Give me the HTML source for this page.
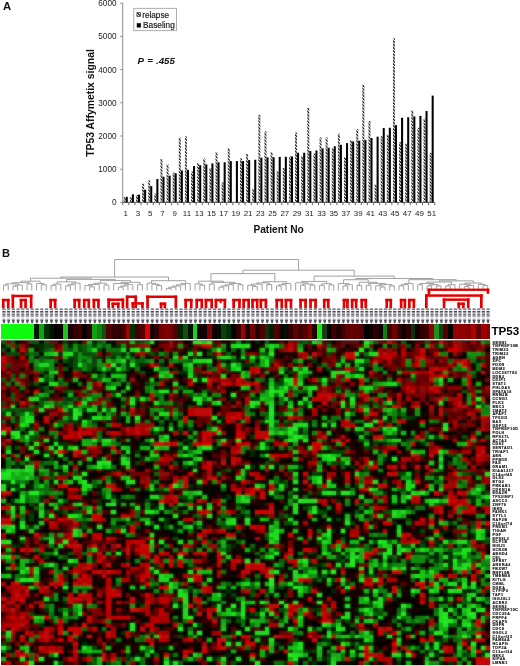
<!DOCTYPE html>
<html><head><meta charset="utf-8"><style>
html,body{margin:0;padding:0;background:#fff;}
body{width:520px;height:666px;overflow:hidden;}
svg{display:block;font-family:"Liberation Sans",sans-serif;}
svg text{filter:grayscale(1);}
</style></head><body>
<svg width="520" height="666" viewBox="0 0 520 666">
<rect width="520" height="666" fill="#fff"/>
<defs><pattern id="hat" patternUnits="userSpaceOnUse" width="2.3" height="2.3" patternTransform="rotate(-45)"><rect width="2.3" height="2.3" fill="#fff"/><rect width="1.25" height="2.3" fill="#111"/></pattern></defs><line x1="122.7" y1="3" x2="122.7" y2="202.4" stroke="#8a8a8a" stroke-width="1"/><line x1="122.7" y1="202.4" x2="434.7" y2="202.4" stroke="#555" stroke-width="1"/><line x1="120.2" y1="202.40" x2="122.7" y2="202.40" stroke="#8a8a8a" stroke-width="1"/><text x="116.5" y="205.30" font-size="8.2" text-anchor="end" fill="#222">0</text><line x1="120.2" y1="169.20" x2="122.7" y2="169.20" stroke="#8a8a8a" stroke-width="1"/><text x="116.5" y="172.10" font-size="8.2" text-anchor="end" fill="#222">1000</text><line x1="120.2" y1="136.00" x2="122.7" y2="136.00" stroke="#8a8a8a" stroke-width="1"/><text x="116.5" y="138.90" font-size="8.2" text-anchor="end" fill="#222">2000</text><line x1="120.2" y1="102.80" x2="122.7" y2="102.80" stroke="#8a8a8a" stroke-width="1"/><text x="116.5" y="105.70" font-size="8.2" text-anchor="end" fill="#222">3000</text><line x1="120.2" y1="69.60" x2="122.7" y2="69.60" stroke="#8a8a8a" stroke-width="1"/><text x="116.5" y="72.50" font-size="8.2" text-anchor="end" fill="#222">4000</text><line x1="120.2" y1="36.40" x2="122.7" y2="36.40" stroke="#8a8a8a" stroke-width="1"/><text x="116.5" y="39.30" font-size="8.2" text-anchor="end" fill="#222">5000</text><line x1="120.2" y1="3.20" x2="122.7" y2="3.20" stroke="#8a8a8a" stroke-width="1"/><text x="116.5" y="6.10" font-size="8.2" text-anchor="end" fill="#222">6000</text><line x1="122.70" y1="202.4" x2="122.70" y2="205.20000000000002" stroke="#666" stroke-width="1"/><line x1="128.82" y1="202.4" x2="128.82" y2="205.20000000000002" stroke="#666" stroke-width="1"/><line x1="134.94" y1="202.4" x2="134.94" y2="205.20000000000002" stroke="#666" stroke-width="1"/><line x1="141.05" y1="202.4" x2="141.05" y2="205.20000000000002" stroke="#666" stroke-width="1"/><line x1="147.17" y1="202.4" x2="147.17" y2="205.20000000000002" stroke="#666" stroke-width="1"/><line x1="153.29" y1="202.4" x2="153.29" y2="205.20000000000002" stroke="#666" stroke-width="1"/><line x1="159.41" y1="202.4" x2="159.41" y2="205.20000000000002" stroke="#666" stroke-width="1"/><line x1="165.53" y1="202.4" x2="165.53" y2="205.20000000000002" stroke="#666" stroke-width="1"/><line x1="171.64" y1="202.4" x2="171.64" y2="205.20000000000002" stroke="#666" stroke-width="1"/><line x1="177.76" y1="202.4" x2="177.76" y2="205.20000000000002" stroke="#666" stroke-width="1"/><line x1="183.88" y1="202.4" x2="183.88" y2="205.20000000000002" stroke="#666" stroke-width="1"/><line x1="190.00" y1="202.4" x2="190.00" y2="205.20000000000002" stroke="#666" stroke-width="1"/><line x1="196.12" y1="202.4" x2="196.12" y2="205.20000000000002" stroke="#666" stroke-width="1"/><line x1="202.23" y1="202.4" x2="202.23" y2="205.20000000000002" stroke="#666" stroke-width="1"/><line x1="208.35" y1="202.4" x2="208.35" y2="205.20000000000002" stroke="#666" stroke-width="1"/><line x1="214.47" y1="202.4" x2="214.47" y2="205.20000000000002" stroke="#666" stroke-width="1"/><line x1="220.59" y1="202.4" x2="220.59" y2="205.20000000000002" stroke="#666" stroke-width="1"/><line x1="226.71" y1="202.4" x2="226.71" y2="205.20000000000002" stroke="#666" stroke-width="1"/><line x1="232.82" y1="202.4" x2="232.82" y2="205.20000000000002" stroke="#666" stroke-width="1"/><line x1="238.94" y1="202.4" x2="238.94" y2="205.20000000000002" stroke="#666" stroke-width="1"/><line x1="245.06" y1="202.4" x2="245.06" y2="205.20000000000002" stroke="#666" stroke-width="1"/><line x1="251.18" y1="202.4" x2="251.18" y2="205.20000000000002" stroke="#666" stroke-width="1"/><line x1="257.30" y1="202.4" x2="257.30" y2="205.20000000000002" stroke="#666" stroke-width="1"/><line x1="263.41" y1="202.4" x2="263.41" y2="205.20000000000002" stroke="#666" stroke-width="1"/><line x1="269.53" y1="202.4" x2="269.53" y2="205.20000000000002" stroke="#666" stroke-width="1"/><line x1="275.65" y1="202.4" x2="275.65" y2="205.20000000000002" stroke="#666" stroke-width="1"/><line x1="281.77" y1="202.4" x2="281.77" y2="205.20000000000002" stroke="#666" stroke-width="1"/><line x1="287.89" y1="202.4" x2="287.89" y2="205.20000000000002" stroke="#666" stroke-width="1"/><line x1="294.00" y1="202.4" x2="294.00" y2="205.20000000000002" stroke="#666" stroke-width="1"/><line x1="300.12" y1="202.4" x2="300.12" y2="205.20000000000002" stroke="#666" stroke-width="1"/><line x1="306.24" y1="202.4" x2="306.24" y2="205.20000000000002" stroke="#666" stroke-width="1"/><line x1="312.36" y1="202.4" x2="312.36" y2="205.20000000000002" stroke="#666" stroke-width="1"/><line x1="318.48" y1="202.4" x2="318.48" y2="205.20000000000002" stroke="#666" stroke-width="1"/><line x1="324.59" y1="202.4" x2="324.59" y2="205.20000000000002" stroke="#666" stroke-width="1"/><line x1="330.71" y1="202.4" x2="330.71" y2="205.20000000000002" stroke="#666" stroke-width="1"/><line x1="336.83" y1="202.4" x2="336.83" y2="205.20000000000002" stroke="#666" stroke-width="1"/><line x1="342.95" y1="202.4" x2="342.95" y2="205.20000000000002" stroke="#666" stroke-width="1"/><line x1="349.07" y1="202.4" x2="349.07" y2="205.20000000000002" stroke="#666" stroke-width="1"/><line x1="355.18" y1="202.4" x2="355.18" y2="205.20000000000002" stroke="#666" stroke-width="1"/><line x1="361.30" y1="202.4" x2="361.30" y2="205.20000000000002" stroke="#666" stroke-width="1"/><line x1="367.42" y1="202.4" x2="367.42" y2="205.20000000000002" stroke="#666" stroke-width="1"/><line x1="373.54" y1="202.4" x2="373.54" y2="205.20000000000002" stroke="#666" stroke-width="1"/><line x1="379.66" y1="202.4" x2="379.66" y2="205.20000000000002" stroke="#666" stroke-width="1"/><line x1="385.77" y1="202.4" x2="385.77" y2="205.20000000000002" stroke="#666" stroke-width="1"/><line x1="391.89" y1="202.4" x2="391.89" y2="205.20000000000002" stroke="#666" stroke-width="1"/><line x1="398.01" y1="202.4" x2="398.01" y2="205.20000000000002" stroke="#666" stroke-width="1"/><line x1="404.13" y1="202.4" x2="404.13" y2="205.20000000000002" stroke="#666" stroke-width="1"/><line x1="410.25" y1="202.4" x2="410.25" y2="205.20000000000002" stroke="#666" stroke-width="1"/><line x1="416.36" y1="202.4" x2="416.36" y2="205.20000000000002" stroke="#666" stroke-width="1"/><line x1="422.48" y1="202.4" x2="422.48" y2="205.20000000000002" stroke="#666" stroke-width="1"/><line x1="428.60" y1="202.4" x2="428.60" y2="205.20000000000002" stroke="#666" stroke-width="1"/><line x1="434.72" y1="202.4" x2="434.72" y2="205.20000000000002" stroke="#666" stroke-width="1"/><rect x="123.75" y="196.97" width="2.0" height="5.43" fill="url(#hat)"/><rect x="125.75" y="196.81" width="2.05" height="5.59" fill="#000"/><text x="125.76" y="216.4" font-size="7.9" text-anchor="middle" fill="#222">1</text><rect x="129.87" y="197.30" width="2.0" height="5.10" fill="url(#hat)"/><rect x="131.87" y="194.37" width="2.05" height="8.03" fill="#000"/><rect x="135.99" y="195.03" width="2.0" height="7.37" fill="url(#hat)"/><rect x="137.99" y="194.64" width="2.05" height="7.76" fill="#000"/><text x="138.00" y="216.4" font-size="7.9" text-anchor="middle" fill="#222">3</text><rect x="142.10" y="183.68" width="2.0" height="18.72" fill="url(#hat)"/><rect x="144.10" y="189.70" width="2.05" height="12.70" fill="#000"/><rect x="148.22" y="180.36" width="2.0" height="22.04" fill="url(#hat)"/><rect x="150.22" y="186.08" width="2.05" height="16.32" fill="#000"/><text x="150.23" y="216.4" font-size="7.9" text-anchor="middle" fill="#222">5</text><rect x="154.34" y="193.71" width="2.0" height="8.69" fill="url(#hat)"/><rect x="156.34" y="179.01" width="2.05" height="23.39" fill="#000"/><rect x="160.46" y="158.94" width="2.0" height="43.46" fill="url(#hat)"/><rect x="162.46" y="176.74" width="2.05" height="25.66" fill="#000"/><text x="162.47" y="216.4" font-size="7.9" text-anchor="middle" fill="#222">7</text><rect x="166.58" y="164.30" width="2.0" height="38.10" fill="url(#hat)"/><rect x="168.58" y="175.65" width="2.05" height="26.75" fill="#000"/><rect x="172.69" y="172.72" width="2.0" height="29.68" fill="url(#hat)"/><rect x="174.69" y="173.25" width="2.05" height="29.15" fill="#000"/><text x="174.70" y="216.4" font-size="7.9" text-anchor="middle" fill="#222">9</text><rect x="178.81" y="137.49" width="2.0" height="64.91" fill="url(#hat)"/><rect x="180.81" y="170.42" width="2.05" height="31.98" fill="#000"/><rect x="184.93" y="136.44" width="2.0" height="65.96" fill="url(#hat)"/><rect x="186.93" y="169.83" width="2.05" height="32.57" fill="#000"/><text x="186.94" y="216.4" font-size="7.9" text-anchor="middle" fill="#222">11</text><rect x="191.05" y="171.64" width="2.0" height="30.76" fill="url(#hat)"/><rect x="193.05" y="166.05" width="2.05" height="36.35" fill="#000"/><rect x="197.17" y="163.05" width="2.0" height="39.35" fill="url(#hat)"/><rect x="199.17" y="165.22" width="2.05" height="37.18" fill="#000"/><text x="199.17" y="216.4" font-size="7.9" text-anchor="middle" fill="#222">13</text><rect x="203.28" y="158.41" width="2.0" height="43.99" fill="url(#hat)"/><rect x="205.28" y="164.37" width="2.05" height="38.03" fill="#000"/><rect x="209.40" y="168.02" width="2.0" height="34.38" fill="url(#hat)"/><rect x="211.40" y="163.38" width="2.05" height="39.02" fill="#000"/><text x="211.41" y="216.4" font-size="7.9" text-anchor="middle" fill="#222">15</text><rect x="215.52" y="152.29" width="2.0" height="50.11" fill="url(#hat)"/><rect x="217.52" y="162.23" width="2.05" height="40.17" fill="#000"/><rect x="221.64" y="182.40" width="2.0" height="20.00" fill="url(#hat)"/><rect x="223.64" y="162.23" width="2.05" height="40.17" fill="#000"/><text x="223.65" y="216.4" font-size="7.9" text-anchor="middle" fill="#222">17</text><rect x="227.76" y="148.18" width="2.0" height="54.22" fill="url(#hat)"/><rect x="229.76" y="161.08" width="2.05" height="41.32" fill="#000"/><rect x="235.87" y="161.08" width="2.05" height="41.32" fill="#000"/><text x="235.88" y="216.4" font-size="7.9" text-anchor="middle" fill="#222">19</text><rect x="239.99" y="158.41" width="2.0" height="43.99" fill="url(#hat)"/><rect x="241.99" y="161.08" width="2.05" height="41.32" fill="#000"/><rect x="246.11" y="153.97" width="2.0" height="48.43" fill="url(#hat)"/><rect x="248.11" y="160.09" width="2.05" height="42.31" fill="#000"/><text x="248.12" y="216.4" font-size="7.9" text-anchor="middle" fill="#222">21</text><rect x="252.23" y="189.17" width="2.0" height="13.23" fill="url(#hat)"/><rect x="254.23" y="159.76" width="2.05" height="42.64" fill="#000"/><rect x="258.35" y="114.79" width="2.0" height="87.61" fill="url(#hat)"/><rect x="260.35" y="157.75" width="2.05" height="44.65" fill="#000"/><text x="260.36" y="216.4" font-size="7.9" text-anchor="middle" fill="#222">23</text><rect x="264.46" y="131.34" width="2.0" height="71.06" fill="url(#hat)"/><rect x="266.46" y="157.26" width="2.05" height="45.14" fill="#000"/><rect x="270.58" y="152.29" width="2.0" height="50.11" fill="url(#hat)"/><rect x="272.58" y="157.26" width="2.05" height="45.14" fill="#000"/><text x="272.59" y="216.4" font-size="7.9" text-anchor="middle" fill="#222">25</text><rect x="276.70" y="171.31" width="2.0" height="31.09" fill="url(#hat)"/><rect x="278.70" y="156.93" width="2.05" height="45.47" fill="#000"/><rect x="282.82" y="168.02" width="2.0" height="34.38" fill="url(#hat)"/><rect x="284.82" y="156.77" width="2.05" height="45.63" fill="#000"/><text x="284.83" y="216.4" font-size="7.9" text-anchor="middle" fill="#222">27</text><rect x="288.94" y="156.44" width="2.0" height="45.96" fill="url(#hat)"/><rect x="290.94" y="156.44" width="2.05" height="45.96" fill="#000"/><rect x="295.05" y="132.45" width="2.0" height="69.95" fill="url(#hat)"/><rect x="297.05" y="152.79" width="2.05" height="49.61" fill="#000"/><text x="297.06" y="216.4" font-size="7.9" text-anchor="middle" fill="#222">29</text><rect x="301.17" y="156.01" width="2.0" height="46.39" fill="url(#hat)"/><rect x="303.17" y="152.72" width="2.05" height="49.68" fill="#000"/><rect x="307.29" y="107.98" width="2.0" height="94.42" fill="url(#hat)"/><rect x="309.29" y="151.08" width="2.05" height="51.32" fill="#000"/><text x="309.30" y="216.4" font-size="7.9" text-anchor="middle" fill="#222">31</text><rect x="313.41" y="153.64" width="2.0" height="48.76" fill="url(#hat)"/><rect x="315.41" y="150.48" width="2.05" height="51.92" fill="#000"/><rect x="319.53" y="137.46" width="2.0" height="64.94" fill="url(#hat)"/><rect x="321.53" y="148.38" width="2.05" height="54.02" fill="#000"/><text x="321.54" y="216.4" font-size="7.9" text-anchor="middle" fill="#222">33</text><rect x="325.64" y="137.46" width="2.0" height="64.94" fill="url(#hat)"/><rect x="327.64" y="147.75" width="2.05" height="54.65" fill="#000"/><rect x="331.76" y="148.38" width="2.0" height="54.02" fill="url(#hat)"/><rect x="333.76" y="146.27" width="2.05" height="56.13" fill="#000"/><text x="333.77" y="216.4" font-size="7.9" text-anchor="middle" fill="#222">35</text><rect x="337.88" y="133.67" width="2.0" height="68.73" fill="url(#hat)"/><rect x="339.88" y="144.79" width="2.05" height="57.61" fill="#000"/><rect x="344.00" y="157.43" width="2.0" height="44.97" fill="url(#hat)"/><rect x="346.00" y="143.11" width="2.05" height="59.29" fill="#000"/><text x="346.01" y="216.4" font-size="7.9" text-anchor="middle" fill="#222">37</text><rect x="350.12" y="139.96" width="2.0" height="62.44" fill="url(#hat)"/><rect x="352.12" y="141.44" width="2.05" height="60.96" fill="#000"/><rect x="356.23" y="129.03" width="2.0" height="73.37" fill="url(#hat)"/><rect x="358.23" y="140.68" width="2.05" height="61.72" fill="#000"/><text x="358.24" y="216.4" font-size="7.9" text-anchor="middle" fill="#222">39</text><rect x="362.35" y="84.95" width="2.0" height="117.45" fill="url(#hat)"/><rect x="364.35" y="140.05" width="2.05" height="62.35" fill="#000"/><rect x="368.47" y="121.04" width="2.0" height="81.36" fill="url(#hat)"/><rect x="370.47" y="138.05" width="2.05" height="64.35" fill="#000"/><text x="370.48" y="216.4" font-size="7.9" text-anchor="middle" fill="#222">41</text><rect x="374.59" y="184.57" width="2.0" height="17.83" fill="url(#hat)"/><rect x="376.59" y="136.70" width="2.05" height="65.70" fill="#000"/><rect x="380.71" y="136.17" width="2.0" height="66.23" fill="url(#hat)"/><rect x="382.71" y="128.05" width="2.05" height="74.35" fill="#000"/><text x="382.72" y="216.4" font-size="7.9" text-anchor="middle" fill="#222">43</text><rect x="386.82" y="134.82" width="2.0" height="67.58" fill="url(#hat)"/><rect x="388.82" y="127.78" width="2.05" height="74.62" fill="#000"/><rect x="392.94" y="38.39" width="2.0" height="164.01" fill="url(#hat)"/><rect x="394.94" y="125.09" width="2.05" height="77.31" fill="#000"/><text x="394.95" y="216.4" font-size="7.9" text-anchor="middle" fill="#222">45</text><rect x="399.06" y="142.13" width="2.0" height="60.27" fill="url(#hat)"/><rect x="401.06" y="117.78" width="2.05" height="84.62" fill="#000"/><rect x="405.18" y="143.48" width="2.0" height="58.92" fill="url(#hat)"/><rect x="407.18" y="117.25" width="2.05" height="85.15" fill="#000"/><text x="407.19" y="216.4" font-size="7.9" text-anchor="middle" fill="#222">47</text><rect x="411.30" y="110.48" width="2.0" height="91.92" fill="url(#hat)"/><rect x="413.30" y="116.43" width="2.05" height="85.97" fill="#000"/><rect x="417.41" y="127.78" width="2.0" height="74.62" fill="url(#hat)"/><rect x="419.41" y="115.91" width="2.05" height="86.49" fill="#000"/><text x="419.42" y="216.4" font-size="7.9" text-anchor="middle" fill="#222">49</text><rect x="423.53" y="118.60" width="2.0" height="83.80" fill="url(#hat)"/><rect x="425.53" y="111.04" width="2.05" height="91.36" fill="#000"/><rect x="429.65" y="152.92" width="2.0" height="49.48" fill="url(#hat)"/><rect x="431.65" y="95.61" width="2.05" height="106.79" fill="#000"/><text x="431.66" y="216.4" font-size="7.9" text-anchor="middle" fill="#222">51</text><rect x="133.8" y="8.3" width="42.6" height="22.4" fill="#fff" stroke="#999" stroke-width="0.8"/><rect x="136.9" y="12.7" width="3.7" height="3.7" fill="url(#hat)" stroke="#222" stroke-width="0.6"/><rect x="136.8" y="23.2" width="4.1" height="4.3" fill="#000"/><text x="142.2" y="17.8" font-size="8.2" fill="#111" stroke="#111" stroke-width="0.15">relapse</text><text x="143.0" y="28.4" font-size="8.3" fill="#111" stroke="#111" stroke-width="0.15">Baseling</text><text x="137.4" y="63.6" font-size="9.7" font-weight="bold" font-style="italic" fill="#111">P</text><text x="147.2" y="63.6" font-size="9.7" font-weight="bold" font-style="italic" fill="#111">=</text><text x="156.0" y="63.6" font-size="9.7" font-weight="bold" font-style="italic" fill="#111">.455</text><text x="278.6" y="232.6" font-size="10.2" font-weight="bold" text-anchor="middle" fill="#111">Patient No</text><text transform="translate(94.4,103) rotate(-90)" x="0" y="0" font-size="10.4" font-weight="bold" text-anchor="middle" fill="#111">TP53 Affymetix signal</text><text x="2.9" y="10.2" font-size="11.3" font-weight="bold" fill="#111">A</text><text x="2.0" y="256.6" font-size="11" font-weight="bold" fill="#111">B</text><line x1="3.55" y1="285.07" x2="8.25" y2="285.07" stroke="#8a8a8a" stroke-width="0.8"/><line x1="3.55" y1="285.07" x2="3.55" y2="290.50" stroke="#8a8a8a" stroke-width="0.8"/><line x1="8.25" y1="285.07" x2="8.25" y2="290.50" stroke="#8a8a8a" stroke-width="0.8"/><line x1="12.95" y1="286.27" x2="17.65" y2="286.27" stroke="#8a8a8a" stroke-width="0.8"/><line x1="12.95" y1="286.27" x2="12.95" y2="290.50" stroke="#8a8a8a" stroke-width="0.8"/><line x1="17.65" y1="286.27" x2="17.65" y2="290.50" stroke="#8a8a8a" stroke-width="0.8"/><line x1="15.30" y1="285.07" x2="22.35" y2="285.07" stroke="#8a8a8a" stroke-width="0.8"/><line x1="15.30" y1="285.07" x2="15.30" y2="286.27" stroke="#8a8a8a" stroke-width="0.8"/><line x1="22.35" y1="285.07" x2="22.35" y2="290.50" stroke="#8a8a8a" stroke-width="0.8"/><line x1="5.90" y1="283.87" x2="18.82" y2="283.87" stroke="#8a8a8a" stroke-width="0.8"/><line x1="5.90" y1="283.87" x2="5.90" y2="285.07" stroke="#8a8a8a" stroke-width="0.8"/><line x1="18.82" y1="283.87" x2="18.82" y2="285.07" stroke="#8a8a8a" stroke-width="0.8"/><line x1="27.05" y1="283.87" x2="31.75" y2="283.87" stroke="#8a8a8a" stroke-width="0.8"/><line x1="27.05" y1="283.87" x2="27.05" y2="290.50" stroke="#8a8a8a" stroke-width="0.8"/><line x1="31.75" y1="283.87" x2="31.75" y2="290.50" stroke="#8a8a8a" stroke-width="0.8"/><line x1="12.36" y1="282.67" x2="29.40" y2="282.67" stroke="#8a8a8a" stroke-width="0.8"/><line x1="12.36" y1="282.67" x2="12.36" y2="283.87" stroke="#8a8a8a" stroke-width="0.8"/><line x1="29.40" y1="282.67" x2="29.40" y2="283.87" stroke="#8a8a8a" stroke-width="0.8"/><line x1="41.39" y1="284.75" x2="46.24" y2="284.75" stroke="#8a8a8a" stroke-width="0.8"/><line x1="41.39" y1="284.75" x2="41.39" y2="290.50" stroke="#8a8a8a" stroke-width="0.8"/><line x1="46.24" y1="284.75" x2="46.24" y2="290.50" stroke="#8a8a8a" stroke-width="0.8"/><line x1="36.53" y1="283.55" x2="43.81" y2="283.55" stroke="#8a8a8a" stroke-width="0.8"/><line x1="36.53" y1="283.55" x2="36.53" y2="290.50" stroke="#8a8a8a" stroke-width="0.8"/><line x1="43.81" y1="283.55" x2="43.81" y2="284.75" stroke="#8a8a8a" stroke-width="0.8"/><line x1="20.88" y1="281.18" x2="40.17" y2="281.18" stroke="#8a8a8a" stroke-width="0.8"/><line x1="20.88" y1="281.18" x2="20.88" y2="282.67" stroke="#8a8a8a" stroke-width="0.8"/><line x1="40.17" y1="281.18" x2="40.17" y2="283.55" stroke="#8a8a8a" stroke-width="0.8"/><line x1="51.10" y1="285.33" x2="55.96" y2="285.33" stroke="#8a8a8a" stroke-width="0.8"/><line x1="51.10" y1="285.33" x2="51.10" y2="290.50" stroke="#8a8a8a" stroke-width="0.8"/><line x1="55.96" y1="285.33" x2="55.96" y2="290.50" stroke="#8a8a8a" stroke-width="0.8"/><line x1="53.53" y1="284.13" x2="60.81" y2="284.13" stroke="#8a8a8a" stroke-width="0.8"/><line x1="53.53" y1="284.13" x2="53.53" y2="285.33" stroke="#8a8a8a" stroke-width="0.8"/><line x1="60.81" y1="284.13" x2="60.81" y2="290.50" stroke="#8a8a8a" stroke-width="0.8"/><line x1="65.67" y1="285.85" x2="70.50" y2="285.85" stroke="#8a8a8a" stroke-width="0.8"/><line x1="65.67" y1="285.85" x2="65.67" y2="290.50" stroke="#8a8a8a" stroke-width="0.8"/><line x1="70.50" y1="285.85" x2="70.50" y2="290.50" stroke="#8a8a8a" stroke-width="0.8"/><line x1="68.08" y1="284.65" x2="75.29" y2="284.65" stroke="#8a8a8a" stroke-width="0.8"/><line x1="68.08" y1="284.65" x2="68.08" y2="285.85" stroke="#8a8a8a" stroke-width="0.8"/><line x1="75.29" y1="284.65" x2="75.29" y2="290.50" stroke="#8a8a8a" stroke-width="0.8"/><line x1="71.68" y1="283.16" x2="80.08" y2="283.16" stroke="#8a8a8a" stroke-width="0.8"/><line x1="71.68" y1="283.16" x2="71.68" y2="284.65" stroke="#8a8a8a" stroke-width="0.8"/><line x1="80.08" y1="283.16" x2="80.08" y2="290.50" stroke="#8a8a8a" stroke-width="0.8"/><line x1="57.17" y1="281.87" x2="75.88" y2="281.87" stroke="#8a8a8a" stroke-width="0.8"/><line x1="57.17" y1="281.87" x2="57.17" y2="284.13" stroke="#8a8a8a" stroke-width="0.8"/><line x1="75.88" y1="281.87" x2="75.88" y2="283.16" stroke="#8a8a8a" stroke-width="0.8"/><line x1="89.66" y1="286.82" x2="94.45" y2="286.82" stroke="#8a8a8a" stroke-width="0.8"/><line x1="89.66" y1="286.82" x2="89.66" y2="290.50" stroke="#8a8a8a" stroke-width="0.8"/><line x1="94.45" y1="286.82" x2="94.45" y2="290.50" stroke="#8a8a8a" stroke-width="0.8"/><line x1="84.87" y1="285.62" x2="92.05" y2="285.62" stroke="#8a8a8a" stroke-width="0.8"/><line x1="84.87" y1="285.62" x2="84.87" y2="290.50" stroke="#8a8a8a" stroke-width="0.8"/><line x1="92.05" y1="285.62" x2="92.05" y2="286.82" stroke="#8a8a8a" stroke-width="0.8"/><line x1="88.46" y1="284.42" x2="99.24" y2="284.42" stroke="#8a8a8a" stroke-width="0.8"/><line x1="88.46" y1="284.42" x2="88.46" y2="285.62" stroke="#8a8a8a" stroke-width="0.8"/><line x1="99.24" y1="284.42" x2="99.24" y2="290.50" stroke="#8a8a8a" stroke-width="0.8"/><line x1="104.03" y1="285.09" x2="108.82" y2="285.09" stroke="#8a8a8a" stroke-width="0.8"/><line x1="104.03" y1="285.09" x2="104.03" y2="290.50" stroke="#8a8a8a" stroke-width="0.8"/><line x1="108.82" y1="285.09" x2="108.82" y2="290.50" stroke="#8a8a8a" stroke-width="0.8"/><line x1="93.85" y1="283.22" x2="106.42" y2="283.22" stroke="#8a8a8a" stroke-width="0.8"/><line x1="93.85" y1="283.22" x2="93.85" y2="284.42" stroke="#8a8a8a" stroke-width="0.8"/><line x1="106.42" y1="283.22" x2="106.42" y2="285.09" stroke="#8a8a8a" stroke-width="0.8"/><line x1="118.40" y1="287.13" x2="123.19" y2="287.13" stroke="#8a8a8a" stroke-width="0.8"/><line x1="118.40" y1="287.13" x2="118.40" y2="290.50" stroke="#8a8a8a" stroke-width="0.8"/><line x1="123.19" y1="287.13" x2="123.19" y2="290.50" stroke="#8a8a8a" stroke-width="0.8"/><line x1="120.80" y1="285.93" x2="127.98" y2="285.93" stroke="#8a8a8a" stroke-width="0.8"/><line x1="120.80" y1="285.93" x2="120.80" y2="287.13" stroke="#8a8a8a" stroke-width="0.8"/><line x1="127.98" y1="285.93" x2="127.98" y2="290.50" stroke="#8a8a8a" stroke-width="0.8"/><line x1="124.39" y1="284.73" x2="132.77" y2="284.73" stroke="#8a8a8a" stroke-width="0.8"/><line x1="124.39" y1="284.73" x2="124.39" y2="285.93" stroke="#8a8a8a" stroke-width="0.8"/><line x1="132.77" y1="284.73" x2="132.77" y2="290.50" stroke="#8a8a8a" stroke-width="0.8"/><line x1="113.61" y1="283.53" x2="128.58" y2="283.53" stroke="#8a8a8a" stroke-width="0.8"/><line x1="113.61" y1="283.53" x2="113.61" y2="290.50" stroke="#8a8a8a" stroke-width="0.8"/><line x1="128.58" y1="283.53" x2="128.58" y2="284.73" stroke="#8a8a8a" stroke-width="0.8"/><line x1="137.56" y1="284.61" x2="142.35" y2="284.61" stroke="#8a8a8a" stroke-width="0.8"/><line x1="137.56" y1="284.61" x2="137.56" y2="290.50" stroke="#8a8a8a" stroke-width="0.8"/><line x1="142.35" y1="284.61" x2="142.35" y2="290.50" stroke="#8a8a8a" stroke-width="0.8"/><line x1="121.09" y1="282.33" x2="139.96" y2="282.33" stroke="#8a8a8a" stroke-width="0.8"/><line x1="121.09" y1="282.33" x2="121.09" y2="283.53" stroke="#8a8a8a" stroke-width="0.8"/><line x1="139.96" y1="282.33" x2="139.96" y2="284.61" stroke="#8a8a8a" stroke-width="0.8"/><line x1="100.14" y1="280.60" x2="130.53" y2="280.60" stroke="#8a8a8a" stroke-width="0.8"/><line x1="100.14" y1="280.60" x2="100.14" y2="283.22" stroke="#8a8a8a" stroke-width="0.8"/><line x1="130.53" y1="280.60" x2="130.53" y2="282.33" stroke="#8a8a8a" stroke-width="0.8"/><line x1="66.53" y1="279.40" x2="115.33" y2="279.40" stroke="#8a8a8a" stroke-width="0.8"/><line x1="66.53" y1="279.40" x2="66.53" y2="281.87" stroke="#8a8a8a" stroke-width="0.8"/><line x1="115.33" y1="279.40" x2="115.33" y2="280.60" stroke="#8a8a8a" stroke-width="0.8"/><line x1="30.53" y1="278.20" x2="90.93" y2="278.20" stroke="#8a8a8a" stroke-width="0.8"/><line x1="30.53" y1="278.20" x2="30.53" y2="281.18" stroke="#8a8a8a" stroke-width="0.8"/><line x1="90.93" y1="278.20" x2="90.93" y2="279.40" stroke="#8a8a8a" stroke-width="0.8"/><line x1="156.72" y1="285.54" x2="161.51" y2="285.54" stroke="#8a8a8a" stroke-width="0.8"/><line x1="156.72" y1="285.54" x2="156.72" y2="290.50" stroke="#8a8a8a" stroke-width="0.8"/><line x1="161.51" y1="285.54" x2="161.51" y2="290.50" stroke="#8a8a8a" stroke-width="0.8"/><line x1="151.93" y1="284.34" x2="159.12" y2="284.34" stroke="#8a8a8a" stroke-width="0.8"/><line x1="151.93" y1="284.34" x2="151.93" y2="290.50" stroke="#8a8a8a" stroke-width="0.8"/><line x1="159.12" y1="284.34" x2="159.12" y2="285.54" stroke="#8a8a8a" stroke-width="0.8"/><line x1="147.14" y1="283.14" x2="155.53" y2="283.14" stroke="#8a8a8a" stroke-width="0.8"/><line x1="147.14" y1="283.14" x2="147.14" y2="290.50" stroke="#8a8a8a" stroke-width="0.8"/><line x1="155.53" y1="283.14" x2="155.53" y2="284.34" stroke="#8a8a8a" stroke-width="0.8"/><line x1="166.30" y1="288.40" x2="171.10" y2="288.40" stroke="#8a8a8a" stroke-width="0.8"/><line x1="166.30" y1="288.40" x2="166.30" y2="290.50" stroke="#8a8a8a" stroke-width="0.8"/><line x1="171.10" y1="288.40" x2="171.10" y2="290.50" stroke="#8a8a8a" stroke-width="0.8"/><line x1="168.70" y1="287.20" x2="175.89" y2="287.20" stroke="#8a8a8a" stroke-width="0.8"/><line x1="168.70" y1="287.20" x2="168.70" y2="288.40" stroke="#8a8a8a" stroke-width="0.8"/><line x1="175.89" y1="287.20" x2="175.89" y2="290.50" stroke="#8a8a8a" stroke-width="0.8"/><line x1="172.29" y1="286.00" x2="180.68" y2="286.00" stroke="#8a8a8a" stroke-width="0.8"/><line x1="172.29" y1="286.00" x2="172.29" y2="287.20" stroke="#8a8a8a" stroke-width="0.8"/><line x1="180.68" y1="286.00" x2="180.68" y2="290.50" stroke="#8a8a8a" stroke-width="0.8"/><line x1="176.48" y1="284.80" x2="185.47" y2="284.80" stroke="#8a8a8a" stroke-width="0.8"/><line x1="176.48" y1="284.80" x2="176.48" y2="286.00" stroke="#8a8a8a" stroke-width="0.8"/><line x1="185.47" y1="284.80" x2="185.47" y2="290.50" stroke="#8a8a8a" stroke-width="0.8"/><line x1="180.98" y1="283.60" x2="190.26" y2="283.60" stroke="#8a8a8a" stroke-width="0.8"/><line x1="180.98" y1="283.60" x2="180.98" y2="284.80" stroke="#8a8a8a" stroke-width="0.8"/><line x1="190.26" y1="283.60" x2="190.26" y2="290.50" stroke="#8a8a8a" stroke-width="0.8"/><line x1="151.33" y1="280.70" x2="185.62" y2="280.70" stroke="#8a8a8a" stroke-width="0.8"/><line x1="151.33" y1="280.70" x2="151.33" y2="283.14" stroke="#8a8a8a" stroke-width="0.8"/><line x1="185.62" y1="280.70" x2="185.62" y2="283.60" stroke="#8a8a8a" stroke-width="0.8"/><line x1="60.73" y1="277.00" x2="168.48" y2="277.00" stroke="#8a8a8a" stroke-width="0.8"/><line x1="60.73" y1="277.00" x2="60.73" y2="278.20" stroke="#8a8a8a" stroke-width="0.8"/><line x1="168.48" y1="277.00" x2="168.48" y2="280.70" stroke="#8a8a8a" stroke-width="0.8"/><line x1="199.84" y1="285.14" x2="204.63" y2="285.14" stroke="#8a8a8a" stroke-width="0.8"/><line x1="199.84" y1="285.14" x2="199.84" y2="290.50" stroke="#8a8a8a" stroke-width="0.8"/><line x1="204.63" y1="285.14" x2="204.63" y2="290.50" stroke="#8a8a8a" stroke-width="0.8"/><line x1="195.05" y1="283.94" x2="202.23" y2="283.94" stroke="#8a8a8a" stroke-width="0.8"/><line x1="195.05" y1="283.94" x2="195.05" y2="290.50" stroke="#8a8a8a" stroke-width="0.8"/><line x1="202.23" y1="283.94" x2="202.23" y2="285.14" stroke="#8a8a8a" stroke-width="0.8"/><line x1="209.42" y1="284.09" x2="214.21" y2="284.09" stroke="#8a8a8a" stroke-width="0.8"/><line x1="209.42" y1="284.09" x2="209.42" y2="290.50" stroke="#8a8a8a" stroke-width="0.8"/><line x1="214.21" y1="284.09" x2="214.21" y2="290.50" stroke="#8a8a8a" stroke-width="0.8"/><line x1="219.00" y1="287.16" x2="223.79" y2="287.16" stroke="#8a8a8a" stroke-width="0.8"/><line x1="219.00" y1="287.16" x2="219.00" y2="290.50" stroke="#8a8a8a" stroke-width="0.8"/><line x1="223.79" y1="287.16" x2="223.79" y2="290.50" stroke="#8a8a8a" stroke-width="0.8"/><line x1="221.40" y1="285.96" x2="228.58" y2="285.96" stroke="#8a8a8a" stroke-width="0.8"/><line x1="221.40" y1="285.96" x2="221.40" y2="287.16" stroke="#8a8a8a" stroke-width="0.8"/><line x1="228.58" y1="285.96" x2="228.58" y2="290.50" stroke="#8a8a8a" stroke-width="0.8"/><line x1="224.99" y1="284.76" x2="233.37" y2="284.76" stroke="#8a8a8a" stroke-width="0.8"/><line x1="224.99" y1="284.76" x2="224.99" y2="285.96" stroke="#8a8a8a" stroke-width="0.8"/><line x1="233.37" y1="284.76" x2="233.37" y2="290.50" stroke="#8a8a8a" stroke-width="0.8"/><line x1="238.16" y1="284.76" x2="242.95" y2="284.76" stroke="#8a8a8a" stroke-width="0.8"/><line x1="238.16" y1="284.76" x2="238.16" y2="290.50" stroke="#8a8a8a" stroke-width="0.8"/><line x1="242.95" y1="284.76" x2="242.95" y2="290.50" stroke="#8a8a8a" stroke-width="0.8"/><line x1="229.18" y1="283.56" x2="240.56" y2="283.56" stroke="#8a8a8a" stroke-width="0.8"/><line x1="229.18" y1="283.56" x2="229.18" y2="284.76" stroke="#8a8a8a" stroke-width="0.8"/><line x1="240.56" y1="283.56" x2="240.56" y2="284.76" stroke="#8a8a8a" stroke-width="0.8"/><line x1="211.81" y1="282.36" x2="234.87" y2="282.36" stroke="#8a8a8a" stroke-width="0.8"/><line x1="211.81" y1="282.36" x2="211.81" y2="284.09" stroke="#8a8a8a" stroke-width="0.8"/><line x1="234.87" y1="282.36" x2="234.87" y2="283.56" stroke="#8a8a8a" stroke-width="0.8"/><line x1="198.64" y1="281.16" x2="223.34" y2="281.16" stroke="#8a8a8a" stroke-width="0.8"/><line x1="198.64" y1="281.16" x2="198.64" y2="283.94" stroke="#8a8a8a" stroke-width="0.8"/><line x1="223.34" y1="281.16" x2="223.34" y2="282.36" stroke="#8a8a8a" stroke-width="0.8"/><line x1="252.53" y1="286.53" x2="257.32" y2="286.53" stroke="#8a8a8a" stroke-width="0.8"/><line x1="252.53" y1="286.53" x2="252.53" y2="290.50" stroke="#8a8a8a" stroke-width="0.8"/><line x1="257.32" y1="286.53" x2="257.32" y2="290.50" stroke="#8a8a8a" stroke-width="0.8"/><line x1="247.74" y1="285.33" x2="254.93" y2="285.33" stroke="#8a8a8a" stroke-width="0.8"/><line x1="247.74" y1="285.33" x2="247.74" y2="290.50" stroke="#8a8a8a" stroke-width="0.8"/><line x1="254.93" y1="285.33" x2="254.93" y2="286.53" stroke="#8a8a8a" stroke-width="0.8"/><line x1="251.34" y1="284.13" x2="262.11" y2="284.13" stroke="#8a8a8a" stroke-width="0.8"/><line x1="251.34" y1="284.13" x2="251.34" y2="285.33" stroke="#8a8a8a" stroke-width="0.8"/><line x1="262.11" y1="284.13" x2="262.11" y2="290.50" stroke="#8a8a8a" stroke-width="0.8"/><line x1="266.90" y1="284.50" x2="271.70" y2="284.50" stroke="#8a8a8a" stroke-width="0.8"/><line x1="266.90" y1="284.50" x2="266.90" y2="290.50" stroke="#8a8a8a" stroke-width="0.8"/><line x1="271.70" y1="284.50" x2="271.70" y2="290.50" stroke="#8a8a8a" stroke-width="0.8"/><line x1="256.73" y1="282.93" x2="269.30" y2="282.93" stroke="#8a8a8a" stroke-width="0.8"/><line x1="256.73" y1="282.93" x2="256.73" y2="284.13" stroke="#8a8a8a" stroke-width="0.8"/><line x1="269.30" y1="282.93" x2="269.30" y2="284.50" stroke="#8a8a8a" stroke-width="0.8"/><line x1="276.49" y1="285.95" x2="281.28" y2="285.95" stroke="#8a8a8a" stroke-width="0.8"/><line x1="276.49" y1="285.95" x2="276.49" y2="290.50" stroke="#8a8a8a" stroke-width="0.8"/><line x1="281.28" y1="285.95" x2="281.28" y2="290.50" stroke="#8a8a8a" stroke-width="0.8"/><line x1="278.88" y1="284.75" x2="286.07" y2="284.75" stroke="#8a8a8a" stroke-width="0.8"/><line x1="278.88" y1="284.75" x2="278.88" y2="285.95" stroke="#8a8a8a" stroke-width="0.8"/><line x1="286.07" y1="284.75" x2="286.07" y2="290.50" stroke="#8a8a8a" stroke-width="0.8"/><line x1="282.48" y1="283.55" x2="290.86" y2="283.55" stroke="#8a8a8a" stroke-width="0.8"/><line x1="282.48" y1="283.55" x2="282.48" y2="284.75" stroke="#8a8a8a" stroke-width="0.8"/><line x1="290.86" y1="283.55" x2="290.86" y2="290.50" stroke="#8a8a8a" stroke-width="0.8"/><line x1="263.01" y1="281.73" x2="286.67" y2="281.73" stroke="#8a8a8a" stroke-width="0.8"/><line x1="263.01" y1="281.73" x2="263.01" y2="282.93" stroke="#8a8a8a" stroke-width="0.8"/><line x1="286.67" y1="281.73" x2="286.67" y2="283.55" stroke="#8a8a8a" stroke-width="0.8"/><line x1="210.99" y1="273.60" x2="274.84" y2="273.60" stroke="#8a8a8a" stroke-width="0.8"/><line x1="210.99" y1="273.60" x2="210.99" y2="281.16" stroke="#8a8a8a" stroke-width="0.8"/><line x1="274.84" y1="273.60" x2="274.84" y2="281.73" stroke="#8a8a8a" stroke-width="0.8"/><line x1="300.44" y1="285.16" x2="305.23" y2="285.16" stroke="#8a8a8a" stroke-width="0.8"/><line x1="300.44" y1="285.16" x2="300.44" y2="290.50" stroke="#8a8a8a" stroke-width="0.8"/><line x1="305.23" y1="285.16" x2="305.23" y2="290.50" stroke="#8a8a8a" stroke-width="0.8"/><line x1="310.02" y1="285.16" x2="314.81" y2="285.16" stroke="#8a8a8a" stroke-width="0.8"/><line x1="310.02" y1="285.16" x2="310.02" y2="290.50" stroke="#8a8a8a" stroke-width="0.8"/><line x1="314.81" y1="285.16" x2="314.81" y2="290.50" stroke="#8a8a8a" stroke-width="0.8"/><line x1="302.84" y1="283.96" x2="312.42" y2="283.96" stroke="#8a8a8a" stroke-width="0.8"/><line x1="302.84" y1="283.96" x2="302.84" y2="285.16" stroke="#8a8a8a" stroke-width="0.8"/><line x1="312.42" y1="283.96" x2="312.42" y2="285.16" stroke="#8a8a8a" stroke-width="0.8"/><line x1="295.65" y1="282.76" x2="307.63" y2="282.76" stroke="#8a8a8a" stroke-width="0.8"/><line x1="295.65" y1="282.76" x2="295.65" y2="290.50" stroke="#8a8a8a" stroke-width="0.8"/><line x1="307.63" y1="282.76" x2="307.63" y2="283.96" stroke="#8a8a8a" stroke-width="0.8"/><line x1="319.60" y1="285.36" x2="324.33" y2="285.36" stroke="#8a8a8a" stroke-width="0.8"/><line x1="319.60" y1="285.36" x2="319.60" y2="290.50" stroke="#8a8a8a" stroke-width="0.8"/><line x1="324.33" y1="285.36" x2="324.33" y2="290.50" stroke="#8a8a8a" stroke-width="0.8"/><line x1="329.00" y1="284.88" x2="333.67" y2="284.88" stroke="#8a8a8a" stroke-width="0.8"/><line x1="329.00" y1="284.88" x2="329.00" y2="290.50" stroke="#8a8a8a" stroke-width="0.8"/><line x1="333.67" y1="284.88" x2="333.67" y2="290.50" stroke="#8a8a8a" stroke-width="0.8"/><line x1="321.97" y1="283.68" x2="331.33" y2="283.68" stroke="#8a8a8a" stroke-width="0.8"/><line x1="321.97" y1="283.68" x2="321.97" y2="285.36" stroke="#8a8a8a" stroke-width="0.8"/><line x1="331.33" y1="283.68" x2="331.33" y2="284.88" stroke="#8a8a8a" stroke-width="0.8"/><line x1="301.64" y1="281.43" x2="326.65" y2="281.43" stroke="#8a8a8a" stroke-width="0.8"/><line x1="301.64" y1="281.43" x2="301.64" y2="282.76" stroke="#8a8a8a" stroke-width="0.8"/><line x1="326.65" y1="281.43" x2="326.65" y2="283.68" stroke="#8a8a8a" stroke-width="0.8"/><line x1="343.00" y1="285.96" x2="347.67" y2="285.96" stroke="#8a8a8a" stroke-width="0.8"/><line x1="343.00" y1="285.96" x2="343.00" y2="290.50" stroke="#8a8a8a" stroke-width="0.8"/><line x1="347.67" y1="285.96" x2="347.67" y2="290.50" stroke="#8a8a8a" stroke-width="0.8"/><line x1="345.33" y1="284.76" x2="352.33" y2="284.76" stroke="#8a8a8a" stroke-width="0.8"/><line x1="345.33" y1="284.76" x2="345.33" y2="285.96" stroke="#8a8a8a" stroke-width="0.8"/><line x1="352.33" y1="284.76" x2="352.33" y2="290.50" stroke="#8a8a8a" stroke-width="0.8"/><line x1="338.33" y1="283.56" x2="348.83" y2="283.56" stroke="#8a8a8a" stroke-width="0.8"/><line x1="338.33" y1="283.56" x2="338.33" y2="290.50" stroke="#8a8a8a" stroke-width="0.8"/><line x1="348.83" y1="283.56" x2="348.83" y2="284.76" stroke="#8a8a8a" stroke-width="0.8"/><line x1="357.00" y1="285.36" x2="361.67" y2="285.36" stroke="#8a8a8a" stroke-width="0.8"/><line x1="357.00" y1="285.36" x2="357.00" y2="290.50" stroke="#8a8a8a" stroke-width="0.8"/><line x1="361.67" y1="285.36" x2="361.67" y2="290.50" stroke="#8a8a8a" stroke-width="0.8"/><line x1="366.33" y1="285.19" x2="371.00" y2="285.19" stroke="#8a8a8a" stroke-width="0.8"/><line x1="366.33" y1="285.19" x2="366.33" y2="290.50" stroke="#8a8a8a" stroke-width="0.8"/><line x1="371.00" y1="285.19" x2="371.00" y2="290.50" stroke="#8a8a8a" stroke-width="0.8"/><line x1="380.33" y1="287.06" x2="385.00" y2="287.06" stroke="#8a8a8a" stroke-width="0.8"/><line x1="380.33" y1="287.06" x2="380.33" y2="290.50" stroke="#8a8a8a" stroke-width="0.8"/><line x1="385.00" y1="287.06" x2="385.00" y2="290.50" stroke="#8a8a8a" stroke-width="0.8"/><line x1="375.67" y1="285.86" x2="382.67" y2="285.86" stroke="#8a8a8a" stroke-width="0.8"/><line x1="375.67" y1="285.86" x2="375.67" y2="290.50" stroke="#8a8a8a" stroke-width="0.8"/><line x1="382.67" y1="285.86" x2="382.67" y2="287.06" stroke="#8a8a8a" stroke-width="0.8"/><line x1="389.67" y1="285.86" x2="394.33" y2="285.86" stroke="#8a8a8a" stroke-width="0.8"/><line x1="389.67" y1="285.86" x2="389.67" y2="290.50" stroke="#8a8a8a" stroke-width="0.8"/><line x1="394.33" y1="285.86" x2="394.33" y2="290.50" stroke="#8a8a8a" stroke-width="0.8"/><line x1="379.17" y1="284.66" x2="392.00" y2="284.66" stroke="#8a8a8a" stroke-width="0.8"/><line x1="379.17" y1="284.66" x2="379.17" y2="285.86" stroke="#8a8a8a" stroke-width="0.8"/><line x1="392.00" y1="284.66" x2="392.00" y2="285.86" stroke="#8a8a8a" stroke-width="0.8"/><line x1="368.67" y1="283.46" x2="385.58" y2="283.46" stroke="#8a8a8a" stroke-width="0.8"/><line x1="368.67" y1="283.46" x2="368.67" y2="285.19" stroke="#8a8a8a" stroke-width="0.8"/><line x1="385.58" y1="283.46" x2="385.58" y2="284.66" stroke="#8a8a8a" stroke-width="0.8"/><line x1="359.33" y1="282.26" x2="377.12" y2="282.26" stroke="#8a8a8a" stroke-width="0.8"/><line x1="359.33" y1="282.26" x2="359.33" y2="285.36" stroke="#8a8a8a" stroke-width="0.8"/><line x1="377.12" y1="282.26" x2="377.12" y2="283.46" stroke="#8a8a8a" stroke-width="0.8"/><line x1="343.58" y1="279.72" x2="368.23" y2="279.72" stroke="#8a8a8a" stroke-width="0.8"/><line x1="343.58" y1="279.72" x2="343.58" y2="283.56" stroke="#8a8a8a" stroke-width="0.8"/><line x1="368.23" y1="279.72" x2="368.23" y2="282.26" stroke="#8a8a8a" stroke-width="0.8"/><line x1="399.00" y1="285.83" x2="403.67" y2="285.83" stroke="#8a8a8a" stroke-width="0.8"/><line x1="399.00" y1="285.83" x2="399.00" y2="290.50" stroke="#8a8a8a" stroke-width="0.8"/><line x1="403.67" y1="285.83" x2="403.67" y2="290.50" stroke="#8a8a8a" stroke-width="0.8"/><line x1="401.33" y1="284.63" x2="408.33" y2="284.63" stroke="#8a8a8a" stroke-width="0.8"/><line x1="401.33" y1="284.63" x2="401.33" y2="285.83" stroke="#8a8a8a" stroke-width="0.8"/><line x1="408.33" y1="284.63" x2="408.33" y2="290.50" stroke="#8a8a8a" stroke-width="0.8"/><line x1="404.83" y1="283.43" x2="413.00" y2="283.43" stroke="#8a8a8a" stroke-width="0.8"/><line x1="404.83" y1="283.43" x2="404.83" y2="284.63" stroke="#8a8a8a" stroke-width="0.8"/><line x1="413.00" y1="283.43" x2="413.00" y2="290.50" stroke="#8a8a8a" stroke-width="0.8"/><line x1="417.67" y1="284.73" x2="422.33" y2="284.73" stroke="#8a8a8a" stroke-width="0.8"/><line x1="417.67" y1="284.73" x2="417.67" y2="290.50" stroke="#8a8a8a" stroke-width="0.8"/><line x1="422.33" y1="284.73" x2="422.33" y2="290.50" stroke="#8a8a8a" stroke-width="0.8"/><line x1="427.00" y1="285.93" x2="431.67" y2="285.93" stroke="#8a8a8a" stroke-width="0.8"/><line x1="427.00" y1="285.93" x2="427.00" y2="290.50" stroke="#8a8a8a" stroke-width="0.8"/><line x1="431.67" y1="285.93" x2="431.67" y2="290.50" stroke="#8a8a8a" stroke-width="0.8"/><line x1="436.33" y1="285.93" x2="441.00" y2="285.93" stroke="#8a8a8a" stroke-width="0.8"/><line x1="436.33" y1="285.93" x2="436.33" y2="290.50" stroke="#8a8a8a" stroke-width="0.8"/><line x1="441.00" y1="285.93" x2="441.00" y2="290.50" stroke="#8a8a8a" stroke-width="0.8"/><line x1="429.33" y1="284.73" x2="438.67" y2="284.73" stroke="#8a8a8a" stroke-width="0.8"/><line x1="429.33" y1="284.73" x2="429.33" y2="285.93" stroke="#8a8a8a" stroke-width="0.8"/><line x1="438.67" y1="284.73" x2="438.67" y2="285.93" stroke="#8a8a8a" stroke-width="0.8"/><line x1="420.00" y1="283.53" x2="434.00" y2="283.53" stroke="#8a8a8a" stroke-width="0.8"/><line x1="420.00" y1="283.53" x2="420.00" y2="284.73" stroke="#8a8a8a" stroke-width="0.8"/><line x1="434.00" y1="283.53" x2="434.00" y2="284.73" stroke="#8a8a8a" stroke-width="0.8"/><line x1="445.67" y1="285.90" x2="450.33" y2="285.90" stroke="#8a8a8a" stroke-width="0.8"/><line x1="445.67" y1="285.90" x2="445.67" y2="290.50" stroke="#8a8a8a" stroke-width="0.8"/><line x1="450.33" y1="285.90" x2="450.33" y2="290.50" stroke="#8a8a8a" stroke-width="0.8"/><line x1="448.00" y1="284.70" x2="455.00" y2="284.70" stroke="#8a8a8a" stroke-width="0.8"/><line x1="448.00" y1="284.70" x2="448.00" y2="285.90" stroke="#8a8a8a" stroke-width="0.8"/><line x1="455.00" y1="284.70" x2="455.00" y2="290.50" stroke="#8a8a8a" stroke-width="0.8"/><line x1="427.00" y1="282.06" x2="451.50" y2="282.06" stroke="#8a8a8a" stroke-width="0.8"/><line x1="427.00" y1="282.06" x2="427.00" y2="283.53" stroke="#8a8a8a" stroke-width="0.8"/><line x1="451.50" y1="282.06" x2="451.50" y2="284.70" stroke="#8a8a8a" stroke-width="0.8"/><line x1="464.33" y1="286.65" x2="469.00" y2="286.65" stroke="#8a8a8a" stroke-width="0.8"/><line x1="464.33" y1="286.65" x2="464.33" y2="290.50" stroke="#8a8a8a" stroke-width="0.8"/><line x1="469.00" y1="286.65" x2="469.00" y2="290.50" stroke="#8a8a8a" stroke-width="0.8"/><line x1="466.67" y1="285.45" x2="473.67" y2="285.45" stroke="#8a8a8a" stroke-width="0.8"/><line x1="466.67" y1="285.45" x2="466.67" y2="286.65" stroke="#8a8a8a" stroke-width="0.8"/><line x1="473.67" y1="285.45" x2="473.67" y2="290.50" stroke="#8a8a8a" stroke-width="0.8"/><line x1="459.67" y1="284.25" x2="470.17" y2="284.25" stroke="#8a8a8a" stroke-width="0.8"/><line x1="459.67" y1="284.25" x2="459.67" y2="290.50" stroke="#8a8a8a" stroke-width="0.8"/><line x1="470.17" y1="284.25" x2="470.17" y2="285.45" stroke="#8a8a8a" stroke-width="0.8"/><line x1="483.00" y1="285.61" x2="487.67" y2="285.61" stroke="#8a8a8a" stroke-width="0.8"/><line x1="483.00" y1="285.61" x2="483.00" y2="290.50" stroke="#8a8a8a" stroke-width="0.8"/><line x1="487.67" y1="285.61" x2="487.67" y2="290.50" stroke="#8a8a8a" stroke-width="0.8"/><line x1="478.33" y1="284.41" x2="485.33" y2="284.41" stroke="#8a8a8a" stroke-width="0.8"/><line x1="478.33" y1="284.41" x2="478.33" y2="290.50" stroke="#8a8a8a" stroke-width="0.8"/><line x1="485.33" y1="284.41" x2="485.33" y2="285.61" stroke="#8a8a8a" stroke-width="0.8"/><line x1="464.92" y1="283.05" x2="481.83" y2="283.05" stroke="#8a8a8a" stroke-width="0.8"/><line x1="464.92" y1="283.05" x2="464.92" y2="284.25" stroke="#8a8a8a" stroke-width="0.8"/><line x1="481.83" y1="283.05" x2="481.83" y2="284.41" stroke="#8a8a8a" stroke-width="0.8"/><line x1="439.25" y1="280.86" x2="473.38" y2="280.86" stroke="#8a8a8a" stroke-width="0.8"/><line x1="439.25" y1="280.86" x2="439.25" y2="282.06" stroke="#8a8a8a" stroke-width="0.8"/><line x1="473.38" y1="280.86" x2="473.38" y2="283.05" stroke="#8a8a8a" stroke-width="0.8"/><line x1="408.92" y1="279.66" x2="456.31" y2="279.66" stroke="#8a8a8a" stroke-width="0.8"/><line x1="408.92" y1="279.66" x2="408.92" y2="283.43" stroke="#8a8a8a" stroke-width="0.8"/><line x1="456.31" y1="279.66" x2="456.31" y2="280.86" stroke="#8a8a8a" stroke-width="0.8"/><line x1="355.91" y1="278.46" x2="432.61" y2="278.46" stroke="#8a8a8a" stroke-width="0.8"/><line x1="355.91" y1="278.46" x2="355.91" y2="279.72" stroke="#8a8a8a" stroke-width="0.8"/><line x1="432.61" y1="278.46" x2="432.61" y2="279.66" stroke="#8a8a8a" stroke-width="0.8"/><line x1="314.14" y1="276.10" x2="394.26" y2="276.10" stroke="#8a8a8a" stroke-width="0.8"/><line x1="314.14" y1="276.10" x2="314.14" y2="281.43" stroke="#8a8a8a" stroke-width="0.8"/><line x1="394.26" y1="276.10" x2="394.26" y2="278.46" stroke="#8a8a8a" stroke-width="0.8"/><line x1="242.92" y1="270.20" x2="354.20" y2="270.20" stroke="#8a8a8a" stroke-width="0.8"/><line x1="242.92" y1="270.20" x2="242.92" y2="273.60" stroke="#8a8a8a" stroke-width="0.8"/><line x1="354.20" y1="270.20" x2="354.20" y2="276.10" stroke="#8a8a8a" stroke-width="0.8"/><line x1="114.60" y1="259.50" x2="298.56" y2="259.50" stroke="#8a8a8a" stroke-width="0.8"/><line x1="114.60" y1="259.50" x2="114.60" y2="277.00" stroke="#8a8a8a" stroke-width="0.8"/><line x1="298.56" y1="259.50" x2="298.56" y2="270.20" stroke="#8a8a8a" stroke-width="0.8"/><rect x="1.90" y="298.80" width="7.70" height="2.5" fill="#e40000"/><rect x="1.90" y="298.80" width="2.7" height="9.50" fill="#e40000"/><rect x="6.90" y="298.80" width="2.7" height="9.50" fill="#e40000"/><rect x="11.50" y="294.70" width="21.00" height="2.5" fill="#e40000"/><rect x="11.50" y="294.70" width="2.7" height="13.60" fill="#e40000"/><rect x="29.80" y="294.70" width="2.7" height="13.60" fill="#e40000"/><rect x="19.70" y="298.80" width="7.20" height="2.5" fill="#e40000"/><rect x="19.70" y="298.80" width="2.7" height="9.50" fill="#e40000"/><rect x="24.20" y="298.80" width="2.7" height="9.50" fill="#e40000"/><rect x="49.30" y="298.80" width="7.20" height="2.5" fill="#e40000"/><rect x="49.30" y="298.80" width="2.7" height="9.50" fill="#e40000"/><rect x="53.80" y="298.80" width="2.7" height="9.50" fill="#e40000"/><rect x="73.30" y="298.80" width="7.20" height="2.5" fill="#e40000"/><rect x="73.30" y="298.80" width="2.7" height="9.50" fill="#e40000"/><rect x="77.80" y="298.80" width="2.7" height="9.50" fill="#e40000"/><rect x="82.90" y="298.80" width="7.20" height="2.5" fill="#e40000"/><rect x="82.90" y="298.80" width="2.7" height="9.50" fill="#e40000"/><rect x="87.40" y="298.80" width="2.7" height="9.50" fill="#e40000"/><rect x="92.50" y="298.80" width="7.30" height="2.5" fill="#e40000"/><rect x="92.50" y="298.80" width="2.7" height="9.50" fill="#e40000"/><rect x="97.10" y="298.80" width="2.7" height="9.50" fill="#e40000"/><rect x="107.30" y="298.50" width="16.90" height="2.5" fill="#e40000"/><rect x="107.30" y="298.50" width="2.7" height="9.80" fill="#e40000"/><rect x="121.50" y="298.50" width="2.7" height="9.80" fill="#e40000"/><rect x="111.50" y="302.50" width="8.10" height="2.5" fill="#e40000"/><rect x="111.50" y="302.50" width="2.7" height="5.80" fill="#e40000"/><rect x="116.90" y="302.50" width="2.7" height="5.80" fill="#e40000"/><rect x="125.80" y="295.50" width="11.20" height="2.5" fill="#e40000"/><rect x="125.80" y="295.50" width="2.7" height="12.80" fill="#e40000"/><rect x="134.30" y="295.50" width="2.7" height="12.80" fill="#e40000"/><rect x="131.50" y="302.20" width="12.30" height="2.5" fill="#e40000"/><rect x="131.50" y="302.20" width="2.7" height="6.10" fill="#e40000"/><rect x="141.10" y="302.20" width="2.7" height="6.10" fill="#e40000"/><rect x="146.20" y="295.50" width="31.00" height="2.5" fill="#e40000"/><rect x="146.20" y="295.50" width="2.7" height="12.80" fill="#e40000"/><rect x="174.50" y="295.50" width="2.7" height="12.80" fill="#e40000"/><rect x="159.70" y="302.50" width="6.50" height="2.5" fill="#e40000"/><rect x="159.70" y="302.50" width="2.7" height="5.80" fill="#e40000"/><rect x="163.50" y="302.50" width="2.7" height="5.80" fill="#e40000"/><rect x="184.30" y="298.80" width="8.30" height="2.5" fill="#e40000"/><rect x="184.30" y="298.80" width="2.7" height="9.50" fill="#e40000"/><rect x="189.90" y="298.80" width="2.7" height="9.50" fill="#e40000"/><rect x="195.40" y="298.80" width="7.70" height="2.5" fill="#e40000"/><rect x="195.40" y="298.80" width="2.7" height="9.50" fill="#e40000"/><rect x="200.40" y="298.80" width="2.7" height="9.50" fill="#e40000"/><rect x="204.60" y="298.80" width="8.40" height="2.5" fill="#e40000"/><rect x="204.60" y="298.80" width="2.7" height="9.50" fill="#e40000"/><rect x="210.30" y="298.80" width="2.7" height="9.50" fill="#e40000"/><rect x="214.60" y="298.80" width="11.60" height="2.5" fill="#e40000"/><rect x="214.60" y="298.80" width="2.7" height="9.50" fill="#e40000"/><rect x="223.50" y="298.80" width="2.7" height="9.50" fill="#e40000"/><rect x="232.30" y="298.80" width="8.50" height="2.5" fill="#e40000"/><rect x="232.30" y="298.80" width="2.7" height="9.50" fill="#e40000"/><rect x="238.10" y="298.80" width="2.7" height="9.50" fill="#e40000"/><rect x="242.30" y="298.80" width="7.70" height="2.5" fill="#e40000"/><rect x="242.30" y="298.80" width="2.7" height="9.50" fill="#e40000"/><rect x="247.30" y="298.80" width="2.7" height="9.50" fill="#e40000"/><rect x="251.20" y="298.80" width="7.30" height="2.5" fill="#e40000"/><rect x="251.20" y="298.80" width="2.7" height="9.50" fill="#e40000"/><rect x="255.80" y="298.80" width="2.7" height="9.50" fill="#e40000"/><rect x="259.50" y="298.80" width="7.70" height="2.5" fill="#e40000"/><rect x="259.50" y="298.80" width="2.7" height="9.50" fill="#e40000"/><rect x="264.50" y="298.80" width="2.7" height="9.50" fill="#e40000"/><rect x="275.40" y="298.80" width="7.70" height="2.5" fill="#e40000"/><rect x="275.40" y="298.80" width="2.7" height="9.50" fill="#e40000"/><rect x="280.40" y="298.80" width="2.7" height="9.50" fill="#e40000"/><rect x="284.60" y="298.80" width="7.70" height="2.5" fill="#e40000"/><rect x="284.60" y="298.80" width="2.7" height="9.50" fill="#e40000"/><rect x="289.60" y="298.80" width="2.7" height="9.50" fill="#e40000"/><rect x="299.20" y="298.80" width="7.70" height="2.5" fill="#e40000"/><rect x="299.20" y="298.80" width="2.7" height="9.50" fill="#e40000"/><rect x="304.20" y="298.80" width="2.7" height="9.50" fill="#e40000"/><rect x="309.20" y="298.80" width="7.70" height="2.5" fill="#e40000"/><rect x="309.20" y="298.80" width="2.7" height="9.50" fill="#e40000"/><rect x="314.20" y="298.80" width="2.7" height="9.50" fill="#e40000"/><rect x="322.90" y="298.80" width="6.70" height="2.5" fill="#e40000"/><rect x="322.90" y="298.80" width="2.7" height="9.50" fill="#e40000"/><rect x="326.90" y="298.80" width="2.7" height="9.50" fill="#e40000"/><rect x="342.70" y="298.80" width="6.10" height="2.5" fill="#e40000"/><rect x="342.70" y="298.80" width="2.7" height="9.50" fill="#e40000"/><rect x="346.10" y="298.80" width="2.7" height="9.50" fill="#e40000"/><rect x="350.80" y="298.80" width="6.70" height="2.5" fill="#e40000"/><rect x="350.80" y="298.80" width="2.7" height="9.50" fill="#e40000"/><rect x="354.80" y="298.80" width="2.7" height="9.50" fill="#e40000"/><rect x="360.40" y="298.80" width="6.70" height="2.5" fill="#e40000"/><rect x="360.40" y="298.80" width="2.7" height="9.50" fill="#e40000"/><rect x="364.40" y="298.80" width="2.7" height="9.50" fill="#e40000"/><rect x="385.40" y="298.80" width="6.70" height="2.5" fill="#e40000"/><rect x="385.40" y="298.80" width="2.7" height="9.50" fill="#e40000"/><rect x="389.40" y="298.80" width="2.7" height="9.50" fill="#e40000"/><rect x="399.80" y="298.80" width="6.40" height="2.5" fill="#e40000"/><rect x="399.80" y="298.80" width="2.7" height="9.50" fill="#e40000"/><rect x="403.50" y="298.80" width="2.7" height="9.50" fill="#e40000"/><rect x="408.00" y="298.80" width="7.20" height="2.5" fill="#e40000"/><rect x="408.00" y="298.80" width="2.7" height="9.50" fill="#e40000"/><rect x="412.50" y="298.80" width="2.7" height="9.50" fill="#e40000"/><rect x="425.00" y="294.30" width="57.70" height="2.5" fill="#e40000"/><rect x="425.00" y="294.30" width="2.7" height="14.00" fill="#e40000"/><rect x="480.00" y="294.30" width="2.7" height="14.00" fill="#e40000"/><rect x="442.70" y="298.40" width="26.90" height="2.5" fill="#e40000"/><rect x="442.70" y="298.40" width="2.7" height="9.90" fill="#e40000"/><rect x="466.90" y="298.40" width="2.7" height="9.90" fill="#e40000"/><rect x="457.40" y="302.50" width="7.30" height="2.5" fill="#e40000"/><rect x="457.40" y="302.50" width="2.7" height="5.80" fill="#e40000"/><rect x="462.00" y="302.50" width="2.7" height="5.80" fill="#e40000"/><rect x="219.6" y="298.8" width="2.0" height="4.5" fill="#e40000"/><rect x="427.6" y="288.6" width="61.6" height="2.3" fill="#e40000"/><rect x="427.6" y="288.6" width="2.6" height="6" fill="#e40000"/><rect x="486.6" y="288.6" width="2.6" height="5.2" fill="#e40000"/><rect x="2.35" y="308.4" width="3.2" height="1.5" fill="#6c7284"/><rect x="2.35" y="310.9" width="3.2" height="1.7" fill="#4a4a56"/><rect x="2.35" y="313.6" width="3.2" height="1.2" fill="#52525c"/><rect x="2.35" y="315.4" width="3.2" height="1.2" fill="#5c5c66"/><rect x="2.85" y="317.8" width="2.2" height="0.9" fill="#b0b0c0"/><path d="M2.25 319.6 L5.65 319.6 L4.65 323.2 L3.25 323.2Z" fill="#585864"/><rect x="7.05" y="308.4" width="3.2" height="1.5" fill="#6c7284"/><rect x="7.05" y="310.9" width="3.2" height="1.7" fill="#4a4a56"/><rect x="7.05" y="313.6" width="3.2" height="1.2" fill="#52525c"/><rect x="7.05" y="315.4" width="3.2" height="1.2" fill="#5c5c66"/><rect x="7.55" y="317.8" width="2.2" height="0.9" fill="#b0b0c0"/><path d="M6.95 319.6 L10.35 319.6 L9.35 323.2 L7.95 323.2Z" fill="#585864"/><rect x="11.75" y="308.4" width="3.2" height="1.5" fill="#6c7284"/><rect x="11.75" y="310.9" width="3.2" height="1.7" fill="#4a4a56"/><rect x="11.75" y="313.6" width="3.2" height="1.2" fill="#52525c"/><rect x="11.75" y="315.4" width="3.2" height="1.2" fill="#5c5c66"/><rect x="12.25" y="317.8" width="2.2" height="0.9" fill="#b0b0c0"/><path d="M11.65 319.6 L15.05 319.6 L14.05 323.2 L12.65 323.2Z" fill="#585864"/><rect x="16.45" y="308.4" width="3.2" height="1.5" fill="#6c7284"/><rect x="16.45" y="310.9" width="3.2" height="1.7" fill="#4a4a56"/><rect x="16.45" y="313.6" width="3.2" height="1.2" fill="#52525c"/><rect x="16.45" y="315.4" width="3.2" height="1.2" fill="#5c5c66"/><rect x="16.95" y="317.8" width="2.2" height="0.9" fill="#b0b0c0"/><path d="M16.35 319.6 L19.75 319.6 L18.75 323.2 L17.35 323.2Z" fill="#585864"/><rect x="21.15" y="308.4" width="3.2" height="1.5" fill="#6c7284"/><rect x="21.15" y="310.9" width="3.2" height="1.7" fill="#4a4a56"/><rect x="21.15" y="313.6" width="3.2" height="1.2" fill="#52525c"/><rect x="21.15" y="315.4" width="3.2" height="1.2" fill="#5c5c66"/><rect x="21.65" y="317.8" width="2.2" height="0.9" fill="#b0b0c0"/><path d="M21.05 319.6 L24.45 319.6 L23.45 323.2 L22.05 323.2Z" fill="#585864"/><rect x="25.85" y="308.4" width="3.2" height="1.5" fill="#6c7284"/><rect x="25.85" y="310.9" width="3.2" height="1.7" fill="#4a4a56"/><rect x="25.85" y="313.6" width="3.2" height="1.2" fill="#52525c"/><rect x="25.85" y="315.4" width="3.2" height="1.2" fill="#5c5c66"/><rect x="26.35" y="317.8" width="2.2" height="0.9" fill="#b0b0c0"/><path d="M25.75 319.6 L29.15 319.6 L28.15 323.2 L26.75 323.2Z" fill="#585864"/><rect x="30.55" y="308.4" width="3.2" height="1.5" fill="#6c7284"/><rect x="30.55" y="310.9" width="3.2" height="1.7" fill="#4a4a56"/><rect x="30.55" y="313.6" width="3.2" height="1.2" fill="#52525c"/><rect x="30.55" y="315.4" width="3.2" height="1.2" fill="#5c5c66"/><rect x="31.05" y="317.8" width="2.2" height="0.9" fill="#b0b0c0"/><path d="M30.45 319.6 L33.85 319.6 L32.85 323.2 L31.45 323.2Z" fill="#585864"/><rect x="35.33" y="308.4" width="3.2" height="1.5" fill="#6c7284"/><rect x="35.33" y="310.9" width="3.2" height="1.7" fill="#4a4a56"/><rect x="35.33" y="313.6" width="3.2" height="1.2" fill="#52525c"/><rect x="35.33" y="315.4" width="3.2" height="1.2" fill="#5c5c66"/><rect x="35.83" y="317.8" width="2.2" height="0.9" fill="#b0b0c0"/><path d="M35.23 319.6 L38.63 319.6 L37.63 323.2 L36.23 323.2Z" fill="#585864"/><rect x="40.19" y="308.4" width="3.2" height="1.5" fill="#6c7284"/><rect x="40.19" y="310.9" width="3.2" height="1.7" fill="#4a4a56"/><rect x="40.19" y="313.6" width="3.2" height="1.2" fill="#52525c"/><rect x="40.19" y="315.4" width="3.2" height="1.2" fill="#5c5c66"/><rect x="40.69" y="317.8" width="2.2" height="0.9" fill="#b0b0c0"/><path d="M40.09 319.6 L43.49 319.6 L42.49 323.2 L41.09 323.2Z" fill="#585864"/><rect x="45.04" y="308.4" width="3.2" height="1.5" fill="#6c7284"/><rect x="45.04" y="310.9" width="3.2" height="1.7" fill="#4a4a56"/><rect x="45.04" y="313.6" width="3.2" height="1.2" fill="#52525c"/><rect x="45.04" y="315.4" width="3.2" height="1.2" fill="#5c5c66"/><rect x="45.54" y="317.8" width="2.2" height="0.9" fill="#b0b0c0"/><path d="M44.94 319.6 L48.34 319.6 L47.34 323.2 L45.94 323.2Z" fill="#585864"/><rect x="49.90" y="308.4" width="3.2" height="1.5" fill="#6c7284"/><rect x="49.90" y="310.9" width="3.2" height="1.7" fill="#4a4a56"/><rect x="49.90" y="313.6" width="3.2" height="1.2" fill="#52525c"/><rect x="49.90" y="315.4" width="3.2" height="1.2" fill="#5c5c66"/><rect x="50.40" y="317.8" width="2.2" height="0.9" fill="#b0b0c0"/><path d="M49.80 319.6 L53.20 319.6 L52.20 323.2 L50.80 323.2Z" fill="#585864"/><rect x="54.76" y="308.4" width="3.2" height="1.5" fill="#6c7284"/><rect x="54.76" y="310.9" width="3.2" height="1.7" fill="#4a4a56"/><rect x="54.76" y="313.6" width="3.2" height="1.2" fill="#52525c"/><rect x="54.76" y="315.4" width="3.2" height="1.2" fill="#5c5c66"/><rect x="55.26" y="317.8" width="2.2" height="0.9" fill="#b0b0c0"/><path d="M54.66 319.6 L58.06 319.6 L57.06 323.2 L55.66 323.2Z" fill="#585864"/><rect x="59.61" y="308.4" width="3.2" height="1.5" fill="#6c7284"/><rect x="59.61" y="310.9" width="3.2" height="1.7" fill="#4a4a56"/><rect x="59.61" y="313.6" width="3.2" height="1.2" fill="#52525c"/><rect x="59.61" y="315.4" width="3.2" height="1.2" fill="#5c5c66"/><rect x="60.11" y="317.8" width="2.2" height="0.9" fill="#b0b0c0"/><path d="M59.51 319.6 L62.91 319.6 L61.91 323.2 L60.51 323.2Z" fill="#585864"/><rect x="64.47" y="308.4" width="3.2" height="1.5" fill="#6c7284"/><rect x="64.47" y="310.9" width="3.2" height="1.7" fill="#4a4a56"/><rect x="64.47" y="313.6" width="3.2" height="1.2" fill="#52525c"/><rect x="64.47" y="315.4" width="3.2" height="1.2" fill="#5c5c66"/><rect x="64.97" y="317.8" width="2.2" height="0.9" fill="#b0b0c0"/><path d="M64.37 319.6 L67.77 319.6 L66.77 323.2 L65.37 323.2Z" fill="#585864"/><rect x="69.30" y="308.4" width="3.2" height="1.5" fill="#6c7284"/><rect x="69.30" y="310.9" width="3.2" height="1.7" fill="#4a4a56"/><rect x="69.30" y="313.6" width="3.2" height="1.2" fill="#52525c"/><rect x="69.30" y="315.4" width="3.2" height="1.2" fill="#5c5c66"/><rect x="69.80" y="317.8" width="2.2" height="0.9" fill="#b0b0c0"/><path d="M69.20 319.6 L72.60 319.6 L71.60 323.2 L70.20 323.2Z" fill="#585864"/><rect x="74.09" y="308.4" width="3.2" height="1.5" fill="#6c7284"/><rect x="74.09" y="310.9" width="3.2" height="1.7" fill="#4a4a56"/><rect x="74.09" y="313.6" width="3.2" height="1.2" fill="#52525c"/><rect x="74.09" y="315.4" width="3.2" height="1.2" fill="#5c5c66"/><rect x="74.59" y="317.8" width="2.2" height="0.9" fill="#b0b0c0"/><path d="M73.99 319.6 L77.39 319.6 L76.39 323.2 L74.99 323.2Z" fill="#585864"/><rect x="78.88" y="308.4" width="3.2" height="1.5" fill="#6c7284"/><rect x="78.88" y="310.9" width="3.2" height="1.7" fill="#4a4a56"/><rect x="78.88" y="313.6" width="3.2" height="1.2" fill="#52525c"/><rect x="78.88" y="315.4" width="3.2" height="1.2" fill="#5c5c66"/><rect x="79.38" y="317.8" width="2.2" height="0.9" fill="#b0b0c0"/><path d="M78.78 319.6 L82.18 319.6 L81.18 323.2 L79.78 323.2Z" fill="#585864"/><rect x="83.67" y="308.4" width="3.2" height="1.5" fill="#6c7284"/><rect x="83.67" y="310.9" width="3.2" height="1.7" fill="#4a4a56"/><rect x="83.67" y="313.6" width="3.2" height="1.2" fill="#52525c"/><rect x="83.67" y="315.4" width="3.2" height="1.2" fill="#5c5c66"/><rect x="84.17" y="317.8" width="2.2" height="0.9" fill="#b0b0c0"/><path d="M83.57 319.6 L86.97 319.6 L85.97 323.2 L84.57 323.2Z" fill="#585864"/><rect x="88.46" y="308.4" width="3.2" height="1.5" fill="#6c7284"/><rect x="88.46" y="310.9" width="3.2" height="1.7" fill="#4a4a56"/><rect x="88.46" y="313.6" width="3.2" height="1.2" fill="#52525c"/><rect x="88.46" y="315.4" width="3.2" height="1.2" fill="#5c5c66"/><rect x="88.96" y="317.8" width="2.2" height="0.9" fill="#b0b0c0"/><path d="M88.36 319.6 L91.76 319.6 L90.76 323.2 L89.36 323.2Z" fill="#585864"/><rect x="93.25" y="308.4" width="3.2" height="1.5" fill="#6c7284"/><rect x="93.25" y="310.9" width="3.2" height="1.7" fill="#4a4a56"/><rect x="93.25" y="313.6" width="3.2" height="1.2" fill="#52525c"/><rect x="93.25" y="315.4" width="3.2" height="1.2" fill="#5c5c66"/><rect x="93.75" y="317.8" width="2.2" height="0.9" fill="#b0b0c0"/><path d="M93.15 319.6 L96.55 319.6 L95.55 323.2 L94.15 323.2Z" fill="#585864"/><rect x="98.04" y="308.4" width="3.2" height="1.5" fill="#6c7284"/><rect x="98.04" y="310.9" width="3.2" height="1.7" fill="#4a4a56"/><rect x="98.04" y="313.6" width="3.2" height="1.2" fill="#52525c"/><rect x="98.04" y="315.4" width="3.2" height="1.2" fill="#5c5c66"/><rect x="98.54" y="317.8" width="2.2" height="0.9" fill="#b0b0c0"/><path d="M97.94 319.6 L101.34 319.6 L100.34 323.2 L98.94 323.2Z" fill="#585864"/><rect x="102.83" y="308.4" width="3.2" height="1.5" fill="#6c7284"/><rect x="102.83" y="310.9" width="3.2" height="1.7" fill="#4a4a56"/><rect x="102.83" y="313.6" width="3.2" height="1.2" fill="#52525c"/><rect x="102.83" y="315.4" width="3.2" height="1.2" fill="#5c5c66"/><rect x="103.33" y="317.8" width="2.2" height="0.9" fill="#b0b0c0"/><path d="M102.73 319.6 L106.13 319.6 L105.13 323.2 L103.73 323.2Z" fill="#585864"/><rect x="107.62" y="308.4" width="3.2" height="1.5" fill="#6c7284"/><rect x="107.62" y="310.9" width="3.2" height="1.7" fill="#4a4a56"/><rect x="107.62" y="313.6" width="3.2" height="1.2" fill="#52525c"/><rect x="107.62" y="315.4" width="3.2" height="1.2" fill="#5c5c66"/><rect x="108.12" y="317.8" width="2.2" height="0.9" fill="#b0b0c0"/><path d="M107.52 319.6 L110.92 319.6 L109.92 323.2 L108.52 323.2Z" fill="#585864"/><rect x="112.41" y="308.4" width="3.2" height="1.5" fill="#6c7284"/><rect x="112.41" y="310.9" width="3.2" height="1.7" fill="#4a4a56"/><rect x="112.41" y="313.6" width="3.2" height="1.2" fill="#52525c"/><rect x="112.41" y="315.4" width="3.2" height="1.2" fill="#5c5c66"/><rect x="112.91" y="317.8" width="2.2" height="0.9" fill="#b0b0c0"/><path d="M112.31 319.6 L115.71 319.6 L114.71 323.2 L113.31 323.2Z" fill="#585864"/><rect x="117.20" y="308.4" width="3.2" height="1.5" fill="#6c7284"/><rect x="117.20" y="310.9" width="3.2" height="1.7" fill="#4a4a56"/><rect x="117.20" y="313.6" width="3.2" height="1.2" fill="#52525c"/><rect x="117.20" y="315.4" width="3.2" height="1.2" fill="#5c5c66"/><rect x="117.70" y="317.8" width="2.2" height="0.9" fill="#b0b0c0"/><path d="M117.10 319.6 L120.50 319.6 L119.50 323.2 L118.10 323.2Z" fill="#585864"/><rect x="121.99" y="308.4" width="3.2" height="1.5" fill="#6c7284"/><rect x="121.99" y="310.9" width="3.2" height="1.7" fill="#4a4a56"/><rect x="121.99" y="313.6" width="3.2" height="1.2" fill="#52525c"/><rect x="121.99" y="315.4" width="3.2" height="1.2" fill="#5c5c66"/><rect x="122.49" y="317.8" width="2.2" height="0.9" fill="#b0b0c0"/><path d="M121.89 319.6 L125.29 319.6 L124.29 323.2 L122.89 323.2Z" fill="#585864"/><rect x="126.78" y="308.4" width="3.2" height="1.5" fill="#6c7284"/><rect x="126.78" y="310.9" width="3.2" height="1.7" fill="#4a4a56"/><rect x="126.78" y="313.6" width="3.2" height="1.2" fill="#52525c"/><rect x="126.78" y="315.4" width="3.2" height="1.2" fill="#5c5c66"/><rect x="127.28" y="317.8" width="2.2" height="0.9" fill="#b0b0c0"/><path d="M126.68 319.6 L130.08 319.6 L129.08 323.2 L127.68 323.2Z" fill="#585864"/><rect x="131.57" y="308.4" width="3.2" height="1.5" fill="#6c7284"/><rect x="131.57" y="310.9" width="3.2" height="1.7" fill="#4a4a56"/><rect x="131.57" y="313.6" width="3.2" height="1.2" fill="#52525c"/><rect x="131.57" y="315.4" width="3.2" height="1.2" fill="#5c5c66"/><rect x="132.07" y="317.8" width="2.2" height="0.9" fill="#b0b0c0"/><path d="M131.47 319.6 L134.87 319.6 L133.87 323.2 L132.47 323.2Z" fill="#585864"/><rect x="136.36" y="308.4" width="3.2" height="1.5" fill="#6c7284"/><rect x="136.36" y="310.9" width="3.2" height="1.7" fill="#4a4a56"/><rect x="136.36" y="313.6" width="3.2" height="1.2" fill="#52525c"/><rect x="136.36" y="315.4" width="3.2" height="1.2" fill="#5c5c66"/><rect x="136.86" y="317.8" width="2.2" height="0.9" fill="#b0b0c0"/><path d="M136.26 319.6 L139.66 319.6 L138.66 323.2 L137.26 323.2Z" fill="#585864"/><rect x="141.15" y="308.4" width="3.2" height="1.5" fill="#6c7284"/><rect x="141.15" y="310.9" width="3.2" height="1.7" fill="#4a4a56"/><rect x="141.15" y="313.6" width="3.2" height="1.2" fill="#52525c"/><rect x="141.15" y="315.4" width="3.2" height="1.2" fill="#5c5c66"/><rect x="141.65" y="317.8" width="2.2" height="0.9" fill="#b0b0c0"/><path d="M141.05 319.6 L144.45 319.6 L143.45 323.2 L142.05 323.2Z" fill="#585864"/><rect x="145.94" y="308.4" width="3.2" height="1.5" fill="#6c7284"/><rect x="145.94" y="310.9" width="3.2" height="1.7" fill="#4a4a56"/><rect x="145.94" y="313.6" width="3.2" height="1.2" fill="#52525c"/><rect x="145.94" y="315.4" width="3.2" height="1.2" fill="#5c5c66"/><rect x="146.44" y="317.8" width="2.2" height="0.9" fill="#b0b0c0"/><path d="M145.84 319.6 L149.24 319.6 L148.24 323.2 L146.84 323.2Z" fill="#585864"/><rect x="150.73" y="308.4" width="3.2" height="1.5" fill="#6c7284"/><rect x="150.73" y="310.9" width="3.2" height="1.7" fill="#4a4a56"/><rect x="150.73" y="313.6" width="3.2" height="1.2" fill="#52525c"/><rect x="150.73" y="315.4" width="3.2" height="1.2" fill="#5c5c66"/><rect x="151.23" y="317.8" width="2.2" height="0.9" fill="#b0b0c0"/><path d="M150.63 319.6 L154.03 319.6 L153.03 323.2 L151.63 323.2Z" fill="#585864"/><rect x="155.52" y="308.4" width="3.2" height="1.5" fill="#6c7284"/><rect x="155.52" y="310.9" width="3.2" height="1.7" fill="#4a4a56"/><rect x="155.52" y="313.6" width="3.2" height="1.2" fill="#52525c"/><rect x="155.52" y="315.4" width="3.2" height="1.2" fill="#5c5c66"/><rect x="156.02" y="317.8" width="2.2" height="0.9" fill="#b0b0c0"/><path d="M155.42 319.6 L158.82 319.6 L157.82 323.2 L156.42 323.2Z" fill="#585864"/><rect x="160.31" y="308.4" width="3.2" height="1.5" fill="#6c7284"/><rect x="160.31" y="310.9" width="3.2" height="1.7" fill="#4a4a56"/><rect x="160.31" y="313.6" width="3.2" height="1.2" fill="#52525c"/><rect x="160.31" y="315.4" width="3.2" height="1.2" fill="#5c5c66"/><rect x="160.81" y="317.8" width="2.2" height="0.9" fill="#b0b0c0"/><path d="M160.21 319.6 L163.61 319.6 L162.61 323.2 L161.21 323.2Z" fill="#585864"/><rect x="165.10" y="308.4" width="3.2" height="1.5" fill="#6c7284"/><rect x="165.10" y="310.9" width="3.2" height="1.7" fill="#4a4a56"/><rect x="165.10" y="313.6" width="3.2" height="1.2" fill="#52525c"/><rect x="165.10" y="315.4" width="3.2" height="1.2" fill="#5c5c66"/><rect x="165.60" y="317.8" width="2.2" height="0.9" fill="#b0b0c0"/><path d="M165.00 319.6 L168.40 319.6 L167.40 323.2 L166.00 323.2Z" fill="#585864"/><rect x="169.90" y="308.4" width="3.2" height="1.5" fill="#6c7284"/><rect x="169.90" y="310.9" width="3.2" height="1.7" fill="#4a4a56"/><rect x="169.90" y="313.6" width="3.2" height="1.2" fill="#52525c"/><rect x="169.90" y="315.4" width="3.2" height="1.2" fill="#5c5c66"/><rect x="170.40" y="317.8" width="2.2" height="0.9" fill="#b0b0c0"/><path d="M169.80 319.6 L173.20 319.6 L172.20 323.2 L170.80 323.2Z" fill="#585864"/><rect x="174.69" y="308.4" width="3.2" height="1.5" fill="#6c7284"/><rect x="174.69" y="310.9" width="3.2" height="1.7" fill="#4a4a56"/><rect x="174.69" y="313.6" width="3.2" height="1.2" fill="#52525c"/><rect x="174.69" y="315.4" width="3.2" height="1.2" fill="#5c5c66"/><rect x="175.19" y="317.8" width="2.2" height="0.9" fill="#b0b0c0"/><path d="M174.59 319.6 L177.99 319.6 L176.99 323.2 L175.59 323.2Z" fill="#585864"/><rect x="179.48" y="308.4" width="3.2" height="1.5" fill="#6c7284"/><rect x="179.48" y="310.9" width="3.2" height="1.7" fill="#4a4a56"/><rect x="179.48" y="313.6" width="3.2" height="1.2" fill="#52525c"/><rect x="179.48" y="315.4" width="3.2" height="1.2" fill="#5c5c66"/><rect x="179.98" y="317.8" width="2.2" height="0.9" fill="#b0b0c0"/><path d="M179.38 319.6 L182.78 319.6 L181.78 323.2 L180.38 323.2Z" fill="#585864"/><rect x="184.27" y="308.4" width="3.2" height="1.5" fill="#6c7284"/><rect x="184.27" y="310.9" width="3.2" height="1.7" fill="#4a4a56"/><rect x="184.27" y="313.6" width="3.2" height="1.2" fill="#52525c"/><rect x="184.27" y="315.4" width="3.2" height="1.2" fill="#5c5c66"/><rect x="184.77" y="317.8" width="2.2" height="0.9" fill="#b0b0c0"/><path d="M184.17 319.6 L187.57 319.6 L186.57 323.2 L185.17 323.2Z" fill="#585864"/><rect x="189.06" y="308.4" width="3.2" height="1.5" fill="#6c7284"/><rect x="189.06" y="310.9" width="3.2" height="1.7" fill="#4a4a56"/><rect x="189.06" y="313.6" width="3.2" height="1.2" fill="#52525c"/><rect x="189.06" y="315.4" width="3.2" height="1.2" fill="#5c5c66"/><rect x="189.56" y="317.8" width="2.2" height="0.9" fill="#b0b0c0"/><path d="M188.96 319.6 L192.36 319.6 L191.36 323.2 L189.96 323.2Z" fill="#585864"/><rect x="193.85" y="308.4" width="3.2" height="1.5" fill="#6c7284"/><rect x="193.85" y="310.9" width="3.2" height="1.7" fill="#4a4a56"/><rect x="193.85" y="313.6" width="3.2" height="1.2" fill="#52525c"/><rect x="193.85" y="315.4" width="3.2" height="1.2" fill="#5c5c66"/><rect x="194.35" y="317.8" width="2.2" height="0.9" fill="#b0b0c0"/><path d="M193.75 319.6 L197.15 319.6 L196.15 323.2 L194.75 323.2Z" fill="#585864"/><rect x="198.64" y="308.4" width="3.2" height="1.5" fill="#6c7284"/><rect x="198.64" y="310.9" width="3.2" height="1.7" fill="#4a4a56"/><rect x="198.64" y="313.6" width="3.2" height="1.2" fill="#52525c"/><rect x="198.64" y="315.4" width="3.2" height="1.2" fill="#5c5c66"/><rect x="199.14" y="317.8" width="2.2" height="0.9" fill="#b0b0c0"/><path d="M198.54 319.6 L201.94 319.6 L200.94 323.2 L199.54 323.2Z" fill="#585864"/><rect x="203.43" y="308.4" width="3.2" height="1.5" fill="#6c7284"/><rect x="203.43" y="310.9" width="3.2" height="1.7" fill="#4a4a56"/><rect x="203.43" y="313.6" width="3.2" height="1.2" fill="#52525c"/><rect x="203.43" y="315.4" width="3.2" height="1.2" fill="#5c5c66"/><rect x="203.93" y="317.8" width="2.2" height="0.9" fill="#b0b0c0"/><path d="M203.33 319.6 L206.73 319.6 L205.73 323.2 L204.33 323.2Z" fill="#585864"/><rect x="208.22" y="308.4" width="3.2" height="1.5" fill="#6c7284"/><rect x="208.22" y="310.9" width="3.2" height="1.7" fill="#4a4a56"/><rect x="208.22" y="313.6" width="3.2" height="1.2" fill="#52525c"/><rect x="208.22" y="315.4" width="3.2" height="1.2" fill="#5c5c66"/><rect x="208.72" y="317.8" width="2.2" height="0.9" fill="#b0b0c0"/><path d="M208.12 319.6 L211.52 319.6 L210.52 323.2 L209.12 323.2Z" fill="#585864"/><rect x="213.01" y="308.4" width="3.2" height="1.5" fill="#6c7284"/><rect x="213.01" y="310.9" width="3.2" height="1.7" fill="#4a4a56"/><rect x="213.01" y="313.6" width="3.2" height="1.2" fill="#52525c"/><rect x="213.01" y="315.4" width="3.2" height="1.2" fill="#5c5c66"/><rect x="213.51" y="317.8" width="2.2" height="0.9" fill="#b0b0c0"/><path d="M212.91 319.6 L216.31 319.6 L215.31 323.2 L213.91 323.2Z" fill="#585864"/><rect x="217.80" y="308.4" width="3.2" height="1.5" fill="#6c7284"/><rect x="217.80" y="310.9" width="3.2" height="1.7" fill="#4a4a56"/><rect x="217.80" y="313.6" width="3.2" height="1.2" fill="#52525c"/><rect x="217.80" y="315.4" width="3.2" height="1.2" fill="#5c5c66"/><rect x="218.30" y="317.8" width="2.2" height="0.9" fill="#b0b0c0"/><path d="M217.70 319.6 L221.10 319.6 L220.10 323.2 L218.70 323.2Z" fill="#585864"/><rect x="222.59" y="308.4" width="3.2" height="1.5" fill="#6c7284"/><rect x="222.59" y="310.9" width="3.2" height="1.7" fill="#4a4a56"/><rect x="222.59" y="313.6" width="3.2" height="1.2" fill="#52525c"/><rect x="222.59" y="315.4" width="3.2" height="1.2" fill="#5c5c66"/><rect x="223.09" y="317.8" width="2.2" height="0.9" fill="#b0b0c0"/><path d="M222.49 319.6 L225.89 319.6 L224.89 323.2 L223.49 323.2Z" fill="#585864"/><rect x="227.38" y="308.4" width="3.2" height="1.5" fill="#6c7284"/><rect x="227.38" y="310.9" width="3.2" height="1.7" fill="#4a4a56"/><rect x="227.38" y="313.6" width="3.2" height="1.2" fill="#52525c"/><rect x="227.38" y="315.4" width="3.2" height="1.2" fill="#5c5c66"/><rect x="227.88" y="317.8" width="2.2" height="0.9" fill="#b0b0c0"/><path d="M227.28 319.6 L230.68 319.6 L229.68 323.2 L228.28 323.2Z" fill="#585864"/><rect x="232.17" y="308.4" width="3.2" height="1.5" fill="#6c7284"/><rect x="232.17" y="310.9" width="3.2" height="1.7" fill="#4a4a56"/><rect x="232.17" y="313.6" width="3.2" height="1.2" fill="#52525c"/><rect x="232.17" y="315.4" width="3.2" height="1.2" fill="#5c5c66"/><rect x="232.67" y="317.8" width="2.2" height="0.9" fill="#b0b0c0"/><path d="M232.07 319.6 L235.47 319.6 L234.47 323.2 L233.07 323.2Z" fill="#585864"/><rect x="236.96" y="308.4" width="3.2" height="1.5" fill="#6c7284"/><rect x="236.96" y="310.9" width="3.2" height="1.7" fill="#4a4a56"/><rect x="236.96" y="313.6" width="3.2" height="1.2" fill="#52525c"/><rect x="236.96" y="315.4" width="3.2" height="1.2" fill="#5c5c66"/><rect x="237.46" y="317.8" width="2.2" height="0.9" fill="#b0b0c0"/><path d="M236.86 319.6 L240.26 319.6 L239.26 323.2 L237.86 323.2Z" fill="#585864"/><rect x="241.75" y="308.4" width="3.2" height="1.5" fill="#6c7284"/><rect x="241.75" y="310.9" width="3.2" height="1.7" fill="#4a4a56"/><rect x="241.75" y="313.6" width="3.2" height="1.2" fill="#52525c"/><rect x="241.75" y="315.4" width="3.2" height="1.2" fill="#5c5c66"/><rect x="242.25" y="317.8" width="2.2" height="0.9" fill="#b0b0c0"/><path d="M241.65 319.6 L245.05 319.6 L244.05 323.2 L242.65 323.2Z" fill="#585864"/><rect x="246.54" y="308.4" width="3.2" height="1.5" fill="#6c7284"/><rect x="246.54" y="310.9" width="3.2" height="1.7" fill="#4a4a56"/><rect x="246.54" y="313.6" width="3.2" height="1.2" fill="#52525c"/><rect x="246.54" y="315.4" width="3.2" height="1.2" fill="#5c5c66"/><rect x="247.04" y="317.8" width="2.2" height="0.9" fill="#b0b0c0"/><path d="M246.44 319.6 L249.84 319.6 L248.84 323.2 L247.44 323.2Z" fill="#585864"/><rect x="251.33" y="308.4" width="3.2" height="1.5" fill="#6c7284"/><rect x="251.33" y="310.9" width="3.2" height="1.7" fill="#4a4a56"/><rect x="251.33" y="313.6" width="3.2" height="1.2" fill="#52525c"/><rect x="251.33" y="315.4" width="3.2" height="1.2" fill="#5c5c66"/><rect x="251.83" y="317.8" width="2.2" height="0.9" fill="#b0b0c0"/><path d="M251.23 319.6 L254.63 319.6 L253.63 323.2 L252.23 323.2Z" fill="#585864"/><rect x="256.12" y="308.4" width="3.2" height="1.5" fill="#6c7284"/><rect x="256.12" y="310.9" width="3.2" height="1.7" fill="#4a4a56"/><rect x="256.12" y="313.6" width="3.2" height="1.2" fill="#52525c"/><rect x="256.12" y="315.4" width="3.2" height="1.2" fill="#5c5c66"/><rect x="256.62" y="317.8" width="2.2" height="0.9" fill="#b0b0c0"/><path d="M256.02 319.6 L259.42 319.6 L258.42 323.2 L257.02 323.2Z" fill="#585864"/><rect x="260.91" y="308.4" width="3.2" height="1.5" fill="#6c7284"/><rect x="260.91" y="310.9" width="3.2" height="1.7" fill="#4a4a56"/><rect x="260.91" y="313.6" width="3.2" height="1.2" fill="#52525c"/><rect x="260.91" y="315.4" width="3.2" height="1.2" fill="#5c5c66"/><rect x="261.41" y="317.8" width="2.2" height="0.9" fill="#b0b0c0"/><path d="M260.81 319.6 L264.21 319.6 L263.21 323.2 L261.81 323.2Z" fill="#585864"/><rect x="265.70" y="308.4" width="3.2" height="1.5" fill="#6c7284"/><rect x="265.70" y="310.9" width="3.2" height="1.7" fill="#4a4a56"/><rect x="265.70" y="313.6" width="3.2" height="1.2" fill="#52525c"/><rect x="265.70" y="315.4" width="3.2" height="1.2" fill="#5c5c66"/><rect x="266.20" y="317.8" width="2.2" height="0.9" fill="#b0b0c0"/><path d="M265.60 319.6 L269.00 319.6 L268.00 323.2 L266.60 323.2Z" fill="#585864"/><rect x="270.50" y="308.4" width="3.2" height="1.5" fill="#6c7284"/><rect x="270.50" y="310.9" width="3.2" height="1.7" fill="#4a4a56"/><rect x="270.50" y="313.6" width="3.2" height="1.2" fill="#52525c"/><rect x="270.50" y="315.4" width="3.2" height="1.2" fill="#5c5c66"/><rect x="271.00" y="317.8" width="2.2" height="0.9" fill="#b0b0c0"/><path d="M270.40 319.6 L273.80 319.6 L272.80 323.2 L271.40 323.2Z" fill="#585864"/><rect x="275.29" y="308.4" width="3.2" height="1.5" fill="#6c7284"/><rect x="275.29" y="310.9" width="3.2" height="1.7" fill="#4a4a56"/><rect x="275.29" y="313.6" width="3.2" height="1.2" fill="#52525c"/><rect x="275.29" y="315.4" width="3.2" height="1.2" fill="#5c5c66"/><rect x="275.79" y="317.8" width="2.2" height="0.9" fill="#b0b0c0"/><path d="M275.19 319.6 L278.59 319.6 L277.59 323.2 L276.19 323.2Z" fill="#585864"/><rect x="280.08" y="308.4" width="3.2" height="1.5" fill="#6c7284"/><rect x="280.08" y="310.9" width="3.2" height="1.7" fill="#4a4a56"/><rect x="280.08" y="313.6" width="3.2" height="1.2" fill="#52525c"/><rect x="280.08" y="315.4" width="3.2" height="1.2" fill="#5c5c66"/><rect x="280.58" y="317.8" width="2.2" height="0.9" fill="#b0b0c0"/><path d="M279.98 319.6 L283.38 319.6 L282.38 323.2 L280.98 323.2Z" fill="#585864"/><rect x="284.87" y="308.4" width="3.2" height="1.5" fill="#6c7284"/><rect x="284.87" y="310.9" width="3.2" height="1.7" fill="#4a4a56"/><rect x="284.87" y="313.6" width="3.2" height="1.2" fill="#52525c"/><rect x="284.87" y="315.4" width="3.2" height="1.2" fill="#5c5c66"/><rect x="285.37" y="317.8" width="2.2" height="0.9" fill="#b0b0c0"/><path d="M284.77 319.6 L288.17 319.6 L287.17 323.2 L285.77 323.2Z" fill="#585864"/><rect x="289.66" y="308.4" width="3.2" height="1.5" fill="#6c7284"/><rect x="289.66" y="310.9" width="3.2" height="1.7" fill="#4a4a56"/><rect x="289.66" y="313.6" width="3.2" height="1.2" fill="#52525c"/><rect x="289.66" y="315.4" width="3.2" height="1.2" fill="#5c5c66"/><rect x="290.16" y="317.8" width="2.2" height="0.9" fill="#b0b0c0"/><path d="M289.56 319.6 L292.96 319.6 L291.96 323.2 L290.56 323.2Z" fill="#585864"/><rect x="294.45" y="308.4" width="3.2" height="1.5" fill="#6c7284"/><rect x="294.45" y="310.9" width="3.2" height="1.7" fill="#4a4a56"/><rect x="294.45" y="313.6" width="3.2" height="1.2" fill="#52525c"/><rect x="294.45" y="315.4" width="3.2" height="1.2" fill="#5c5c66"/><rect x="294.95" y="317.8" width="2.2" height="0.9" fill="#b0b0c0"/><path d="M294.35 319.6 L297.75 319.6 L296.75 323.2 L295.35 323.2Z" fill="#585864"/><rect x="299.24" y="308.4" width="3.2" height="1.5" fill="#6c7284"/><rect x="299.24" y="310.9" width="3.2" height="1.7" fill="#4a4a56"/><rect x="299.24" y="313.6" width="3.2" height="1.2" fill="#52525c"/><rect x="299.24" y="315.4" width="3.2" height="1.2" fill="#5c5c66"/><rect x="299.74" y="317.8" width="2.2" height="0.9" fill="#b0b0c0"/><path d="M299.14 319.6 L302.54 319.6 L301.54 323.2 L300.14 323.2Z" fill="#585864"/><rect x="304.03" y="308.4" width="3.2" height="1.5" fill="#6c7284"/><rect x="304.03" y="310.9" width="3.2" height="1.7" fill="#4a4a56"/><rect x="304.03" y="313.6" width="3.2" height="1.2" fill="#52525c"/><rect x="304.03" y="315.4" width="3.2" height="1.2" fill="#5c5c66"/><rect x="304.53" y="317.8" width="2.2" height="0.9" fill="#b0b0c0"/><path d="M303.93 319.6 L307.33 319.6 L306.33 323.2 L304.93 323.2Z" fill="#585864"/><rect x="308.82" y="308.4" width="3.2" height="1.5" fill="#6c7284"/><rect x="308.82" y="310.9" width="3.2" height="1.7" fill="#4a4a56"/><rect x="308.82" y="313.6" width="3.2" height="1.2" fill="#52525c"/><rect x="308.82" y="315.4" width="3.2" height="1.2" fill="#5c5c66"/><rect x="309.32" y="317.8" width="2.2" height="0.9" fill="#b0b0c0"/><path d="M308.72 319.6 L312.12 319.6 L311.12 323.2 L309.72 323.2Z" fill="#585864"/><rect x="313.61" y="308.4" width="3.2" height="1.5" fill="#6c7284"/><rect x="313.61" y="310.9" width="3.2" height="1.7" fill="#4a4a56"/><rect x="313.61" y="313.6" width="3.2" height="1.2" fill="#52525c"/><rect x="313.61" y="315.4" width="3.2" height="1.2" fill="#5c5c66"/><rect x="314.11" y="317.8" width="2.2" height="0.9" fill="#b0b0c0"/><path d="M313.51 319.6 L316.91 319.6 L315.91 323.2 L314.51 323.2Z" fill="#585864"/><rect x="318.40" y="308.4" width="3.2" height="1.5" fill="#6c7284"/><rect x="318.40" y="310.9" width="3.2" height="1.7" fill="#4a4a56"/><rect x="318.40" y="313.6" width="3.2" height="1.2" fill="#52525c"/><rect x="318.40" y="315.4" width="3.2" height="1.2" fill="#5c5c66"/><rect x="318.90" y="317.8" width="2.2" height="0.9" fill="#b0b0c0"/><path d="M318.30 319.6 L321.70 319.6 L320.70 323.2 L319.30 323.2Z" fill="#585864"/><rect x="323.13" y="308.4" width="3.2" height="1.5" fill="#6c7284"/><rect x="323.13" y="310.9" width="3.2" height="1.7" fill="#4a4a56"/><rect x="323.13" y="313.6" width="3.2" height="1.2" fill="#52525c"/><rect x="323.13" y="315.4" width="3.2" height="1.2" fill="#5c5c66"/><rect x="323.63" y="317.8" width="2.2" height="0.9" fill="#b0b0c0"/><path d="M323.03 319.6 L326.43 319.6 L325.43 323.2 L324.03 323.2Z" fill="#585864"/><rect x="327.80" y="308.4" width="3.2" height="1.5" fill="#6c7284"/><rect x="327.80" y="310.9" width="3.2" height="1.7" fill="#4a4a56"/><rect x="327.80" y="313.6" width="3.2" height="1.2" fill="#52525c"/><rect x="327.80" y="315.4" width="3.2" height="1.2" fill="#5c5c66"/><rect x="328.30" y="317.8" width="2.2" height="0.9" fill="#b0b0c0"/><path d="M327.70 319.6 L331.10 319.6 L330.10 323.2 L328.70 323.2Z" fill="#585864"/><rect x="332.47" y="308.4" width="3.2" height="1.5" fill="#6c7284"/><rect x="332.47" y="310.9" width="3.2" height="1.7" fill="#4a4a56"/><rect x="332.47" y="313.6" width="3.2" height="1.2" fill="#52525c"/><rect x="332.47" y="315.4" width="3.2" height="1.2" fill="#5c5c66"/><rect x="332.97" y="317.8" width="2.2" height="0.9" fill="#b0b0c0"/><path d="M332.37 319.6 L335.77 319.6 L334.77 323.2 L333.37 323.2Z" fill="#585864"/><rect x="337.13" y="308.4" width="3.2" height="1.5" fill="#6c7284"/><rect x="337.13" y="310.9" width="3.2" height="1.7" fill="#4a4a56"/><rect x="337.13" y="313.6" width="3.2" height="1.2" fill="#52525c"/><rect x="337.13" y="315.4" width="3.2" height="1.2" fill="#5c5c66"/><rect x="337.63" y="317.8" width="2.2" height="0.9" fill="#b0b0c0"/><path d="M337.03 319.6 L340.43 319.6 L339.43 323.2 L338.03 323.2Z" fill="#585864"/><rect x="341.80" y="308.4" width="3.2" height="1.5" fill="#6c7284"/><rect x="341.80" y="310.9" width="3.2" height="1.7" fill="#4a4a56"/><rect x="341.80" y="313.6" width="3.2" height="1.2" fill="#52525c"/><rect x="341.80" y="315.4" width="3.2" height="1.2" fill="#5c5c66"/><rect x="342.30" y="317.8" width="2.2" height="0.9" fill="#b0b0c0"/><path d="M341.70 319.6 L345.10 319.6 L344.10 323.2 L342.70 323.2Z" fill="#585864"/><rect x="346.47" y="308.4" width="3.2" height="1.5" fill="#6c7284"/><rect x="346.47" y="310.9" width="3.2" height="1.7" fill="#4a4a56"/><rect x="346.47" y="313.6" width="3.2" height="1.2" fill="#52525c"/><rect x="346.47" y="315.4" width="3.2" height="1.2" fill="#5c5c66"/><rect x="346.97" y="317.8" width="2.2" height="0.9" fill="#b0b0c0"/><path d="M346.37 319.6 L349.77 319.6 L348.77 323.2 L347.37 323.2Z" fill="#585864"/><rect x="351.13" y="308.4" width="3.2" height="1.5" fill="#6c7284"/><rect x="351.13" y="310.9" width="3.2" height="1.7" fill="#4a4a56"/><rect x="351.13" y="313.6" width="3.2" height="1.2" fill="#52525c"/><rect x="351.13" y="315.4" width="3.2" height="1.2" fill="#5c5c66"/><rect x="351.63" y="317.8" width="2.2" height="0.9" fill="#b0b0c0"/><path d="M351.03 319.6 L354.43 319.6 L353.43 323.2 L352.03 323.2Z" fill="#585864"/><rect x="355.80" y="308.4" width="3.2" height="1.5" fill="#6c7284"/><rect x="355.80" y="310.9" width="3.2" height="1.7" fill="#4a4a56"/><rect x="355.80" y="313.6" width="3.2" height="1.2" fill="#52525c"/><rect x="355.80" y="315.4" width="3.2" height="1.2" fill="#5c5c66"/><rect x="356.30" y="317.8" width="2.2" height="0.9" fill="#b0b0c0"/><path d="M355.70 319.6 L359.10 319.6 L358.10 323.2 L356.70 323.2Z" fill="#585864"/><rect x="360.47" y="308.4" width="3.2" height="1.5" fill="#6c7284"/><rect x="360.47" y="310.9" width="3.2" height="1.7" fill="#4a4a56"/><rect x="360.47" y="313.6" width="3.2" height="1.2" fill="#52525c"/><rect x="360.47" y="315.4" width="3.2" height="1.2" fill="#5c5c66"/><rect x="360.97" y="317.8" width="2.2" height="0.9" fill="#b0b0c0"/><path d="M360.37 319.6 L363.77 319.6 L362.77 323.2 L361.37 323.2Z" fill="#585864"/><rect x="365.13" y="308.4" width="3.2" height="1.5" fill="#6c7284"/><rect x="365.13" y="310.9" width="3.2" height="1.7" fill="#4a4a56"/><rect x="365.13" y="313.6" width="3.2" height="1.2" fill="#52525c"/><rect x="365.13" y="315.4" width="3.2" height="1.2" fill="#5c5c66"/><rect x="365.63" y="317.8" width="2.2" height="0.9" fill="#b0b0c0"/><path d="M365.03 319.6 L368.43 319.6 L367.43 323.2 L366.03 323.2Z" fill="#585864"/><rect x="369.80" y="308.4" width="3.2" height="1.5" fill="#6c7284"/><rect x="369.80" y="310.9" width="3.2" height="1.7" fill="#4a4a56"/><rect x="369.80" y="313.6" width="3.2" height="1.2" fill="#52525c"/><rect x="369.80" y="315.4" width="3.2" height="1.2" fill="#5c5c66"/><rect x="370.30" y="317.8" width="2.2" height="0.9" fill="#b0b0c0"/><path d="M369.70 319.6 L373.10 319.6 L372.10 323.2 L370.70 323.2Z" fill="#585864"/><rect x="374.47" y="308.4" width="3.2" height="1.5" fill="#6c7284"/><rect x="374.47" y="310.9" width="3.2" height="1.7" fill="#4a4a56"/><rect x="374.47" y="313.6" width="3.2" height="1.2" fill="#52525c"/><rect x="374.47" y="315.4" width="3.2" height="1.2" fill="#5c5c66"/><rect x="374.97" y="317.8" width="2.2" height="0.9" fill="#b0b0c0"/><path d="M374.37 319.6 L377.77 319.6 L376.77 323.2 L375.37 323.2Z" fill="#585864"/><rect x="379.13" y="308.4" width="3.2" height="1.5" fill="#6c7284"/><rect x="379.13" y="310.9" width="3.2" height="1.7" fill="#4a4a56"/><rect x="379.13" y="313.6" width="3.2" height="1.2" fill="#52525c"/><rect x="379.13" y="315.4" width="3.2" height="1.2" fill="#5c5c66"/><rect x="379.63" y="317.8" width="2.2" height="0.9" fill="#b0b0c0"/><path d="M379.03 319.6 L382.43 319.6 L381.43 323.2 L380.03 323.2Z" fill="#585864"/><rect x="383.80" y="308.4" width="3.2" height="1.5" fill="#6c7284"/><rect x="383.80" y="310.9" width="3.2" height="1.7" fill="#4a4a56"/><rect x="383.80" y="313.6" width="3.2" height="1.2" fill="#52525c"/><rect x="383.80" y="315.4" width="3.2" height="1.2" fill="#5c5c66"/><rect x="384.30" y="317.8" width="2.2" height="0.9" fill="#b0b0c0"/><path d="M383.70 319.6 L387.10 319.6 L386.10 323.2 L384.70 323.2Z" fill="#585864"/><rect x="388.47" y="308.4" width="3.2" height="1.5" fill="#6c7284"/><rect x="388.47" y="310.9" width="3.2" height="1.7" fill="#4a4a56"/><rect x="388.47" y="313.6" width="3.2" height="1.2" fill="#52525c"/><rect x="388.47" y="315.4" width="3.2" height="1.2" fill="#5c5c66"/><rect x="388.97" y="317.8" width="2.2" height="0.9" fill="#b0b0c0"/><path d="M388.37 319.6 L391.77 319.6 L390.77 323.2 L389.37 323.2Z" fill="#585864"/><rect x="393.13" y="308.4" width="3.2" height="1.5" fill="#6c7284"/><rect x="393.13" y="310.9" width="3.2" height="1.7" fill="#4a4a56"/><rect x="393.13" y="313.6" width="3.2" height="1.2" fill="#52525c"/><rect x="393.13" y="315.4" width="3.2" height="1.2" fill="#5c5c66"/><rect x="393.63" y="317.8" width="2.2" height="0.9" fill="#b0b0c0"/><path d="M393.03 319.6 L396.43 319.6 L395.43 323.2 L394.03 323.2Z" fill="#585864"/><rect x="397.80" y="308.4" width="3.2" height="1.5" fill="#6c7284"/><rect x="397.80" y="310.9" width="3.2" height="1.7" fill="#4a4a56"/><rect x="397.80" y="313.6" width="3.2" height="1.2" fill="#52525c"/><rect x="397.80" y="315.4" width="3.2" height="1.2" fill="#5c5c66"/><rect x="398.30" y="317.8" width="2.2" height="0.9" fill="#b0b0c0"/><path d="M397.70 319.6 L401.10 319.6 L400.10 323.2 L398.70 323.2Z" fill="#585864"/><rect x="402.47" y="308.4" width="3.2" height="1.5" fill="#6c7284"/><rect x="402.47" y="310.9" width="3.2" height="1.7" fill="#4a4a56"/><rect x="402.47" y="313.6" width="3.2" height="1.2" fill="#52525c"/><rect x="402.47" y="315.4" width="3.2" height="1.2" fill="#5c5c66"/><rect x="402.97" y="317.8" width="2.2" height="0.9" fill="#b0b0c0"/><path d="M402.37 319.6 L405.77 319.6 L404.77 323.2 L403.37 323.2Z" fill="#585864"/><rect x="407.13" y="308.4" width="3.2" height="1.5" fill="#6c7284"/><rect x="407.13" y="310.9" width="3.2" height="1.7" fill="#4a4a56"/><rect x="407.13" y="313.6" width="3.2" height="1.2" fill="#52525c"/><rect x="407.13" y="315.4" width="3.2" height="1.2" fill="#5c5c66"/><rect x="407.63" y="317.8" width="2.2" height="0.9" fill="#b0b0c0"/><path d="M407.03 319.6 L410.43 319.6 L409.43 323.2 L408.03 323.2Z" fill="#585864"/><rect x="411.80" y="308.4" width="3.2" height="1.5" fill="#6c7284"/><rect x="411.80" y="310.9" width="3.2" height="1.7" fill="#4a4a56"/><rect x="411.80" y="313.6" width="3.2" height="1.2" fill="#52525c"/><rect x="411.80" y="315.4" width="3.2" height="1.2" fill="#5c5c66"/><rect x="412.30" y="317.8" width="2.2" height="0.9" fill="#b0b0c0"/><path d="M411.70 319.6 L415.10 319.6 L414.10 323.2 L412.70 323.2Z" fill="#585864"/><rect x="416.47" y="308.4" width="3.2" height="1.5" fill="#6c7284"/><rect x="416.47" y="310.9" width="3.2" height="1.7" fill="#4a4a56"/><rect x="416.47" y="313.6" width="3.2" height="1.2" fill="#52525c"/><rect x="416.47" y="315.4" width="3.2" height="1.2" fill="#5c5c66"/><rect x="416.97" y="317.8" width="2.2" height="0.9" fill="#b0b0c0"/><path d="M416.37 319.6 L419.77 319.6 L418.77 323.2 L417.37 323.2Z" fill="#585864"/><rect x="421.13" y="308.4" width="3.2" height="1.5" fill="#6c7284"/><rect x="421.13" y="310.9" width="3.2" height="1.7" fill="#4a4a56"/><rect x="421.13" y="313.6" width="3.2" height="1.2" fill="#52525c"/><rect x="421.13" y="315.4" width="3.2" height="1.2" fill="#5c5c66"/><rect x="421.63" y="317.8" width="2.2" height="0.9" fill="#b0b0c0"/><path d="M421.03 319.6 L424.43 319.6 L423.43 323.2 L422.03 323.2Z" fill="#585864"/><rect x="425.80" y="308.4" width="3.2" height="1.5" fill="#6c7284"/><rect x="425.80" y="310.9" width="3.2" height="1.7" fill="#4a4a56"/><rect x="425.80" y="313.6" width="3.2" height="1.2" fill="#52525c"/><rect x="425.80" y="315.4" width="3.2" height="1.2" fill="#5c5c66"/><rect x="426.30" y="317.8" width="2.2" height="0.9" fill="#b0b0c0"/><path d="M425.70 319.6 L429.10 319.6 L428.10 323.2 L426.70 323.2Z" fill="#585864"/><rect x="430.47" y="308.4" width="3.2" height="1.5" fill="#6c7284"/><rect x="430.47" y="310.9" width="3.2" height="1.7" fill="#4a4a56"/><rect x="430.47" y="313.6" width="3.2" height="1.2" fill="#52525c"/><rect x="430.47" y="315.4" width="3.2" height="1.2" fill="#5c5c66"/><rect x="430.97" y="317.8" width="2.2" height="0.9" fill="#b0b0c0"/><path d="M430.37 319.6 L433.77 319.6 L432.77 323.2 L431.37 323.2Z" fill="#585864"/><rect x="435.13" y="308.4" width="3.2" height="1.5" fill="#6c7284"/><rect x="435.13" y="310.9" width="3.2" height="1.7" fill="#4a4a56"/><rect x="435.13" y="313.6" width="3.2" height="1.2" fill="#52525c"/><rect x="435.13" y="315.4" width="3.2" height="1.2" fill="#5c5c66"/><rect x="435.63" y="317.8" width="2.2" height="0.9" fill="#b0b0c0"/><path d="M435.03 319.6 L438.43 319.6 L437.43 323.2 L436.03 323.2Z" fill="#585864"/><rect x="439.80" y="308.4" width="3.2" height="1.5" fill="#6c7284"/><rect x="439.80" y="310.9" width="3.2" height="1.7" fill="#4a4a56"/><rect x="439.80" y="313.6" width="3.2" height="1.2" fill="#52525c"/><rect x="439.80" y="315.4" width="3.2" height="1.2" fill="#5c5c66"/><rect x="440.30" y="317.8" width="2.2" height="0.9" fill="#b0b0c0"/><path d="M439.70 319.6 L443.10 319.6 L442.10 323.2 L440.70 323.2Z" fill="#585864"/><rect x="444.47" y="308.4" width="3.2" height="1.5" fill="#6c7284"/><rect x="444.47" y="310.9" width="3.2" height="1.7" fill="#4a4a56"/><rect x="444.47" y="313.6" width="3.2" height="1.2" fill="#52525c"/><rect x="444.47" y="315.4" width="3.2" height="1.2" fill="#5c5c66"/><rect x="444.97" y="317.8" width="2.2" height="0.9" fill="#b0b0c0"/><path d="M444.37 319.6 L447.77 319.6 L446.77 323.2 L445.37 323.2Z" fill="#585864"/><rect x="449.13" y="308.4" width="3.2" height="1.5" fill="#6c7284"/><rect x="449.13" y="310.9" width="3.2" height="1.7" fill="#4a4a56"/><rect x="449.13" y="313.6" width="3.2" height="1.2" fill="#52525c"/><rect x="449.13" y="315.4" width="3.2" height="1.2" fill="#5c5c66"/><rect x="449.63" y="317.8" width="2.2" height="0.9" fill="#b0b0c0"/><path d="M449.03 319.6 L452.43 319.6 L451.43 323.2 L450.03 323.2Z" fill="#585864"/><rect x="453.80" y="308.4" width="3.2" height="1.5" fill="#6c7284"/><rect x="453.80" y="310.9" width="3.2" height="1.7" fill="#4a4a56"/><rect x="453.80" y="313.6" width="3.2" height="1.2" fill="#52525c"/><rect x="453.80" y="315.4" width="3.2" height="1.2" fill="#5c5c66"/><rect x="454.30" y="317.8" width="2.2" height="0.9" fill="#b0b0c0"/><path d="M453.70 319.6 L457.10 319.6 L456.10 323.2 L454.70 323.2Z" fill="#585864"/><rect x="458.47" y="308.4" width="3.2" height="1.5" fill="#6c7284"/><rect x="458.47" y="310.9" width="3.2" height="1.7" fill="#4a4a56"/><rect x="458.47" y="313.6" width="3.2" height="1.2" fill="#52525c"/><rect x="458.47" y="315.4" width="3.2" height="1.2" fill="#5c5c66"/><rect x="458.97" y="317.8" width="2.2" height="0.9" fill="#b0b0c0"/><path d="M458.37 319.6 L461.77 319.6 L460.77 323.2 L459.37 323.2Z" fill="#585864"/><rect x="463.13" y="308.4" width="3.2" height="1.5" fill="#6c7284"/><rect x="463.13" y="310.9" width="3.2" height="1.7" fill="#4a4a56"/><rect x="463.13" y="313.6" width="3.2" height="1.2" fill="#52525c"/><rect x="463.13" y="315.4" width="3.2" height="1.2" fill="#5c5c66"/><rect x="463.63" y="317.8" width="2.2" height="0.9" fill="#b0b0c0"/><path d="M463.03 319.6 L466.43 319.6 L465.43 323.2 L464.03 323.2Z" fill="#585864"/><rect x="467.80" y="308.4" width="3.2" height="1.5" fill="#6c7284"/><rect x="467.80" y="310.9" width="3.2" height="1.7" fill="#4a4a56"/><rect x="467.80" y="313.6" width="3.2" height="1.2" fill="#52525c"/><rect x="467.80" y="315.4" width="3.2" height="1.2" fill="#5c5c66"/><rect x="468.30" y="317.8" width="2.2" height="0.9" fill="#b0b0c0"/><path d="M467.70 319.6 L471.10 319.6 L470.10 323.2 L468.70 323.2Z" fill="#585864"/><rect x="472.47" y="308.4" width="3.2" height="1.5" fill="#6c7284"/><rect x="472.47" y="310.9" width="3.2" height="1.7" fill="#4a4a56"/><rect x="472.47" y="313.6" width="3.2" height="1.2" fill="#52525c"/><rect x="472.47" y="315.4" width="3.2" height="1.2" fill="#5c5c66"/><rect x="472.97" y="317.8" width="2.2" height="0.9" fill="#b0b0c0"/><path d="M472.37 319.6 L475.77 319.6 L474.77 323.2 L473.37 323.2Z" fill="#585864"/><rect x="477.13" y="308.4" width="3.2" height="1.5" fill="#6c7284"/><rect x="477.13" y="310.9" width="3.2" height="1.7" fill="#4a4a56"/><rect x="477.13" y="313.6" width="3.2" height="1.2" fill="#52525c"/><rect x="477.13" y="315.4" width="3.2" height="1.2" fill="#5c5c66"/><rect x="477.63" y="317.8" width="2.2" height="0.9" fill="#b0b0c0"/><path d="M477.03 319.6 L480.43 319.6 L479.43 323.2 L478.03 323.2Z" fill="#585864"/><rect x="481.80" y="308.4" width="3.2" height="1.5" fill="#6c7284"/><rect x="481.80" y="310.9" width="3.2" height="1.7" fill="#4a4a56"/><rect x="481.80" y="313.6" width="3.2" height="1.2" fill="#52525c"/><rect x="481.80" y="315.4" width="3.2" height="1.2" fill="#5c5c66"/><rect x="482.30" y="317.8" width="2.2" height="0.9" fill="#b0b0c0"/><path d="M481.70 319.6 L485.10 319.6 L484.10 323.2 L482.70 323.2Z" fill="#585864"/><rect x="486.47" y="308.4" width="3.2" height="1.5" fill="#6c7284"/><rect x="486.47" y="310.9" width="3.2" height="1.7" fill="#4a4a56"/><rect x="486.47" y="313.6" width="3.2" height="1.2" fill="#52525c"/><rect x="486.47" y="315.4" width="3.2" height="1.2" fill="#5c5c66"/><rect x="486.97" y="317.8" width="2.2" height="0.9" fill="#b0b0c0"/><path d="M486.37 319.6 L489.77 319.6 L488.77 323.2 L487.37 323.2Z" fill="#585864"/><rect x="1.20" y="324.3" width="4.750" height="15.1" fill="#10fa10" shape-rendering="crispEdges"/><rect x="5.90" y="324.3" width="4.750" height="15.1" fill="#10fa10" shape-rendering="crispEdges"/><rect x="10.60" y="324.3" width="4.750" height="15.1" fill="#10fa10" shape-rendering="crispEdges"/><rect x="15.30" y="324.3" width="4.750" height="15.1" fill="#10fa10" shape-rendering="crispEdges"/><rect x="20.00" y="324.3" width="4.750" height="15.1" fill="#10fa10" shape-rendering="crispEdges"/><rect x="24.70" y="324.3" width="4.750" height="15.1" fill="#10fa10" shape-rendering="crispEdges"/><rect x="29.40" y="324.3" width="4.750" height="15.1" fill="#10fa10" shape-rendering="crispEdges"/><rect x="34.10" y="324.3" width="4.907" height="15.1" fill="#001a00" shape-rendering="crispEdges"/><rect x="38.96" y="324.3" width="4.907" height="15.1" fill="#10a010" shape-rendering="crispEdges"/><rect x="43.81" y="324.3" width="4.907" height="15.1" fill="#003200" shape-rendering="crispEdges"/><rect x="48.67" y="324.3" width="4.907" height="15.1" fill="#001200" shape-rendering="crispEdges"/><rect x="53.53" y="324.3" width="4.907" height="15.1" fill="#000000" shape-rendering="crispEdges"/><rect x="58.39" y="324.3" width="4.907" height="15.1" fill="#0a0000" shape-rendering="crispEdges"/><rect x="63.24" y="324.3" width="4.907" height="15.1" fill="#20c020" shape-rendering="crispEdges"/><rect x="68.10" y="324.3" width="4.840" height="15.1" fill="#1a0000" shape-rendering="crispEdges"/><rect x="72.89" y="324.3" width="4.840" height="15.1" fill="#300000" shape-rendering="crispEdges"/><rect x="77.68" y="324.3" width="4.840" height="15.1" fill="#400000" shape-rendering="crispEdges"/><rect x="82.47" y="324.3" width="4.840" height="15.1" fill="#0a0000" shape-rendering="crispEdges"/><rect x="87.26" y="324.3" width="4.840" height="15.1" fill="#300000" shape-rendering="crispEdges"/><rect x="92.05" y="324.3" width="4.840" height="15.1" fill="#10a010" shape-rendering="crispEdges"/><rect x="96.84" y="324.3" width="4.840" height="15.1" fill="#108010" shape-rendering="crispEdges"/><rect x="101.63" y="324.3" width="4.840" height="15.1" fill="#105010" shape-rendering="crispEdges"/><rect x="106.42" y="324.3" width="4.840" height="15.1" fill="#500000" shape-rendering="crispEdges"/><rect x="111.21" y="324.3" width="4.840" height="15.1" fill="#300000" shape-rendering="crispEdges"/><rect x="116.00" y="324.3" width="4.840" height="15.1" fill="#300000" shape-rendering="crispEdges"/><rect x="120.80" y="324.3" width="4.840" height="15.1" fill="#400000" shape-rendering="crispEdges"/><rect x="125.59" y="324.3" width="4.840" height="15.1" fill="#a00000" shape-rendering="crispEdges"/><rect x="130.38" y="324.3" width="4.840" height="15.1" fill="#003000" shape-rendering="crispEdges"/><rect x="135.17" y="324.3" width="4.840" height="15.1" fill="#400000" shape-rendering="crispEdges"/><rect x="139.96" y="324.3" width="4.840" height="15.1" fill="#500000" shape-rendering="crispEdges"/><rect x="144.75" y="324.3" width="4.840" height="15.1" fill="#e00000" shape-rendering="crispEdges"/><rect x="149.54" y="324.3" width="4.840" height="15.1" fill="#100000" shape-rendering="crispEdges"/><rect x="154.33" y="324.3" width="4.840" height="15.1" fill="#300000" shape-rendering="crispEdges"/><rect x="159.12" y="324.3" width="4.840" height="15.1" fill="#700000" shape-rendering="crispEdges"/><rect x="163.91" y="324.3" width="4.840" height="15.1" fill="#800000" shape-rendering="crispEdges"/><rect x="168.70" y="324.3" width="4.840" height="15.1" fill="#700000" shape-rendering="crispEdges"/><rect x="173.49" y="324.3" width="4.840" height="15.1" fill="#500000" shape-rendering="crispEdges"/><rect x="178.28" y="324.3" width="4.840" height="15.1" fill="#002000" shape-rendering="crispEdges"/><rect x="183.07" y="324.3" width="4.840" height="15.1" fill="#105010" shape-rendering="crispEdges"/><rect x="187.86" y="324.3" width="4.840" height="15.1" fill="#001000" shape-rendering="crispEdges"/><rect x="192.65" y="324.3" width="4.840" height="15.1" fill="#20d020" shape-rendering="crispEdges"/><rect x="197.44" y="324.3" width="4.840" height="15.1" fill="#100000" shape-rendering="crispEdges"/><rect x="202.23" y="324.3" width="4.840" height="15.1" fill="#100000" shape-rendering="crispEdges"/><rect x="207.02" y="324.3" width="4.840" height="15.1" fill="#800000" shape-rendering="crispEdges"/><rect x="211.81" y="324.3" width="4.840" height="15.1" fill="#100000" shape-rendering="crispEdges"/><rect x="216.60" y="324.3" width="4.840" height="15.1" fill="#001000" shape-rendering="crispEdges"/><rect x="221.40" y="324.3" width="4.840" height="15.1" fill="#104010" shape-rendering="crispEdges"/><rect x="226.19" y="324.3" width="4.840" height="15.1" fill="#003000" shape-rendering="crispEdges"/><rect x="230.98" y="324.3" width="4.840" height="15.1" fill="#000000" shape-rendering="crispEdges"/><rect x="235.77" y="324.3" width="4.840" height="15.1" fill="#300000" shape-rendering="crispEdges"/><rect x="240.56" y="324.3" width="4.840" height="15.1" fill="#a00000" shape-rendering="crispEdges"/><rect x="245.35" y="324.3" width="4.840" height="15.1" fill="#100000" shape-rendering="crispEdges"/><rect x="250.14" y="324.3" width="4.840" height="15.1" fill="#700000" shape-rendering="crispEdges"/><rect x="254.93" y="324.3" width="4.840" height="15.1" fill="#200000" shape-rendering="crispEdges"/><rect x="259.72" y="324.3" width="4.840" height="15.1" fill="#500000" shape-rendering="crispEdges"/><rect x="264.51" y="324.3" width="4.840" height="15.1" fill="#103010" shape-rendering="crispEdges"/><rect x="269.30" y="324.3" width="4.841" height="15.1" fill="#002000" shape-rendering="crispEdges"/><rect x="274.09" y="324.3" width="4.841" height="15.1" fill="#500000" shape-rendering="crispEdges"/><rect x="278.88" y="324.3" width="4.841" height="15.1" fill="#100000" shape-rendering="crispEdges"/><rect x="283.67" y="324.3" width="4.841" height="15.1" fill="#001000" shape-rendering="crispEdges"/><rect x="288.46" y="324.3" width="4.841" height="15.1" fill="#300000" shape-rendering="crispEdges"/><rect x="293.25" y="324.3" width="4.841" height="15.1" fill="#600000" shape-rendering="crispEdges"/><rect x="298.05" y="324.3" width="4.841" height="15.1" fill="#400000" shape-rendering="crispEdges"/><rect x="302.84" y="324.3" width="4.841" height="15.1" fill="#500000" shape-rendering="crispEdges"/><rect x="307.63" y="324.3" width="4.841" height="15.1" fill="#800000" shape-rendering="crispEdges"/><rect x="312.42" y="324.3" width="4.841" height="15.1" fill="#200000" shape-rendering="crispEdges"/><rect x="317.21" y="324.3" width="4.841" height="15.1" fill="#10f010" shape-rendering="crispEdges"/><rect x="322.00" y="324.3" width="4.717" height="15.1" fill="#104010" shape-rendering="crispEdges"/><rect x="326.67" y="324.3" width="4.717" height="15.1" fill="#000000" shape-rendering="crispEdges"/><rect x="331.33" y="324.3" width="4.717" height="15.1" fill="#400000" shape-rendering="crispEdges"/><rect x="336.00" y="324.3" width="4.717" height="15.1" fill="#200000" shape-rendering="crispEdges"/><rect x="340.67" y="324.3" width="4.717" height="15.1" fill="#400000" shape-rendering="crispEdges"/><rect x="345.33" y="324.3" width="4.717" height="15.1" fill="#600000" shape-rendering="crispEdges"/><rect x="350.00" y="324.3" width="4.717" height="15.1" fill="#600000" shape-rendering="crispEdges"/><rect x="354.67" y="324.3" width="4.717" height="15.1" fill="#600000" shape-rendering="crispEdges"/><rect x="359.33" y="324.3" width="4.717" height="15.1" fill="#500000" shape-rendering="crispEdges"/><rect x="364.00" y="324.3" width="4.717" height="15.1" fill="#000000" shape-rendering="crispEdges"/><rect x="368.67" y="324.3" width="4.717" height="15.1" fill="#100000" shape-rendering="crispEdges"/><rect x="373.33" y="324.3" width="4.717" height="15.1" fill="#300000" shape-rendering="crispEdges"/><rect x="378.00" y="324.3" width="4.717" height="15.1" fill="#100000" shape-rendering="crispEdges"/><rect x="382.67" y="324.3" width="4.717" height="15.1" fill="#108010" shape-rendering="crispEdges"/><rect x="387.33" y="324.3" width="4.717" height="15.1" fill="#400000" shape-rendering="crispEdges"/><rect x="392.00" y="324.3" width="4.717" height="15.1" fill="#700000" shape-rendering="crispEdges"/><rect x="396.67" y="324.3" width="4.717" height="15.1" fill="#300000" shape-rendering="crispEdges"/><rect x="401.33" y="324.3" width="4.717" height="15.1" fill="#100000" shape-rendering="crispEdges"/><rect x="406.00" y="324.3" width="4.717" height="15.1" fill="#300000" shape-rendering="crispEdges"/><rect x="410.67" y="324.3" width="4.717" height="15.1" fill="#103010" shape-rendering="crispEdges"/><rect x="415.33" y="324.3" width="4.717" height="15.1" fill="#100000" shape-rendering="crispEdges"/><rect x="420.00" y="324.3" width="4.717" height="15.1" fill="#300000" shape-rendering="crispEdges"/><rect x="424.67" y="324.3" width="4.717" height="15.1" fill="#400000" shape-rendering="crispEdges"/><rect x="429.33" y="324.3" width="4.717" height="15.1" fill="#900000" shape-rendering="crispEdges"/><rect x="434.00" y="324.3" width="4.717" height="15.1" fill="#209020" shape-rendering="crispEdges"/><rect x="438.67" y="324.3" width="4.717" height="15.1" fill="#104010" shape-rendering="crispEdges"/><rect x="443.33" y="324.3" width="4.717" height="15.1" fill="#500000" shape-rendering="crispEdges"/><rect x="448.00" y="324.3" width="4.717" height="15.1" fill="#000000" shape-rendering="crispEdges"/><rect x="452.67" y="324.3" width="4.717" height="15.1" fill="#900000" shape-rendering="crispEdges"/><rect x="457.33" y="324.3" width="4.717" height="15.1" fill="#900000" shape-rendering="crispEdges"/><rect x="462.00" y="324.3" width="4.717" height="15.1" fill="#900000" shape-rendering="crispEdges"/><rect x="466.67" y="324.3" width="4.717" height="15.1" fill="#800000" shape-rendering="crispEdges"/><rect x="471.33" y="324.3" width="4.717" height="15.1" fill="#b00000" shape-rendering="crispEdges"/><rect x="476.00" y="324.3" width="4.717" height="15.1" fill="#600000" shape-rendering="crispEdges"/><rect x="480.67" y="324.3" width="4.717" height="15.1" fill="#a00000" shape-rendering="crispEdges"/><rect x="485.33" y="324.3" width="4.717" height="15.1" fill="#900000" shape-rendering="crispEdges"/><text x="491.4" y="335.2" font-size="11.6" font-weight="bold" fill="#000">TP53</text><filter id="bl" filterUnits="userSpaceOnUse" x="1" y="340" width="489.5" height="326"><feGaussianBlur stdDeviation="0.8"/></filter><g id="hmg"><rect x="1.2" y="340.5" width="488.8" height="324.22" fill="#100404"/><g transform="translate(1.200,340.5) scale(4.70000,3.77)" shape-rendering="crispEdges"><path fill="#086008" d="M0 0h1v1h-1zM1 1h1v1h-1zM0 18h1v1h-1zM6 32h1v1h-1zM5 37h1v1h-1zM5 42h1v1h-1zM1 45h1v1h-1zM4 46h1v1h-1zM2 58h1v1h-1zM6 58h1v1h-1zM4 62h1v1h-1zM6 84h1v1h-1z"/><path fill="#780000" d="M1 0h1v1h-1zM2 6h1v1h-1zM6 8h1v1h-1zM3 13h1v1h-1zM5 13h1v1h-1zM4 17h1v1h-1zM6 30h1v1h-1zM0 56h1v1h-1zM5 56h1v1h-1zM1 68h1v1h-1zM3 71h1v1h-1zM3 72h1v1h-1zM5 73h1v1h-1zM0 74h1v1h-1z"/><path fill="#085808" d="M2 0h1v1h-1zM3 18h1v1h-1zM0 21h1v1h-1z"/><path fill="#000a00" d="M3 0h1v1h-1zM1 2h1v1h-1zM3 4h1v1h-1zM4 13h1v1h-1zM1 14h1v1h-1zM6 22h1v1h-1zM4 24h1v1h-1zM5 29h1v1h-1zM6 29h1v1h-1zM1 30h1v1h-1zM2 31h1v1h-1zM2 33h1v1h-1zM4 39h1v1h-1zM3 40h1v1h-1zM1 41h1v1h-1zM2 41h1v1h-1zM4 43h1v1h-1zM5 44h1v1h-1zM6 48h1v1h-1zM3 49h1v1h-1zM3 51h1v1h-1zM4 54h1v1h-1zM2 56h1v1h-1zM3 56h1v1h-1zM6 57h1v1h-1zM0 59h1v1h-1zM0 61h1v1h-1zM2 62h1v1h-1zM5 79h1v1h-1zM1 82h1v1h-1zM2 82h1v1h-1zM1 84h1v1h-1zM5 84h1v1h-1z"/><path fill="#300000" d="M4 0h1v1h-1zM3 2h1v1h-1zM6 7h1v1h-1zM3 12h1v1h-1zM5 32h1v1h-1zM6 68h1v1h-1zM6 69h1v1h-1zM1 76h1v1h-1zM6 82h1v1h-1zM2 84h1v1h-1z"/><path fill="#5a0000" d="M5 0h1v1h-1zM3 5h1v1h-1zM1 7h1v1h-1zM0 13h1v1h-1zM2 13h1v1h-1zM4 14h1v1h-1zM1 16h1v1h-1zM1 27h1v1h-1zM5 52h1v1h-1zM0 58h1v1h-1zM6 80h1v1h-1zM3 85h1v1h-1z"/><path fill="#105010" d="M6 0h1v1h-1zM2 9h1v1h-1zM0 10h1v1h-1zM2 14h1v1h-1zM2 15h1v1h-1zM3 19h1v1h-1z"/><path fill="#002800" d="M0 1h1v1h-1zM6 11h1v1h-1zM3 16h1v1h-1zM6 38h1v1h-1zM6 39h1v1h-1zM6 45h1v1h-1zM3 54h1v1h-1zM3 59h1v1h-1zM4 64h1v1h-1zM0 77h1v1h-1z"/><path fill="#900808" d="M2 1h1v1h-1zM4 1h1v1h-1zM5 6h1v1h-1zM1 8h1v1h-1zM3 10h1v1h-1zM4 11h1v1h-1zM0 12h1v1h-1zM0 27h1v1h-1zM0 54h1v1h-1zM0 71h1v1h-1zM5 72h1v1h-1zM0 78h1v1h-1z"/><path fill="#004000" d="M3 1h1v1h-1zM5 3h1v1h-1zM3 23h1v1h-1zM6 23h1v1h-1zM5 24h1v1h-1zM2 42h1v1h-1zM6 46h1v1h-1zM6 47h1v1h-1zM4 53h1v1h-1zM1 56h1v1h-1zM6 72h1v1h-1zM0 80h1v1h-1z"/><path fill="#500000" d="M5 1h1v1h-1zM4 3h1v1h-1zM2 4h1v1h-1zM0 8h1v1h-1zM2 8h1v1h-1zM5 8h1v1h-1zM3 9h1v1h-1zM5 10h1v1h-1zM5 11h1v1h-1zM1 12h1v1h-1zM5 17h1v1h-1z"/><path fill="#140000" d="M6 1h1v1h-1zM4 7h1v1h-1zM6 13h1v1h-1zM6 14h1v1h-1zM4 15h1v1h-1zM2 19h1v1h-1zM1 21h1v1h-1zM2 27h1v1h-1zM3 27h1v1h-1zM6 27h1v1h-1zM4 31h1v1h-1zM6 31h1v1h-1zM5 38h1v1h-1zM1 39h1v1h-1zM1 42h1v1h-1zM6 44h1v1h-1zM0 45h1v1h-1zM3 45h1v1h-1zM3 48h1v1h-1zM6 51h1v1h-1zM3 53h1v1h-1zM0 55h1v1h-1zM3 55h1v1h-1zM5 57h1v1h-1zM1 61h1v1h-1zM6 64h1v1h-1zM1 67h1v1h-1zM6 67h1v1h-1zM4 71h1v1h-1zM3 77h1v1h-1zM3 78h1v1h-1zM3 79h1v1h-1zM6 81h1v1h-1z"/><path fill="#0a4a0a" d="M0 2h1v1h-1zM2 3h1v1h-1zM1 18h1v1h-1zM2 18h1v1h-1zM5 18h1v1h-1z"/><path fill="#0c8c0c" d="M2 2h1v1h-1zM6 4h1v1h-1zM4 26h1v1h-1zM1 28h1v1h-1zM6 41h1v1h-1z"/><path fill="#c00808" d="M4 2h1v1h-1zM0 4h1v1h-1zM4 16h1v1h-1zM1 23h1v1h-1zM1 26h1v1h-1zM1 40h1v1h-1zM0 47h1v1h-1zM4 55h1v1h-1zM6 55h1v1h-1zM2 57h1v1h-1zM5 66h1v1h-1zM3 67h1v1h-1zM0 68h1v1h-1zM2 71h1v1h-1zM4 73h1v1h-1zM4 75h1v1h-1zM4 78h1v1h-1zM3 82h1v1h-1z"/><path fill="#600808" d="M5 2h1v1h-1zM3 6h1v1h-1zM2 7h1v1h-1zM5 9h1v1h-1zM6 16h1v1h-1zM0 20h1v1h-1zM0 26h1v1h-1zM4 29h1v1h-1z"/><path fill="#12a812" d="M6 2h1v1h-1zM4 20h1v1h-1zM4 21h1v1h-1zM0 34h1v1h-1zM2 35h1v1h-1zM4 35h1v1h-1zM5 35h1v1h-1zM3 36h1v1h-1zM6 36h1v1h-1zM4 40h1v1h-1zM1 55h1v1h-1zM1 60h1v1h-1zM4 60h1v1h-1zM5 61h1v1h-1zM0 84h1v1h-1z"/><path fill="#480000" d="M0 3h1v1h-1zM1 10h1v1h-1zM5 12h1v1h-1zM0 28h1v1h-1zM0 46h1v1h-1zM5 50h1v1h-1zM4 57h1v1h-1zM0 69h1v1h-1zM6 71h1v1h-1z"/><path fill="#0c400c" d="M1 3h1v1h-1zM3 3h1v1h-1zM1 6h1v1h-1zM0 16h1v1h-1zM4 18h1v1h-1zM0 19h1v1h-1z"/><path fill="#0a700a" d="M6 3h1v1h-1zM6 5h1v1h-1zM2 10h1v1h-1zM1 11h1v1h-1zM4 12h1v1h-1zM6 17h1v1h-1zM4 19h1v1h-1zM2 20h1v1h-1zM2 21h1v1h-1zM4 23h1v1h-1zM4 25h1v1h-1zM5 27h1v1h-1zM1 32h1v1h-1zM4 32h1v1h-1zM1 33h1v1h-1zM3 37h1v1h-1zM5 41h1v1h-1zM2 47h1v1h-1zM4 47h1v1h-1zM5 49h1v1h-1zM3 57h1v1h-1zM3 62h1v1h-1zM1 79h1v1h-1zM1 81h1v1h-1zM0 82h1v1h-1zM6 83h1v1h-1z"/><path fill="#800000" d="M1 4h1v1h-1zM5 5h1v1h-1zM4 6h1v1h-1zM2 12h1v1h-1zM0 14h1v1h-1zM1 15h1v1h-1zM5 16h1v1h-1zM1 20h1v1h-1zM3 31h1v1h-1zM5 53h1v1h-1zM4 66h1v1h-1zM1 72h1v1h-1zM1 74h1v1h-1zM5 75h1v1h-1zM5 76h1v1h-1zM2 78h1v1h-1zM3 80h1v1h-1zM0 85h1v1h-1zM4 85h1v1h-1z"/><path fill="#c00000" d="M4 4h1v1h-1zM0 48h1v1h-1zM2 59h1v1h-1zM2 64h1v1h-1zM4 65h1v1h-1zM3 66h1v1h-1zM5 67h1v1h-1zM3 68h1v1h-1zM1 69h1v1h-1zM2 69h1v1h-1zM0 70h1v1h-1zM6 70h1v1h-1zM1 75h1v1h-1zM3 75h1v1h-1zM4 79h1v1h-1zM1 85h1v1h-1z"/><path fill="#000000" d="M5 4h1v1h-1zM5 14h1v1h-1zM2 23h1v1h-1zM1 25h1v1h-1zM2 28h1v1h-1zM2 29h1v1h-1zM3 29h1v1h-1zM4 30h1v1h-1zM0 32h1v1h-1zM4 33h1v1h-1zM6 37h1v1h-1zM2 43h1v1h-1zM5 43h1v1h-1zM3 47h1v1h-1zM5 51h1v1h-1zM6 56h1v1h-1zM3 58h1v1h-1zM3 61h1v1h-1zM2 63h1v1h-1zM1 64h1v1h-1zM0 65h1v1h-1zM0 66h1v1h-1zM5 68h1v1h-1zM3 69h1v1h-1zM5 69h1v1h-1zM6 74h1v1h-1zM4 77h1v1h-1zM5 78h1v1h-1zM2 80h1v1h-1z"/><path fill="#cc0000" d="M0 5h1v1h-1zM0 40h1v1h-1zM0 44h1v1h-1zM1 47h1v1h-1zM3 64h1v1h-1zM4 68h1v1h-1zM2 73h1v1h-1zM2 76h1v1h-1zM5 77h1v1h-1zM4 83h1v1h-1zM5 85h1v1h-1z"/><path fill="#880000" d="M1 5h1v1h-1zM5 7h1v1h-1zM3 15h1v1h-1zM0 17h1v1h-1zM0 22h1v1h-1zM2 30h1v1h-1zM5 30h1v1h-1zM5 45h1v1h-1zM3 46h1v1h-1zM5 54h1v1h-1zM2 79h1v1h-1z"/><path fill="#680000" d="M2 5h1v1h-1zM4 5h1v1h-1zM0 9h1v1h-1zM4 10h1v1h-1zM0 11h1v1h-1zM3 14h1v1h-1zM0 15h1v1h-1zM5 15h1v1h-1zM2 16h1v1h-1zM1 17h1v1h-1zM4 28h1v1h-1zM0 41h1v1h-1z"/><path fill="#a80000" d="M0 6h1v1h-1zM0 30h1v1h-1zM1 48h1v1h-1zM0 51h1v1h-1zM6 60h1v1h-1zM6 61h1v1h-1zM1 65h1v1h-1zM3 65h1v1h-1zM2 67h1v1h-1zM4 67h1v1h-1zM4 69h1v1h-1zM1 71h1v1h-1zM2 72h1v1h-1zM3 73h1v1h-1zM3 74h1v1h-1zM4 74h1v1h-1zM5 74h1v1h-1zM0 75h1v1h-1zM2 75h1v1h-1zM0 76h1v1h-1zM6 78h1v1h-1zM5 80h1v1h-1zM1 83h1v1h-1zM3 83h1v1h-1zM5 83h1v1h-1z"/><path fill="#1c0000" d="M6 6h1v1h-1zM6 10h1v1h-1zM1 13h1v1h-1zM3 17h1v1h-1zM2 22h1v1h-1zM0 31h1v1h-1zM5 39h1v1h-1zM2 40h1v1h-1zM5 46h1v1h-1zM5 48h1v1h-1zM4 51h1v1h-1zM3 52h1v1h-1zM6 53h1v1h-1zM6 54h1v1h-1zM1 59h1v1h-1zM6 59h1v1h-1zM1 63h1v1h-1zM6 66h1v1h-1zM6 76h1v1h-1zM2 81h1v1h-1zM3 81h1v1h-1zM3 84h1v1h-1z"/><path fill="#b00000" d="M0 7h1v1h-1zM0 23h1v1h-1zM1 44h1v1h-1zM2 55h1v1h-1zM5 55h1v1h-1zM2 60h1v1h-1zM0 64h1v1h-1zM2 65h1v1h-1zM5 65h1v1h-1zM2 66h1v1h-1zM2 68h1v1h-1zM3 70h1v1h-1zM4 72h1v1h-1zM1 73h1v1h-1zM6 73h1v1h-1zM2 74h1v1h-1zM3 76h1v1h-1zM2 77h1v1h-1zM6 77h1v1h-1z"/><path fill="#680404" d="M3 7h1v1h-1zM4 8h1v1h-1zM1 9h1v1h-1zM3 22h1v1h-1zM1 24h1v1h-1zM3 26h1v1h-1zM0 52h1v1h-1zM1 54h1v1h-1zM6 62h1v1h-1zM1 66h1v1h-1zM1 70h1v1h-1zM5 71h1v1h-1zM4 76h1v1h-1z"/><path fill="#520000" d="M3 8h1v1h-1zM0 25h1v1h-1zM1 46h1v1h-1zM0 67h1v1h-1zM5 70h1v1h-1zM0 73h1v1h-1zM6 75h1v1h-1zM4 82h1v1h-1z"/><path fill="#108010" d="M4 9h1v1h-1zM3 11h1v1h-1zM6 19h1v1h-1zM3 30h1v1h-1zM1 31h1v1h-1zM2 32h1v1h-1zM4 37h1v1h-1zM5 40h1v1h-1zM6 42h1v1h-1zM3 60h1v1h-1zM6 79h1v1h-1z"/><path fill="#0a0400" d="M6 9h1v1h-1zM2 11h1v1h-1zM6 12h1v1h-1zM5 23h1v1h-1zM2 26h1v1h-1zM4 27h1v1h-1zM0 29h1v1h-1zM0 33h1v1h-1zM3 41h1v1h-1zM0 43h1v1h-1zM3 43h1v1h-1zM5 47h1v1h-1zM0 50h1v1h-1zM3 50h1v1h-1zM4 50h1v1h-1zM1 51h1v1h-1zM1 52h1v1h-1zM2 52h1v1h-1zM2 53h1v1h-1zM4 56h1v1h-1zM5 59h1v1h-1zM0 60h1v1h-1zM2 61h1v1h-1zM0 63h1v1h-1zM5 64h1v1h-1zM4 70h1v1h-1zM4 80h1v1h-1zM0 83h1v1h-1zM2 85h1v1h-1z"/><path fill="#20d820" d="M6 15h1v1h-1zM1 29h1v1h-1zM5 33h1v1h-1zM6 33h1v1h-1zM2 34h1v1h-1zM3 34h1v1h-1zM6 34h1v1h-1zM1 36h1v1h-1zM5 36h1v1h-1zM4 38h1v1h-1zM0 39h1v1h-1zM2 45h1v1h-1zM4 48h1v1h-1zM1 50h1v1h-1zM0 53h1v1h-1zM1 57h1v1h-1zM1 77h1v1h-1zM4 84h1v1h-1z"/><path fill="#1ee01e" d="M2 17h1v1h-1zM1 19h1v1h-1zM5 20h1v1h-1zM6 20h1v1h-1zM6 21h1v1h-1zM4 22h1v1h-1zM0 24h1v1h-1zM1 34h1v1h-1zM0 35h1v1h-1zM0 36h1v1h-1zM0 38h1v1h-1zM4 41h1v1h-1zM4 42h1v1h-1zM4 52h1v1h-1zM5 60h1v1h-1zM4 61h1v1h-1zM5 63h1v1h-1zM6 85h1v1h-1z"/><path fill="#065006" d="M6 18h1v1h-1zM6 25h1v1h-1zM6 26h1v1h-1zM3 28h1v1h-1zM1 37h1v1h-1zM3 39h1v1h-1zM1 43h1v1h-1zM6 43h1v1h-1zM2 83h1v1h-1z"/><path fill="#22e822" d="M5 19h1v1h-1zM5 21h1v1h-1zM2 24h1v1h-1zM3 24h1v1h-1zM6 24h1v1h-1zM3 25h1v1h-1zM5 25h1v1h-1zM6 28h1v1h-1zM5 31h1v1h-1zM5 34h1v1h-1zM1 35h1v1h-1zM2 37h1v1h-1zM2 39h1v1h-1zM6 40h1v1h-1zM2 44h1v1h-1zM2 49h1v1h-1zM4 49h1v1h-1zM1 53h1v1h-1zM4 63h1v1h-1zM6 63h1v1h-1zM0 81h1v1h-1z"/><path fill="#3c0000" d="M3 20h1v1h-1zM1 22h1v1h-1zM5 28h1v1h-1zM3 44h1v1h-1zM2 48h1v1h-1zM2 51h1v1h-1zM6 52h1v1h-1zM2 70h1v1h-1zM0 72h1v1h-1zM0 79h1v1h-1zM1 80h1v1h-1z"/><path fill="#003000" d="M3 21h1v1h-1zM3 32h1v1h-1zM3 33h1v1h-1zM0 37h1v1h-1zM1 38h1v1h-1zM2 38h1v1h-1zM3 38h1v1h-1zM6 49h1v1h-1zM2 54h1v1h-1zM5 62h1v1h-1z"/><path fill="#18c818" d="M5 22h1v1h-1zM4 34h1v1h-1zM3 35h1v1h-1zM6 35h1v1h-1zM4 44h1v1h-1zM2 46h1v1h-1zM1 49h1v1h-1zM6 50h1v1h-1zM0 57h1v1h-1zM1 62h1v1h-1zM6 65h1v1h-1zM1 78h1v1h-1zM5 81h1v1h-1zM5 82h1v1h-1z"/><path fill="#14b414" d="M2 25h1v1h-1zM5 26h1v1h-1zM2 36h1v1h-1zM4 36h1v1h-1zM0 42h1v1h-1zM3 42h1v1h-1zM4 45h1v1h-1zM0 49h1v1h-1zM2 50h1v1h-1zM4 58h1v1h-1zM5 58h1v1h-1zM4 59h1v1h-1zM0 62h1v1h-1zM4 81h1v1h-1z"/><path fill="#149014" d="M1 58h1v1h-1zM3 63h1v1h-1z"/></g><g transform="translate(0.100,340.5) scale(4.85714,3.77)" shape-rendering="crispEdges"><path fill="#085808" d="M7 0h1v1h-1zM11 5h1v1h-1zM9 12h1v1h-1zM8 16h1v1h-1zM13 21h1v1h-1z"/><path fill="#0a0400" d="M8 0h1v1h-1zM12 0h1v1h-1zM7 4h1v1h-1zM13 8h1v1h-1zM8 11h1v1h-1zM10 12h1v1h-1zM10 14h1v1h-1zM12 14h1v1h-1zM7 20h1v1h-1zM11 20h1v1h-1zM8 24h1v1h-1zM12 25h1v1h-1zM9 27h1v1h-1zM10 27h1v1h-1zM11 28h1v1h-1zM7 30h1v1h-1zM8 31h1v1h-1zM9 31h1v1h-1zM13 32h1v1h-1zM10 33h1v1h-1zM13 43h1v1h-1zM7 47h1v1h-1zM9 53h1v1h-1zM7 56h1v1h-1zM12 58h1v1h-1zM12 59h1v1h-1zM8 62h1v1h-1zM12 67h1v1h-1zM13 67h1v1h-1zM10 69h1v1h-1zM12 69h1v1h-1zM7 70h1v1h-1zM13 70h1v1h-1zM7 72h1v1h-1zM8 83h1v1h-1z"/><path fill="#105010" d="M9 0h1v1h-1zM9 2h1v1h-1zM8 4h1v1h-1zM13 7h1v1h-1zM8 8h1v1h-1zM9 13h1v1h-1zM11 16h1v1h-1z"/><path fill="#600808" d="M10 0h1v1h-1zM11 0h1v1h-1zM7 18h1v1h-1zM10 20h1v1h-1zM9 54h1v1h-1z"/><path fill="#0c400c" d="M13 0h1v1h-1zM9 1h1v1h-1zM9 4h1v1h-1zM8 15h1v1h-1zM13 15h1v1h-1z"/><path fill="#002800" d="M7 1h1v1h-1zM12 3h1v1h-1zM10 4h1v1h-1zM8 26h1v1h-1zM12 27h1v1h-1zM13 28h1v1h-1zM12 35h1v1h-1zM8 41h1v1h-1zM12 45h1v1h-1zM9 51h1v1h-1zM11 52h1v1h-1z"/><path fill="#003000" d="M8 1h1v1h-1zM8 2h1v1h-1zM8 12h1v1h-1zM9 15h1v1h-1zM11 26h1v1h-1zM13 27h1v1h-1zM9 29h1v1h-1zM7 34h1v1h-1zM10 35h1v1h-1zM8 42h1v1h-1zM9 46h1v1h-1zM13 59h1v1h-1zM8 60h1v1h-1zM13 62h1v1h-1zM13 66h1v1h-1zM13 69h1v1h-1zM9 71h1v1h-1zM12 73h1v1h-1zM8 75h1v1h-1z"/><path fill="#004000" d="M10 1h1v1h-1zM13 13h1v1h-1zM7 17h1v1h-1zM10 31h1v1h-1zM13 35h1v1h-1zM12 43h1v1h-1zM8 56h1v1h-1zM9 57h1v1h-1zM10 68h1v1h-1zM12 85h1v1h-1z"/><path fill="#500000" d="M11 1h1v1h-1zM12 6h1v1h-1zM12 8h1v1h-1zM12 13h1v1h-1zM11 14h1v1h-1zM10 18h1v1h-1zM11 18h1v1h-1zM12 20h1v1h-1zM7 21h1v1h-1zM11 23h1v1h-1zM8 36h1v1h-1zM11 36h1v1h-1z"/><path fill="#780000" d="M12 1h1v1h-1zM12 9h1v1h-1zM11 12h1v1h-1zM11 17h1v1h-1zM10 45h1v1h-1zM8 51h1v1h-1zM12 52h1v1h-1z"/><path fill="#0a700a" d="M13 1h1v1h-1zM10 2h1v1h-1zM13 2h1v1h-1zM8 5h1v1h-1zM7 7h1v1h-1zM9 7h1v1h-1zM10 10h1v1h-1zM12 10h1v1h-1zM13 11h1v1h-1zM10 13h1v1h-1zM7 14h1v1h-1zM12 16h1v1h-1zM12 22h1v1h-1zM7 24h1v1h-1zM13 31h1v1h-1zM9 32h1v1h-1zM10 32h1v1h-1zM8 33h1v1h-1zM8 35h1v1h-1zM7 36h1v1h-1zM9 38h1v1h-1zM7 39h1v1h-1zM8 39h1v1h-1zM9 39h1v1h-1zM9 40h1v1h-1zM10 54h1v1h-1zM9 56h1v1h-1zM10 56h1v1h-1zM12 57h1v1h-1zM11 63h1v1h-1zM7 65h1v1h-1zM10 72h1v1h-1zM13 74h1v1h-1zM7 78h1v1h-1zM10 83h1v1h-1z"/><path fill="#1c0000" d="M7 2h1v1h-1zM7 16h1v1h-1zM12 26h1v1h-1zM13 26h1v1h-1zM7 35h1v1h-1zM12 37h1v1h-1zM12 39h1v1h-1zM13 40h1v1h-1zM11 42h1v1h-1zM7 43h1v1h-1zM10 44h1v1h-1zM7 45h1v1h-1zM10 47h1v1h-1zM9 48h1v1h-1zM10 50h1v1h-1zM12 50h1v1h-1zM13 56h1v1h-1zM8 57h1v1h-1zM9 58h1v1h-1zM13 58h1v1h-1zM9 60h1v1h-1zM8 61h1v1h-1zM9 61h1v1h-1zM13 61h1v1h-1zM9 62h1v1h-1zM8 63h1v1h-1zM12 65h1v1h-1zM12 66h1v1h-1zM8 68h1v1h-1zM11 70h1v1h-1zM8 72h1v1h-1zM9 72h1v1h-1zM13 79h1v1h-1zM8 80h1v1h-1zM12 83h1v1h-1zM7 85h1v1h-1zM8 85h1v1h-1zM9 85h1v1h-1z"/><path fill="#800000" d="M11 2h1v1h-1zM12 12h1v1h-1zM13 23h1v1h-1zM12 24h1v1h-1zM8 27h1v1h-1zM13 29h1v1h-1zM7 33h1v1h-1zM9 36h1v1h-1zM13 48h1v1h-1zM7 52h1v1h-1zM13 52h1v1h-1zM12 53h1v1h-1z"/><path fill="#900808" d="M12 2h1v1h-1zM7 8h1v1h-1zM10 19h1v1h-1zM9 28h1v1h-1zM10 41h1v1h-1zM9 42h1v1h-1zM13 51h1v1h-1zM11 65h1v1h-1zM7 69h1v1h-1zM12 81h1v1h-1zM7 83h1v1h-1z"/><path fill="#086008" d="M7 3h1v1h-1zM9 9h1v1h-1zM12 11h1v1h-1zM12 33h1v1h-1zM11 41h1v1h-1zM7 44h1v1h-1zM8 52h1v1h-1zM7 55h1v1h-1zM12 61h1v1h-1zM13 64h1v1h-1zM13 68h1v1h-1zM9 70h1v1h-1zM10 73h1v1h-1z"/><path fill="#000000" d="M8 3h1v1h-1zM11 6h1v1h-1zM13 6h1v1h-1zM11 10h1v1h-1zM10 21h1v1h-1zM9 23h1v1h-1zM12 23h1v1h-1zM8 28h1v1h-1zM11 30h1v1h-1zM12 32h1v1h-1zM12 34h1v1h-1zM7 46h1v1h-1zM8 47h1v1h-1zM9 49h1v1h-1zM8 50h1v1h-1zM9 50h1v1h-1zM12 56h1v1h-1zM10 57h1v1h-1zM11 58h1v1h-1zM10 65h1v1h-1zM7 66h1v1h-1zM8 67h1v1h-1zM11 69h1v1h-1zM7 71h1v1h-1zM11 71h1v1h-1zM11 72h1v1h-1zM9 74h1v1h-1zM9 75h1v1h-1zM12 80h1v1h-1zM13 83h1v1h-1zM11 84h1v1h-1zM12 84h1v1h-1z"/><path fill="#14b414" d="M9 3h1v1h-1zM8 14h1v1h-1zM13 18h1v1h-1zM11 32h1v1h-1zM8 34h1v1h-1zM13 34h1v1h-1zM9 59h1v1h-1zM7 62h1v1h-1zM7 63h1v1h-1z"/><path fill="#18c818" d="M10 3h1v1h-1zM10 8h1v1h-1zM10 17h1v1h-1zM11 22h1v1h-1zM11 29h1v1h-1zM8 38h1v1h-1zM12 42h1v1h-1zM10 43h1v1h-1zM11 44h1v1h-1zM8 48h1v1h-1zM10 52h1v1h-1zM12 54h1v1h-1zM7 60h1v1h-1zM13 72h1v1h-1zM8 73h1v1h-1z"/><path fill="#1ee01e" d="M11 3h1v1h-1zM13 3h1v1h-1zM10 11h1v1h-1zM11 11h1v1h-1zM9 26h1v1h-1zM7 27h1v1h-1zM11 27h1v1h-1zM7 29h1v1h-1zM13 33h1v1h-1zM11 37h1v1h-1zM13 60h1v1h-1zM9 68h1v1h-1zM11 83h1v1h-1zM11 85h1v1h-1z"/><path fill="#680000" d="M11 4h1v1h-1zM12 4h1v1h-1zM12 7h1v1h-1zM7 9h1v1h-1zM12 15h1v1h-1zM13 22h1v1h-1zM7 23h1v1h-1zM10 23h1v1h-1z"/><path fill="#12a812" d="M13 4h1v1h-1zM10 16h1v1h-1zM13 20h1v1h-1zM11 33h1v1h-1zM9 34h1v1h-1zM11 35h1v1h-1zM11 43h1v1h-1zM8 44h1v1h-1zM7 49h1v1h-1zM7 74h1v1h-1z"/><path fill="#149014" d="M7 5h1v1h-1zM10 5h1v1h-1zM7 6h1v1h-1zM10 6h1v1h-1zM10 7h1v1h-1zM10 9h1v1h-1zM9 14h1v1h-1zM9 16h1v1h-1zM9 35h1v1h-1zM9 37h1v1h-1zM7 38h1v1h-1zM8 40h1v1h-1zM11 40h1v1h-1zM7 42h1v1h-1zM10 51h1v1h-1zM12 51h1v1h-1zM9 52h1v1h-1zM11 55h1v1h-1zM11 62h1v1h-1zM8 74h1v1h-1zM13 77h1v1h-1z"/><path fill="#0c8c0c" d="M9 5h1v1h-1zM8 7h1v1h-1zM13 37h1v1h-1zM10 40h1v1h-1zM7 41h1v1h-1zM11 60h1v1h-1zM11 61h1v1h-1zM11 67h1v1h-1zM11 68h1v1h-1zM10 70h1v1h-1zM10 71h1v1h-1zM13 71h1v1h-1zM11 73h1v1h-1zM13 73h1v1h-1zM11 74h1v1h-1z"/><path fill="#000a00" d="M12 5h1v1h-1zM9 8h1v1h-1zM8 9h1v1h-1zM9 11h1v1h-1zM8 13h1v1h-1zM13 14h1v1h-1zM8 19h1v1h-1zM9 19h1v1h-1zM8 20h1v1h-1zM8 21h1v1h-1zM8 22h1v1h-1zM9 24h1v1h-1zM8 30h1v1h-1zM13 30h1v1h-1zM11 31h1v1h-1zM9 33h1v1h-1zM8 37h1v1h-1zM10 37h1v1h-1zM11 38h1v1h-1zM13 39h1v1h-1zM9 41h1v1h-1zM12 41h1v1h-1zM13 41h1v1h-1zM9 44h1v1h-1zM11 45h1v1h-1zM12 46h1v1h-1zM7 48h1v1h-1zM11 57h1v1h-1zM12 60h1v1h-1zM10 62h1v1h-1zM9 64h1v1h-1zM12 68h1v1h-1zM12 72h1v1h-1zM11 77h1v1h-1zM13 78h1v1h-1zM13 81h1v1h-1zM7 82h1v1h-1zM13 82h1v1h-1z"/><path fill="#065006" d="M13 5h1v1h-1zM11 7h1v1h-1zM9 10h1v1h-1zM12 17h1v1h-1zM12 21h1v1h-1zM7 25h1v1h-1zM8 32h1v1h-1zM10 36h1v1h-1zM10 39h1v1h-1zM13 42h1v1h-1zM9 45h1v1h-1zM13 45h1v1h-1zM13 57h1v1h-1zM8 59h1v1h-1zM12 71h1v1h-1z"/><path fill="#20d820" d="M8 6h1v1h-1zM9 6h1v1h-1zM11 8h1v1h-1zM7 15h1v1h-1zM8 18h1v1h-1zM10 28h1v1h-1zM8 43h1v1h-1zM8 45h1v1h-1zM8 46h1v1h-1zM10 53h1v1h-1zM11 56h1v1h-1zM7 61h1v1h-1zM7 73h1v1h-1z"/><path fill="#140000" d="M11 9h1v1h-1zM13 9h1v1h-1zM7 12h1v1h-1zM11 13h1v1h-1zM9 22h1v1h-1zM10 26h1v1h-1zM8 29h1v1h-1zM7 31h1v1h-1zM12 31h1v1h-1zM11 34h1v1h-1zM10 42h1v1h-1zM9 43h1v1h-1zM7 50h1v1h-1zM11 50h1v1h-1zM11 54h1v1h-1zM9 55h1v1h-1zM10 55h1v1h-1zM12 55h1v1h-1zM13 55h1v1h-1zM10 58h1v1h-1zM7 59h1v1h-1zM10 60h1v1h-1zM11 66h1v1h-1zM7 68h1v1h-1zM9 69h1v1h-1zM12 70h1v1h-1zM10 75h1v1h-1zM13 75h1v1h-1zM8 76h1v1h-1zM13 76h1v1h-1zM11 78h1v1h-1zM12 78h1v1h-1zM7 80h1v1h-1zM11 80h1v1h-1zM9 84h1v1h-1zM10 84h1v1h-1zM10 85h1v1h-1z"/><path fill="#a80000" d="M7 10h1v1h-1zM11 19h1v1h-1zM7 22h1v1h-1zM11 48h1v1h-1zM10 49h1v1h-1zM11 49h1v1h-1zM9 66h1v1h-1zM8 69h1v1h-1zM12 75h1v1h-1zM10 76h1v1h-1zM8 77h1v1h-1zM8 79h1v1h-1zM9 81h1v1h-1zM11 81h1v1h-1zM8 82h1v1h-1z"/><path fill="#22e822" d="M8 10h1v1h-1zM9 17h1v1h-1zM12 28h1v1h-1zM9 30h1v1h-1zM12 30h1v1h-1zM7 40h1v1h-1zM10 46h1v1h-1zM13 53h1v1h-1zM10 59h1v1h-1zM13 65h1v1h-1zM8 84h1v1h-1z"/><path fill="#300000" d="M13 10h1v1h-1zM8 49h1v1h-1zM12 49h1v1h-1zM8 53h1v1h-1zM7 54h1v1h-1zM9 63h1v1h-1zM8 71h1v1h-1zM9 80h1v1h-1zM10 80h1v1h-1zM13 80h1v1h-1zM9 83h1v1h-1zM13 85h1v1h-1z"/><path fill="#0a4a0a" d="M7 11h1v1h-1zM13 16h1v1h-1zM8 17h1v1h-1z"/><path fill="#5a0000" d="M13 12h1v1h-1zM10 15h1v1h-1zM11 15h1v1h-1zM9 18h1v1h-1zM12 19h1v1h-1zM13 19h1v1h-1zM10 22h1v1h-1zM9 25h1v1h-1zM7 26h1v1h-1zM11 39h1v1h-1zM13 46h1v1h-1zM10 63h1v1h-1zM13 63h1v1h-1zM8 64h1v1h-1zM9 67h1v1h-1zM7 75h1v1h-1zM11 75h1v1h-1zM7 79h1v1h-1zM10 79h1v1h-1z"/><path fill="#cc0000" d="M7 13h1v1h-1zM9 21h1v1h-1zM13 25h1v1h-1zM12 29h1v1h-1zM13 38h1v1h-1zM12 47h1v1h-1zM10 48h1v1h-1zM7 57h1v1h-1zM12 63h1v1h-1zM10 64h1v1h-1zM12 64h1v1h-1zM9 73h1v1h-1zM12 76h1v1h-1zM8 78h1v1h-1zM9 79h1v1h-1zM12 79h1v1h-1zM12 82h1v1h-1z"/><path fill="#108010" d="M13 17h1v1h-1zM8 23h1v1h-1zM10 24h1v1h-1zM11 24h1v1h-1zM11 25h1v1h-1zM7 37h1v1h-1zM12 40h1v1h-1zM11 59h1v1h-1z"/><path fill="#c00000" d="M12 18h1v1h-1zM12 38h1v1h-1zM8 55h1v1h-1zM12 62h1v1h-1zM8 66h1v1h-1zM12 74h1v1h-1zM9 76h1v1h-1zM10 78h1v1h-1zM10 81h1v1h-1zM9 82h1v1h-1z"/><path fill="#3c0000" d="M7 19h1v1h-1zM10 25h1v1h-1zM10 30h1v1h-1zM13 49h1v1h-1zM7 58h1v1h-1z"/><path fill="#c00808" d="M9 20h1v1h-1zM7 51h1v1h-1zM7 64h1v1h-1zM9 65h1v1h-1zM8 70h1v1h-1zM9 77h1v1h-1zM12 77h1v1h-1zM9 78h1v1h-1zM8 81h1v1h-1zM10 82h1v1h-1z"/><path fill="#680404" d="M11 21h1v1h-1zM8 25h1v1h-1zM10 29h1v1h-1zM11 46h1v1h-1zM11 47h1v1h-1zM11 51h1v1h-1zM11 53h1v1h-1zM13 54h1v1h-1zM7 67h1v1h-1zM10 67h1v1h-1zM10 77h1v1h-1zM11 79h1v1h-1zM13 84h1v1h-1z"/><path fill="#520000" d="M13 24h1v1h-1zM12 44h1v1h-1zM12 48h1v1h-1zM7 77h1v1h-1zM7 81h1v1h-1z"/><path fill="#480000" d="M7 28h1v1h-1zM10 34h1v1h-1zM10 38h1v1h-1zM13 50h1v1h-1zM10 66h1v1h-1zM10 74h1v1h-1zM7 76h1v1h-1zM11 76h1v1h-1z"/><path fill="#b00000" d="M7 32h1v1h-1zM12 36h1v1h-1zM9 47h1v1h-1zM13 47h1v1h-1zM8 58h1v1h-1zM10 61h1v1h-1zM11 64h1v1h-1zM8 65h1v1h-1zM11 82h1v1h-1z"/><path fill="#880000" d="M13 36h1v1h-1zM13 44h1v1h-1zM7 53h1v1h-1zM8 54h1v1h-1zM7 84h1v1h-1z"/></g><g transform="translate(1.033,340.5) scale(4.79048,3.77)" shape-rendering="crispEdges"><path fill="#1c0000" d="M14 0h1v1h-1zM39 0h1v1h-1zM47 0h1v1h-1zM54 1h1v1h-1zM26 2h1v1h-1zM38 2h1v1h-1zM53 2h1v1h-1zM48 3h1v1h-1zM21 5h1v1h-1zM40 6h1v1h-1zM27 7h1v1h-1zM14 8h1v1h-1zM19 8h1v1h-1zM48 8h1v1h-1zM26 9h1v1h-1zM31 9h1v1h-1zM29 11h1v1h-1zM40 11h1v1h-1zM54 11h1v1h-1zM29 12h1v1h-1zM35 12h1v1h-1zM42 12h1v1h-1zM24 13h1v1h-1zM26 13h1v1h-1zM35 13h1v1h-1zM48 13h1v1h-1zM51 13h1v1h-1zM25 14h1v1h-1zM49 14h1v1h-1zM39 15h1v1h-1zM44 15h1v1h-1zM23 16h1v1h-1zM45 17h1v1h-1zM55 17h1v1h-1zM30 18h1v1h-1zM38 18h1v1h-1zM45 18h1v1h-1zM53 18h1v1h-1zM30 19h1v1h-1zM32 19h1v1h-1zM29 20h1v1h-1zM30 20h1v1h-1zM20 21h1v1h-1zM31 21h1v1h-1zM27 22h1v1h-1zM42 22h1v1h-1zM48 22h1v1h-1zM33 24h1v1h-1zM32 25h1v1h-1zM48 25h1v1h-1zM16 26h1v1h-1zM27 26h1v1h-1zM35 26h1v1h-1zM27 27h1v1h-1zM33 29h1v1h-1zM44 29h1v1h-1zM45 29h1v1h-1zM29 30h1v1h-1zM15 31h1v1h-1zM16 31h1v1h-1zM24 31h1v1h-1zM27 31h1v1h-1zM44 31h1v1h-1zM15 32h1v1h-1zM53 32h1v1h-1zM34 33h1v1h-1zM44 33h1v1h-1zM19 34h1v1h-1zM21 34h1v1h-1zM25 34h1v1h-1zM42 34h1v1h-1zM44 34h1v1h-1zM36 35h1v1h-1zM41 35h1v1h-1zM17 36h1v1h-1zM35 36h1v1h-1zM18 37h1v1h-1zM21 37h1v1h-1zM34 37h1v1h-1zM40 37h1v1h-1zM43 37h1v1h-1zM53 37h1v1h-1zM14 38h1v1h-1zM24 38h1v1h-1zM25 38h1v1h-1zM40 38h1v1h-1zM52 38h1v1h-1zM25 39h1v1h-1zM29 39h1v1h-1zM41 39h1v1h-1zM28 40h1v1h-1zM20 41h1v1h-1zM28 41h1v1h-1zM15 42h1v1h-1zM18 42h1v1h-1zM28 42h1v1h-1zM37 42h1v1h-1zM53 42h1v1h-1zM18 43h1v1h-1zM19 43h1v1h-1zM29 43h1v1h-1zM42 43h1v1h-1zM44 43h1v1h-1zM46 43h1v1h-1zM47 43h1v1h-1zM48 43h1v1h-1zM53 43h1v1h-1zM25 44h1v1h-1zM26 44h1v1h-1zM40 44h1v1h-1zM48 44h1v1h-1zM54 44h1v1h-1zM55 44h1v1h-1zM26 45h1v1h-1zM33 45h1v1h-1zM39 45h1v1h-1zM49 45h1v1h-1zM23 46h1v1h-1zM24 46h1v1h-1zM29 46h1v1h-1zM30 46h1v1h-1zM37 46h1v1h-1zM38 46h1v1h-1zM39 46h1v1h-1zM54 46h1v1h-1zM31 47h1v1h-1zM35 47h1v1h-1zM46 47h1v1h-1zM50 47h1v1h-1zM29 48h1v1h-1zM42 48h1v1h-1zM44 48h1v1h-1zM22 49h1v1h-1zM26 49h1v1h-1zM21 50h1v1h-1zM29 50h1v1h-1zM50 50h1v1h-1zM55 50h1v1h-1zM25 51h1v1h-1zM29 51h1v1h-1zM32 51h1v1h-1zM34 51h1v1h-1zM54 51h1v1h-1zM25 52h1v1h-1zM26 52h1v1h-1zM35 52h1v1h-1zM45 52h1v1h-1zM35 53h1v1h-1zM36 53h1v1h-1zM17 54h1v1h-1zM22 54h1v1h-1zM54 54h1v1h-1zM32 55h1v1h-1zM35 55h1v1h-1zM40 55h1v1h-1zM48 55h1v1h-1zM53 55h1v1h-1zM47 56h1v1h-1zM52 56h1v1h-1zM15 57h1v1h-1zM39 57h1v1h-1zM53 57h1v1h-1zM29 58h1v1h-1zM43 58h1v1h-1zM52 58h1v1h-1zM24 59h1v1h-1zM28 59h1v1h-1zM42 59h1v1h-1zM49 59h1v1h-1zM23 60h1v1h-1zM39 60h1v1h-1zM42 60h1v1h-1zM44 60h1v1h-1zM46 60h1v1h-1zM49 60h1v1h-1zM40 61h1v1h-1zM47 61h1v1h-1zM24 62h1v1h-1zM27 62h1v1h-1zM37 62h1v1h-1zM46 62h1v1h-1zM47 62h1v1h-1zM51 62h1v1h-1zM52 62h1v1h-1zM20 63h1v1h-1zM38 63h1v1h-1zM25 64h1v1h-1zM33 64h1v1h-1zM48 64h1v1h-1zM54 64h1v1h-1zM20 65h1v1h-1zM44 65h1v1h-1zM18 66h1v1h-1zM33 66h1v1h-1zM45 66h1v1h-1zM53 66h1v1h-1zM50 67h1v1h-1zM23 68h1v1h-1zM28 68h1v1h-1zM29 68h1v1h-1zM39 68h1v1h-1zM51 68h1v1h-1zM53 68h1v1h-1zM29 69h1v1h-1zM39 69h1v1h-1zM44 69h1v1h-1zM23 70h1v1h-1zM32 70h1v1h-1zM40 70h1v1h-1zM47 70h1v1h-1zM53 70h1v1h-1zM54 70h1v1h-1zM31 71h1v1h-1zM34 71h1v1h-1zM46 71h1v1h-1zM29 72h1v1h-1zM21 73h1v1h-1zM42 73h1v1h-1zM52 73h1v1h-1zM17 74h1v1h-1zM26 74h1v1h-1zM37 74h1v1h-1zM41 74h1v1h-1zM43 75h1v1h-1zM45 75h1v1h-1zM38 76h1v1h-1zM40 76h1v1h-1zM41 76h1v1h-1zM42 76h1v1h-1zM45 76h1v1h-1zM14 77h1v1h-1zM19 77h1v1h-1zM40 77h1v1h-1zM21 78h1v1h-1zM31 78h1v1h-1zM38 78h1v1h-1zM45 78h1v1h-1zM32 79h1v1h-1zM42 79h1v1h-1zM19 80h1v1h-1zM26 80h1v1h-1zM27 80h1v1h-1zM28 80h1v1h-1zM29 80h1v1h-1zM33 80h1v1h-1zM34 80h1v1h-1zM40 80h1v1h-1zM53 80h1v1h-1zM55 80h1v1h-1zM27 81h1v1h-1zM28 81h1v1h-1zM24 82h1v1h-1zM27 82h1v1h-1zM33 82h1v1h-1zM45 82h1v1h-1zM50 82h1v1h-1zM14 83h1v1h-1zM20 83h1v1h-1zM24 83h1v1h-1zM45 83h1v1h-1zM51 83h1v1h-1zM30 84h1v1h-1zM37 84h1v1h-1zM16 85h1v1h-1zM41 85h1v1h-1zM50 85h1v1h-1zM54 85h1v1h-1z"/><path fill="#003000" d="M15 0h1v1h-1zM19 0h1v1h-1zM48 0h1v1h-1zM51 0h1v1h-1zM24 1h1v1h-1zM44 1h1v1h-1zM43 2h1v1h-1zM25 3h1v1h-1zM20 4h1v1h-1zM23 4h1v1h-1zM51 4h1v1h-1zM49 5h1v1h-1zM14 6h1v1h-1zM50 6h1v1h-1zM51 6h1v1h-1zM23 8h1v1h-1zM37 8h1v1h-1zM38 8h1v1h-1zM41 8h1v1h-1zM51 10h1v1h-1zM14 15h1v1h-1zM25 16h1v1h-1zM37 17h1v1h-1zM14 21h1v1h-1zM40 25h1v1h-1zM52 25h1v1h-1zM38 26h1v1h-1zM55 27h1v1h-1zM37 28h1v1h-1zM44 28h1v1h-1zM28 29h1v1h-1zM29 31h1v1h-1zM52 33h1v1h-1zM24 34h1v1h-1zM46 34h1v1h-1zM39 38h1v1h-1zM41 38h1v1h-1zM38 39h1v1h-1zM40 41h1v1h-1zM47 41h1v1h-1zM20 42h1v1h-1zM20 43h1v1h-1zM31 43h1v1h-1zM51 43h1v1h-1zM37 45h1v1h-1zM17 46h1v1h-1zM31 46h1v1h-1zM45 46h1v1h-1zM49 46h1v1h-1zM34 47h1v1h-1zM34 48h1v1h-1zM48 49h1v1h-1zM36 50h1v1h-1zM45 54h1v1h-1zM52 55h1v1h-1zM14 59h1v1h-1zM32 59h1v1h-1zM36 59h1v1h-1zM33 60h1v1h-1zM23 65h1v1h-1zM47 66h1v1h-1zM55 66h1v1h-1zM37 70h1v1h-1zM44 70h1v1h-1zM49 71h1v1h-1zM40 72h1v1h-1zM52 72h1v1h-1zM44 73h1v1h-1zM49 73h1v1h-1zM25 77h1v1h-1zM26 84h1v1h-1zM44 84h1v1h-1z"/><path fill="#000000" d="M16 0h1v1h-1zM38 0h1v1h-1zM54 0h1v1h-1zM31 1h1v1h-1zM33 2h1v1h-1zM42 2h1v1h-1zM47 2h1v1h-1zM51 2h1v1h-1zM52 2h1v1h-1zM30 4h1v1h-1zM42 4h1v1h-1zM32 5h1v1h-1zM47 5h1v1h-1zM29 7h1v1h-1zM30 7h1v1h-1zM35 7h1v1h-1zM17 8h1v1h-1zM20 8h1v1h-1zM31 8h1v1h-1zM22 9h1v1h-1zM37 9h1v1h-1zM47 9h1v1h-1zM32 10h1v1h-1zM15 11h1v1h-1zM25 11h1v1h-1zM35 11h1v1h-1zM24 12h1v1h-1zM49 12h1v1h-1zM29 13h1v1h-1zM53 14h1v1h-1zM24 17h1v1h-1zM44 18h1v1h-1zM19 19h1v1h-1zM38 19h1v1h-1zM25 20h1v1h-1zM33 20h1v1h-1zM39 20h1v1h-1zM40 20h1v1h-1zM45 20h1v1h-1zM32 22h1v1h-1zM51 22h1v1h-1zM52 22h1v1h-1zM23 23h1v1h-1zM24 23h1v1h-1zM38 23h1v1h-1zM40 23h1v1h-1zM41 23h1v1h-1zM47 24h1v1h-1zM17 25h1v1h-1zM21 25h1v1h-1zM29 25h1v1h-1zM35 25h1v1h-1zM16 27h1v1h-1zM26 27h1v1h-1zM30 27h1v1h-1zM48 27h1v1h-1zM29 29h1v1h-1zM53 29h1v1h-1zM55 29h1v1h-1zM24 30h1v1h-1zM28 31h1v1h-1zM43 31h1v1h-1zM52 31h1v1h-1zM53 31h1v1h-1zM54 31h1v1h-1zM55 31h1v1h-1zM17 32h1v1h-1zM19 32h1v1h-1zM23 32h1v1h-1zM37 32h1v1h-1zM47 32h1v1h-1zM14 33h1v1h-1zM29 33h1v1h-1zM46 33h1v1h-1zM29 34h1v1h-1zM38 34h1v1h-1zM54 34h1v1h-1zM19 35h1v1h-1zM20 35h1v1h-1zM37 35h1v1h-1zM52 36h1v1h-1zM33 37h1v1h-1zM35 37h1v1h-1zM54 37h1v1h-1zM32 38h1v1h-1zM51 38h1v1h-1zM19 39h1v1h-1zM40 39h1v1h-1zM47 39h1v1h-1zM24 40h1v1h-1zM25 40h1v1h-1zM27 40h1v1h-1zM29 40h1v1h-1zM30 40h1v1h-1zM42 40h1v1h-1zM50 40h1v1h-1zM29 41h1v1h-1zM22 42h1v1h-1zM43 42h1v1h-1zM47 42h1v1h-1zM21 43h1v1h-1zM21 44h1v1h-1zM22 44h1v1h-1zM23 44h1v1h-1zM29 44h1v1h-1zM38 44h1v1h-1zM51 44h1v1h-1zM52 44h1v1h-1zM53 44h1v1h-1zM14 45h1v1h-1zM25 45h1v1h-1zM44 45h1v1h-1zM52 45h1v1h-1zM21 46h1v1h-1zM33 46h1v1h-1zM34 46h1v1h-1zM35 46h1v1h-1zM22 47h1v1h-1zM32 47h1v1h-1zM36 47h1v1h-1zM37 47h1v1h-1zM40 47h1v1h-1zM53 47h1v1h-1zM25 48h1v1h-1zM33 48h1v1h-1zM35 48h1v1h-1zM43 48h1v1h-1zM31 49h1v1h-1zM37 49h1v1h-1zM40 49h1v1h-1zM55 49h1v1h-1zM38 50h1v1h-1zM41 50h1v1h-1zM48 50h1v1h-1zM51 50h1v1h-1zM35 51h1v1h-1zM37 51h1v1h-1zM43 51h1v1h-1zM46 51h1v1h-1zM49 51h1v1h-1zM53 51h1v1h-1zM32 52h1v1h-1zM52 52h1v1h-1zM16 53h1v1h-1zM44 53h1v1h-1zM51 53h1v1h-1zM52 53h1v1h-1zM25 54h1v1h-1zM36 54h1v1h-1zM41 54h1v1h-1zM51 54h1v1h-1zM14 57h1v1h-1zM31 57h1v1h-1zM52 57h1v1h-1zM16 58h1v1h-1zM25 58h1v1h-1zM20 59h1v1h-1zM27 59h1v1h-1zM22 60h1v1h-1zM24 60h1v1h-1zM45 60h1v1h-1zM25 61h1v1h-1zM35 61h1v1h-1zM36 61h1v1h-1zM48 61h1v1h-1zM53 61h1v1h-1zM14 62h1v1h-1zM19 62h1v1h-1zM32 62h1v1h-1zM14 63h1v1h-1zM21 63h1v1h-1zM45 63h1v1h-1zM47 63h1v1h-1zM48 63h1v1h-1zM49 63h1v1h-1zM54 63h1v1h-1zM40 64h1v1h-1zM26 65h1v1h-1zM28 65h1v1h-1zM38 65h1v1h-1zM49 65h1v1h-1zM54 65h1v1h-1zM26 66h1v1h-1zM29 66h1v1h-1zM30 66h1v1h-1zM46 66h1v1h-1zM48 66h1v1h-1zM15 67h1v1h-1zM41 67h1v1h-1zM24 68h1v1h-1zM42 68h1v1h-1zM54 68h1v1h-1zM23 69h1v1h-1zM35 69h1v1h-1zM26 71h1v1h-1zM53 71h1v1h-1zM55 72h1v1h-1zM16 73h1v1h-1zM48 73h1v1h-1zM16 74h1v1h-1zM40 74h1v1h-1zM16 75h1v1h-1zM20 75h1v1h-1zM21 75h1v1h-1zM39 75h1v1h-1zM49 75h1v1h-1zM24 76h1v1h-1zM25 76h1v1h-1zM26 76h1v1h-1zM47 76h1v1h-1zM50 76h1v1h-1zM24 77h1v1h-1zM38 77h1v1h-1zM42 77h1v1h-1zM51 77h1v1h-1zM49 78h1v1h-1zM21 79h1v1h-1zM35 79h1v1h-1zM44 79h1v1h-1zM16 80h1v1h-1zM30 80h1v1h-1zM41 80h1v1h-1zM16 81h1v1h-1zM20 81h1v1h-1zM38 81h1v1h-1zM23 82h1v1h-1zM35 82h1v1h-1zM47 82h1v1h-1zM16 83h1v1h-1zM25 83h1v1h-1zM31 83h1v1h-1zM39 83h1v1h-1zM44 83h1v1h-1zM33 84h1v1h-1zM36 84h1v1h-1zM50 84h1v1h-1zM55 84h1v1h-1zM17 85h1v1h-1zM31 85h1v1h-1zM39 85h1v1h-1zM40 85h1v1h-1z"/><path fill="#680000" d="M17 0h1v1h-1zM26 0h1v1h-1zM37 0h1v1h-1zM35 2h1v1h-1zM51 5h1v1h-1zM18 10h1v1h-1zM34 10h1v1h-1zM20 12h1v1h-1zM17 14h1v1h-1zM29 19h1v1h-1zM41 20h1v1h-1zM42 20h1v1h-1zM42 36h1v1h-1zM50 39h1v1h-1zM19 42h1v1h-1z"/><path fill="#12a812" d="M18 0h1v1h-1zM55 4h1v1h-1zM54 5h1v1h-1zM46 6h1v1h-1zM49 6h1v1h-1zM54 6h1v1h-1zM34 9h1v1h-1zM51 9h1v1h-1zM38 13h1v1h-1zM39 13h1v1h-1zM55 13h1v1h-1zM54 14h1v1h-1zM55 14h1v1h-1zM25 19h1v1h-1zM36 19h1v1h-1zM21 20h1v1h-1zM32 20h1v1h-1zM28 21h1v1h-1zM45 21h1v1h-1zM40 24h1v1h-1zM33 25h1v1h-1zM17 26h1v1h-1zM18 26h1v1h-1zM34 26h1v1h-1zM18 27h1v1h-1zM29 28h1v1h-1zM33 28h1v1h-1zM26 31h1v1h-1zM16 32h1v1h-1zM38 32h1v1h-1zM21 33h1v1h-1zM46 38h1v1h-1zM54 38h1v1h-1zM22 40h1v1h-1zM39 40h1v1h-1zM39 41h1v1h-1zM49 41h1v1h-1zM51 41h1v1h-1zM23 42h1v1h-1zM25 43h1v1h-1zM27 43h1v1h-1zM29 47h1v1h-1zM55 47h1v1h-1zM37 48h1v1h-1zM35 49h1v1h-1zM18 50h1v1h-1zM22 50h1v1h-1zM39 53h1v1h-1zM46 54h1v1h-1zM31 55h1v1h-1zM51 55h1v1h-1zM36 64h1v1h-1zM45 65h1v1h-1zM38 66h1v1h-1zM45 68h1v1h-1zM50 68h1v1h-1zM51 69h1v1h-1zM55 69h1v1h-1zM15 70h1v1h-1zM54 73h1v1h-1zM46 74h1v1h-1zM53 74h1v1h-1zM54 74h1v1h-1zM53 75h1v1h-1zM40 78h1v1h-1zM43 79h1v1h-1zM18 81h1v1h-1zM22 81h1v1h-1zM26 81h1v1h-1zM19 82h1v1h-1zM20 82h1v1h-1zM48 82h1v1h-1zM54 82h1v1h-1zM41 83h1v1h-1zM54 83h1v1h-1zM52 84h1v1h-1zM46 85h1v1h-1z"/><path fill="#085808" d="M20 0h1v1h-1zM17 1h1v1h-1zM21 1h1v1h-1zM17 2h1v1h-1zM19 3h1v1h-1zM47 3h1v1h-1zM28 5h1v1h-1zM29 5h1v1h-1zM18 7h1v1h-1zM14 13h1v1h-1zM18 14h1v1h-1zM15 15h1v1h-1zM14 20h1v1h-1z"/><path fill="#0a700a" d="M21 0h1v1h-1zM30 0h1v1h-1zM22 2h1v1h-1zM23 2h1v1h-1zM24 2h1v1h-1zM46 2h1v1h-1zM18 4h1v1h-1zM33 5h1v1h-1zM35 5h1v1h-1zM37 5h1v1h-1zM38 5h1v1h-1zM43 6h1v1h-1zM20 7h1v1h-1zM28 7h1v1h-1zM33 7h1v1h-1zM34 7h1v1h-1zM38 7h1v1h-1zM44 7h1v1h-1zM21 9h1v1h-1zM53 10h1v1h-1zM16 11h1v1h-1zM26 11h1v1h-1zM31 11h1v1h-1zM17 13h1v1h-1zM30 13h1v1h-1zM42 13h1v1h-1zM32 14h1v1h-1zM33 14h1v1h-1zM41 14h1v1h-1zM19 15h1v1h-1zM14 16h1v1h-1zM21 17h1v1h-1zM25 17h1v1h-1zM27 17h1v1h-1zM53 17h1v1h-1zM36 18h1v1h-1zM51 18h1v1h-1zM31 19h1v1h-1zM52 19h1v1h-1zM34 20h1v1h-1zM36 20h1v1h-1zM55 20h1v1h-1zM30 21h1v1h-1zM33 21h1v1h-1zM22 22h1v1h-1zM35 22h1v1h-1zM43 23h1v1h-1zM20 25h1v1h-1zM20 26h1v1h-1zM45 26h1v1h-1zM37 27h1v1h-1zM51 28h1v1h-1zM53 28h1v1h-1zM37 29h1v1h-1zM25 30h1v1h-1zM31 31h1v1h-1zM14 32h1v1h-1zM40 32h1v1h-1zM23 33h1v1h-1zM45 35h1v1h-1zM22 36h1v1h-1zM37 37h1v1h-1zM28 39h1v1h-1zM21 40h1v1h-1zM25 41h1v1h-1zM27 41h1v1h-1zM33 41h1v1h-1zM17 44h1v1h-1zM49 44h1v1h-1zM20 45h1v1h-1zM35 45h1v1h-1zM38 45h1v1h-1zM46 45h1v1h-1zM17 47h1v1h-1zM24 47h1v1h-1zM40 48h1v1h-1zM45 48h1v1h-1zM41 49h1v1h-1zM39 50h1v1h-1zM27 51h1v1h-1zM41 52h1v1h-1zM45 53h1v1h-1zM34 54h1v1h-1zM42 54h1v1h-1zM18 55h1v1h-1zM36 55h1v1h-1zM45 55h1v1h-1zM46 55h1v1h-1zM31 58h1v1h-1zM39 58h1v1h-1zM46 58h1v1h-1zM39 59h1v1h-1zM46 61h1v1h-1zM53 62h1v1h-1zM51 63h1v1h-1zM24 64h1v1h-1zM32 64h1v1h-1zM52 64h1v1h-1zM17 66h1v1h-1zM34 66h1v1h-1zM41 66h1v1h-1zM40 67h1v1h-1zM19 70h1v1h-1zM40 71h1v1h-1zM15 72h1v1h-1zM14 73h1v1h-1zM22 74h1v1h-1zM38 74h1v1h-1zM50 74h1v1h-1zM55 74h1v1h-1zM50 75h1v1h-1zM52 75h1v1h-1zM21 76h1v1h-1zM39 76h1v1h-1zM15 78h1v1h-1zM29 78h1v1h-1zM46 78h1v1h-1zM47 78h1v1h-1zM24 79h1v1h-1zM28 79h1v1h-1zM30 81h1v1h-1zM31 81h1v1h-1zM16 82h1v1h-1zM36 83h1v1h-1zM29 84h1v1h-1zM23 85h1v1h-1zM29 85h1v1h-1z"/><path fill="#000a00" d="M22 0h1v1h-1zM23 0h1v1h-1zM50 0h1v1h-1zM23 1h1v1h-1zM27 3h1v1h-1zM39 4h1v1h-1zM41 4h1v1h-1zM43 4h1v1h-1zM49 4h1v1h-1zM34 5h1v1h-1zM37 6h1v1h-1zM14 7h1v1h-1zM31 7h1v1h-1zM51 7h1v1h-1zM22 8h1v1h-1zM26 8h1v1h-1zM27 8h1v1h-1zM30 8h1v1h-1zM49 8h1v1h-1zM14 9h1v1h-1zM36 9h1v1h-1zM38 9h1v1h-1zM23 10h1v1h-1zM26 10h1v1h-1zM29 10h1v1h-1zM55 10h1v1h-1zM14 11h1v1h-1zM38 11h1v1h-1zM27 12h1v1h-1zM47 12h1v1h-1zM52 12h1v1h-1zM37 13h1v1h-1zM21 14h1v1h-1zM26 14h1v1h-1zM29 14h1v1h-1zM30 14h1v1h-1zM37 14h1v1h-1zM46 14h1v1h-1zM34 15h1v1h-1zM47 15h1v1h-1zM24 16h1v1h-1zM28 16h1v1h-1zM38 16h1v1h-1zM39 16h1v1h-1zM28 17h1v1h-1zM26 18h1v1h-1zM48 18h1v1h-1zM55 18h1v1h-1zM17 19h1v1h-1zM21 19h1v1h-1zM52 20h1v1h-1zM53 20h1v1h-1zM16 21h1v1h-1zM24 21h1v1h-1zM32 21h1v1h-1zM46 21h1v1h-1zM49 21h1v1h-1zM20 22h1v1h-1zM21 22h1v1h-1zM26 22h1v1h-1zM34 22h1v1h-1zM36 23h1v1h-1zM42 23h1v1h-1zM21 24h1v1h-1zM52 24h1v1h-1zM27 25h1v1h-1zM36 25h1v1h-1zM37 25h1v1h-1zM44 25h1v1h-1zM46 25h1v1h-1zM47 25h1v1h-1zM24 26h1v1h-1zM28 26h1v1h-1zM32 26h1v1h-1zM39 26h1v1h-1zM25 27h1v1h-1zM44 27h1v1h-1zM21 28h1v1h-1zM31 28h1v1h-1zM36 28h1v1h-1zM14 29h1v1h-1zM21 29h1v1h-1zM22 29h1v1h-1zM35 29h1v1h-1zM43 29h1v1h-1zM47 29h1v1h-1zM14 30h1v1h-1zM42 30h1v1h-1zM53 30h1v1h-1zM37 31h1v1h-1zM39 31h1v1h-1zM47 31h1v1h-1zM24 32h1v1h-1zM35 32h1v1h-1zM41 32h1v1h-1zM16 33h1v1h-1zM31 33h1v1h-1zM39 33h1v1h-1zM53 33h1v1h-1zM22 34h1v1h-1zM34 34h1v1h-1zM36 34h1v1h-1zM48 34h1v1h-1zM21 35h1v1h-1zM14 36h1v1h-1zM23 36h1v1h-1zM28 36h1v1h-1zM32 36h1v1h-1zM45 36h1v1h-1zM55 36h1v1h-1zM15 38h1v1h-1zM27 38h1v1h-1zM47 38h1v1h-1zM43 39h1v1h-1zM55 39h1v1h-1zM23 40h1v1h-1zM26 40h1v1h-1zM34 40h1v1h-1zM36 40h1v1h-1zM43 40h1v1h-1zM46 40h1v1h-1zM48 40h1v1h-1zM53 40h1v1h-1zM18 41h1v1h-1zM24 41h1v1h-1zM30 41h1v1h-1zM46 41h1v1h-1zM55 41h1v1h-1zM26 42h1v1h-1zM27 42h1v1h-1zM29 42h1v1h-1zM40 42h1v1h-1zM54 42h1v1h-1zM32 43h1v1h-1zM54 43h1v1h-1zM34 44h1v1h-1zM18 46h1v1h-1zM22 46h1v1h-1zM32 46h1v1h-1zM50 46h1v1h-1zM27 47h1v1h-1zM19 48h1v1h-1zM22 48h1v1h-1zM24 48h1v1h-1zM36 48h1v1h-1zM49 48h1v1h-1zM19 49h1v1h-1zM29 49h1v1h-1zM33 49h1v1h-1zM36 49h1v1h-1zM42 49h1v1h-1zM51 49h1v1h-1zM17 50h1v1h-1zM19 50h1v1h-1zM26 50h1v1h-1zM28 50h1v1h-1zM32 50h1v1h-1zM35 50h1v1h-1zM47 50h1v1h-1zM18 51h1v1h-1zM21 51h1v1h-1zM22 51h1v1h-1zM33 51h1v1h-1zM36 51h1v1h-1zM38 51h1v1h-1zM16 52h1v1h-1zM18 52h1v1h-1zM30 53h1v1h-1zM54 53h1v1h-1zM33 54h1v1h-1zM37 54h1v1h-1zM53 54h1v1h-1zM24 55h1v1h-1zM49 55h1v1h-1zM55 55h1v1h-1zM32 56h1v1h-1zM50 56h1v1h-1zM51 56h1v1h-1zM17 57h1v1h-1zM41 57h1v1h-1zM43 57h1v1h-1zM44 57h1v1h-1zM50 57h1v1h-1zM51 57h1v1h-1zM17 58h1v1h-1zM27 58h1v1h-1zM23 59h1v1h-1zM35 60h1v1h-1zM36 60h1v1h-1zM37 60h1v1h-1zM37 61h1v1h-1zM38 61h1v1h-1zM25 62h1v1h-1zM48 62h1v1h-1zM54 62h1v1h-1zM23 63h1v1h-1zM27 63h1v1h-1zM35 63h1v1h-1zM14 65h1v1h-1zM32 65h1v1h-1zM40 65h1v1h-1zM55 65h1v1h-1zM16 66h1v1h-1zM49 66h1v1h-1zM21 67h1v1h-1zM46 68h1v1h-1zM48 68h1v1h-1zM52 68h1v1h-1zM19 69h1v1h-1zM43 69h1v1h-1zM20 70h1v1h-1zM25 70h1v1h-1zM31 70h1v1h-1zM36 71h1v1h-1zM18 72h1v1h-1zM23 72h1v1h-1zM27 72h1v1h-1zM36 72h1v1h-1zM44 72h1v1h-1zM51 72h1v1h-1zM30 73h1v1h-1zM37 73h1v1h-1zM47 73h1v1h-1zM15 74h1v1h-1zM30 74h1v1h-1zM19 75h1v1h-1zM26 75h1v1h-1zM34 75h1v1h-1zM38 75h1v1h-1zM33 76h1v1h-1zM36 76h1v1h-1zM17 77h1v1h-1zM21 77h1v1h-1zM29 77h1v1h-1zM37 77h1v1h-1zM43 77h1v1h-1zM52 77h1v1h-1zM25 78h1v1h-1zM43 78h1v1h-1zM16 79h1v1h-1zM17 79h1v1h-1zM27 79h1v1h-1zM14 80h1v1h-1zM22 80h1v1h-1zM24 80h1v1h-1zM43 80h1v1h-1zM41 81h1v1h-1zM32 82h1v1h-1zM34 82h1v1h-1zM51 82h1v1h-1zM52 82h1v1h-1zM17 83h1v1h-1zM27 83h1v1h-1zM29 83h1v1h-1zM33 83h1v1h-1zM35 84h1v1h-1zM42 84h1v1h-1zM28 85h1v1h-1zM30 85h1v1h-1zM49 85h1v1h-1zM51 85h1v1h-1zM55 85h1v1h-1z"/><path fill="#600808" d="M24 0h1v1h-1zM25 0h1v1h-1zM40 1h1v1h-1zM34 4h1v1h-1zM40 7h1v1h-1zM16 8h1v1h-1zM17 9h1v1h-1zM44 9h1v1h-1zM15 13h1v1h-1zM44 13h1v1h-1zM38 14h1v1h-1zM37 16h1v1h-1zM25 18h1v1h-1zM29 18h1v1h-1zM25 35h1v1h-1zM27 35h1v1h-1z"/><path fill="#14b414" d="M27 0h1v1h-1zM55 1h1v1h-1zM26 4h1v1h-1zM45 4h1v1h-1zM22 5h1v1h-1zM24 5h1v1h-1zM38 6h1v1h-1zM33 8h1v1h-1zM25 9h1v1h-1zM15 10h1v1h-1zM22 10h1v1h-1zM18 12h1v1h-1zM51 12h1v1h-1zM36 13h1v1h-1zM14 14h1v1h-1zM42 14h1v1h-1zM55 15h1v1h-1zM55 16h1v1h-1zM19 17h1v1h-1zM16 18h1v1h-1zM26 20h1v1h-1zM26 21h1v1h-1zM17 27h1v1h-1zM22 27h1v1h-1zM26 28h1v1h-1zM30 28h1v1h-1zM34 28h1v1h-1zM41 28h1v1h-1zM17 29h1v1h-1zM31 29h1v1h-1zM40 29h1v1h-1zM37 30h1v1h-1zM39 30h1v1h-1zM21 31h1v1h-1zM30 31h1v1h-1zM40 31h1v1h-1zM19 33h1v1h-1zM32 33h1v1h-1zM54 33h1v1h-1zM25 36h1v1h-1zM42 41h1v1h-1zM49 42h1v1h-1zM33 43h1v1h-1zM37 43h1v1h-1zM43 43h1v1h-1zM18 44h1v1h-1zM39 44h1v1h-1zM32 45h1v1h-1zM16 46h1v1h-1zM30 47h1v1h-1zM38 49h1v1h-1zM16 50h1v1h-1zM16 51h1v1h-1zM46 53h1v1h-1zM31 54h1v1h-1zM41 61h1v1h-1zM42 61h1v1h-1zM43 61h1v1h-1zM55 64h1v1h-1zM29 65h1v1h-1zM36 65h1v1h-1zM46 65h1v1h-1zM48 65h1v1h-1zM35 66h1v1h-1zM44 67h1v1h-1zM44 68h1v1h-1zM55 71h1v1h-1zM46 72h1v1h-1zM52 74h1v1h-1zM46 75h1v1h-1zM39 77h1v1h-1zM53 79h1v1h-1zM17 82h1v1h-1zM30 83h1v1h-1zM20 84h1v1h-1zM34 84h1v1h-1zM39 84h1v1h-1zM20 85h1v1h-1z"/><path fill="#004000" d="M28 0h1v1h-1zM19 1h1v1h-1zM16 2h1v1h-1zM20 2h1v1h-1zM40 4h1v1h-1zM47 6h1v1h-1zM26 7h1v1h-1zM47 7h1v1h-1zM24 8h1v1h-1zM40 9h1v1h-1zM33 10h1v1h-1zM30 11h1v1h-1zM38 12h1v1h-1zM54 13h1v1h-1zM22 15h1v1h-1zM28 15h1v1h-1zM53 15h1v1h-1zM39 17h1v1h-1zM14 18h1v1h-1zM17 18h1v1h-1zM34 18h1v1h-1zM14 19h1v1h-1zM16 20h1v1h-1zM15 21h1v1h-1zM33 22h1v1h-1zM43 22h1v1h-1zM37 23h1v1h-1zM39 23h1v1h-1zM39 27h1v1h-1zM39 28h1v1h-1zM28 32h1v1h-1zM38 33h1v1h-1zM40 33h1v1h-1zM31 37h1v1h-1zM30 39h1v1h-1zM23 41h1v1h-1zM37 41h1v1h-1zM49 43h1v1h-1zM50 44h1v1h-1zM15 45h1v1h-1zM17 48h1v1h-1zM24 49h1v1h-1zM28 49h1v1h-1zM49 50h1v1h-1zM46 52h1v1h-1zM39 55h1v1h-1zM47 55h1v1h-1zM15 59h1v1h-1zM31 61h1v1h-1zM53 63h1v1h-1zM34 64h1v1h-1zM31 65h1v1h-1zM51 65h1v1h-1zM52 66h1v1h-1zM46 67h1v1h-1zM48 67h1v1h-1zM29 70h1v1h-1zM14 71h1v1h-1zM46 73h1v1h-1zM41 75h1v1h-1zM37 78h1v1h-1zM52 78h1v1h-1zM53 78h1v1h-1zM47 79h1v1h-1zM19 81h1v1h-1zM29 82h1v1h-1zM18 83h1v1h-1zM26 83h1v1h-1zM18 85h1v1h-1zM22 85h1v1h-1zM35 85h1v1h-1z"/><path fill="#105010" d="M29 0h1v1h-1zM14 2h1v1h-1zM24 3h1v1h-1zM34 3h1v1h-1zM43 7h1v1h-1zM24 10h1v1h-1z"/><path fill="#20d820" d="M31 0h1v1h-1zM50 1h1v1h-1zM19 2h1v1h-1zM27 2h1v1h-1zM39 3h1v1h-1zM36 4h1v1h-1zM47 4h1v1h-1zM50 4h1v1h-1zM54 4h1v1h-1zM25 5h1v1h-1zM41 5h1v1h-1zM42 5h1v1h-1zM39 6h1v1h-1zM32 7h1v1h-1zM33 9h1v1h-1zM39 9h1v1h-1zM46 9h1v1h-1zM36 11h1v1h-1zM24 14h1v1h-1zM27 15h1v1h-1zM17 16h1v1h-1zM18 18h1v1h-1zM23 18h1v1h-1zM16 19h1v1h-1zM34 19h1v1h-1zM55 21h1v1h-1zM35 23h1v1h-1zM44 23h1v1h-1zM46 26h1v1h-1zM43 28h1v1h-1zM26 29h1v1h-1zM31 30h1v1h-1zM21 32h1v1h-1zM16 36h1v1h-1zM17 38h1v1h-1zM18 38h1v1h-1zM53 38h1v1h-1zM31 39h1v1h-1zM31 41h1v1h-1zM32 41h1v1h-1zM50 42h1v1h-1zM51 42h1v1h-1zM22 43h1v1h-1zM33 44h1v1h-1zM43 44h1v1h-1zM43 46h1v1h-1zM48 47h1v1h-1zM47 48h1v1h-1zM51 48h1v1h-1zM20 49h1v1h-1zM39 49h1v1h-1zM15 50h1v1h-1zM15 51h1v1h-1zM31 51h1v1h-1zM37 53h1v1h-1zM39 61h1v1h-1zM33 63h1v1h-1zM34 63h1v1h-1zM43 63h1v1h-1zM51 64h1v1h-1zM35 65h1v1h-1zM37 66h1v1h-1zM38 67h1v1h-1zM45 67h1v1h-1zM16 70h1v1h-1zM50 70h1v1h-1zM38 71h1v1h-1zM45 71h1v1h-1zM38 72h1v1h-1zM54 72h1v1h-1zM53 77h1v1h-1zM54 77h1v1h-1zM55 77h1v1h-1zM47 80h1v1h-1zM49 80h1v1h-1zM17 81h1v1h-1zM29 81h1v1h-1zM40 83h1v1h-1zM46 84h1v1h-1zM49 84h1v1h-1zM36 85h1v1h-1z"/><path fill="#140000" d="M32 0h1v1h-1zM32 1h1v1h-1zM39 1h1v1h-1zM52 1h1v1h-1zM21 2h1v1h-1zM41 2h1v1h-1zM21 3h1v1h-1zM35 3h1v1h-1zM37 3h1v1h-1zM38 3h1v1h-1zM42 3h1v1h-1zM31 4h1v1h-1zM44 5h1v1h-1zM34 6h1v1h-1zM36 6h1v1h-1zM44 6h1v1h-1zM53 9h1v1h-1zM16 10h1v1h-1zM28 10h1v1h-1zM35 10h1v1h-1zM37 10h1v1h-1zM17 11h1v1h-1zM34 11h1v1h-1zM37 11h1v1h-1zM41 11h1v1h-1zM42 11h1v1h-1zM14 12h1v1h-1zM16 12h1v1h-1zM25 12h1v1h-1zM28 12h1v1h-1zM32 12h1v1h-1zM39 12h1v1h-1zM41 13h1v1h-1zM15 14h1v1h-1zM34 14h1v1h-1zM43 14h1v1h-1zM23 15h1v1h-1zM32 15h1v1h-1zM30 16h1v1h-1zM31 16h1v1h-1zM46 16h1v1h-1zM48 16h1v1h-1zM50 16h1v1h-1zM31 17h1v1h-1zM38 17h1v1h-1zM44 17h1v1h-1zM24 18h1v1h-1zM17 20h1v1h-1zM35 20h1v1h-1zM54 20h1v1h-1zM44 21h1v1h-1zM36 22h1v1h-1zM22 23h1v1h-1zM34 23h1v1h-1zM48 23h1v1h-1zM34 24h1v1h-1zM39 24h1v1h-1zM25 25h1v1h-1zM26 25h1v1h-1zM45 25h1v1h-1zM14 26h1v1h-1zM50 26h1v1h-1zM52 26h1v1h-1zM53 26h1v1h-1zM38 27h1v1h-1zM16 28h1v1h-1zM27 28h1v1h-1zM28 28h1v1h-1zM45 28h1v1h-1zM47 28h1v1h-1zM30 29h1v1h-1zM21 30h1v1h-1zM23 30h1v1h-1zM30 30h1v1h-1zM33 30h1v1h-1zM49 30h1v1h-1zM50 30h1v1h-1zM51 30h1v1h-1zM14 31h1v1h-1zM19 31h1v1h-1zM50 31h1v1h-1zM51 31h1v1h-1zM30 32h1v1h-1zM45 32h1v1h-1zM52 32h1v1h-1zM54 32h1v1h-1zM30 33h1v1h-1zM37 33h1v1h-1zM50 33h1v1h-1zM17 34h1v1h-1zM28 34h1v1h-1zM52 34h1v1h-1zM53 34h1v1h-1zM26 35h1v1h-1zM31 35h1v1h-1zM38 35h1v1h-1zM44 35h1v1h-1zM47 35h1v1h-1zM54 35h1v1h-1zM18 36h1v1h-1zM19 36h1v1h-1zM39 36h1v1h-1zM48 36h1v1h-1zM51 36h1v1h-1zM24 37h1v1h-1zM25 37h1v1h-1zM46 37h1v1h-1zM47 37h1v1h-1zM55 37h1v1h-1zM16 38h1v1h-1zM28 38h1v1h-1zM42 38h1v1h-1zM43 38h1v1h-1zM55 38h1v1h-1zM20 39h1v1h-1zM39 39h1v1h-1zM16 40h1v1h-1zM18 40h1v1h-1zM31 40h1v1h-1zM45 40h1v1h-1zM55 40h1v1h-1zM17 41h1v1h-1zM19 41h1v1h-1zM44 41h1v1h-1zM14 42h1v1h-1zM31 42h1v1h-1zM26 43h1v1h-1zM52 43h1v1h-1zM24 44h1v1h-1zM42 44h1v1h-1zM47 44h1v1h-1zM40 45h1v1h-1zM52 46h1v1h-1zM43 47h1v1h-1zM44 47h1v1h-1zM49 47h1v1h-1zM18 48h1v1h-1zM21 48h1v1h-1zM39 48h1v1h-1zM50 48h1v1h-1zM54 48h1v1h-1zM55 48h1v1h-1zM30 49h1v1h-1zM20 50h1v1h-1zM31 50h1v1h-1zM33 50h1v1h-1zM52 50h1v1h-1zM23 51h1v1h-1zM30 51h1v1h-1zM40 51h1v1h-1zM44 51h1v1h-1zM45 51h1v1h-1zM38 52h1v1h-1zM40 52h1v1h-1zM43 52h1v1h-1zM51 52h1v1h-1zM24 53h1v1h-1zM32 53h1v1h-1zM34 53h1v1h-1zM48 53h1v1h-1zM53 53h1v1h-1zM55 53h1v1h-1zM49 54h1v1h-1zM17 55h1v1h-1zM34 55h1v1h-1zM42 55h1v1h-1zM50 55h1v1h-1zM21 56h1v1h-1zM23 56h1v1h-1zM27 56h1v1h-1zM39 56h1v1h-1zM43 56h1v1h-1zM49 56h1v1h-1zM54 56h1v1h-1zM25 57h1v1h-1zM28 57h1v1h-1zM34 57h1v1h-1zM36 57h1v1h-1zM38 57h1v1h-1zM48 57h1v1h-1zM24 58h1v1h-1zM47 58h1v1h-1zM54 58h1v1h-1zM55 58h1v1h-1zM31 59h1v1h-1zM34 59h1v1h-1zM38 59h1v1h-1zM41 59h1v1h-1zM43 59h1v1h-1zM25 60h1v1h-1zM38 60h1v1h-1zM47 60h1v1h-1zM49 61h1v1h-1zM44 62h1v1h-1zM19 63h1v1h-1zM37 63h1v1h-1zM42 63h1v1h-1zM46 63h1v1h-1zM14 64h1v1h-1zM21 64h1v1h-1zM28 64h1v1h-1zM39 64h1v1h-1zM44 64h1v1h-1zM25 65h1v1h-1zM37 65h1v1h-1zM41 65h1v1h-1zM14 66h1v1h-1zM25 66h1v1h-1zM27 66h1v1h-1zM31 66h1v1h-1zM36 66h1v1h-1zM47 67h1v1h-1zM49 67h1v1h-1zM51 67h1v1h-1zM20 68h1v1h-1zM47 68h1v1h-1zM47 69h1v1h-1zM48 69h1v1h-1zM49 69h1v1h-1zM21 70h1v1h-1zM33 70h1v1h-1zM35 70h1v1h-1zM49 70h1v1h-1zM17 71h1v1h-1zM21 71h1v1h-1zM37 71h1v1h-1zM25 72h1v1h-1zM28 72h1v1h-1zM39 72h1v1h-1zM42 72h1v1h-1zM17 73h1v1h-1zM29 73h1v1h-1zM53 73h1v1h-1zM14 74h1v1h-1zM45 74h1v1h-1zM48 74h1v1h-1zM14 75h1v1h-1zM18 75h1v1h-1zM48 75h1v1h-1zM54 75h1v1h-1zM30 76h1v1h-1zM54 76h1v1h-1zM18 77h1v1h-1zM36 77h1v1h-1zM24 78h1v1h-1zM41 78h1v1h-1zM42 78h1v1h-1zM54 78h1v1h-1zM55 78h1v1h-1zM26 79h1v1h-1zM37 79h1v1h-1zM40 79h1v1h-1zM48 79h1v1h-1zM52 79h1v1h-1zM25 80h1v1h-1zM32 80h1v1h-1zM35 80h1v1h-1zM38 80h1v1h-1zM46 80h1v1h-1zM23 81h1v1h-1zM24 81h1v1h-1zM25 81h1v1h-1zM32 81h1v1h-1zM36 81h1v1h-1zM37 81h1v1h-1zM22 82h1v1h-1zM28 82h1v1h-1zM37 82h1v1h-1zM44 82h1v1h-1zM46 82h1v1h-1zM49 82h1v1h-1zM55 82h1v1h-1zM19 83h1v1h-1zM42 83h1v1h-1zM46 83h1v1h-1zM50 83h1v1h-1zM47 84h1v1h-1zM51 84h1v1h-1zM25 85h1v1h-1z"/><path fill="#3c0000" d="M33 0h1v1h-1zM36 2h1v1h-1zM30 6h1v1h-1zM42 6h1v1h-1zM27 9h1v1h-1zM41 9h1v1h-1zM14 10h1v1h-1zM28 11h1v1h-1zM36 15h1v1h-1zM37 15h1v1h-1zM38 15h1v1h-1zM29 21h1v1h-1zM50 23h1v1h-1zM14 27h1v1h-1zM53 27h1v1h-1zM25 33h1v1h-1zM20 36h1v1h-1zM49 38h1v1h-1zM17 42h1v1h-1zM36 43h1v1h-1zM22 45h1v1h-1zM50 51h1v1h-1zM17 53h1v1h-1zM41 53h1v1h-1zM20 54h1v1h-1zM40 54h1v1h-1zM22 55h1v1h-1zM37 55h1v1h-1zM19 57h1v1h-1zM22 57h1v1h-1zM30 58h1v1h-1zM19 60h1v1h-1zM32 60h1v1h-1zM52 61h1v1h-1zM49 62h1v1h-1zM32 63h1v1h-1zM45 64h1v1h-1zM21 65h1v1h-1zM28 66h1v1h-1zM25 71h1v1h-1zM24 72h1v1h-1zM35 74h1v1h-1zM42 74h1v1h-1zM24 75h1v1h-1zM20 77h1v1h-1zM36 80h1v1h-1zM43 81h1v1h-1zM21 82h1v1h-1zM43 82h1v1h-1zM14 85h1v1h-1z"/><path fill="#500000" d="M34 0h1v1h-1zM44 0h1v1h-1zM27 1h1v1h-1zM38 1h1v1h-1zM30 3h1v1h-1zM28 8h1v1h-1zM29 9h1v1h-1zM20 13h1v1h-1zM43 17h1v1h-1zM47 17h1v1h-1zM28 18h1v1h-1zM47 18h1v1h-1zM28 19h1v1h-1zM23 21h1v1h-1zM52 23h1v1h-1zM55 23h1v1h-1zM45 30h1v1h-1zM29 32h1v1h-1zM18 34h1v1h-1zM35 35h1v1h-1z"/><path fill="#b00000" d="M35 0h1v1h-1zM15 8h1v1h-1zM42 8h1v1h-1zM46 10h1v1h-1zM52 11h1v1h-1zM39 18h1v1h-1zM48 19h1v1h-1zM38 21h1v1h-1zM24 22h1v1h-1zM49 22h1v1h-1zM14 23h1v1h-1zM18 23h1v1h-1zM29 23h1v1h-1zM53 23h1v1h-1zM15 24h1v1h-1zM24 24h1v1h-1zM26 24h1v1h-1zM50 24h1v1h-1zM43 26h1v1h-1zM41 27h1v1h-1zM18 28h1v1h-1zM19 28h1v1h-1zM35 31h1v1h-1zM36 36h1v1h-1zM42 37h1v1h-1zM51 40h1v1h-1zM16 41h1v1h-1zM34 42h1v1h-1zM38 47h1v1h-1zM53 49h1v1h-1zM24 50h1v1h-1zM45 50h1v1h-1zM19 51h1v1h-1zM48 51h1v1h-1zM23 52h1v1h-1zM31 52h1v1h-1zM53 52h1v1h-1zM26 53h1v1h-1zM15 55h1v1h-1zM18 56h1v1h-1zM38 56h1v1h-1zM40 56h1v1h-1zM37 58h1v1h-1zM40 58h1v1h-1zM16 59h1v1h-1zM29 59h1v1h-1zM33 59h1v1h-1zM48 59h1v1h-1zM27 60h1v1h-1zM28 60h1v1h-1zM48 60h1v1h-1zM16 61h1v1h-1zM38 62h1v1h-1zM50 62h1v1h-1zM17 63h1v1h-1zM25 63h1v1h-1zM22 64h1v1h-1zM43 65h1v1h-1zM43 66h1v1h-1zM18 67h1v1h-1zM20 67h1v1h-1zM24 69h1v1h-1zM30 70h1v1h-1zM29 71h1v1h-1zM30 71h1v1h-1zM44 71h1v1h-1zM22 72h1v1h-1zM22 73h1v1h-1zM31 73h1v1h-1zM32 73h1v1h-1zM21 74h1v1h-1zM31 74h1v1h-1zM16 77h1v1h-1zM33 77h1v1h-1zM45 77h1v1h-1zM23 78h1v1h-1zM34 79h1v1h-1zM51 79h1v1h-1zM39 82h1v1h-1z"/><path fill="#520000" d="M36 0h1v1h-1zM31 2h1v1h-1zM32 9h1v1h-1zM43 9h1v1h-1zM45 9h1v1h-1zM54 12h1v1h-1zM50 14h1v1h-1zM54 16h1v1h-1zM23 17h1v1h-1zM46 19h1v1h-1zM31 20h1v1h-1zM21 21h1v1h-1zM50 22h1v1h-1zM41 25h1v1h-1zM41 26h1v1h-1zM52 28h1v1h-1zM17 30h1v1h-1zM35 30h1v1h-1zM44 30h1v1h-1zM47 33h1v1h-1zM35 34h1v1h-1zM40 36h1v1h-1zM37 39h1v1h-1zM15 40h1v1h-1zM53 41h1v1h-1zM14 43h1v1h-1zM40 43h1v1h-1zM44 44h1v1h-1zM29 45h1v1h-1zM20 53h1v1h-1zM21 53h1v1h-1zM27 54h1v1h-1zM32 54h1v1h-1zM44 55h1v1h-1zM31 56h1v1h-1zM46 57h1v1h-1zM42 58h1v1h-1zM50 58h1v1h-1zM22 62h1v1h-1zM28 63h1v1h-1zM30 63h1v1h-1zM30 65h1v1h-1zM17 70h1v1h-1zM35 71h1v1h-1zM28 74h1v1h-1zM35 76h1v1h-1zM48 76h1v1h-1zM30 77h1v1h-1zM50 79h1v1h-1zM20 80h1v1h-1zM44 80h1v1h-1zM47 81h1v1h-1zM49 81h1v1h-1zM14 82h1v1h-1zM54 84h1v1h-1zM32 85h1v1h-1z"/><path fill="#22e822" d="M40 0h1v1h-1zM41 0h1v1h-1zM43 0h1v1h-1zM49 1h1v1h-1zM51 1h1v1h-1zM28 2h1v1h-1zM30 2h1v1h-1zM45 2h1v1h-1zM14 3h1v1h-1zM41 3h1v1h-1zM52 4h1v1h-1zM43 5h1v1h-1zM16 6h1v1h-1zM23 6h1v1h-1zM27 6h1v1h-1zM48 6h1v1h-1zM40 10h1v1h-1zM42 10h1v1h-1zM23 12h1v1h-1zM33 13h1v1h-1zM34 13h1v1h-1zM48 14h1v1h-1zM40 15h1v1h-1zM41 15h1v1h-1zM27 16h1v1h-1zM45 16h1v1h-1zM52 16h1v1h-1zM15 18h1v1h-1zM21 18h1v1h-1zM15 19h1v1h-1zM15 20h1v1h-1zM28 20h1v1h-1zM32 23h1v1h-1zM22 26h1v1h-1zM31 26h1v1h-1zM38 28h1v1h-1zM54 28h1v1h-1zM20 32h1v1h-1zM22 32h1v1h-1zM26 32h1v1h-1zM51 33h1v1h-1zM17 35h1v1h-1zM17 37h1v1h-1zM16 43h1v1h-1zM23 43h1v1h-1zM51 47h1v1h-1zM33 53h1v1h-1zM24 56h1v1h-1zM14 58h1v1h-1zM51 58h1v1h-1zM32 61h1v1h-1zM39 63h1v1h-1zM54 69h1v1h-1zM36 70h1v1h-1zM48 70h1v1h-1zM16 72h1v1h-1zM50 72h1v1h-1zM39 73h1v1h-1zM27 75h1v1h-1zM37 76h1v1h-1zM41 77h1v1h-1zM49 77h1v1h-1zM31 82h1v1h-1zM28 84h1v1h-1zM34 85h1v1h-1zM53 85h1v1h-1z"/><path fill="#18c818" d="M42 0h1v1h-1zM54 2h1v1h-1zM39 7h1v1h-1zM48 7h1v1h-1zM34 8h1v1h-1zM39 8h1v1h-1zM50 8h1v1h-1zM19 9h1v1h-1zM23 9h1v1h-1zM24 9h1v1h-1zM35 9h1v1h-1zM50 9h1v1h-1zM21 10h1v1h-1zM31 10h1v1h-1zM22 12h1v1h-1zM50 12h1v1h-1zM18 15h1v1h-1zM43 15h1v1h-1zM54 15h1v1h-1zM44 16h1v1h-1zM19 18h1v1h-1zM22 20h1v1h-1zM17 22h1v1h-1zM45 24h1v1h-1zM33 26h1v1h-1zM21 27h1v1h-1zM14 28h1v1h-1zM25 28h1v1h-1zM32 28h1v1h-1zM41 29h1v1h-1zM32 30h1v1h-1zM18 31h1v1h-1zM22 33h1v1h-1zM26 33h1v1h-1zM50 34h1v1h-1zM50 35h1v1h-1zM26 36h1v1h-1zM14 37h1v1h-1zM16 37h1v1h-1zM31 38h1v1h-1zM38 40h1v1h-1zM40 40h1v1h-1zM22 41h1v1h-1zM15 43h1v1h-1zM26 47h1v1h-1zM33 47h1v1h-1zM47 47h1v1h-1zM54 47h1v1h-1zM41 48h1v1h-1zM19 55h1v1h-1zM47 57h1v1h-1zM55 57h1v1h-1zM15 58h1v1h-1zM31 60h1v1h-1zM34 62h1v1h-1zM35 62h1v1h-1zM50 64h1v1h-1zM53 64h1v1h-1zM27 65h1v1h-1zM52 69h1v1h-1zM38 70h1v1h-1zM16 71h1v1h-1zM47 71h1v1h-1zM47 72h1v1h-1zM50 73h1v1h-1zM46 76h1v1h-1zM32 78h1v1h-1zM35 81h1v1h-1zM18 82h1v1h-1zM26 82h1v1h-1z"/><path fill="#5a0000" d="M45 0h1v1h-1zM36 1h1v1h-1zM32 2h1v1h-1zM37 2h1v1h-1zM22 3h1v1h-1zM44 3h1v1h-1zM53 3h1v1h-1zM45 5h1v1h-1zM40 8h1v1h-1zM52 9h1v1h-1zM17 12h1v1h-1zM19 12h1v1h-1zM44 12h1v1h-1zM46 12h1v1h-1zM18 13h1v1h-1zM28 13h1v1h-1zM26 15h1v1h-1zM15 16h1v1h-1zM18 16h1v1h-1zM47 16h1v1h-1zM22 17h1v1h-1zM32 17h1v1h-1zM40 17h1v1h-1zM46 18h1v1h-1zM50 18h1v1h-1zM23 20h1v1h-1zM40 21h1v1h-1zM41 21h1v1h-1zM42 21h1v1h-1zM16 22h1v1h-1zM25 24h1v1h-1zM41 24h1v1h-1zM25 26h1v1h-1zM47 26h1v1h-1zM50 32h1v1h-1zM45 33h1v1h-1zM49 34h1v1h-1zM30 35h1v1h-1zM42 35h1v1h-1zM27 36h1v1h-1zM52 37h1v1h-1zM19 40h1v1h-1zM55 43h1v1h-1zM15 44h1v1h-1zM21 45h1v1h-1zM42 46h1v1h-1zM16 48h1v1h-1zM20 48h1v1h-1zM43 49h1v1h-1zM50 49h1v1h-1zM39 51h1v1h-1zM33 52h1v1h-1zM23 53h1v1h-1zM40 53h1v1h-1zM27 55h1v1h-1zM19 56h1v1h-1zM22 58h1v1h-1zM21 60h1v1h-1zM16 62h1v1h-1zM41 64h1v1h-1zM19 68h1v1h-1zM16 69h1v1h-1zM21 69h1v1h-1zM51 71h1v1h-1zM21 72h1v1h-1zM31 72h1v1h-1zM32 72h1v1h-1zM15 75h1v1h-1zM29 75h1v1h-1zM27 77h1v1h-1zM15 79h1v1h-1z"/><path fill="#0a0400" d="M46 0h1v1h-1zM52 0h1v1h-1zM47 1h1v1h-1zM53 1h1v1h-1zM49 2h1v1h-1zM55 2h1v1h-1zM49 3h1v1h-1zM28 4h1v1h-1zM33 4h1v1h-1zM35 4h1v1h-1zM50 5h1v1h-1zM53 5h1v1h-1zM37 7h1v1h-1zM42 7h1v1h-1zM50 7h1v1h-1zM32 8h1v1h-1zM46 8h1v1h-1zM28 9h1v1h-1zM30 9h1v1h-1zM42 9h1v1h-1zM55 9h1v1h-1zM17 10h1v1h-1zM52 10h1v1h-1zM21 11h1v1h-1zM44 11h1v1h-1zM15 12h1v1h-1zM40 12h1v1h-1zM48 12h1v1h-1zM21 13h1v1h-1zM27 13h1v1h-1zM40 13h1v1h-1zM47 13h1v1h-1zM50 13h1v1h-1zM27 14h1v1h-1zM47 14h1v1h-1zM24 15h1v1h-1zM50 15h1v1h-1zM40 16h1v1h-1zM26 17h1v1h-1zM42 17h1v1h-1zM49 18h1v1h-1zM52 18h1v1h-1zM44 19h1v1h-1zM53 19h1v1h-1zM27 20h1v1h-1zM22 21h1v1h-1zM25 21h1v1h-1zM27 21h1v1h-1zM34 21h1v1h-1zM36 21h1v1h-1zM52 21h1v1h-1zM40 22h1v1h-1zM47 22h1v1h-1zM54 22h1v1h-1zM15 23h1v1h-1zM46 23h1v1h-1zM47 23h1v1h-1zM54 23h1v1h-1zM35 24h1v1h-1zM48 24h1v1h-1zM18 25h1v1h-1zM22 25h1v1h-1zM30 25h1v1h-1zM38 25h1v1h-1zM51 25h1v1h-1zM29 26h1v1h-1zM37 26h1v1h-1zM54 26h1v1h-1zM15 27h1v1h-1zM28 27h1v1h-1zM24 28h1v1h-1zM35 28h1v1h-1zM40 28h1v1h-1zM46 28h1v1h-1zM25 29h1v1h-1zM27 29h1v1h-1zM42 29h1v1h-1zM51 29h1v1h-1zM54 29h1v1h-1zM20 30h1v1h-1zM27 30h1v1h-1zM41 30h1v1h-1zM43 30h1v1h-1zM36 31h1v1h-1zM38 31h1v1h-1zM27 32h1v1h-1zM31 32h1v1h-1zM17 33h1v1h-1zM24 33h1v1h-1zM28 33h1v1h-1zM49 33h1v1h-1zM14 34h1v1h-1zM16 34h1v1h-1zM39 34h1v1h-1zM41 34h1v1h-1zM45 34h1v1h-1zM18 35h1v1h-1zM48 35h1v1h-1zM15 37h1v1h-1zM28 37h1v1h-1zM39 37h1v1h-1zM49 37h1v1h-1zM21 38h1v1h-1zM44 38h1v1h-1zM45 38h1v1h-1zM26 39h1v1h-1zM42 39h1v1h-1zM44 39h1v1h-1zM45 39h1v1h-1zM32 40h1v1h-1zM44 40h1v1h-1zM47 40h1v1h-1zM41 41h1v1h-1zM43 41h1v1h-1zM48 41h1v1h-1zM21 42h1v1h-1zM25 42h1v1h-1zM32 42h1v1h-1zM48 42h1v1h-1zM55 42h1v1h-1zM24 43h1v1h-1zM34 43h1v1h-1zM41 43h1v1h-1zM50 43h1v1h-1zM16 44h1v1h-1zM31 44h1v1h-1zM37 44h1v1h-1zM45 44h1v1h-1zM24 45h1v1h-1zM44 46h1v1h-1zM48 46h1v1h-1zM42 47h1v1h-1zM32 48h1v1h-1zM52 48h1v1h-1zM53 48h1v1h-1zM21 49h1v1h-1zM44 49h1v1h-1zM34 50h1v1h-1zM24 51h1v1h-1zM51 51h1v1h-1zM52 51h1v1h-1zM15 52h1v1h-1zM17 52h1v1h-1zM21 52h1v1h-1zM27 52h1v1h-1zM37 52h1v1h-1zM39 52h1v1h-1zM49 52h1v1h-1zM50 52h1v1h-1zM54 52h1v1h-1zM25 53h1v1h-1zM38 53h1v1h-1zM47 53h1v1h-1zM14 55h1v1h-1zM25 56h1v1h-1zM35 56h1v1h-1zM44 56h1v1h-1zM48 56h1v1h-1zM27 57h1v1h-1zM40 57h1v1h-1zM44 58h1v1h-1zM46 59h1v1h-1zM50 59h1v1h-1zM55 59h1v1h-1zM14 60h1v1h-1zM20 60h1v1h-1zM26 60h1v1h-1zM34 60h1v1h-1zM50 60h1v1h-1zM18 61h1v1h-1zM44 61h1v1h-1zM23 62h1v1h-1zM36 62h1v1h-1zM42 62h1v1h-1zM44 63h1v1h-1zM52 63h1v1h-1zM55 63h1v1h-1zM19 64h1v1h-1zM20 64h1v1h-1zM23 64h1v1h-1zM26 64h1v1h-1zM43 64h1v1h-1zM19 66h1v1h-1zM44 66h1v1h-1zM19 67h1v1h-1zM25 67h1v1h-1zM27 67h1v1h-1zM28 67h1v1h-1zM32 67h1v1h-1zM39 67h1v1h-1zM43 67h1v1h-1zM54 67h1v1h-1zM25 68h1v1h-1zM26 68h1v1h-1zM37 69h1v1h-1zM24 70h1v1h-1zM26 70h1v1h-1zM28 70h1v1h-1zM42 70h1v1h-1zM43 70h1v1h-1zM46 70h1v1h-1zM52 70h1v1h-1zM23 71h1v1h-1zM39 71h1v1h-1zM35 72h1v1h-1zM37 72h1v1h-1zM20 73h1v1h-1zM28 73h1v1h-1zM35 73h1v1h-1zM40 73h1v1h-1zM41 73h1v1h-1zM23 74h1v1h-1zM24 74h1v1h-1zM25 74h1v1h-1zM27 74h1v1h-1zM29 74h1v1h-1zM51 74h1v1h-1zM28 75h1v1h-1zM32 75h1v1h-1zM33 75h1v1h-1zM35 75h1v1h-1zM42 75h1v1h-1zM47 75h1v1h-1zM51 75h1v1h-1zM55 75h1v1h-1zM20 76h1v1h-1zM22 76h1v1h-1zM28 76h1v1h-1zM43 76h1v1h-1zM44 76h1v1h-1zM49 76h1v1h-1zM35 77h1v1h-1zM46 77h1v1h-1zM47 77h1v1h-1zM50 77h1v1h-1zM17 78h1v1h-1zM19 78h1v1h-1zM35 78h1v1h-1zM44 78h1v1h-1zM18 79h1v1h-1zM19 79h1v1h-1zM23 79h1v1h-1zM25 79h1v1h-1zM36 79h1v1h-1zM49 79h1v1h-1zM55 79h1v1h-1zM18 80h1v1h-1zM37 80h1v1h-1zM39 80h1v1h-1zM50 80h1v1h-1zM14 81h1v1h-1zM40 81h1v1h-1zM53 81h1v1h-1zM36 82h1v1h-1zM40 82h1v1h-1zM41 82h1v1h-1zM53 82h1v1h-1zM37 83h1v1h-1zM43 83h1v1h-1zM48 83h1v1h-1zM49 83h1v1h-1zM31 84h1v1h-1zM48 84h1v1h-1zM53 84h1v1h-1zM21 85h1v1h-1zM33 85h1v1h-1zM38 85h1v1h-1zM43 85h1v1h-1zM44 85h1v1h-1z"/><path fill="#0c8c0c" d="M49 0h1v1h-1zM15 1h1v1h-1zM20 1h1v1h-1zM25 1h1v1h-1zM18 2h1v1h-1zM50 2h1v1h-1zM16 3h1v1h-1zM33 3h1v1h-1zM36 3h1v1h-1zM17 4h1v1h-1zM36 5h1v1h-1zM52 5h1v1h-1zM21 6h1v1h-1zM17 7h1v1h-1zM55 8h1v1h-1zM23 11h1v1h-1zM32 13h1v1h-1zM19 14h1v1h-1zM40 14h1v1h-1zM52 14h1v1h-1zM21 16h1v1h-1zM35 16h1v1h-1zM17 17h1v1h-1zM31 18h1v1h-1zM33 18h1v1h-1zM20 19h1v1h-1zM18 21h1v1h-1zM37 21h1v1h-1zM39 22h1v1h-1zM39 25h1v1h-1zM30 26h1v1h-1zM55 26h1v1h-1zM55 28h1v1h-1zM23 29h1v1h-1zM18 33h1v1h-1zM20 37h1v1h-1zM21 39h1v1h-1zM26 41h1v1h-1zM46 42h1v1h-1zM30 43h1v1h-1zM30 44h1v1h-1zM16 47h1v1h-1zM23 47h1v1h-1zM47 52h1v1h-1zM41 55h1v1h-1zM54 55h1v1h-1zM34 58h1v1h-1zM38 58h1v1h-1zM24 63h1v1h-1zM15 65h1v1h-1zM32 66h1v1h-1zM18 70h1v1h-1zM15 73h1v1h-1zM24 85h1v1h-1z"/><path fill="#002800" d="M53 0h1v1h-1zM14 1h1v1h-1zM39 2h1v1h-1zM32 3h1v1h-1zM44 4h1v1h-1zM14 5h1v1h-1zM26 5h1v1h-1zM46 5h1v1h-1zM24 6h1v1h-1zM26 6h1v1h-1zM29 6h1v1h-1zM33 6h1v1h-1zM52 6h1v1h-1zM19 7h1v1h-1zM23 7h1v1h-1zM36 7h1v1h-1zM18 8h1v1h-1zM25 8h1v1h-1zM19 10h1v1h-1zM41 10h1v1h-1zM55 11h1v1h-1zM34 12h1v1h-1zM55 12h1v1h-1zM23 13h1v1h-1zM43 13h1v1h-1zM16 15h1v1h-1zM48 15h1v1h-1zM52 15h1v1h-1zM36 16h1v1h-1zM42 16h1v1h-1zM20 17h1v1h-1zM29 17h1v1h-1zM41 17h1v1h-1zM50 17h1v1h-1zM18 19h1v1h-1zM18 20h1v1h-1zM24 20h1v1h-1zM37 20h1v1h-1zM46 20h1v1h-1zM19 21h1v1h-1zM35 21h1v1h-1zM15 22h1v1h-1zM38 22h1v1h-1zM31 24h1v1h-1zM37 24h1v1h-1zM24 25h1v1h-1zM29 27h1v1h-1zM38 29h1v1h-1zM52 29h1v1h-1zM26 30h1v1h-1zM52 30h1v1h-1zM20 31h1v1h-1zM18 32h1v1h-1zM23 34h1v1h-1zM51 35h1v1h-1zM23 37h1v1h-1zM20 38h1v1h-1zM20 40h1v1h-1zM16 42h1v1h-1zM24 42h1v1h-1zM38 42h1v1h-1zM27 44h1v1h-1zM32 44h1v1h-1zM35 44h1v1h-1zM19 45h1v1h-1zM53 46h1v1h-1zM55 46h1v1h-1zM28 47h1v1h-1zM52 47h1v1h-1zM38 48h1v1h-1zM16 49h1v1h-1zM48 54h1v1h-1zM19 58h1v1h-1zM26 58h1v1h-1zM40 59h1v1h-1zM43 62h1v1h-1zM50 63h1v1h-1zM47 65h1v1h-1zM39 66h1v1h-1zM42 67h1v1h-1zM28 69h1v1h-1zM45 69h1v1h-1zM51 70h1v1h-1zM51 73h1v1h-1zM36 74h1v1h-1zM48 77h1v1h-1zM27 78h1v1h-1zM17 80h1v1h-1zM54 80h1v1h-1zM33 81h1v1h-1zM34 81h1v1h-1zM48 81h1v1h-1zM28 83h1v1h-1zM35 83h1v1h-1zM47 83h1v1h-1zM55 83h1v1h-1z"/><path fill="#086008" d="M55 0h1v1h-1zM48 2h1v1h-1zM54 3h1v1h-1zM22 4h1v1h-1zM29 4h1v1h-1zM17 5h1v1h-1zM39 5h1v1h-1zM18 6h1v1h-1zM20 10h1v1h-1zM54 10h1v1h-1zM22 11h1v1h-1zM32 11h1v1h-1zM37 12h1v1h-1zM23 14h1v1h-1zM51 17h1v1h-1zM22 18h1v1h-1zM23 19h1v1h-1zM26 19h1v1h-1zM37 19h1v1h-1zM54 19h1v1h-1zM55 19h1v1h-1zM19 22h1v1h-1zM31 23h1v1h-1zM20 24h1v1h-1zM24 27h1v1h-1zM31 27h1v1h-1zM40 30h1v1h-1zM32 31h1v1h-1zM15 34h1v1h-1zM32 35h1v1h-1zM19 37h1v1h-1zM19 38h1v1h-1zM46 39h1v1h-1zM36 44h1v1h-1zM28 45h1v1h-1zM50 45h1v1h-1zM28 46h1v1h-1zM41 46h1v1h-1zM46 46h1v1h-1zM15 47h1v1h-1zM26 48h1v1h-1zM31 48h1v1h-1zM46 48h1v1h-1zM25 49h1v1h-1zM55 51h1v1h-1zM52 54h1v1h-1zM33 55h1v1h-1zM17 56h1v1h-1zM53 56h1v1h-1zM55 56h1v1h-1zM29 57h1v1h-1zM54 57h1v1h-1zM37 64h1v1h-1zM47 64h1v1h-1zM52 65h1v1h-1zM55 67h1v1h-1zM43 68h1v1h-1zM36 69h1v1h-1zM54 71h1v1h-1zM47 74h1v1h-1zM17 76h1v1h-1zM29 79h1v1h-1zM51 81h1v1h-1zM27 84h1v1h-1zM38 84h1v1h-1zM19 85h1v1h-1zM26 85h1v1h-1zM37 85h1v1h-1z"/><path fill="#065006" d="M16 1h1v1h-1zM17 3h1v1h-1zM23 3h1v1h-1zM31 3h1v1h-1zM43 3h1v1h-1zM55 3h1v1h-1zM25 4h1v1h-1zM27 4h1v1h-1zM53 4h1v1h-1zM48 5h1v1h-1zM28 6h1v1h-1zM41 6h1v1h-1zM53 6h1v1h-1zM15 7h1v1h-1zM29 8h1v1h-1zM20 9h1v1h-1zM39 14h1v1h-1zM18 17h1v1h-1zM54 21h1v1h-1zM32 24h1v1h-1zM36 32h1v1h-1zM55 32h1v1h-1zM47 34h1v1h-1zM15 35h1v1h-1zM26 38h1v1h-1zM32 39h1v1h-1zM33 39h1v1h-1zM21 41h1v1h-1zM38 41h1v1h-1zM52 41h1v1h-1zM30 42h1v1h-1zM39 42h1v1h-1zM16 45h1v1h-1zM40 46h1v1h-1zM47 46h1v1h-1zM51 46h1v1h-1zM27 48h1v1h-1zM17 49h1v1h-1zM23 49h1v1h-1zM34 49h1v1h-1zM46 49h1v1h-1zM47 49h1v1h-1zM23 50h1v1h-1zM36 52h1v1h-1zM55 52h1v1h-1zM43 53h1v1h-1zM49 53h1v1h-1zM47 54h1v1h-1zM14 56h1v1h-1zM36 58h1v1h-1zM31 63h1v1h-1zM39 65h1v1h-1zM52 67h1v1h-1zM36 68h1v1h-1zM40 69h1v1h-1zM48 71h1v1h-1zM53 72h1v1h-1zM49 74h1v1h-1zM31 77h1v1h-1zM39 78h1v1h-1zM32 83h1v1h-1zM19 84h1v1h-1zM24 84h1v1h-1zM40 84h1v1h-1zM45 84h1v1h-1zM48 85h1v1h-1z"/><path fill="#108010" d="M18 1h1v1h-1zM22 1h1v1h-1zM26 3h1v1h-1zM50 3h1v1h-1zM23 5h1v1h-1zM30 5h1v1h-1zM17 6h1v1h-1zM22 7h1v1h-1zM30 12h1v1h-1zM20 14h1v1h-1zM44 14h1v1h-1zM45 14h1v1h-1zM17 15h1v1h-1zM25 15h1v1h-1zM30 15h1v1h-1zM33 15h1v1h-1zM42 15h1v1h-1zM33 16h1v1h-1zM34 16h1v1h-1zM51 19h1v1h-1zM39 21h1v1h-1zM18 22h1v1h-1zM19 27h1v1h-1zM23 27h1v1h-1zM45 27h1v1h-1zM50 28h1v1h-1zM39 29h1v1h-1zM50 29h1v1h-1zM28 30h1v1h-1zM54 30h1v1h-1zM32 37h1v1h-1zM44 37h1v1h-1zM18 39h1v1h-1zM38 43h1v1h-1zM51 45h1v1h-1zM25 47h1v1h-1zM45 47h1v1h-1zM48 52h1v1h-1zM50 53h1v1h-1zM43 55h1v1h-1zM18 57h1v1h-1zM18 58h1v1h-1zM28 58h1v1h-1zM15 62h1v1h-1zM31 64h1v1h-1zM46 64h1v1h-1zM49 64h1v1h-1zM17 65h1v1h-1zM50 65h1v1h-1zM53 65h1v1h-1zM49 68h1v1h-1zM42 69h1v1h-1zM46 69h1v1h-1zM45 72h1v1h-1zM36 73h1v1h-1zM37 75h1v1h-1zM30 82h1v1h-1z"/><path fill="#480000" d="M26 1h1v1h-1zM55 7h1v1h-1zM54 8h1v1h-1zM18 9h1v1h-1zM38 10h1v1h-1zM21 12h1v1h-1zM45 13h1v1h-1zM49 13h1v1h-1zM51 14h1v1h-1zM45 15h1v1h-1zM49 15h1v1h-1zM43 16h1v1h-1zM30 17h1v1h-1zM36 17h1v1h-1zM37 18h1v1h-1zM46 22h1v1h-1zM36 26h1v1h-1zM48 26h1v1h-1zM47 30h1v1h-1zM48 33h1v1h-1zM31 34h1v1h-1zM37 34h1v1h-1zM51 34h1v1h-1zM16 35h1v1h-1zM22 35h1v1h-1zM46 35h1v1h-1zM47 36h1v1h-1zM29 38h1v1h-1zM34 38h1v1h-1zM36 39h1v1h-1zM37 40h1v1h-1zM28 43h1v1h-1zM36 45h1v1h-1zM41 47h1v1h-1zM18 49h1v1h-1zM28 51h1v1h-1zM24 52h1v1h-1zM42 52h1v1h-1zM18 53h1v1h-1zM28 61h1v1h-1zM33 61h1v1h-1zM29 64h1v1h-1zM19 65h1v1h-1zM24 65h1v1h-1zM55 68h1v1h-1zM17 69h1v1h-1zM32 69h1v1h-1zM14 70h1v1h-1zM45 73h1v1h-1zM23 75h1v1h-1zM34 76h1v1h-1zM53 76h1v1h-1zM20 78h1v1h-1zM36 78h1v1h-1zM22 79h1v1h-1zM23 80h1v1h-1zM48 80h1v1h-1zM39 81h1v1h-1zM22 83h1v1h-1z"/><path fill="#780000" d="M28 1h1v1h-1zM33 1h1v1h-1zM40 2h1v1h-1zM32 4h1v1h-1zM16 9h1v1h-1zM39 10h1v1h-1zM48 10h1v1h-1zM16 14h1v1h-1zM22 16h1v1h-1zM35 17h1v1h-1zM46 17h1v1h-1zM35 18h1v1h-1zM54 18h1v1h-1zM20 23h1v1h-1zM19 25h1v1h-1zM20 28h1v1h-1zM32 29h1v1h-1zM46 30h1v1h-1zM33 32h1v1h-1zM36 33h1v1h-1zM20 34h1v1h-1zM28 35h1v1h-1zM29 35h1v1h-1zM16 39h1v1h-1zM35 42h1v1h-1zM17 45h1v1h-1zM14 48h1v1h-1zM30 50h1v1h-1zM44 50h1v1h-1zM19 53h1v1h-1zM22 53h1v1h-1zM55 54h1v1h-1zM20 55h1v1h-1zM21 55h1v1h-1zM15 56h1v1h-1zM16 56h1v1h-1zM26 57h1v1h-1zM33 58h1v1h-1zM21 59h1v1h-1zM14 61h1v1h-1zM17 61h1v1h-1zM27 61h1v1h-1zM29 61h1v1h-1zM28 62h1v1h-1zM15 63h1v1h-1zM36 63h1v1h-1zM21 66h1v1h-1zM26 67h1v1h-1zM31 67h1v1h-1zM35 67h1v1h-1zM32 68h1v1h-1zM34 70h1v1h-1zM20 71h1v1h-1zM17 72h1v1h-1zM19 72h1v1h-1zM20 72h1v1h-1zM25 75h1v1h-1zM25 84h1v1h-1zM15 85h1v1h-1zM42 85h1v1h-1z"/><path fill="#900808" d="M29 1h1v1h-1zM30 1h1v1h-1zM35 1h1v1h-1zM37 4h1v1h-1zM46 7h1v1h-1zM36 8h1v1h-1zM45 8h1v1h-1zM27 10h1v1h-1zM47 10h1v1h-1zM45 12h1v1h-1zM53 12h1v1h-1zM19 13h1v1h-1zM53 13h1v1h-1zM22 14h1v1h-1zM35 14h1v1h-1zM20 16h1v1h-1zM49 16h1v1h-1zM51 16h1v1h-1zM48 17h1v1h-1zM27 19h1v1h-1zM35 19h1v1h-1zM45 19h1v1h-1zM48 21h1v1h-1zM14 22h1v1h-1zM28 22h1v1h-1zM29 22h1v1h-1zM30 22h1v1h-1zM22 24h1v1h-1zM46 24h1v1h-1zM24 29h1v1h-1zM46 31h1v1h-1zM27 34h1v1h-1zM55 34h1v1h-1zM33 35h1v1h-1zM34 35h1v1h-1zM43 35h1v1h-1zM30 36h1v1h-1zM46 36h1v1h-1zM29 37h1v1h-1zM51 37h1v1h-1zM33 38h1v1h-1zM19 44h1v1h-1zM43 45h1v1h-1zM27 46h1v1h-1zM15 49h1v1h-1zM42 51h1v1h-1zM23 54h1v1h-1zM39 54h1v1h-1zM44 54h1v1h-1zM16 55h1v1h-1zM45 62h1v1h-1zM50 66h1v1h-1zM17 68h1v1h-1zM37 68h1v1h-1zM20 69h1v1h-1zM34 72h1v1h-1zM21 80h1v1h-1zM42 80h1v1h-1zM15 81h1v1h-1z"/><path fill="#800000" d="M34 1h1v1h-1zM41 1h1v1h-1zM45 1h1v1h-1zM34 2h1v1h-1zM20 3h1v1h-1zM28 3h1v1h-1zM52 3h1v1h-1zM41 7h1v1h-1zM48 9h1v1h-1zM54 9h1v1h-1zM19 11h1v1h-1zM48 11h1v1h-1zM16 13h1v1h-1zM28 14h1v1h-1zM20 15h1v1h-1zM46 15h1v1h-1zM19 16h1v1h-1zM26 16h1v1h-1zM43 20h1v1h-1zM53 22h1v1h-1zM19 24h1v1h-1zM16 30h1v1h-1zM22 30h1v1h-1zM44 32h1v1h-1zM26 34h1v1h-1zM33 36h1v1h-1zM35 40h1v1h-1zM44 42h1v1h-1zM14 44h1v1h-1zM14 50h1v1h-1zM53 50h1v1h-1zM14 53h1v1h-1zM18 54h1v1h-1zM35 54h1v1h-1zM50 54h1v1h-1zM25 55h1v1h-1zM26 62h1v1h-1zM20 66h1v1h-1zM34 67h1v1h-1zM53 67h1v1h-1zM15 69h1v1h-1zM18 76h1v1h-1zM44 81h1v1h-1zM17 84h1v1h-1z"/><path fill="#149014" d="M37 1h1v1h-1zM46 1h1v1h-1zM15 2h1v1h-1zM44 2h1v1h-1zM16 4h1v1h-1zM24 4h1v1h-1zM48 4h1v1h-1zM16 5h1v1h-1zM18 5h1v1h-1zM20 5h1v1h-1zM27 5h1v1h-1zM31 5h1v1h-1zM20 6h1v1h-1zM25 6h1v1h-1zM25 7h1v1h-1zM51 8h1v1h-1zM25 10h1v1h-1zM18 11h1v1h-1zM24 11h1v1h-1zM31 12h1v1h-1zM25 13h1v1h-1zM31 13h1v1h-1zM16 17h1v1h-1zM32 18h1v1h-1zM22 19h1v1h-1zM50 21h1v1h-1zM37 22h1v1h-1zM33 23h1v1h-1zM23 26h1v1h-1zM26 26h1v1h-1zM40 26h1v1h-1zM50 36h1v1h-1zM22 37h1v1h-1zM37 38h1v1h-1zM22 39h1v1h-1zM34 39h1v1h-1zM17 40h1v1h-1zM20 44h1v1h-1zM46 44h1v1h-1zM34 45h1v1h-1zM18 47h1v1h-1zM23 48h1v1h-1zM37 50h1v1h-1zM26 51h1v1h-1zM38 55h1v1h-1zM22 56h1v1h-1zM53 58h1v1h-1zM42 64h1v1h-1zM16 65h1v1h-1zM18 65h1v1h-1zM15 66h1v1h-1zM40 66h1v1h-1zM27 70h1v1h-1zM15 71h1v1h-1zM49 72h1v1h-1zM30 78h1v1h-1z"/><path fill="#c00000" d="M42 1h1v1h-1zM52 7h1v1h-1zM33 11h1v1h-1zM53 11h1v1h-1zM31 14h1v1h-1zM51 15h1v1h-1zM16 16h1v1h-1zM39 19h1v1h-1zM47 20h1v1h-1zM23 22h1v1h-1zM16 23h1v1h-1zM45 23h1v1h-1zM14 24h1v1h-1zM36 24h1v1h-1zM55 24h1v1h-1zM14 25h1v1h-1zM49 25h1v1h-1zM53 25h1v1h-1zM46 27h1v1h-1zM23 28h1v1h-1zM48 29h1v1h-1zM49 31h1v1h-1zM42 33h1v1h-1zM43 34h1v1h-1zM39 35h1v1h-1zM52 35h1v1h-1zM44 36h1v1h-1zM53 36h1v1h-1zM22 38h1v1h-1zM23 38h1v1h-1zM15 39h1v1h-1zM35 39h1v1h-1zM48 39h1v1h-1zM49 39h1v1h-1zM15 41h1v1h-1zM35 41h1v1h-1zM47 45h1v1h-1zM25 46h1v1h-1zM49 49h1v1h-1zM54 49h1v1h-1zM27 50h1v1h-1zM43 50h1v1h-1zM46 50h1v1h-1zM20 51h1v1h-1zM47 51h1v1h-1zM27 53h1v1h-1zM29 53h1v1h-1zM42 53h1v1h-1zM28 55h1v1h-1zM30 55h1v1h-1zM29 56h1v1h-1zM30 56h1v1h-1zM34 56h1v1h-1zM45 56h1v1h-1zM35 58h1v1h-1zM45 58h1v1h-1zM30 59h1v1h-1zM37 59h1v1h-1zM45 59h1v1h-1zM52 59h1v1h-1zM30 60h1v1h-1zM41 60h1v1h-1zM52 60h1v1h-1zM53 60h1v1h-1zM19 61h1v1h-1zM23 61h1v1h-1zM55 61h1v1h-1zM29 62h1v1h-1zM41 62h1v1h-1zM18 63h1v1h-1zM22 63h1v1h-1zM18 64h1v1h-1zM22 65h1v1h-1zM33 65h1v1h-1zM42 65h1v1h-1zM22 66h1v1h-1zM54 66h1v1h-1zM14 67h1v1h-1zM22 67h1v1h-1zM22 68h1v1h-1zM33 68h1v1h-1zM34 68h1v1h-1zM40 68h1v1h-1zM22 69h1v1h-1zM33 69h1v1h-1zM34 69h1v1h-1zM22 70h1v1h-1zM22 71h1v1h-1zM33 71h1v1h-1zM43 71h1v1h-1zM23 73h1v1h-1zM18 74h1v1h-1zM32 74h1v1h-1zM30 75h1v1h-1zM31 75h1v1h-1zM36 75h1v1h-1zM16 76h1v1h-1zM19 76h1v1h-1zM31 76h1v1h-1zM26 77h1v1h-1zM14 78h1v1h-1zM26 78h1v1h-1zM48 78h1v1h-1zM51 78h1v1h-1zM30 79h1v1h-1zM33 79h1v1h-1zM39 79h1v1h-1zM34 83h1v1h-1z"/><path fill="#cc0000" d="M43 1h1v1h-1zM45 3h1v1h-1zM31 6h1v1h-1zM35 6h1v1h-1zM53 7h1v1h-1zM39 11h1v1h-1zM43 11h1v1h-1zM47 11h1v1h-1zM49 11h1v1h-1zM40 18h1v1h-1zM49 19h1v1h-1zM49 20h1v1h-1zM47 21h1v1h-1zM28 23h1v1h-1zM17 24h1v1h-1zM18 24h1v1h-1zM23 24h1v1h-1zM42 24h1v1h-1zM43 24h1v1h-1zM49 24h1v1h-1zM53 24h1v1h-1zM50 25h1v1h-1zM55 25h1v1h-1zM35 27h1v1h-1zM40 27h1v1h-1zM42 27h1v1h-1zM43 27h1v1h-1zM49 27h1v1h-1zM51 27h1v1h-1zM33 31h1v1h-1zM48 31h1v1h-1zM43 33h1v1h-1zM24 35h1v1h-1zM38 36h1v1h-1zM36 37h1v1h-1zM50 37h1v1h-1zM35 38h1v1h-1zM38 38h1v1h-1zM14 39h1v1h-1zM52 39h1v1h-1zM53 39h1v1h-1zM52 40h1v1h-1zM54 40h1v1h-1zM36 42h1v1h-1zM42 45h1v1h-1zM54 45h1v1h-1zM55 45h1v1h-1zM19 46h1v1h-1zM20 46h1v1h-1zM20 47h1v1h-1zM39 47h1v1h-1zM15 48h1v1h-1zM27 49h1v1h-1zM52 49h1v1h-1zM41 51h1v1h-1zM14 52h1v1h-1zM20 52h1v1h-1zM22 52h1v1h-1zM28 53h1v1h-1zM14 54h1v1h-1zM26 54h1v1h-1zM30 54h1v1h-1zM29 55h1v1h-1zM33 56h1v1h-1zM21 57h1v1h-1zM32 57h1v1h-1zM45 57h1v1h-1zM20 58h1v1h-1zM48 58h1v1h-1zM35 59h1v1h-1zM53 59h1v1h-1zM15 61h1v1h-1zM30 61h1v1h-1zM50 61h1v1h-1zM17 62h1v1h-1zM30 62h1v1h-1zM40 62h1v1h-1zM16 63h1v1h-1zM40 63h1v1h-1zM30 64h1v1h-1zM34 65h1v1h-1zM23 66h1v1h-1zM16 67h1v1h-1zM23 67h1v1h-1zM30 67h1v1h-1zM16 68h1v1h-1zM18 68h1v1h-1zM18 69h1v1h-1zM52 71h1v1h-1zM33 72h1v1h-1zM18 73h1v1h-1zM24 73h1v1h-1zM25 73h1v1h-1zM26 73h1v1h-1zM43 73h1v1h-1zM14 76h1v1h-1zM15 76h1v1h-1zM15 77h1v1h-1zM22 78h1v1h-1zM33 78h1v1h-1zM50 78h1v1h-1zM14 79h1v1h-1zM15 80h1v1h-1zM31 80h1v1h-1zM45 80h1v1h-1zM51 80h1v1h-1zM52 80h1v1h-1zM45 81h1v1h-1zM55 81h1v1h-1zM15 82h1v1h-1zM38 82h1v1h-1zM42 82h1v1h-1zM38 83h1v1h-1zM52 83h1v1h-1zM14 84h1v1h-1zM18 84h1v1h-1zM21 84h1v1h-1zM23 84h1v1h-1z"/><path fill="#1ee01e" d="M48 1h1v1h-1zM25 2h1v1h-1zM38 4h1v1h-1zM46 4h1v1h-1zM40 5h1v1h-1zM55 5h1v1h-1zM55 6h1v1h-1zM21 7h1v1h-1zM24 7h1v1h-1zM49 7h1v1h-1zM26 12h1v1h-1zM29 15h1v1h-1zM32 16h1v1h-1zM41 16h1v1h-1zM53 16h1v1h-1zM14 17h1v1h-1zM52 17h1v1h-1zM33 19h1v1h-1zM19 20h1v1h-1zM20 20h1v1h-1zM44 20h1v1h-1zM17 21h1v1h-1zM34 25h1v1h-1zM19 26h1v1h-1zM21 26h1v1h-1zM49 26h1v1h-1zM54 27h1v1h-1zM15 28h1v1h-1zM42 28h1v1h-1zM38 30h1v1h-1zM55 30h1v1h-1zM25 31h1v1h-1zM41 31h1v1h-1zM25 32h1v1h-1zM39 32h1v1h-1zM20 33h1v1h-1zM40 34h1v1h-1zM15 36h1v1h-1zM49 36h1v1h-1zM26 37h1v1h-1zM27 37h1v1h-1zM41 37h1v1h-1zM36 38h1v1h-1zM17 39h1v1h-1zM41 40h1v1h-1zM50 41h1v1h-1zM28 44h1v1h-1zM41 44h1v1h-1zM18 45h1v1h-1zM23 45h1v1h-1zM30 45h1v1h-1zM31 45h1v1h-1zM14 46h1v1h-1zM15 46h1v1h-1zM36 46h1v1h-1zM30 48h1v1h-1zM48 48h1v1h-1zM32 49h1v1h-1zM25 50h1v1h-1zM31 53h1v1h-1zM46 56h1v1h-1zM37 57h1v1h-1zM33 62h1v1h-1zM35 64h1v1h-1zM37 67h1v1h-1zM38 68h1v1h-1zM38 69h1v1h-1zM50 69h1v1h-1zM45 70h1v1h-1zM50 71h1v1h-1zM48 72h1v1h-1zM38 73h1v1h-1zM40 75h1v1h-1zM27 76h1v1h-1zM51 76h1v1h-1zM55 76h1v1h-1zM43 84h1v1h-1z"/><path fill="#0a4a0a" d="M29 2h1v1h-1zM15 3h1v1h-1zM18 3h1v1h-1zM15 4h1v1h-1zM15 5h1v1h-1zM15 6h1v1h-1zM19 6h1v1h-1z"/><path fill="#a80000" d="M29 3h1v1h-1zM22 6h1v1h-1zM45 6h1v1h-1zM45 7h1v1h-1zM52 8h1v1h-1zM44 10h1v1h-1zM50 10h1v1h-1zM50 11h1v1h-1zM46 13h1v1h-1zM31 15h1v1h-1zM47 19h1v1h-1zM51 21h1v1h-1zM31 22h1v1h-1zM19 23h1v1h-1zM27 23h1v1h-1zM49 23h1v1h-1zM27 24h1v1h-1zM29 24h1v1h-1zM30 24h1v1h-1zM44 24h1v1h-1zM15 25h1v1h-1zM43 25h1v1h-1zM34 27h1v1h-1zM50 27h1v1h-1zM48 28h1v1h-1zM49 28h1v1h-1zM34 30h1v1h-1zM36 30h1v1h-1zM34 31h1v1h-1zM15 33h1v1h-1zM30 34h1v1h-1zM53 35h1v1h-1zM21 36h1v1h-1zM54 36h1v1h-1zM30 37h1v1h-1zM45 37h1v1h-1zM30 38h1v1h-1zM48 38h1v1h-1zM24 39h1v1h-1zM51 39h1v1h-1zM14 41h1v1h-1zM34 41h1v1h-1zM45 42h1v1h-1zM41 45h1v1h-1zM45 45h1v1h-1zM26 46h1v1h-1zM14 47h1v1h-1zM21 47h1v1h-1zM54 50h1v1h-1zM14 51h1v1h-1zM19 52h1v1h-1zM30 52h1v1h-1zM15 53h1v1h-1zM38 54h1v1h-1zM41 56h1v1h-1zM20 57h1v1h-1zM35 57h1v1h-1zM41 58h1v1h-1zM17 59h1v1h-1zM25 59h1v1h-1zM15 60h1v1h-1zM16 60h1v1h-1zM40 60h1v1h-1zM43 60h1v1h-1zM55 60h1v1h-1zM21 61h1v1h-1zM24 61h1v1h-1zM26 61h1v1h-1zM45 61h1v1h-1zM54 61h1v1h-1zM26 63h1v1h-1zM41 63h1v1h-1zM16 64h1v1h-1zM38 64h1v1h-1zM24 66h1v1h-1zM30 68h1v1h-1zM31 68h1v1h-1zM41 68h1v1h-1zM27 69h1v1h-1zM31 69h1v1h-1zM30 72h1v1h-1zM33 73h1v1h-1zM34 73h1v1h-1zM33 74h1v1h-1zM34 74h1v1h-1zM22 75h1v1h-1zM23 76h1v1h-1zM23 77h1v1h-1zM34 77h1v1h-1zM44 77h1v1h-1zM31 79h1v1h-1zM38 79h1v1h-1zM50 81h1v1h-1zM54 81h1v1h-1zM15 83h1v1h-1zM23 83h1v1h-1zM15 84h1v1h-1zM32 84h1v1h-1zM41 84h1v1h-1zM45 85h1v1h-1z"/><path fill="#680404" d="M40 3h1v1h-1zM51 3h1v1h-1zM44 8h1v1h-1zM47 8h1v1h-1zM49 9h1v1h-1zM36 10h1v1h-1zM45 11h1v1h-1zM36 12h1v1h-1zM36 14h1v1h-1zM21 15h1v1h-1zM29 16h1v1h-1zM34 17h1v1h-1zM49 17h1v1h-1zM50 20h1v1h-1zM43 21h1v1h-1zM53 21h1v1h-1zM41 22h1v1h-1zM21 23h1v1h-1zM51 24h1v1h-1zM23 25h1v1h-1zM28 25h1v1h-1zM15 26h1v1h-1zM44 26h1v1h-1zM47 27h1v1h-1zM18 29h1v1h-1zM46 29h1v1h-1zM48 30h1v1h-1zM17 31h1v1h-1zM22 31h1v1h-1zM32 32h1v1h-1zM51 32h1v1h-1zM55 33h1v1h-1zM34 36h1v1h-1zM37 36h1v1h-1zM50 38h1v1h-1zM54 39h1v1h-1zM29 52h1v1h-1zM34 52h1v1h-1zM44 52h1v1h-1zM42 57h1v1h-1zM29 60h1v1h-1zM34 61h1v1h-1zM31 62h1v1h-1zM39 62h1v1h-1zM29 67h1v1h-1zM33 67h1v1h-1zM25 69h1v1h-1zM55 70h1v1h-1zM18 71h1v1h-1zM32 71h1v1h-1zM41 71h1v1h-1zM42 71h1v1h-1zM19 73h1v1h-1zM27 73h1v1h-1zM19 74h1v1h-1zM20 74h1v1h-1zM44 75h1v1h-1zM32 77h1v1h-1zM28 78h1v1h-1zM41 79h1v1h-1zM52 81h1v1h-1zM22 84h1v1h-1z"/><path fill="#300000" d="M46 3h1v1h-1zM21 4h1v1h-1zM54 7h1v1h-1zM30 10h1v1h-1zM27 11h1v1h-1zM33 12h1v1h-1zM41 12h1v1h-1zM22 13h1v1h-1zM33 17h1v1h-1zM54 17h1v1h-1zM20 18h1v1h-1zM24 19h1v1h-1zM25 22h1v1h-1zM44 22h1v1h-1zM45 22h1v1h-1zM55 22h1v1h-1zM31 25h1v1h-1zM51 26h1v1h-1zM20 27h1v1h-1zM52 27h1v1h-1zM17 28h1v1h-1zM22 28h1v1h-1zM34 29h1v1h-1zM36 29h1v1h-1zM18 30h1v1h-1zM23 31h1v1h-1zM42 31h1v1h-1zM45 31h1v1h-1zM27 33h1v1h-1zM33 33h1v1h-1zM41 33h1v1h-1zM32 34h1v1h-1zM40 35h1v1h-1zM55 35h1v1h-1zM24 36h1v1h-1zM31 36h1v1h-1zM41 36h1v1h-1zM48 37h1v1h-1zM33 40h1v1h-1zM45 41h1v1h-1zM52 42h1v1h-1zM45 49h1v1h-1zM40 50h1v1h-1zM28 52h1v1h-1zM36 56h1v1h-1zM24 57h1v1h-1zM33 57h1v1h-1zM23 58h1v1h-1zM44 59h1v1h-1zM47 59h1v1h-1zM20 62h1v1h-1zM27 64h1v1h-1zM36 67h1v1h-1zM21 68h1v1h-1zM53 69h1v1h-1zM14 72h1v1h-1zM26 72h1v1h-1zM55 73h1v1h-1zM43 74h1v1h-1zM52 76h1v1h-1zM28 77h1v1h-1zM16 78h1v1h-1zM54 79h1v1h-1zM53 83h1v1h-1zM16 84h1v1h-1zM47 85h1v1h-1zM52 85h1v1h-1z"/><path fill="#0c400c" d="M14 4h1v1h-1zM19 4h1v1h-1zM19 5h1v1h-1zM16 7h1v1h-1zM21 8h1v1h-1zM15 17h1v1h-1z"/><path fill="#880000" d="M32 6h1v1h-1zM35 8h1v1h-1zM15 9h1v1h-1zM45 10h1v1h-1zM43 12h1v1h-1zM52 13h1v1h-1zM35 15h1v1h-1zM50 19h1v1h-1zM17 23h1v1h-1zM25 23h1v1h-1zM51 23h1v1h-1zM19 29h1v1h-1zM20 29h1v1h-1zM19 30h1v1h-1zM34 32h1v1h-1zM42 32h1v1h-1zM49 32h1v1h-1zM33 34h1v1h-1zM14 35h1v1h-1zM23 35h1v1h-1zM49 35h1v1h-1zM29 36h1v1h-1zM27 39h1v1h-1zM14 40h1v1h-1zM42 42h1v1h-1zM17 43h1v1h-1zM27 45h1v1h-1zM48 45h1v1h-1zM28 48h1v1h-1zM14 49h1v1h-1zM21 54h1v1h-1zM28 54h1v1h-1zM43 54h1v1h-1zM23 55h1v1h-1zM28 56h1v1h-1zM16 57h1v1h-1zM23 57h1v1h-1zM49 57h1v1h-1zM21 58h1v1h-1zM19 59h1v1h-1zM18 62h1v1h-1zM35 68h1v1h-1zM26 69h1v1h-1zM41 70h1v1h-1zM19 71h1v1h-1zM24 71h1v1h-1zM32 76h1v1h-1zM20 79h1v1h-1zM21 81h1v1h-1zM25 82h1v1h-1zM27 85h1v1h-1z"/><path fill="#c00808" d="M43 8h1v1h-1zM53 8h1v1h-1zM43 10h1v1h-1zM49 10h1v1h-1zM20 11h1v1h-1zM46 11h1v1h-1zM51 11h1v1h-1zM27 18h1v1h-1zM41 18h1v1h-1zM42 18h1v1h-1zM43 18h1v1h-1zM40 19h1v1h-1zM41 19h1v1h-1zM42 19h1v1h-1zM43 19h1v1h-1zM38 20h1v1h-1zM48 20h1v1h-1zM51 20h1v1h-1zM26 23h1v1h-1zM30 23h1v1h-1zM16 24h1v1h-1zM28 24h1v1h-1zM38 24h1v1h-1zM54 24h1v1h-1zM16 25h1v1h-1zM42 25h1v1h-1zM54 25h1v1h-1zM42 26h1v1h-1zM32 27h1v1h-1zM33 27h1v1h-1zM36 27h1v1h-1zM15 29h1v1h-1zM16 29h1v1h-1zM49 29h1v1h-1zM15 30h1v1h-1zM43 32h1v1h-1zM46 32h1v1h-1zM48 32h1v1h-1zM35 33h1v1h-1zM43 36h1v1h-1zM38 37h1v1h-1zM23 39h1v1h-1zM49 40h1v1h-1zM36 41h1v1h-1zM54 41h1v1h-1zM33 42h1v1h-1zM41 42h1v1h-1zM35 43h1v1h-1zM39 43h1v1h-1zM45 43h1v1h-1zM53 45h1v1h-1zM19 47h1v1h-1zM42 50h1v1h-1zM17 51h1v1h-1zM15 54h1v1h-1zM16 54h1v1h-1zM19 54h1v1h-1zM24 54h1v1h-1zM29 54h1v1h-1zM26 55h1v1h-1zM20 56h1v1h-1zM26 56h1v1h-1zM37 56h1v1h-1zM42 56h1v1h-1zM30 57h1v1h-1zM32 58h1v1h-1zM49 58h1v1h-1zM18 59h1v1h-1zM22 59h1v1h-1zM26 59h1v1h-1zM51 59h1v1h-1zM54 59h1v1h-1zM17 60h1v1h-1zM18 60h1v1h-1zM51 60h1v1h-1zM54 60h1v1h-1zM20 61h1v1h-1zM22 61h1v1h-1zM51 61h1v1h-1zM21 62h1v1h-1zM55 62h1v1h-1zM29 63h1v1h-1zM15 64h1v1h-1zM17 64h1v1h-1zM42 66h1v1h-1zM51 66h1v1h-1zM17 67h1v1h-1zM24 67h1v1h-1zM14 68h1v1h-1zM15 68h1v1h-1zM27 68h1v1h-1zM14 69h1v1h-1zM30 69h1v1h-1zM41 69h1v1h-1zM39 70h1v1h-1zM27 71h1v1h-1zM28 71h1v1h-1zM41 72h1v1h-1zM43 72h1v1h-1zM39 74h1v1h-1zM44 74h1v1h-1zM17 75h1v1h-1zM29 76h1v1h-1zM22 77h1v1h-1zM18 78h1v1h-1zM34 78h1v1h-1zM45 79h1v1h-1zM46 79h1v1h-1zM42 81h1v1h-1zM46 81h1v1h-1zM21 83h1v1h-1z"/></g><g transform="translate(1.009,340.5) scale(4.79091,3.77)" shape-rendering="crispEdges"><path fill="#000a00" d="M56 0h1v1h-1zM57 2h1v1h-1zM65 2h1v1h-1zM59 3h1v1h-1zM64 3h1v1h-1zM63 5h1v1h-1zM63 6h1v1h-1zM57 8h1v1h-1zM59 8h1v1h-1zM56 9h1v1h-1zM65 9h1v1h-1zM63 10h1v1h-1zM64 11h1v1h-1zM65 16h1v1h-1zM57 18h1v1h-1zM66 19h1v1h-1zM64 26h1v1h-1zM59 29h1v1h-1zM64 31h1v1h-1zM61 32h1v1h-1zM57 33h1v1h-1zM63 33h1v1h-1zM57 34h1v1h-1zM59 34h1v1h-1zM64 34h1v1h-1zM64 35h1v1h-1zM62 37h1v1h-1zM64 37h1v1h-1zM62 39h1v1h-1zM62 40h1v1h-1zM56 41h1v1h-1zM59 41h1v1h-1zM64 41h1v1h-1zM66 41h1v1h-1zM64 43h1v1h-1zM66 44h1v1h-1zM57 45h1v1h-1zM62 46h1v1h-1zM56 47h1v1h-1zM66 47h1v1h-1zM58 49h1v1h-1zM66 49h1v1h-1zM62 50h1v1h-1zM58 51h1v1h-1zM62 51h1v1h-1zM59 52h1v1h-1zM64 53h1v1h-1zM61 54h1v1h-1zM65 54h1v1h-1zM62 55h1v1h-1zM58 56h1v1h-1zM62 57h1v1h-1zM66 58h1v1h-1zM56 59h1v1h-1zM57 60h1v1h-1zM59 60h1v1h-1zM60 61h1v1h-1zM62 61h1v1h-1zM59 63h1v1h-1zM65 64h1v1h-1zM59 66h1v1h-1zM58 67h1v1h-1zM66 68h1v1h-1zM57 69h1v1h-1zM63 70h1v1h-1zM65 70h1v1h-1zM63 73h1v1h-1zM60 75h1v1h-1zM63 77h1v1h-1zM56 78h1v1h-1zM58 79h1v1h-1zM57 83h1v1h-1zM59 84h1v1h-1zM62 84h1v1h-1z"/><path fill="#140000" d="M57 0h1v1h-1zM58 3h1v1h-1zM61 6h1v1h-1zM65 6h1v1h-1zM66 8h1v1h-1zM64 9h1v1h-1zM66 9h1v1h-1zM57 15h1v1h-1zM61 15h1v1h-1zM64 15h1v1h-1zM57 17h1v1h-1zM63 18h1v1h-1zM66 18h1v1h-1zM61 21h1v1h-1zM66 21h1v1h-1zM66 22h1v1h-1zM57 25h1v1h-1zM56 27h1v1h-1zM60 27h1v1h-1zM62 27h1v1h-1zM57 28h1v1h-1zM58 29h1v1h-1zM58 31h1v1h-1zM59 31h1v1h-1zM63 31h1v1h-1zM58 32h1v1h-1zM59 32h1v1h-1zM60 32h1v1h-1zM63 32h1v1h-1zM61 34h1v1h-1zM60 38h1v1h-1zM63 38h1v1h-1zM58 40h1v1h-1zM61 40h1v1h-1zM63 40h1v1h-1zM62 41h1v1h-1zM63 43h1v1h-1zM65 43h1v1h-1zM57 44h1v1h-1zM60 45h1v1h-1zM66 46h1v1h-1zM64 47h1v1h-1zM62 48h1v1h-1zM65 48h1v1h-1zM63 49h1v1h-1zM60 50h1v1h-1zM65 50h1v1h-1zM61 51h1v1h-1zM63 52h1v1h-1zM65 52h1v1h-1zM65 53h1v1h-1zM62 54h1v1h-1zM61 56h1v1h-1zM64 57h1v1h-1zM60 59h1v1h-1zM60 62h1v1h-1zM59 65h1v1h-1zM63 67h1v1h-1zM64 67h1v1h-1zM63 68h1v1h-1zM59 69h1v1h-1zM64 69h1v1h-1zM64 70h1v1h-1zM66 70h1v1h-1zM65 72h1v1h-1zM58 73h1v1h-1zM59 75h1v1h-1zM66 77h1v1h-1zM61 78h1v1h-1zM62 78h1v1h-1zM57 79h1v1h-1zM59 79h1v1h-1zM64 81h1v1h-1zM58 84h1v1h-1zM63 84h1v1h-1zM56 85h1v1h-1z"/><path fill="#5a0000" d="M58 0h1v1h-1zM59 4h1v1h-1zM58 6h1v1h-1zM59 17h1v1h-1zM62 17h1v1h-1zM64 20h1v1h-1zM60 22h1v1h-1zM57 26h1v1h-1zM65 30h1v1h-1zM65 34h1v1h-1zM63 36h1v1h-1zM58 45h1v1h-1zM66 51h1v1h-1zM61 52h1v1h-1z"/><path fill="#300000" d="M59 0h1v1h-1zM63 1h1v1h-1zM64 5h1v1h-1zM65 11h1v1h-1zM62 26h1v1h-1zM59 28h1v1h-1zM61 28h1v1h-1zM63 28h1v1h-1zM66 29h1v1h-1zM64 30h1v1h-1zM57 35h1v1h-1zM58 47h1v1h-1zM66 54h1v1h-1zM56 58h1v1h-1zM63 78h1v1h-1zM59 80h1v1h-1z"/><path fill="#900808" d="M60 0h1v1h-1zM59 2h1v1h-1zM60 14h1v1h-1zM62 29h1v1h-1zM58 34h1v1h-1zM62 70h1v1h-1zM57 75h1v1h-1z"/><path fill="#880000" d="M61 0h1v1h-1zM61 1h1v1h-1zM66 3h1v1h-1zM60 6h1v1h-1zM56 7h1v1h-1zM62 20h1v1h-1zM66 25h1v1h-1zM63 29h1v1h-1zM57 31h1v1h-1zM57 54h1v1h-1zM57 72h1v1h-1zM64 72h1v1h-1zM65 77h1v1h-1z"/><path fill="#0a4a0a" d="M62 0h1v1h-1z"/><path fill="#086008" d="M63 0h1v1h-1zM66 10h1v1h-1zM60 12h1v1h-1zM61 13h1v1h-1zM57 14h1v1h-1zM59 21h1v1h-1zM62 21h1v1h-1zM63 24h1v1h-1zM60 40h1v1h-1zM63 41h1v1h-1zM64 44h1v1h-1zM59 46h1v1h-1zM57 47h1v1h-1zM66 50h1v1h-1zM64 52h1v1h-1zM57 55h1v1h-1zM66 57h1v1h-1zM58 58h1v1h-1zM65 60h1v1h-1zM59 62h1v1h-1zM66 63h1v1h-1zM62 64h1v1h-1zM59 71h1v1h-1zM58 74h1v1h-1zM61 85h1v1h-1z"/><path fill="#004000" d="M64 0h1v1h-1zM60 8h1v1h-1zM58 10h1v1h-1zM58 11h1v1h-1zM57 19h1v1h-1zM58 19h1v1h-1zM60 21h1v1h-1zM57 22h1v1h-1zM58 25h1v1h-1zM56 28h1v1h-1zM62 33h1v1h-1zM65 35h1v1h-1zM63 44h1v1h-1zM58 46h1v1h-1zM64 58h1v1h-1zM61 64h1v1h-1zM66 71h1v1h-1zM61 73h1v1h-1zM65 76h1v1h-1zM61 79h1v1h-1zM63 82h1v1h-1zM65 82h1v1h-1z"/><path fill="#20d820" d="M65 0h1v1h-1zM62 8h1v1h-1zM60 11h1v1h-1zM62 11h1v1h-1zM56 12h1v1h-1zM64 12h1v1h-1zM58 14h1v1h-1zM59 15h1v1h-1zM56 16h1v1h-1zM60 17h1v1h-1zM56 20h1v1h-1zM56 22h1v1h-1zM61 22h1v1h-1zM56 24h1v1h-1zM58 24h1v1h-1zM61 26h1v1h-1zM61 35h1v1h-1zM58 38h1v1h-1zM61 39h1v1h-1zM61 41h1v1h-1zM64 42h1v1h-1zM65 42h1v1h-1zM61 43h1v1h-1zM61 44h1v1h-1zM65 44h1v1h-1zM61 45h1v1h-1zM60 47h1v1h-1zM57 51h1v1h-1zM56 53h1v1h-1zM61 61h1v1h-1zM61 62h1v1h-1zM62 65h1v1h-1zM62 66h1v1h-1zM66 67h1v1h-1zM61 69h1v1h-1zM56 72h1v1h-1zM64 76h1v1h-1zM62 83h1v1h-1z"/><path fill="#14b414" d="M66 0h1v1h-1zM62 2h1v1h-1zM58 7h1v1h-1zM62 10h1v1h-1zM58 12h1v1h-1zM61 12h1v1h-1zM59 13h1v1h-1zM64 14h1v1h-1zM60 16h1v1h-1zM56 23h1v1h-1zM60 25h1v1h-1zM66 30h1v1h-1zM61 31h1v1h-1zM60 33h1v1h-1zM61 33h1v1h-1zM66 33h1v1h-1zM66 34h1v1h-1zM56 37h1v1h-1zM65 37h1v1h-1zM65 47h1v1h-1zM57 48h1v1h-1zM58 50h1v1h-1zM61 50h1v1h-1zM56 52h1v1h-1zM62 52h1v1h-1zM56 55h1v1h-1zM56 61h1v1h-1zM56 66h1v1h-1zM59 73h1v1h-1zM59 74h1v1h-1zM62 74h1v1h-1zM58 75h1v1h-1zM62 75h1v1h-1zM60 81h1v1h-1zM61 82h1v1h-1zM66 82h1v1h-1zM66 83h1v1h-1z"/><path fill="#1ee01e" d="M56 1h1v1h-1zM61 7h1v1h-1zM63 7h1v1h-1zM58 8h1v1h-1zM60 10h1v1h-1zM65 12h1v1h-1zM57 13h1v1h-1zM58 13h1v1h-1zM56 14h1v1h-1zM63 15h1v1h-1zM62 16h1v1h-1zM56 17h1v1h-1zM64 17h1v1h-1zM56 21h1v1h-1zM62 22h1v1h-1zM63 22h1v1h-1zM60 23h1v1h-1zM62 25h1v1h-1zM66 36h1v1h-1zM61 37h1v1h-1zM63 42h1v1h-1zM57 50h1v1h-1zM56 51h1v1h-1zM56 57h1v1h-1zM57 61h1v1h-1zM60 64h1v1h-1zM62 73h1v1h-1zM60 76h1v1h-1zM56 79h1v1h-1zM62 80h1v1h-1zM62 81h1v1h-1zM61 83h1v1h-1z"/><path fill="#18c818" d="M57 1h1v1h-1zM56 2h1v1h-1zM63 8h1v1h-1zM56 11h1v1h-1zM64 13h1v1h-1zM60 19h1v1h-1zM64 28h1v1h-1zM61 29h1v1h-1zM65 36h1v1h-1zM58 39h1v1h-1zM61 48h1v1h-1zM56 49h1v1h-1zM62 58h1v1h-1zM63 59h1v1h-1zM64 61h1v1h-1zM65 61h1v1h-1zM62 62h1v1h-1zM61 63h1v1h-1zM56 65h1v1h-1zM63 71h1v1h-1zM56 80h1v1h-1zM61 81h1v1h-1zM66 81h1v1h-1z"/><path fill="#0a700a" d="M58 1h1v1h-1zM56 4h1v1h-1zM61 5h1v1h-1zM59 9h1v1h-1zM63 9h1v1h-1zM57 12h1v1h-1zM62 13h1v1h-1zM61 14h1v1h-1zM58 15h1v1h-1zM58 16h1v1h-1zM60 18h1v1h-1zM62 18h1v1h-1zM65 21h1v1h-1zM58 23h1v1h-1zM58 28h1v1h-1zM60 28h1v1h-1zM56 31h1v1h-1zM66 32h1v1h-1zM58 33h1v1h-1zM57 36h1v1h-1zM64 36h1v1h-1zM57 37h1v1h-1zM66 38h1v1h-1zM57 39h1v1h-1zM58 41h1v1h-1zM62 56h1v1h-1zM60 57h1v1h-1zM58 59h1v1h-1zM60 60h1v1h-1zM63 60h1v1h-1zM63 61h1v1h-1zM62 71h1v1h-1zM66 72h1v1h-1zM57 73h1v1h-1zM61 77h1v1h-1zM66 80h1v1h-1zM58 81h1v1h-1zM64 84h1v1h-1zM57 85h1v1h-1zM58 85h1v1h-1zM63 85h1v1h-1z"/><path fill="#780000" d="M59 1h1v1h-1zM62 4h1v1h-1zM57 5h1v1h-1zM62 6h1v1h-1zM57 7h1v1h-1zM66 17h1v1h-1zM59 18h1v1h-1zM63 30h1v1h-1zM65 31h1v1h-1zM59 35h1v1h-1zM59 56h1v1h-1zM64 73h1v1h-1zM65 78h1v1h-1z"/><path fill="#cc0000" d="M60 1h1v1h-1zM66 14h1v1h-1zM65 27h1v1h-1zM66 27h1v1h-1zM66 28h1v1h-1zM59 30h1v1h-1zM63 35h1v1h-1zM56 39h1v1h-1zM64 46h1v1h-1zM64 50h1v1h-1zM60 51h1v1h-1zM64 51h1v1h-1zM63 55h1v1h-1zM59 57h1v1h-1zM62 63h1v1h-1zM64 68h1v1h-1zM60 70h1v1h-1zM61 74h1v1h-1z"/><path fill="#0c8c0c" d="M62 1h1v1h-1zM57 21h1v1h-1zM59 44h1v1h-1zM56 56h1v1h-1zM64 62h1v1h-1zM58 64h1v1h-1zM59 72h1v1h-1zM62 72h1v1h-1zM61 76h1v1h-1z"/><path fill="#680000" d="M64 1h1v1h-1zM66 2h1v1h-1zM64 10h1v1h-1zM60 29h1v1h-1z"/><path fill="#0a0400" d="M65 1h1v1h-1zM60 3h1v1h-1zM57 4h1v1h-1zM58 4h1v1h-1zM61 4h1v1h-1zM64 7h1v1h-1zM65 7h1v1h-1zM60 9h1v1h-1zM62 14h1v1h-1zM63 14h1v1h-1zM65 14h1v1h-1zM65 17h1v1h-1zM65 20h1v1h-1zM66 20h1v1h-1zM58 21h1v1h-1zM64 21h1v1h-1zM65 23h1v1h-1zM64 25h1v1h-1zM58 26h1v1h-1zM60 31h1v1h-1zM66 31h1v1h-1zM62 32h1v1h-1zM56 34h1v1h-1zM63 34h1v1h-1zM58 35h1v1h-1zM62 35h1v1h-1zM56 36h1v1h-1zM60 39h1v1h-1zM65 39h1v1h-1zM56 42h1v1h-1zM59 42h1v1h-1zM60 44h1v1h-1zM62 44h1v1h-1zM63 45h1v1h-1zM61 46h1v1h-1zM63 46h1v1h-1zM65 46h1v1h-1zM61 47h1v1h-1zM62 47h1v1h-1zM65 49h1v1h-1zM59 50h1v1h-1zM59 51h1v1h-1zM58 53h1v1h-1zM61 53h1v1h-1zM62 53h1v1h-1zM59 54h1v1h-1zM63 54h1v1h-1zM64 54h1v1h-1zM66 56h1v1h-1zM58 57h1v1h-1zM57 58h1v1h-1zM66 60h1v1h-1zM57 63h1v1h-1zM66 64h1v1h-1zM57 66h1v1h-1zM58 66h1v1h-1zM61 66h1v1h-1zM56 67h1v1h-1zM61 67h1v1h-1zM61 68h1v1h-1zM60 69h1v1h-1zM63 69h1v1h-1zM58 72h1v1h-1zM66 73h1v1h-1zM63 74h1v1h-1zM64 74h1v1h-1zM63 75h1v1h-1zM56 76h1v1h-1zM57 76h1v1h-1zM58 76h1v1h-1zM59 76h1v1h-1zM63 76h1v1h-1zM63 80h1v1h-1zM65 80h1v1h-1zM58 82h1v1h-1zM59 83h1v1h-1zM65 83h1v1h-1zM56 84h1v1h-1zM57 84h1v1h-1z"/><path fill="#c00000" d="M66 1h1v1h-1zM63 4h1v1h-1zM57 6h1v1h-1zM66 7h1v1h-1zM61 10h1v1h-1zM65 10h1v1h-1zM65 15h1v1h-1zM66 15h1v1h-1zM59 27h1v1h-1zM65 29h1v1h-1zM56 30h1v1h-1zM57 30h1v1h-1zM56 38h1v1h-1zM64 55h1v1h-1zM60 56h1v1h-1zM60 58h1v1h-1zM61 58h1v1h-1zM65 58h1v1h-1zM65 66h1v1h-1zM56 71h1v1h-1zM63 72h1v1h-1zM58 78h1v1h-1zM60 85h1v1h-1z"/><path fill="#800000" d="M58 2h1v1h-1zM61 2h1v1h-1zM64 6h1v1h-1zM66 13h1v1h-1zM58 22h1v1h-1zM62 28h1v1h-1zM60 30h1v1h-1zM62 31h1v1h-1zM60 54h1v1h-1zM65 55h1v1h-1zM58 62h1v1h-1zM60 66h1v1h-1zM60 67h1v1h-1zM60 73h1v1h-1z"/><path fill="#c00808" d="M60 2h1v1h-1zM65 3h1v1h-1zM61 11h1v1h-1zM60 20h1v1h-1zM65 28h1v1h-1zM63 37h1v1h-1zM56 44h1v1h-1zM56 45h1v1h-1zM60 55h1v1h-1zM56 62h1v1h-1zM56 70h1v1h-1zM57 70h1v1h-1zM61 71h1v1h-1zM60 72h1v1h-1zM57 78h1v1h-1zM64 78h1v1h-1zM65 79h1v1h-1zM59 82h1v1h-1z"/><path fill="#000000" d="M63 2h1v1h-1zM61 3h1v1h-1zM66 4h1v1h-1zM66 5h1v1h-1zM59 14h1v1h-1zM62 15h1v1h-1zM59 16h1v1h-1zM61 16h1v1h-1zM66 16h1v1h-1zM61 17h1v1h-1zM63 19h1v1h-1zM64 19h1v1h-1zM57 20h1v1h-1zM64 22h1v1h-1zM64 23h1v1h-1zM64 24h1v1h-1zM56 29h1v1h-1zM61 30h1v1h-1zM62 30h1v1h-1zM62 34h1v1h-1zM56 35h1v1h-1zM62 36h1v1h-1zM60 37h1v1h-1zM61 38h1v1h-1zM59 40h1v1h-1zM57 42h1v1h-1zM57 43h1v1h-1zM58 43h1v1h-1zM62 43h1v1h-1zM66 43h1v1h-1zM58 44h1v1h-1zM63 47h1v1h-1zM64 48h1v1h-1zM66 48h1v1h-1zM60 49h1v1h-1zM63 50h1v1h-1zM63 51h1v1h-1zM59 55h1v1h-1zM61 55h1v1h-1zM66 55h1v1h-1zM57 57h1v1h-1zM61 57h1v1h-1zM59 59h1v1h-1zM57 62h1v1h-1zM56 68h1v1h-1zM58 68h1v1h-1zM60 68h1v1h-1zM62 68h1v1h-1zM65 68h1v1h-1zM58 70h1v1h-1zM56 73h1v1h-1zM60 74h1v1h-1zM65 74h1v1h-1zM65 75h1v1h-1zM66 75h1v1h-1zM62 76h1v1h-1zM57 77h1v1h-1zM66 79h1v1h-1zM64 80h1v1h-1zM57 81h1v1h-1zM59 81h1v1h-1zM56 83h1v1h-1zM58 83h1v1h-1zM64 83h1v1h-1zM62 85h1v1h-1zM66 85h1v1h-1z"/><path fill="#480000" d="M64 2h1v1h-1zM56 6h1v1h-1zM61 8h1v1h-1zM63 20h1v1h-1zM58 42h1v1h-1zM58 55h1v1h-1zM65 69h1v1h-1zM61 75h1v1h-1z"/><path fill="#22e822" d="M56 3h1v1h-1zM59 10h1v1h-1zM59 12h1v1h-1zM56 13h1v1h-1zM56 18h1v1h-1zM56 19h1v1h-1zM61 23h1v1h-1zM60 24h1v1h-1zM61 25h1v1h-1zM60 26h1v1h-1zM63 26h1v1h-1zM56 33h1v1h-1zM66 37h1v1h-1zM56 40h1v1h-1zM62 42h1v1h-1zM65 45h1v1h-1zM57 52h1v1h-1zM66 52h1v1h-1zM57 56h1v1h-1zM63 58h1v1h-1zM63 62h1v1h-1zM56 63h1v1h-1zM56 64h1v1h-1zM61 65h1v1h-1zM58 69h1v1h-1zM66 69h1v1h-1zM59 70h1v1h-1zM60 83h1v1h-1zM61 84h1v1h-1z"/><path fill="#1c0000" d="M57 3h1v1h-1zM59 5h1v1h-1zM60 5h1v1h-1zM59 6h1v1h-1zM60 7h1v1h-1zM56 8h1v1h-1zM65 8h1v1h-1zM58 9h1v1h-1zM57 10h1v1h-1zM63 11h1v1h-1zM65 13h1v1h-1zM64 18h1v1h-1zM59 20h1v1h-1zM66 23h1v1h-1zM65 26h1v1h-1zM63 27h1v1h-1zM64 27h1v1h-1zM57 29h1v1h-1zM65 33h1v1h-1zM58 36h1v1h-1zM59 36h1v1h-1zM62 38h1v1h-1zM65 38h1v1h-1zM59 39h1v1h-1zM65 41h1v1h-1zM59 45h1v1h-1zM62 45h1v1h-1zM57 46h1v1h-1zM59 47h1v1h-1zM58 48h1v1h-1zM59 49h1v1h-1zM61 49h1v1h-1zM62 49h1v1h-1zM64 49h1v1h-1zM65 51h1v1h-1zM58 52h1v1h-1zM60 52h1v1h-1zM59 53h1v1h-1zM56 54h1v1h-1zM63 56h1v1h-1zM65 57h1v1h-1zM64 59h1v1h-1zM61 60h1v1h-1zM58 61h1v1h-1zM59 61h1v1h-1zM66 61h1v1h-1zM60 63h1v1h-1zM63 64h1v1h-1zM66 65h1v1h-1zM66 66h1v1h-1zM65 67h1v1h-1zM56 69h1v1h-1zM57 71h1v1h-1zM57 74h1v1h-1zM64 75h1v1h-1zM56 77h1v1h-1zM62 79h1v1h-1zM63 79h1v1h-1zM64 79h1v1h-1zM58 80h1v1h-1zM63 81h1v1h-1zM65 81h1v1h-1zM65 84h1v1h-1zM64 85h1v1h-1z"/><path fill="#a80000" d="M62 3h1v1h-1zM65 18h1v1h-1zM65 19h1v1h-1zM61 20h1v1h-1zM57 27h1v1h-1zM58 27h1v1h-1zM64 32h1v1h-1zM65 32h1v1h-1zM64 38h1v1h-1zM66 42h1v1h-1zM56 43h1v1h-1zM56 46h1v1h-1zM63 48h1v1h-1zM63 53h1v1h-1zM61 59h1v1h-1zM63 63h1v1h-1zM64 63h1v1h-1zM61 70h1v1h-1zM59 78h1v1h-1zM60 78h1v1h-1zM66 78h1v1h-1z"/><path fill="#b00000" d="M63 3h1v1h-1zM61 18h1v1h-1zM66 24h1v1h-1zM58 30h1v1h-1zM56 60h1v1h-1zM58 63h1v1h-1zM60 71h1v1h-1zM56 75h1v1h-1zM64 77h1v1h-1z"/><path fill="#3c0000" d="M60 4h1v1h-1zM66 11h1v1h-1zM62 12h1v1h-1zM56 32h1v1h-1zM60 35h1v1h-1zM65 40h1v1h-1zM57 64h1v1h-1zM65 65h1v1h-1zM57 68h1v1h-1zM59 68h1v1h-1zM62 69h1v1h-1zM61 72h1v1h-1z"/><path fill="#108010" d="M64 4h1v1h-1zM62 7h1v1h-1zM65 22h1v1h-1zM63 23h1v1h-1zM65 24h1v1h-1zM56 26h1v1h-1zM66 26h1v1h-1zM57 41h1v1h-1zM60 43h1v1h-1zM62 59h1v1h-1zM64 60h1v1h-1zM59 64h1v1h-1zM66 76h1v1h-1zM62 77h1v1h-1zM66 84h1v1h-1z"/><path fill="#600808" d="M65 4h1v1h-1zM60 13h1v1h-1zM60 36h1v1h-1z"/><path fill="#065006" d="M56 5h1v1h-1zM59 7h1v1h-1zM57 11h1v1h-1zM63 13h1v1h-1zM63 16h1v1h-1zM56 25h1v1h-1zM60 34h1v1h-1zM59 37h1v1h-1zM59 38h1v1h-1zM57 40h1v1h-1zM64 40h1v1h-1zM60 41h1v1h-1zM66 45h1v1h-1zM59 48h1v1h-1zM60 48h1v1h-1zM66 53h1v1h-1zM58 65h1v1h-1zM64 65h1v1h-1zM64 66h1v1h-1zM58 71h1v1h-1zM60 82h1v1h-1z"/><path fill="#520000" d="M58 5h1v1h-1zM58 20h1v1h-1zM65 25h1v1h-1zM64 29h1v1h-1zM64 39h1v1h-1zM66 39h1v1h-1zM65 73h1v1h-1zM66 74h1v1h-1zM57 82h1v1h-1z"/><path fill="#12a812" d="M62 5h1v1h-1zM64 8h1v1h-1zM62 9h1v1h-1zM56 10h1v1h-1zM59 11h1v1h-1zM63 12h1v1h-1zM56 15h1v1h-1zM64 16h1v1h-1zM59 19h1v1h-1zM57 24h1v1h-1zM59 24h1v1h-1zM61 24h1v1h-1zM63 25h1v1h-1zM59 26h1v1h-1zM57 49h1v1h-1zM56 50h1v1h-1zM57 53h1v1h-1zM57 59h1v1h-1zM63 65h1v1h-1zM57 67h1v1h-1zM62 67h1v1h-1zM61 80h1v1h-1zM56 81h1v1h-1zM56 82h1v1h-1zM62 82h1v1h-1zM63 83h1v1h-1zM60 84h1v1h-1z"/><path fill="#003000" d="M65 5h1v1h-1zM60 15h1v1h-1zM57 16h1v1h-1zM61 19h1v1h-1zM63 21h1v1h-1zM59 22h1v1h-1zM66 35h1v1h-1zM58 37h1v1h-1zM57 38h1v1h-1zM66 40h1v1h-1zM60 46h1v1h-1zM64 56h1v1h-1zM59 58h1v1h-1zM65 59h1v1h-1zM64 64h1v1h-1zM57 65h1v1h-1zM60 65h1v1h-1zM65 71h1v1h-1zM57 80h1v1h-1zM59 85h1v1h-1zM65 85h1v1h-1z"/><path fill="#002800" d="M66 6h1v1h-1zM63 17h1v1h-1zM62 23h1v1h-1zM62 24h1v1h-1zM59 25h1v1h-1zM57 32h1v1h-1zM61 42h1v1h-1zM59 43h1v1h-1zM56 48h1v1h-1zM65 56h1v1h-1zM66 59h1v1h-1zM58 60h1v1h-1zM66 62h1v1h-1zM65 63h1v1h-1zM59 67h1v1h-1zM60 80h1v1h-1zM64 82h1v1h-1z"/><path fill="#500000" d="M57 9h1v1h-1zM58 17h1v1h-1zM58 18h1v1h-1z"/><path fill="#680404" d="M61 9h1v1h-1zM66 12h1v1h-1zM59 33h1v1h-1zM64 33h1v1h-1zM63 39h1v1h-1zM60 53h1v1h-1zM58 54h1v1h-1zM63 57h1v1h-1zM64 71h1v1h-1zM56 74h1v1h-1zM58 77h1v1h-1zM59 77h1v1h-1zM60 77h1v1h-1zM60 79h1v1h-1z"/><path fill="#149014" d="M62 19h1v1h-1zM57 23h1v1h-1zM59 23h1v1h-1zM61 27h1v1h-1zM61 36h1v1h-1zM60 42h1v1h-1zM64 45h1v1h-1zM62 60h1v1h-1zM65 62h1v1h-1zM63 66h1v1h-1z"/></g><g transform="translate(9.333,340.5) scale(4.66667,3.77)" shape-rendering="crispEdges"><path fill="#500000" d="M67 0h1v1h-1zM87 0h1v1h-1zM70 1h1v1h-1zM86 2h1v1h-1zM96 3h1v1h-1zM90 4h1v1h-1zM68 5h1v1h-1zM80 5h1v1h-1zM86 5h1v1h-1zM102 5h1v1h-1zM102 7h1v1h-1zM96 8h1v1h-1zM79 9h1v1h-1zM96 9h1v1h-1zM93 11h1v1h-1zM101 12h1v1h-1zM94 14h1v1h-1zM75 15h1v1h-1zM97 18h1v1h-1zM97 19h1v1h-1zM95 20h1v1h-1zM76 29h1v1h-1zM99 38h1v1h-1z"/><path fill="#003000" d="M68 0h1v1h-1zM91 1h1v1h-1zM74 4h1v1h-1zM76 4h1v1h-1zM75 6h1v1h-1zM76 6h1v1h-1zM83 7h1v1h-1zM85 7h1v1h-1zM86 7h1v1h-1zM73 8h1v1h-1zM76 16h1v1h-1zM82 16h1v1h-1zM73 18h1v1h-1zM83 18h1v1h-1zM86 20h1v1h-1zM83 23h1v1h-1zM74 24h1v1h-1zM77 24h1v1h-1zM82 25h1v1h-1zM80 27h1v1h-1zM77 28h1v1h-1zM95 30h1v1h-1zM80 31h1v1h-1zM87 34h1v1h-1zM90 35h1v1h-1zM74 38h1v1h-1zM70 39h1v1h-1zM79 39h1v1h-1zM80 40h1v1h-1zM99 42h1v1h-1zM92 43h1v1h-1zM72 49h1v1h-1zM98 50h1v1h-1zM102 50h1v1h-1zM99 52h1v1h-1zM83 53h1v1h-1zM88 53h1v1h-1zM91 53h1v1h-1zM68 54h1v1h-1zM73 54h1v1h-1zM93 54h1v1h-1zM68 55h1v1h-1zM88 56h1v1h-1zM94 56h1v1h-1zM94 57h1v1h-1zM70 58h1v1h-1zM85 58h1v1h-1zM91 58h1v1h-1zM94 58h1v1h-1zM76 62h1v1h-1zM78 62h1v1h-1zM72 64h1v1h-1zM83 65h1v1h-1zM95 65h1v1h-1zM99 66h1v1h-1zM102 66h1v1h-1zM76 67h1v1h-1zM90 67h1v1h-1zM101 67h1v1h-1zM78 68h1v1h-1zM76 70h1v1h-1zM94 70h1v1h-1zM78 71h1v1h-1zM75 72h1v1h-1zM82 73h1v1h-1zM90 73h1v1h-1zM86 75h1v1h-1zM91 76h1v1h-1zM68 79h1v1h-1zM91 79h1v1h-1zM92 79h1v1h-1zM73 80h1v1h-1zM76 80h1v1h-1zM88 80h1v1h-1zM92 80h1v1h-1zM79 82h1v1h-1zM84 83h1v1h-1zM101 83h1v1h-1zM78 84h1v1h-1zM83 85h1v1h-1zM92 85h1v1h-1zM94 85h1v1h-1z"/><path fill="#140000" d="M69 0h1v1h-1zM70 3h1v1h-1zM94 4h1v1h-1zM73 6h1v1h-1zM69 7h1v1h-1zM77 7h1v1h-1zM89 7h1v1h-1zM101 7h1v1h-1zM76 8h1v1h-1zM100 8h1v1h-1zM68 9h1v1h-1zM84 9h1v1h-1zM73 10h1v1h-1zM77 10h1v1h-1zM82 10h1v1h-1zM95 10h1v1h-1zM99 10h1v1h-1zM101 11h1v1h-1zM71 13h1v1h-1zM83 13h1v1h-1zM91 14h1v1h-1zM82 15h1v1h-1zM68 16h1v1h-1zM88 16h1v1h-1zM90 16h1v1h-1zM77 17h1v1h-1zM88 17h1v1h-1zM99 17h1v1h-1zM69 18h1v1h-1zM86 18h1v1h-1zM79 19h1v1h-1zM100 19h1v1h-1zM71 20h1v1h-1zM81 20h1v1h-1zM93 21h1v1h-1zM96 21h1v1h-1zM97 21h1v1h-1zM100 21h1v1h-1zM82 22h1v1h-1zM85 22h1v1h-1zM92 22h1v1h-1zM94 22h1v1h-1zM100 22h1v1h-1zM70 23h1v1h-1zM71 23h1v1h-1zM87 23h1v1h-1zM88 23h1v1h-1zM72 24h1v1h-1zM87 24h1v1h-1zM98 24h1v1h-1zM85 25h1v1h-1zM68 26h1v1h-1zM73 26h1v1h-1zM84 26h1v1h-1zM89 26h1v1h-1zM73 27h1v1h-1zM75 27h1v1h-1zM77 27h1v1h-1zM95 27h1v1h-1zM71 28h1v1h-1zM96 28h1v1h-1zM74 29h1v1h-1zM99 29h1v1h-1zM72 30h1v1h-1zM73 30h1v1h-1zM77 30h1v1h-1zM81 31h1v1h-1zM67 32h1v1h-1zM89 32h1v1h-1zM93 32h1v1h-1zM99 32h1v1h-1zM80 33h1v1h-1zM85 33h1v1h-1zM93 33h1v1h-1zM95 33h1v1h-1zM72 34h1v1h-1zM81 34h1v1h-1zM88 34h1v1h-1zM73 35h1v1h-1zM67 36h1v1h-1zM83 36h1v1h-1zM67 37h1v1h-1zM70 37h1v1h-1zM79 37h1v1h-1zM89 37h1v1h-1zM70 38h1v1h-1zM72 39h1v1h-1zM80 39h1v1h-1zM89 39h1v1h-1zM95 39h1v1h-1zM69 41h1v1h-1zM70 41h1v1h-1zM73 42h1v1h-1zM73 43h1v1h-1zM84 43h1v1h-1zM85 43h1v1h-1zM89 43h1v1h-1zM99 43h1v1h-1zM69 44h1v1h-1zM74 44h1v1h-1zM81 44h1v1h-1zM89 44h1v1h-1zM100 44h1v1h-1zM87 45h1v1h-1zM90 45h1v1h-1zM68 46h1v1h-1zM76 46h1v1h-1zM85 46h1v1h-1zM78 47h1v1h-1zM83 47h1v1h-1zM93 47h1v1h-1zM98 47h1v1h-1zM70 48h1v1h-1zM70 49h1v1h-1zM71 49h1v1h-1zM88 49h1v1h-1zM91 49h1v1h-1zM95 49h1v1h-1zM75 50h1v1h-1zM79 50h1v1h-1zM89 50h1v1h-1zM90 51h1v1h-1zM69 52h1v1h-1zM70 52h1v1h-1zM81 52h1v1h-1zM82 52h1v1h-1zM83 52h1v1h-1zM94 52h1v1h-1zM95 52h1v1h-1zM98 52h1v1h-1zM82 55h1v1h-1zM102 55h1v1h-1zM69 56h1v1h-1zM82 56h1v1h-1zM78 57h1v1h-1zM67 58h1v1h-1zM68 58h1v1h-1zM89 58h1v1h-1zM93 58h1v1h-1zM69 59h1v1h-1zM85 59h1v1h-1zM90 59h1v1h-1zM72 60h1v1h-1zM74 60h1v1h-1zM78 60h1v1h-1zM85 60h1v1h-1zM89 60h1v1h-1zM73 61h1v1h-1zM76 61h1v1h-1zM87 61h1v1h-1zM68 62h1v1h-1zM93 62h1v1h-1zM98 62h1v1h-1zM74 63h1v1h-1zM80 63h1v1h-1zM85 63h1v1h-1zM89 63h1v1h-1zM94 63h1v1h-1zM67 64h1v1h-1zM70 64h1v1h-1zM74 64h1v1h-1zM81 64h1v1h-1zM86 64h1v1h-1zM93 65h1v1h-1zM98 66h1v1h-1zM70 67h1v1h-1zM75 67h1v1h-1zM82 67h1v1h-1zM82 69h1v1h-1zM87 69h1v1h-1zM91 69h1v1h-1zM93 69h1v1h-1zM95 69h1v1h-1zM68 70h1v1h-1zM74 70h1v1h-1zM75 70h1v1h-1zM81 70h1v1h-1zM85 71h1v1h-1zM86 71h1v1h-1zM73 72h1v1h-1zM81 72h1v1h-1zM100 72h1v1h-1zM81 73h1v1h-1zM100 73h1v1h-1zM91 74h1v1h-1zM71 75h1v1h-1zM76 75h1v1h-1zM78 76h1v1h-1zM94 76h1v1h-1zM78 77h1v1h-1zM78 78h1v1h-1zM92 78h1v1h-1zM81 80h1v1h-1zM95 80h1v1h-1zM100 80h1v1h-1zM97 81h1v1h-1zM80 82h1v1h-1zM89 82h1v1h-1zM67 83h1v1h-1zM80 83h1v1h-1zM74 84h1v1h-1zM82 84h1v1h-1zM84 84h1v1h-1zM88 84h1v1h-1zM74 85h1v1h-1zM88 85h1v1h-1z"/><path fill="#480000" d="M70 0h1v1h-1zM69 1h1v1h-1zM73 1h1v1h-1zM102 1h1v1h-1zM93 2h1v1h-1zM90 3h1v1h-1zM83 6h1v1h-1zM81 7h1v1h-1zM84 7h1v1h-1zM94 7h1v1h-1zM71 9h1v1h-1zM78 9h1v1h-1zM69 11h1v1h-1zM71 11h1v1h-1zM101 14h1v1h-1zM72 16h1v1h-1zM97 16h1v1h-1zM78 20h1v1h-1zM91 23h1v1h-1zM70 25h1v1h-1zM67 27h1v1h-1zM102 28h1v1h-1zM86 31h1v1h-1zM80 36h1v1h-1zM99 37h1v1h-1zM87 43h1v1h-1zM78 45h1v1h-1zM79 47h1v1h-1zM100 47h1v1h-1zM78 48h1v1h-1zM86 48h1v1h-1zM86 49h1v1h-1zM88 51h1v1h-1zM79 55h1v1h-1zM100 55h1v1h-1zM100 63h1v1h-1zM78 64h1v1h-1zM80 69h1v1h-1zM102 74h1v1h-1zM102 77h1v1h-1z"/><path fill="#600808" d="M71 0h1v1h-1zM72 0h1v1h-1zM73 0h1v1h-1zM74 0h1v1h-1zM97 0h1v1h-1zM67 1h1v1h-1zM71 1h1v1h-1zM93 1h1v1h-1zM82 2h1v1h-1zM101 2h1v1h-1zM91 4h1v1h-1zM77 6h1v1h-1zM90 6h1v1h-1zM87 9h1v1h-1zM97 9h1v1h-1zM85 10h1v1h-1zM102 10h1v1h-1zM99 12h1v1h-1zM92 13h1v1h-1zM90 15h1v1h-1zM69 16h1v1h-1zM69 17h1v1h-1zM93 18h1v1h-1zM90 19h1v1h-1zM97 22h1v1h-1zM94 39h1v1h-1z"/><path fill="#1c0000" d="M75 0h1v1h-1zM83 0h1v1h-1zM86 0h1v1h-1zM73 2h1v1h-1zM74 2h1v1h-1zM83 2h1v1h-1zM83 3h1v1h-1zM72 5h1v1h-1zM87 7h1v1h-1zM99 7h1v1h-1zM91 8h1v1h-1zM102 8h1v1h-1zM80 10h1v1h-1zM100 10h1v1h-1zM102 11h1v1h-1zM82 12h1v1h-1zM100 12h1v1h-1zM96 13h1v1h-1zM70 15h1v1h-1zM97 15h1v1h-1zM84 17h1v1h-1zM91 17h1v1h-1zM93 17h1v1h-1zM85 18h1v1h-1zM67 19h1v1h-1zM69 19h1v1h-1zM86 19h1v1h-1zM89 19h1v1h-1zM91 19h1v1h-1zM68 20h1v1h-1zM75 20h1v1h-1zM83 20h1v1h-1zM88 20h1v1h-1zM93 20h1v1h-1zM87 21h1v1h-1zM87 22h1v1h-1zM90 22h1v1h-1zM91 22h1v1h-1zM86 23h1v1h-1zM89 23h1v1h-1zM70 24h1v1h-1zM83 24h1v1h-1zM102 24h1v1h-1zM72 25h1v1h-1zM96 25h1v1h-1zM101 25h1v1h-1zM90 26h1v1h-1zM97 26h1v1h-1zM83 27h1v1h-1zM70 28h1v1h-1zM73 28h1v1h-1zM75 28h1v1h-1zM86 28h1v1h-1zM89 28h1v1h-1zM75 29h1v1h-1zM81 29h1v1h-1zM74 30h1v1h-1zM76 30h1v1h-1zM78 30h1v1h-1zM85 30h1v1h-1zM89 30h1v1h-1zM93 30h1v1h-1zM97 30h1v1h-1zM89 31h1v1h-1zM75 32h1v1h-1zM80 32h1v1h-1zM87 32h1v1h-1zM91 32h1v1h-1zM67 33h1v1h-1zM70 33h1v1h-1zM74 33h1v1h-1zM83 33h1v1h-1zM88 33h1v1h-1zM70 34h1v1h-1zM71 34h1v1h-1zM75 34h1v1h-1zM83 34h1v1h-1zM93 34h1v1h-1zM77 35h1v1h-1zM91 35h1v1h-1zM92 35h1v1h-1zM82 36h1v1h-1zM71 37h1v1h-1zM93 37h1v1h-1zM81 38h1v1h-1zM87 38h1v1h-1zM88 38h1v1h-1zM71 39h1v1h-1zM81 39h1v1h-1zM102 39h1v1h-1zM76 40h1v1h-1zM81 41h1v1h-1zM88 42h1v1h-1zM68 43h1v1h-1zM80 43h1v1h-1zM81 43h1v1h-1zM86 44h1v1h-1zM79 45h1v1h-1zM73 46h1v1h-1zM98 46h1v1h-1zM99 46h1v1h-1zM74 47h1v1h-1zM80 47h1v1h-1zM84 47h1v1h-1zM89 47h1v1h-1zM95 47h1v1h-1zM67 48h1v1h-1zM71 48h1v1h-1zM91 48h1v1h-1zM85 49h1v1h-1zM84 50h1v1h-1zM86 50h1v1h-1zM90 50h1v1h-1zM70 51h1v1h-1zM76 51h1v1h-1zM82 51h1v1h-1zM87 51h1v1h-1zM98 51h1v1h-1zM87 52h1v1h-1zM93 52h1v1h-1zM72 53h1v1h-1zM75 53h1v1h-1zM89 53h1v1h-1zM100 53h1v1h-1zM82 54h1v1h-1zM102 54h1v1h-1zM86 55h1v1h-1zM70 56h1v1h-1zM79 57h1v1h-1zM69 58h1v1h-1zM72 58h1v1h-1zM74 59h1v1h-1zM86 61h1v1h-1zM94 61h1v1h-1zM73 62h1v1h-1zM85 62h1v1h-1zM84 63h1v1h-1zM82 64h1v1h-1zM85 64h1v1h-1zM68 65h1v1h-1zM81 65h1v1h-1zM101 65h1v1h-1zM70 66h1v1h-1zM75 66h1v1h-1zM77 66h1v1h-1zM84 66h1v1h-1zM88 66h1v1h-1zM69 67h1v1h-1zM73 67h1v1h-1zM74 67h1v1h-1zM71 68h1v1h-1zM87 68h1v1h-1zM89 68h1v1h-1zM99 68h1v1h-1zM73 69h1v1h-1zM81 69h1v1h-1zM84 69h1v1h-1zM99 69h1v1h-1zM80 70h1v1h-1zM91 70h1v1h-1zM72 71h1v1h-1zM73 71h1v1h-1zM81 71h1v1h-1zM87 71h1v1h-1zM93 71h1v1h-1zM71 72h1v1h-1zM94 72h1v1h-1zM80 73h1v1h-1zM71 74h1v1h-1zM73 74h1v1h-1zM81 74h1v1h-1zM96 74h1v1h-1zM80 75h1v1h-1zM102 75h1v1h-1zM82 76h1v1h-1zM83 76h1v1h-1zM86 76h1v1h-1zM87 76h1v1h-1zM95 77h1v1h-1zM88 78h1v1h-1zM74 79h1v1h-1zM80 79h1v1h-1zM85 79h1v1h-1zM94 79h1v1h-1zM70 80h1v1h-1zM85 80h1v1h-1zM102 80h1v1h-1zM73 81h1v1h-1zM92 81h1v1h-1zM72 82h1v1h-1zM86 82h1v1h-1zM87 82h1v1h-1zM98 82h1v1h-1zM87 83h1v1h-1zM88 83h1v1h-1zM90 84h1v1h-1zM91 84h1v1h-1zM71 85h1v1h-1zM82 85h1v1h-1zM93 85h1v1h-1zM97 85h1v1h-1zM99 85h1v1h-1z"/><path fill="#22e822" d="M76 0h1v1h-1zM75 2h1v1h-1zM74 5h1v1h-1zM75 5h1v1h-1zM71 8h1v1h-1zM74 9h1v1h-1zM67 10h1v1h-1zM92 10h1v1h-1zM73 15h1v1h-1zM100 15h1v1h-1zM71 16h1v1h-1zM76 22h1v1h-1zM82 23h1v1h-1zM93 23h1v1h-1zM68 30h1v1h-1zM69 31h1v1h-1zM82 31h1v1h-1zM92 31h1v1h-1zM92 33h1v1h-1zM77 39h1v1h-1zM100 39h1v1h-1zM68 40h1v1h-1zM71 40h1v1h-1zM72 40h1v1h-1zM88 40h1v1h-1zM85 41h1v1h-1zM91 42h1v1h-1zM72 48h1v1h-1zM68 50h1v1h-1zM71 50h1v1h-1zM68 51h1v1h-1zM79 53h1v1h-1zM81 55h1v1h-1zM84 55h1v1h-1zM81 56h1v1h-1zM83 56h1v1h-1zM80 57h1v1h-1zM102 57h1v1h-1zM73 58h1v1h-1zM95 58h1v1h-1zM73 59h1v1h-1zM82 60h1v1h-1zM69 61h1v1h-1zM71 63h1v1h-1zM72 65h1v1h-1zM78 66h1v1h-1zM86 66h1v1h-1zM94 66h1v1h-1zM84 70h1v1h-1zM76 71h1v1h-1zM94 71h1v1h-1zM101 71h1v1h-1zM84 72h1v1h-1zM93 72h1v1h-1zM98 72h1v1h-1zM99 72h1v1h-1zM83 73h1v1h-1zM93 73h1v1h-1zM99 73h1v1h-1zM93 74h1v1h-1zM94 74h1v1h-1zM93 75h1v1h-1zM98 75h1v1h-1zM70 76h1v1h-1zM91 77h1v1h-1zM97 78h1v1h-1zM100 78h1v1h-1zM99 80h1v1h-1zM102 83h1v1h-1z"/><path fill="#12a812" d="M77 0h1v1h-1zM68 2h1v1h-1zM72 6h1v1h-1zM74 6h1v1h-1zM83 8h1v1h-1zM86 9h1v1h-1zM94 10h1v1h-1zM79 11h1v1h-1zM100 11h1v1h-1zM75 12h1v1h-1zM73 17h1v1h-1zM67 20h1v1h-1zM96 27h1v1h-1zM87 29h1v1h-1zM93 29h1v1h-1zM70 30h1v1h-1zM92 32h1v1h-1zM73 40h1v1h-1zM89 40h1v1h-1zM100 40h1v1h-1zM76 42h1v1h-1zM92 42h1v1h-1zM77 45h1v1h-1zM85 45h1v1h-1zM84 46h1v1h-1zM75 47h1v1h-1zM93 48h1v1h-1zM91 51h1v1h-1zM95 53h1v1h-1zM67 54h1v1h-1zM70 54h1v1h-1zM79 54h1v1h-1zM72 55h1v1h-1zM87 55h1v1h-1zM75 56h1v1h-1zM90 56h1v1h-1zM68 57h1v1h-1zM69 57h1v1h-1zM75 57h1v1h-1zM75 58h1v1h-1zM80 58h1v1h-1zM77 59h1v1h-1zM83 60h1v1h-1zM75 62h1v1h-1zM92 63h1v1h-1zM93 63h1v1h-1zM68 64h1v1h-1zM83 67h1v1h-1zM75 68h1v1h-1zM76 69h1v1h-1zM78 70h1v1h-1zM84 71h1v1h-1zM76 72h1v1h-1zM96 73h1v1h-1zM98 74h1v1h-1zM101 74h1v1h-1zM85 76h1v1h-1zM98 76h1v1h-1zM88 77h1v1h-1zM97 77h1v1h-1zM70 78h1v1h-1zM75 78h1v1h-1zM98 78h1v1h-1zM83 80h1v1h-1zM86 81h1v1h-1zM96 82h1v1h-1zM69 83h1v1h-1zM70 83h1v1h-1zM96 83h1v1h-1zM99 83h1v1h-1zM98 85h1v1h-1z"/><path fill="#086008" d="M78 0h1v1h-1zM68 1h1v1h-1zM94 5h1v1h-1zM74 7h1v1h-1zM98 8h1v1h-1zM71 10h1v1h-1zM83 11h1v1h-1zM91 11h1v1h-1zM77 15h1v1h-1zM101 17h1v1h-1zM89 24h1v1h-1zM78 26h1v1h-1zM86 26h1v1h-1zM82 27h1v1h-1zM68 28h1v1h-1zM96 31h1v1h-1zM71 32h1v1h-1zM71 33h1v1h-1zM92 34h1v1h-1zM75 37h1v1h-1zM83 39h1v1h-1zM102 42h1v1h-1zM101 43h1v1h-1zM76 47h1v1h-1zM96 47h1v1h-1zM67 52h1v1h-1zM89 52h1v1h-1zM102 52h1v1h-1zM98 53h1v1h-1zM82 57h1v1h-1zM74 58h1v1h-1zM81 59h1v1h-1zM80 62h1v1h-1zM86 63h1v1h-1zM102 68h1v1h-1zM97 69h1v1h-1zM79 71h1v1h-1zM83 71h1v1h-1zM78 72h1v1h-1zM74 73h1v1h-1zM82 74h1v1h-1zM68 76h1v1h-1zM84 76h1v1h-1zM70 77h1v1h-1zM73 77h1v1h-1zM77 77h1v1h-1zM67 78h1v1h-1zM93 79h1v1h-1zM95 79h1v1h-1zM85 81h1v1h-1zM87 81h1v1h-1zM69 82h1v1h-1zM71 84h1v1h-1zM83 84h1v1h-1z"/><path fill="#680404" d="M79 0h1v1h-1zM98 2h1v1h-1zM86 4h1v1h-1zM77 5h1v1h-1zM93 5h1v1h-1zM80 6h1v1h-1zM82 6h1v1h-1zM70 14h1v1h-1zM92 14h1v1h-1zM99 15h1v1h-1zM84 16h1v1h-1zM67 18h1v1h-1zM79 18h1v1h-1zM70 19h1v1h-1zM77 21h1v1h-1zM100 23h1v1h-1zM100 26h1v1h-1zM99 27h1v1h-1zM78 28h1v1h-1zM92 28h1v1h-1zM73 29h1v1h-1zM99 31h1v1h-1zM78 32h1v1h-1zM82 34h1v1h-1zM97 34h1v1h-1zM76 38h1v1h-1zM78 43h1v1h-1zM96 46h1v1h-1zM78 49h1v1h-1zM76 50h1v1h-1zM101 55h1v1h-1zM76 59h1v1h-1zM79 61h1v1h-1zM72 63h1v1h-1zM70 65h1v1h-1zM77 65h1v1h-1zM94 69h1v1h-1zM69 71h1v1h-1zM74 75h1v1h-1zM87 77h1v1h-1zM82 79h1v1h-1zM97 79h1v1h-1zM99 79h1v1h-1z"/><path fill="#680000" d="M80 0h1v1h-1zM90 0h1v1h-1zM100 1h1v1h-1zM90 2h1v1h-1zM91 2h1v1h-1zM85 3h1v1h-1zM86 3h1v1h-1zM67 5h1v1h-1zM69 6h1v1h-1zM93 6h1v1h-1zM81 9h1v1h-1zM88 9h1v1h-1zM89 9h1v1h-1zM87 10h1v1h-1zM88 10h1v1h-1zM84 11h1v1h-1zM75 13h1v1h-1zM84 13h1v1h-1zM90 14h1v1h-1zM93 14h1v1h-1zM90 20h1v1h-1zM91 20h1v1h-1zM94 20h1v1h-1zM94 21h1v1h-1zM96 22h1v1h-1zM99 22h1v1h-1zM94 23h1v1h-1zM95 23h1v1h-1zM98 28h1v1h-1zM75 31h1v1h-1zM94 45h1v1h-1z"/><path fill="#c00808" d="M81 0h1v1h-1zM92 0h1v1h-1zM88 2h1v1h-1zM72 3h1v1h-1zM73 3h1v1h-1zM80 3h1v1h-1zM87 4h1v1h-1zM88 4h1v1h-1zM97 5h1v1h-1zM101 8h1v1h-1zM98 9h1v1h-1zM90 10h1v1h-1zM90 12h1v1h-1zM86 13h1v1h-1zM68 14h1v1h-1zM68 15h1v1h-1zM76 15h1v1h-1zM78 15h1v1h-1zM81 15h1v1h-1zM101 15h1v1h-1zM96 16h1v1h-1zM87 17h1v1h-1zM97 17h1v1h-1zM92 18h1v1h-1zM77 19h1v1h-1zM92 19h1v1h-1zM72 21h1v1h-1zM79 21h1v1h-1zM78 23h1v1h-1zM67 25h1v1h-1zM79 25h1v1h-1zM87 25h1v1h-1zM70 26h1v1h-1zM86 27h1v1h-1zM101 29h1v1h-1zM86 30h1v1h-1zM90 30h1v1h-1zM100 30h1v1h-1zM77 33h1v1h-1zM82 33h1v1h-1zM87 33h1v1h-1zM90 34h1v1h-1zM81 35h1v1h-1zM87 37h1v1h-1zM79 38h1v1h-1zM76 39h1v1h-1zM96 43h1v1h-1zM99 44h1v1h-1zM92 45h1v1h-1zM78 46h1v1h-1zM90 47h1v1h-1zM76 48h1v1h-1zM100 48h1v1h-1zM100 49h1v1h-1zM87 53h1v1h-1zM90 53h1v1h-1zM99 53h1v1h-1zM77 56h1v1h-1zM85 57h1v1h-1zM99 60h1v1h-1zM82 61h1v1h-1zM83 61h1v1h-1zM97 61h1v1h-1zM100 61h1v1h-1zM91 62h1v1h-1zM79 63h1v1h-1zM77 64h1v1h-1zM87 64h1v1h-1zM82 65h1v1h-1zM88 65h1v1h-1zM82 66h1v1h-1zM88 67h1v1h-1zM88 69h1v1h-1zM68 74h1v1h-1zM75 75h1v1h-1zM79 76h1v1h-1zM81 76h1v1h-1zM69 78h1v1h-1zM90 79h1v1h-1zM93 81h1v1h-1zM102 81h1v1h-1zM82 82h1v1h-1zM78 83h1v1h-1zM72 84h1v1h-1zM102 84h1v1h-1zM100 85h1v1h-1zM101 85h1v1h-1z"/><path fill="#800000" d="M82 0h1v1h-1zM93 0h1v1h-1zM84 1h1v1h-1zM97 1h1v1h-1zM87 3h1v1h-1zM69 4h1v1h-1zM82 4h1v1h-1zM89 4h1v1h-1zM81 6h1v1h-1zM89 6h1v1h-1zM98 6h1v1h-1zM70 9h1v1h-1zM95 9h1v1h-1zM70 10h1v1h-1zM73 11h1v1h-1zM89 11h1v1h-1zM79 12h1v1h-1zM94 12h1v1h-1zM68 13h1v1h-1zM89 13h1v1h-1zM87 14h1v1h-1zM71 15h1v1h-1zM88 15h1v1h-1zM86 16h1v1h-1zM92 17h1v1h-1zM95 17h1v1h-1zM70 18h1v1h-1zM74 18h1v1h-1zM77 18h1v1h-1zM96 18h1v1h-1zM99 18h1v1h-1zM102 22h1v1h-1zM77 23h1v1h-1zM95 29h1v1h-1zM102 31h1v1h-1zM84 32h1v1h-1zM98 34h1v1h-1zM99 34h1v1h-1zM89 35h1v1h-1zM94 35h1v1h-1zM76 36h1v1h-1zM94 36h1v1h-1zM74 37h1v1h-1zM82 37h1v1h-1zM98 39h1v1h-1zM77 40h1v1h-1zM92 40h1v1h-1zM76 43h1v1h-1zM101 44h1v1h-1zM69 60h1v1h-1zM70 72h1v1h-1z"/><path fill="#085808" d="M84 0h1v1h-1z"/><path fill="#000000" d="M85 0h1v1h-1zM72 1h1v1h-1zM79 1h1v1h-1zM86 1h1v1h-1zM88 1h1v1h-1zM102 2h1v1h-1zM97 3h1v1h-1zM75 4h1v1h-1zM96 4h1v1h-1zM97 4h1v1h-1zM67 8h1v1h-1zM68 8h1v1h-1zM75 8h1v1h-1zM81 8h1v1h-1zM82 8h1v1h-1zM101 9h1v1h-1zM72 11h1v1h-1zM74 11h1v1h-1zM74 12h1v1h-1zM83 12h1v1h-1zM80 13h1v1h-1zM77 14h1v1h-1zM95 14h1v1h-1zM97 14h1v1h-1zM100 14h1v1h-1zM74 15h1v1h-1zM80 15h1v1h-1zM89 15h1v1h-1zM70 17h1v1h-1zM81 17h1v1h-1zM89 17h1v1h-1zM88 18h1v1h-1zM73 20h1v1h-1zM89 20h1v1h-1zM89 21h1v1h-1zM68 22h1v1h-1zM67 23h1v1h-1zM85 23h1v1h-1zM98 23h1v1h-1zM99 23h1v1h-1zM73 24h1v1h-1zM85 24h1v1h-1zM90 24h1v1h-1zM93 24h1v1h-1zM94 24h1v1h-1zM95 24h1v1h-1zM101 24h1v1h-1zM73 25h1v1h-1zM74 25h1v1h-1zM77 25h1v1h-1zM83 25h1v1h-1zM74 27h1v1h-1zM92 27h1v1h-1zM93 27h1v1h-1zM83 28h1v1h-1zM84 28h1v1h-1zM87 28h1v1h-1zM95 28h1v1h-1zM89 29h1v1h-1zM91 30h1v1h-1zM77 31h1v1h-1zM83 31h1v1h-1zM91 31h1v1h-1zM81 32h1v1h-1zM68 33h1v1h-1zM98 33h1v1h-1zM102 33h1v1h-1zM69 34h1v1h-1zM78 34h1v1h-1zM80 34h1v1h-1zM85 34h1v1h-1zM70 35h1v1h-1zM78 35h1v1h-1zM86 36h1v1h-1zM90 37h1v1h-1zM91 39h1v1h-1zM74 40h1v1h-1zM90 40h1v1h-1zM93 40h1v1h-1zM101 40h1v1h-1zM67 41h1v1h-1zM71 41h1v1h-1zM74 41h1v1h-1zM76 41h1v1h-1zM83 41h1v1h-1zM88 41h1v1h-1zM89 41h1v1h-1zM96 41h1v1h-1zM69 43h1v1h-1zM72 44h1v1h-1zM82 44h1v1h-1zM68 45h1v1h-1zM72 45h1v1h-1zM88 45h1v1h-1zM71 46h1v1h-1zM86 46h1v1h-1zM97 46h1v1h-1zM67 47h1v1h-1zM69 47h1v1h-1zM71 47h1v1h-1zM73 47h1v1h-1zM94 47h1v1h-1zM99 47h1v1h-1zM101 47h1v1h-1zM102 47h1v1h-1zM77 48h1v1h-1zM79 48h1v1h-1zM83 48h1v1h-1zM79 49h1v1h-1zM80 49h1v1h-1zM82 49h1v1h-1zM84 49h1v1h-1zM101 49h1v1h-1zM70 50h1v1h-1zM72 50h1v1h-1zM77 50h1v1h-1zM93 51h1v1h-1zM94 51h1v1h-1zM72 52h1v1h-1zM73 52h1v1h-1zM77 52h1v1h-1zM79 52h1v1h-1zM69 53h1v1h-1zM78 54h1v1h-1zM95 54h1v1h-1zM93 56h1v1h-1zM102 56h1v1h-1zM84 57h1v1h-1zM81 58h1v1h-1zM86 59h1v1h-1zM88 59h1v1h-1zM68 60h1v1h-1zM100 60h1v1h-1zM70 61h1v1h-1zM81 61h1v1h-1zM92 61h1v1h-1zM99 61h1v1h-1zM83 62h1v1h-1zM84 62h1v1h-1zM87 63h1v1h-1zM92 64h1v1h-1zM98 64h1v1h-1zM71 65h1v1h-1zM76 65h1v1h-1zM78 65h1v1h-1zM80 65h1v1h-1zM94 65h1v1h-1zM68 66h1v1h-1zM71 67h1v1h-1zM87 67h1v1h-1zM92 67h1v1h-1zM100 67h1v1h-1zM102 67h1v1h-1zM77 68h1v1h-1zM84 68h1v1h-1zM70 69h1v1h-1zM71 69h1v1h-1zM85 69h1v1h-1zM86 69h1v1h-1zM89 69h1v1h-1zM70 70h1v1h-1zM73 70h1v1h-1zM87 70h1v1h-1zM95 70h1v1h-1zM70 71h1v1h-1zM71 71h1v1h-1zM96 71h1v1h-1zM86 72h1v1h-1zM87 72h1v1h-1zM88 72h1v1h-1zM86 73h1v1h-1zM91 73h1v1h-1zM80 74h1v1h-1zM87 75h1v1h-1zM89 75h1v1h-1zM67 76h1v1h-1zM69 76h1v1h-1zM97 76h1v1h-1zM67 77h1v1h-1zM89 77h1v1h-1zM94 77h1v1h-1zM84 78h1v1h-1zM87 78h1v1h-1zM89 78h1v1h-1zM91 78h1v1h-1zM99 78h1v1h-1zM81 79h1v1h-1zM84 79h1v1h-1zM86 79h1v1h-1zM87 79h1v1h-1zM102 79h1v1h-1zM69 80h1v1h-1zM78 80h1v1h-1zM79 80h1v1h-1zM80 80h1v1h-1zM87 80h1v1h-1zM98 80h1v1h-1zM93 83h1v1h-1zM94 83h1v1h-1zM75 84h1v1h-1zM87 84h1v1h-1zM67 85h1v1h-1zM84 85h1v1h-1zM87 85h1v1h-1z"/><path fill="#5a0000" d="M88 0h1v1h-1zM91 0h1v1h-1zM94 0h1v1h-1zM98 0h1v1h-1zM100 0h1v1h-1zM74 1h1v1h-1zM75 1h1v1h-1zM94 1h1v1h-1zM99 1h1v1h-1zM69 3h1v1h-1zM83 4h1v1h-1zM92 4h1v1h-1zM100 4h1v1h-1zM102 4h1v1h-1zM91 6h1v1h-1zM92 8h1v1h-1zM68 10h1v1h-1zM84 10h1v1h-1zM87 11h1v1h-1zM90 11h1v1h-1zM71 12h1v1h-1zM72 12h1v1h-1zM93 12h1v1h-1zM81 13h1v1h-1zM87 13h1v1h-1zM94 13h1v1h-1zM98 13h1v1h-1zM81 14h1v1h-1zM86 14h1v1h-1zM102 14h1v1h-1zM74 16h1v1h-1zM75 16h1v1h-1zM91 16h1v1h-1zM94 16h1v1h-1zM68 17h1v1h-1zM74 17h1v1h-1zM98 17h1v1h-1zM94 19h1v1h-1zM95 19h1v1h-1zM96 19h1v1h-1zM97 20h1v1h-1zM100 20h1v1h-1zM92 21h1v1h-1zM69 23h1v1h-1zM92 23h1v1h-1zM67 24h1v1h-1zM99 24h1v1h-1zM79 28h1v1h-1zM97 28h1v1h-1zM83 32h1v1h-1zM87 35h1v1h-1zM84 38h1v1h-1zM88 39h1v1h-1zM97 41h1v1h-1zM93 43h1v1h-1zM90 44h1v1h-1zM80 46h1v1h-1zM92 46h1v1h-1zM97 48h1v1h-1zM98 48h1v1h-1zM96 52h1v1h-1zM75 59h1v1h-1zM94 60h1v1h-1zM79 62h1v1h-1zM81 62h1v1h-1zM84 64h1v1h-1zM77 73h1v1h-1zM69 74h1v1h-1zM102 78h1v1h-1zM80 81h1v1h-1z"/><path fill="#105010" d="M89 0h1v1h-1z"/><path fill="#b00000" d="M95 0h1v1h-1zM99 0h1v1h-1zM84 2h1v1h-1zM96 2h1v1h-1zM81 3h1v1h-1zM81 5h1v1h-1zM94 6h1v1h-1zM72 7h1v1h-1zM92 7h1v1h-1zM93 7h1v1h-1zM84 8h1v1h-1zM86 8h1v1h-1zM90 9h1v1h-1zM98 10h1v1h-1zM75 11h1v1h-1zM85 13h1v1h-1zM69 14h1v1h-1zM71 14h1v1h-1zM76 14h1v1h-1zM83 15h1v1h-1zM99 16h1v1h-1zM84 21h1v1h-1zM95 21h1v1h-1zM101 21h1v1h-1zM71 22h1v1h-1zM72 22h1v1h-1zM95 22h1v1h-1zM98 26h1v1h-1zM81 28h1v1h-1zM91 28h1v1h-1zM100 28h1v1h-1zM90 29h1v1h-1zM100 29h1v1h-1zM101 30h1v1h-1zM76 31h1v1h-1zM85 31h1v1h-1zM97 31h1v1h-1zM100 31h1v1h-1zM74 32h1v1h-1zM84 33h1v1h-1zM76 37h1v1h-1zM83 37h1v1h-1zM67 38h1v1h-1zM83 38h1v1h-1zM93 38h1v1h-1zM94 38h1v1h-1zM95 38h1v1h-1zM94 40h1v1h-1zM86 42h1v1h-1zM96 42h1v1h-1zM67 43h1v1h-1zM79 44h1v1h-1zM102 44h1v1h-1zM99 45h1v1h-1zM92 47h1v1h-1zM88 48h1v1h-1zM93 49h1v1h-1zM74 50h1v1h-1zM84 52h1v1h-1zM86 52h1v1h-1zM69 54h1v1h-1zM101 56h1v1h-1zM75 61h1v1h-1zM76 63h1v1h-1zM77 63h1v1h-1zM81 63h1v1h-1zM99 63h1v1h-1zM79 64h1v1h-1zM102 65h1v1h-1zM68 68h1v1h-1zM81 68h1v1h-1zM67 71h1v1h-1zM90 74h1v1h-1zM78 75h1v1h-1zM90 75h1v1h-1zM80 76h1v1h-1zM82 77h1v1h-1zM90 78h1v1h-1zM100 79h1v1h-1zM101 79h1v1h-1zM70 81h1v1h-1zM84 81h1v1h-1zM94 81h1v1h-1zM76 82h1v1h-1zM79 83h1v1h-1zM76 84h1v1h-1zM79 84h1v1h-1zM80 84h1v1h-1zM81 84h1v1h-1z"/><path fill="#900808" d="M96 0h1v1h-1zM96 1h1v1h-1zM101 1h1v1h-1zM79 2h1v1h-1zM81 2h1v1h-1zM95 3h1v1h-1zM89 5h1v1h-1zM92 5h1v1h-1zM73 7h1v1h-1zM98 7h1v1h-1zM67 12h1v1h-1zM88 12h1v1h-1zM98 12h1v1h-1zM102 12h1v1h-1zM67 13h1v1h-1zM88 13h1v1h-1zM91 15h1v1h-1zM83 16h1v1h-1zM90 18h1v1h-1zM95 18h1v1h-1zM99 19h1v1h-1zM99 20h1v1h-1zM102 21h1v1h-1zM101 22h1v1h-1zM90 27h1v1h-1zM72 29h1v1h-1zM94 29h1v1h-1zM102 30h1v1h-1zM74 34h1v1h-1zM68 35h1v1h-1zM96 36h1v1h-1zM102 36h1v1h-1zM94 37h1v1h-1zM78 41h1v1h-1zM95 45h1v1h-1zM94 46h1v1h-1zM74 49h1v1h-1zM94 54h1v1h-1zM99 54h1v1h-1zM101 54h1v1h-1zM78 56h1v1h-1zM68 72h1v1h-1zM102 72h1v1h-1zM81 85h1v1h-1z"/><path fill="#0c8c0c" d="M101 0h1v1h-1zM89 1h1v1h-1zM92 1h1v1h-1zM71 4h1v1h-1zM99 4h1v1h-1zM78 6h1v1h-1zM96 6h1v1h-1zM72 13h1v1h-1zM100 13h1v1h-1zM73 14h1v1h-1zM79 14h1v1h-1zM80 16h1v1h-1zM82 18h1v1h-1zM87 18h1v1h-1zM102 19h1v1h-1zM88 22h1v1h-1zM86 24h1v1h-1zM92 25h1v1h-1zM79 26h1v1h-1zM88 26h1v1h-1zM84 27h1v1h-1zM96 30h1v1h-1zM95 32h1v1h-1zM91 34h1v1h-1zM76 35h1v1h-1zM96 35h1v1h-1zM85 36h1v1h-1zM96 38h1v1h-1zM72 42h1v1h-1zM90 46h1v1h-1zM81 47h1v1h-1zM78 51h1v1h-1zM95 55h1v1h-1zM92 56h1v1h-1zM86 57h1v1h-1zM87 57h1v1h-1zM100 57h1v1h-1zM86 58h1v1h-1zM87 58h1v1h-1zM88 58h1v1h-1zM90 58h1v1h-1zM83 59h1v1h-1zM84 59h1v1h-1zM92 59h1v1h-1zM90 60h1v1h-1zM91 60h1v1h-1zM91 61h1v1h-1zM101 61h1v1h-1zM100 66h1v1h-1zM102 69h1v1h-1zM93 70h1v1h-1zM100 70h1v1h-1zM85 74h1v1h-1zM83 75h1v1h-1zM96 76h1v1h-1zM96 77h1v1h-1zM96 80h1v1h-1zM92 84h1v1h-1z"/><path fill="#0a700a" d="M102 0h1v1h-1zM77 2h1v1h-1zM76 3h1v1h-1zM101 3h1v1h-1zM98 4h1v1h-1zM76 5h1v1h-1zM88 5h1v1h-1zM99 5h1v1h-1zM67 6h1v1h-1zM88 6h1v1h-1zM100 6h1v1h-1zM79 7h1v1h-1zM96 7h1v1h-1zM100 7h1v1h-1zM99 8h1v1h-1zM81 10h1v1h-1zM78 12h1v1h-1zM93 15h1v1h-1zM101 16h1v1h-1zM75 17h1v1h-1zM78 17h1v1h-1zM76 19h1v1h-1zM84 19h1v1h-1zM69 20h1v1h-1zM70 20h1v1h-1zM82 20h1v1h-1zM68 21h1v1h-1zM69 21h1v1h-1zM74 21h1v1h-1zM75 21h1v1h-1zM82 21h1v1h-1zM91 21h1v1h-1zM72 23h1v1h-1zM76 26h1v1h-1zM80 26h1v1h-1zM85 27h1v1h-1zM89 27h1v1h-1zM85 28h1v1h-1zM96 32h1v1h-1zM96 33h1v1h-1zM97 33h1v1h-1zM75 35h1v1h-1zM75 36h1v1h-1zM86 37h1v1h-1zM91 37h1v1h-1zM92 37h1v1h-1zM72 38h1v1h-1zM97 38h1v1h-1zM73 39h1v1h-1zM84 40h1v1h-1zM98 40h1v1h-1zM100 41h1v1h-1zM98 42h1v1h-1zM75 44h1v1h-1zM77 44h1v1h-1zM87 44h1v1h-1zM88 44h1v1h-1zM96 44h1v1h-1zM86 45h1v1h-1zM67 46h1v1h-1zM85 48h1v1h-1zM95 48h1v1h-1zM101 48h1v1h-1zM77 51h1v1h-1zM79 51h1v1h-1zM80 51h1v1h-1zM71 53h1v1h-1zM81 53h1v1h-1zM94 53h1v1h-1zM76 54h1v1h-1zM92 54h1v1h-1zM96 54h1v1h-1zM98 54h1v1h-1zM76 55h1v1h-1zM90 55h1v1h-1zM99 55h1v1h-1zM79 56h1v1h-1zM98 56h1v1h-1zM100 56h1v1h-1zM72 57h1v1h-1zM89 57h1v1h-1zM92 57h1v1h-1zM95 57h1v1h-1zM99 57h1v1h-1zM77 58h1v1h-1zM92 58h1v1h-1zM96 58h1v1h-1zM97 58h1v1h-1zM79 59h1v1h-1zM91 59h1v1h-1zM81 60h1v1h-1zM93 60h1v1h-1zM89 61h1v1h-1zM98 61h1v1h-1zM73 64h1v1h-1zM102 64h1v1h-1zM79 65h1v1h-1zM89 65h1v1h-1zM83 66h1v1h-1zM80 67h1v1h-1zM86 67h1v1h-1zM91 68h1v1h-1zM98 69h1v1h-1zM68 71h1v1h-1zM91 71h1v1h-1zM95 71h1v1h-1zM83 72h1v1h-1zM84 73h1v1h-1zM87 73h1v1h-1zM70 74h1v1h-1zM78 74h1v1h-1zM86 74h1v1h-1zM88 74h1v1h-1zM69 75h1v1h-1zM94 75h1v1h-1zM95 75h1v1h-1zM99 75h1v1h-1zM100 76h1v1h-1zM93 77h1v1h-1zM98 77h1v1h-1zM99 77h1v1h-1zM73 78h1v1h-1zM94 78h1v1h-1zM95 78h1v1h-1zM96 79h1v1h-1zM74 80h1v1h-1zM68 82h1v1h-1zM88 82h1v1h-1zM90 82h1v1h-1zM97 82h1v1h-1zM71 83h1v1h-1zM76 85h1v1h-1z"/><path fill="#18c818" d="M76 1h1v1h-1zM71 5h1v1h-1zM70 6h1v1h-1zM72 9h1v1h-1zM75 9h1v1h-1zM80 11h1v1h-1zM92 11h1v1h-1zM81 18h1v1h-1zM75 23h1v1h-1zM68 24h1v1h-1zM81 24h1v1h-1zM75 25h1v1h-1zM90 25h1v1h-1zM76 27h1v1h-1zM86 29h1v1h-1zM69 30h1v1h-1zM67 31h1v1h-1zM71 31h1v1h-1zM90 32h1v1h-1zM85 35h1v1h-1zM68 38h1v1h-1zM69 38h1v1h-1zM78 39h1v1h-1zM90 39h1v1h-1zM87 40h1v1h-1zM99 40h1v1h-1zM82 41h1v1h-1zM82 42h1v1h-1zM84 42h1v1h-1zM89 42h1v1h-1zM93 42h1v1h-1zM90 43h1v1h-1zM76 45h1v1h-1zM83 45h1v1h-1zM79 46h1v1h-1zM83 46h1v1h-1zM72 47h1v1h-1zM92 48h1v1h-1zM83 49h1v1h-1zM67 51h1v1h-1zM83 51h1v1h-1zM68 52h1v1h-1zM90 52h1v1h-1zM101 52h1v1h-1zM68 53h1v1h-1zM81 54h1v1h-1zM86 54h1v1h-1zM70 55h1v1h-1zM73 55h1v1h-1zM83 55h1v1h-1zM89 55h1v1h-1zM91 55h1v1h-1zM95 56h1v1h-1zM96 56h1v1h-1zM97 57h1v1h-1zM72 59h1v1h-1zM78 59h1v1h-1zM100 59h1v1h-1zM77 60h1v1h-1zM86 60h1v1h-1zM101 60h1v1h-1zM88 61h1v1h-1zM86 62h1v1h-1zM88 62h1v1h-1zM102 62h1v1h-1zM97 63h1v1h-1zM91 65h1v1h-1zM87 66h1v1h-1zM91 66h1v1h-1zM98 67h1v1h-1zM96 70h1v1h-1zM97 71h1v1h-1zM79 73h1v1h-1zM98 73h1v1h-1zM74 74h1v1h-1zM76 74h1v1h-1zM97 74h1v1h-1zM68 75h1v1h-1zM70 75h1v1h-1zM71 78h1v1h-1zM72 78h1v1h-1zM77 78h1v1h-1zM86 78h1v1h-1zM93 78h1v1h-1zM77 81h1v1h-1zM89 81h1v1h-1zM96 81h1v1h-1zM71 82h1v1h-1zM99 82h1v1h-1zM75 83h1v1h-1zM69 84h1v1h-1zM77 84h1v1h-1z"/><path fill="#780000" d="M77 1h1v1h-1zM80 2h1v1h-1zM97 2h1v1h-1zM68 4h1v1h-1zM78 4h1v1h-1zM101 4h1v1h-1zM68 6h1v1h-1zM82 7h1v1h-1zM78 8h1v1h-1zM94 8h1v1h-1zM95 8h1v1h-1zM70 11h1v1h-1zM86 11h1v1h-1zM88 11h1v1h-1zM68 12h1v1h-1zM92 12h1v1h-1zM78 13h1v1h-1zM101 13h1v1h-1zM85 14h1v1h-1zM79 15h1v1h-1zM70 16h1v1h-1zM89 16h1v1h-1zM80 17h1v1h-1zM94 18h1v1h-1zM98 18h1v1h-1zM92 20h1v1h-1zM98 22h1v1h-1zM88 24h1v1h-1zM88 25h1v1h-1zM80 28h1v1h-1zM94 33h1v1h-1zM101 34h1v1h-1zM93 36h1v1h-1zM95 36h1v1h-1zM97 36h1v1h-1zM101 36h1v1h-1zM101 37h1v1h-1zM93 39h1v1h-1zM70 45h1v1h-1zM95 50h1v1h-1zM96 50h1v1h-1zM71 60h1v1h-1zM75 73h1v1h-1zM101 77h1v1h-1z"/><path fill="#0a0400" d="M78 1h1v1h-1zM71 2h1v1h-1zM76 2h1v1h-1zM78 2h1v1h-1zM85 2h1v1h-1zM92 2h1v1h-1zM89 3h1v1h-1zM94 3h1v1h-1zM76 7h1v1h-1zM80 7h1v1h-1zM79 8h1v1h-1zM100 9h1v1h-1zM93 10h1v1h-1zM96 10h1v1h-1zM101 10h1v1h-1zM94 11h1v1h-1zM96 11h1v1h-1zM73 12h1v1h-1zM97 12h1v1h-1zM82 13h1v1h-1zM87 15h1v1h-1zM102 15h1v1h-1zM85 16h1v1h-1zM93 16h1v1h-1zM85 17h1v1h-1zM68 18h1v1h-1zM89 18h1v1h-1zM68 19h1v1h-1zM87 20h1v1h-1zM70 21h1v1h-1zM85 21h1v1h-1zM74 22h1v1h-1zM96 23h1v1h-1zM69 24h1v1h-1zM71 24h1v1h-1zM78 24h1v1h-1zM79 24h1v1h-1zM91 24h1v1h-1zM97 24h1v1h-1zM68 25h1v1h-1zM71 26h1v1h-1zM77 26h1v1h-1zM91 26h1v1h-1zM93 26h1v1h-1zM96 26h1v1h-1zM69 27h1v1h-1zM79 27h1v1h-1zM87 27h1v1h-1zM91 27h1v1h-1zM94 27h1v1h-1zM101 27h1v1h-1zM74 28h1v1h-1zM88 28h1v1h-1zM67 29h1v1h-1zM68 29h1v1h-1zM82 29h1v1h-1zM84 29h1v1h-1zM75 30h1v1h-1zM81 30h1v1h-1zM84 30h1v1h-1zM98 30h1v1h-1zM94 31h1v1h-1zM73 32h1v1h-1zM82 32h1v1h-1zM88 32h1v1h-1zM72 33h1v1h-1zM91 33h1v1h-1zM100 33h1v1h-1zM68 34h1v1h-1zM73 34h1v1h-1zM84 34h1v1h-1zM86 34h1v1h-1zM89 34h1v1h-1zM94 34h1v1h-1zM67 35h1v1h-1zM80 35h1v1h-1zM88 35h1v1h-1zM93 35h1v1h-1zM79 36h1v1h-1zM88 36h1v1h-1zM99 36h1v1h-1zM73 37h1v1h-1zM84 37h1v1h-1zM100 37h1v1h-1zM91 38h1v1h-1zM69 39h1v1h-1zM87 39h1v1h-1zM97 39h1v1h-1zM81 40h1v1h-1zM83 40h1v1h-1zM77 41h1v1h-1zM90 41h1v1h-1zM68 42h1v1h-1zM71 42h1v1h-1zM75 42h1v1h-1zM83 42h1v1h-1zM101 42h1v1h-1zM71 43h1v1h-1zM79 43h1v1h-1zM83 43h1v1h-1zM71 44h1v1h-1zM73 44h1v1h-1zM75 45h1v1h-1zM101 45h1v1h-1zM70 46h1v1h-1zM88 46h1v1h-1zM86 47h1v1h-1zM87 47h1v1h-1zM74 48h1v1h-1zM75 48h1v1h-1zM84 48h1v1h-1zM96 48h1v1h-1zM69 49h1v1h-1zM73 49h1v1h-1zM87 49h1v1h-1zM94 49h1v1h-1zM98 49h1v1h-1zM67 50h1v1h-1zM85 50h1v1h-1zM69 51h1v1h-1zM75 51h1v1h-1zM89 51h1v1h-1zM74 52h1v1h-1zM76 52h1v1h-1zM78 52h1v1h-1zM80 52h1v1h-1zM88 52h1v1h-1zM76 53h1v1h-1zM71 55h1v1h-1zM74 56h1v1h-1zM99 56h1v1h-1zM83 58h1v1h-1zM71 59h1v1h-1zM89 59h1v1h-1zM73 60h1v1h-1zM76 60h1v1h-1zM93 61h1v1h-1zM102 61h1v1h-1zM69 62h1v1h-1zM70 62h1v1h-1zM72 62h1v1h-1zM96 62h1v1h-1zM83 63h1v1h-1zM98 63h1v1h-1zM102 63h1v1h-1zM89 64h1v1h-1zM96 64h1v1h-1zM100 64h1v1h-1zM67 65h1v1h-1zM69 65h1v1h-1zM85 65h1v1h-1zM87 65h1v1h-1zM74 66h1v1h-1zM81 66h1v1h-1zM85 66h1v1h-1zM89 66h1v1h-1zM92 66h1v1h-1zM67 67h1v1h-1zM72 67h1v1h-1zM79 67h1v1h-1zM84 67h1v1h-1zM85 67h1v1h-1zM89 67h1v1h-1zM91 67h1v1h-1zM96 67h1v1h-1zM67 68h1v1h-1zM69 68h1v1h-1zM70 68h1v1h-1zM73 68h1v1h-1zM83 68h1v1h-1zM85 68h1v1h-1zM86 68h1v1h-1zM68 69h1v1h-1zM72 69h1v1h-1zM92 69h1v1h-1zM96 69h1v1h-1zM100 69h1v1h-1zM101 69h1v1h-1zM82 70h1v1h-1zM101 70h1v1h-1zM102 70h1v1h-1zM82 71h1v1h-1zM90 71h1v1h-1zM99 71h1v1h-1zM82 72h1v1h-1zM89 72h1v1h-1zM90 72h1v1h-1zM73 73h1v1h-1zM78 73h1v1h-1zM75 74h1v1h-1zM79 74h1v1h-1zM83 74h1v1h-1zM77 75h1v1h-1zM79 75h1v1h-1zM84 75h1v1h-1zM85 75h1v1h-1zM72 76h1v1h-1zM73 76h1v1h-1zM77 76h1v1h-1zM89 76h1v1h-1zM102 76h1v1h-1zM80 78h1v1h-1zM101 78h1v1h-1zM69 79h1v1h-1zM79 79h1v1h-1zM84 80h1v1h-1zM90 80h1v1h-1zM79 81h1v1h-1zM81 81h1v1h-1zM83 81h1v1h-1zM95 81h1v1h-1zM100 81h1v1h-1zM67 82h1v1h-1zM70 82h1v1h-1zM74 82h1v1h-1zM75 82h1v1h-1zM78 82h1v1h-1zM84 82h1v1h-1zM81 83h1v1h-1zM92 83h1v1h-1zM100 83h1v1h-1zM86 84h1v1h-1zM98 84h1v1h-1zM70 85h1v1h-1zM72 85h1v1h-1zM77 85h1v1h-1zM86 85h1v1h-1z"/><path fill="#149014" d="M80 1h1v1h-1zM69 2h1v1h-1zM98 3h1v1h-1zM99 3h1v1h-1zM100 3h1v1h-1zM85 5h1v1h-1zM97 7h1v1h-1zM80 8h1v1h-1zM93 8h1v1h-1zM91 10h1v1h-1zM97 10h1v1h-1zM78 11h1v1h-1zM72 14h1v1h-1zM80 14h1v1h-1zM98 15h1v1h-1zM98 16h1v1h-1zM102 17h1v1h-1zM81 19h1v1h-1zM87 19h1v1h-1zM80 24h1v1h-1zM82 24h1v1h-1zM100 24h1v1h-1zM99 26h1v1h-1zM70 27h1v1h-1zM79 31h1v1h-1zM95 31h1v1h-1zM68 32h1v1h-1zM84 36h1v1h-1zM89 36h1v1h-1zM90 36h1v1h-1zM100 36h1v1h-1zM92 38h1v1h-1zM100 38h1v1h-1zM99 39h1v1h-1zM101 39h1v1h-1zM79 40h1v1h-1zM77 42h1v1h-1zM74 46h1v1h-1zM101 46h1v1h-1zM90 49h1v1h-1zM97 51h1v1h-1zM88 57h1v1h-1zM102 58h1v1h-1zM96 59h1v1h-1zM80 60h1v1h-1zM87 60h1v1h-1zM92 60h1v1h-1zM98 60h1v1h-1zM102 60h1v1h-1zM96 61h1v1h-1zM90 63h1v1h-1zM93 64h1v1h-1zM98 65h1v1h-1zM95 72h1v1h-1zM89 73h1v1h-1zM87 74h1v1h-1zM90 76h1v1h-1zM75 77h1v1h-1zM96 78h1v1h-1zM67 80h1v1h-1zM89 80h1v1h-1zM97 84h1v1h-1zM90 85h1v1h-1zM91 85h1v1h-1z"/><path fill="#000a00" d="M81 1h1v1h-1zM71 6h1v1h-1zM79 6h1v1h-1zM99 6h1v1h-1zM67 7h1v1h-1zM67 9h1v1h-1zM76 9h1v1h-1zM80 9h1v1h-1zM82 9h1v1h-1zM74 10h1v1h-1zM68 11h1v1h-1zM76 11h1v1h-1zM95 11h1v1h-1zM99 11h1v1h-1zM81 12h1v1h-1zM93 13h1v1h-1zM78 14h1v1h-1zM84 14h1v1h-1zM72 15h1v1h-1zM84 15h1v1h-1zM67 17h1v1h-1zM71 18h1v1h-1zM91 18h1v1h-1zM71 19h1v1h-1zM74 19h1v1h-1zM85 19h1v1h-1zM88 19h1v1h-1zM74 20h1v1h-1zM98 20h1v1h-1zM76 21h1v1h-1zM86 21h1v1h-1zM70 22h1v1h-1zM75 22h1v1h-1zM78 22h1v1h-1zM84 22h1v1h-1zM86 22h1v1h-1zM89 22h1v1h-1zM68 23h1v1h-1zM84 23h1v1h-1zM75 24h1v1h-1zM69 25h1v1h-1zM76 25h1v1h-1zM84 25h1v1h-1zM100 25h1v1h-1zM92 26h1v1h-1zM94 26h1v1h-1zM72 27h1v1h-1zM102 27h1v1h-1zM93 28h1v1h-1zM94 28h1v1h-1zM77 29h1v1h-1zM71 30h1v1h-1zM82 30h1v1h-1zM83 30h1v1h-1zM99 30h1v1h-1zM74 31h1v1h-1zM93 31h1v1h-1zM85 32h1v1h-1zM79 33h1v1h-1zM90 33h1v1h-1zM79 35h1v1h-1zM86 35h1v1h-1zM70 36h1v1h-1zM71 36h1v1h-1zM73 36h1v1h-1zM81 36h1v1h-1zM69 37h1v1h-1zM81 37h1v1h-1zM71 38h1v1h-1zM73 38h1v1h-1zM78 38h1v1h-1zM82 38h1v1h-1zM74 39h1v1h-1zM82 40h1v1h-1zM85 40h1v1h-1zM73 41h1v1h-1zM91 41h1v1h-1zM92 41h1v1h-1zM81 42h1v1h-1zM85 42h1v1h-1zM77 43h1v1h-1zM67 44h1v1h-1zM76 44h1v1h-1zM83 44h1v1h-1zM84 44h1v1h-1zM93 44h1v1h-1zM94 44h1v1h-1zM69 45h1v1h-1zM71 45h1v1h-1zM73 45h1v1h-1zM89 45h1v1h-1zM93 45h1v1h-1zM69 46h1v1h-1zM87 46h1v1h-1zM89 46h1v1h-1zM91 46h1v1h-1zM93 46h1v1h-1zM95 46h1v1h-1zM102 46h1v1h-1zM82 47h1v1h-1zM91 47h1v1h-1zM68 48h1v1h-1zM69 48h1v1h-1zM75 49h1v1h-1zM81 49h1v1h-1zM78 50h1v1h-1zM81 50h1v1h-1zM82 50h1v1h-1zM87 50h1v1h-1zM92 50h1v1h-1zM94 50h1v1h-1zM71 51h1v1h-1zM72 51h1v1h-1zM81 51h1v1h-1zM86 51h1v1h-1zM102 51h1v1h-1zM91 52h1v1h-1zM92 53h1v1h-1zM87 54h1v1h-1zM89 54h1v1h-1zM91 56h1v1h-1zM71 57h1v1h-1zM76 58h1v1h-1zM67 60h1v1h-1zM72 61h1v1h-1zM74 61h1v1h-1zM78 61h1v1h-1zM85 61h1v1h-1zM82 62h1v1h-1zM101 62h1v1h-1zM67 63h1v1h-1zM73 63h1v1h-1zM69 64h1v1h-1zM75 64h1v1h-1zM83 64h1v1h-1zM74 65h1v1h-1zM84 65h1v1h-1zM67 66h1v1h-1zM73 66h1v1h-1zM68 67h1v1h-1zM77 67h1v1h-1zM93 67h1v1h-1zM95 67h1v1h-1zM74 68h1v1h-1zM74 69h1v1h-1zM83 69h1v1h-1zM71 70h1v1h-1zM83 70h1v1h-1zM86 70h1v1h-1zM88 70h1v1h-1zM89 70h1v1h-1zM80 71h1v1h-1zM88 71h1v1h-1zM89 71h1v1h-1zM69 72h1v1h-1zM74 72h1v1h-1zM70 73h1v1h-1zM76 73h1v1h-1zM95 73h1v1h-1zM89 74h1v1h-1zM72 75h1v1h-1zM82 75h1v1h-1zM88 76h1v1h-1zM95 76h1v1h-1zM71 77h1v1h-1zM72 77h1v1h-1zM74 77h1v1h-1zM84 77h1v1h-1zM85 77h1v1h-1zM86 77h1v1h-1zM79 78h1v1h-1zM82 78h1v1h-1zM73 79h1v1h-1zM75 79h1v1h-1zM78 79h1v1h-1zM86 80h1v1h-1zM94 80h1v1h-1zM101 80h1v1h-1zM67 81h1v1h-1zM68 81h1v1h-1zM72 81h1v1h-1zM88 81h1v1h-1zM81 82h1v1h-1zM91 82h1v1h-1zM95 82h1v1h-1zM72 83h1v1h-1zM85 84h1v1h-1zM96 84h1v1h-1zM73 85h1v1h-1zM79 85h1v1h-1z"/><path fill="#065006" d="M82 1h1v1h-1zM85 1h1v1h-1zM68 7h1v1h-1zM99 9h1v1h-1zM86 10h1v1h-1zM77 13h1v1h-1zM97 13h1v1h-1zM74 14h1v1h-1zM69 15h1v1h-1zM78 16h1v1h-1zM83 19h1v1h-1zM84 20h1v1h-1zM83 22h1v1h-1zM79 23h1v1h-1zM80 25h1v1h-1zM89 25h1v1h-1zM97 25h1v1h-1zM102 25h1v1h-1zM75 26h1v1h-1zM85 26h1v1h-1zM87 26h1v1h-1zM81 27h1v1h-1zM76 33h1v1h-1zM84 35h1v1h-1zM97 35h1v1h-1zM80 37h1v1h-1zM96 37h1v1h-1zM67 39h1v1h-1zM86 39h1v1h-1zM102 40h1v1h-1zM93 41h1v1h-1zM74 43h1v1h-1zM91 43h1v1h-1zM102 43h1v1h-1zM97 44h1v1h-1zM74 45h1v1h-1zM81 45h1v1h-1zM77 46h1v1h-1zM77 47h1v1h-1zM99 49h1v1h-1zM71 52h1v1h-1zM78 53h1v1h-1zM102 53h1v1h-1zM85 54h1v1h-1zM88 54h1v1h-1zM69 55h1v1h-1zM77 55h1v1h-1zM94 55h1v1h-1zM71 58h1v1h-1zM82 58h1v1h-1zM99 58h1v1h-1zM67 59h1v1h-1zM87 59h1v1h-1zM88 60h1v1h-1zM68 61h1v1h-1zM84 61h1v1h-1zM67 62h1v1h-1zM77 62h1v1h-1zM69 63h1v1h-1zM90 65h1v1h-1zM80 68h1v1h-1zM97 68h1v1h-1zM77 69h1v1h-1zM77 70h1v1h-1zM79 72h1v1h-1zM94 73h1v1h-1zM102 73h1v1h-1zM72 74h1v1h-1zM73 75h1v1h-1zM91 75h1v1h-1zM99 76h1v1h-1zM69 77h1v1h-1zM90 77h1v1h-1zM83 78h1v1h-1zM68 80h1v1h-1zM74 81h1v1h-1zM83 82h1v1h-1zM95 83h1v1h-1zM98 83h1v1h-1zM68 84h1v1h-1z"/><path fill="#520000" d="M83 1h1v1h-1zM98 1h1v1h-1zM67 2h1v1h-1zM71 3h1v1h-1zM102 3h1v1h-1zM67 4h1v1h-1zM83 5h1v1h-1zM92 6h1v1h-1zM95 6h1v1h-1zM102 6h1v1h-1zM88 7h1v1h-1zM97 8h1v1h-1zM89 10h1v1h-1zM77 11h1v1h-1zM69 12h1v1h-1zM79 13h1v1h-1zM82 14h1v1h-1zM79 16h1v1h-1zM97 23h1v1h-1zM95 25h1v1h-1zM102 26h1v1h-1zM69 28h1v1h-1zM96 29h1v1h-1zM70 31h1v1h-1zM73 31h1v1h-1zM88 31h1v1h-1zM86 32h1v1h-1zM101 32h1v1h-1zM67 34h1v1h-1zM100 34h1v1h-1zM71 35h1v1h-1zM100 35h1v1h-1zM77 38h1v1h-1zM98 38h1v1h-1zM96 39h1v1h-1zM79 41h1v1h-1zM81 46h1v1h-1zM102 49h1v1h-1zM85 52h1v1h-1zM72 54h1v1h-1zM75 54h1v1h-1zM74 62h1v1h-1zM97 62h1v1h-1zM75 65h1v1h-1zM101 75h1v1h-1zM81 77h1v1h-1zM89 79h1v1h-1zM78 85h1v1h-1zM80 85h1v1h-1z"/><path fill="#880000" d="M87 1h1v1h-1zM87 2h1v1h-1zM100 2h1v1h-1zM84 4h1v1h-1zM93 4h1v1h-1zM69 5h1v1h-1zM79 5h1v1h-1zM84 5h1v1h-1zM98 5h1v1h-1zM84 6h1v1h-1zM86 6h1v1h-1zM77 9h1v1h-1zM85 11h1v1h-1zM84 12h1v1h-1zM87 12h1v1h-1zM89 12h1v1h-1zM95 12h1v1h-1zM96 12h1v1h-1zM99 13h1v1h-1zM102 13h1v1h-1zM88 14h1v1h-1zM72 18h1v1h-1zM96 20h1v1h-1zM98 21h1v1h-1zM79 22h1v1h-1zM90 23h1v1h-1zM102 23h1v1h-1zM90 28h1v1h-1zM83 29h1v1h-1zM100 32h1v1h-1zM69 33h1v1h-1zM95 34h1v1h-1zM77 36h1v1h-1zM87 36h1v1h-1zM98 37h1v1h-1zM69 42h1v1h-1zM80 44h1v1h-1zM97 50h1v1h-1zM90 54h1v1h-1zM100 54h1v1h-1zM85 56h1v1h-1zM101 57h1v1h-1zM68 73h1v1h-1z"/><path fill="#c00000" d="M90 1h1v1h-1zM95 1h1v1h-1zM82 3h1v1h-1zM84 3h1v1h-1zM80 4h1v1h-1zM87 5h1v1h-1zM101 6h1v1h-1zM90 7h1v1h-1zM87 8h1v1h-1zM92 9h1v1h-1zM93 9h1v1h-1zM83 10h1v1h-1zM85 12h1v1h-1zM91 12h1v1h-1zM75 14h1v1h-1zM96 14h1v1h-1zM92 15h1v1h-1zM83 17h1v1h-1zM86 17h1v1h-1zM78 19h1v1h-1zM101 20h1v1h-1zM88 21h1v1h-1zM73 22h1v1h-1zM101 23h1v1h-1zM71 25h1v1h-1zM78 25h1v1h-1zM72 26h1v1h-1zM101 26h1v1h-1zM98 27h1v1h-1zM101 28h1v1h-1zM91 29h1v1h-1zM84 31h1v1h-1zM81 33h1v1h-1zM72 35h1v1h-1zM97 40h1v1h-1zM86 41h1v1h-1zM94 41h1v1h-1zM67 42h1v1h-1zM74 42h1v1h-1zM87 42h1v1h-1zM97 42h1v1h-1zM70 44h1v1h-1zM78 44h1v1h-1zM92 44h1v1h-1zM97 45h1v1h-1zM98 45h1v1h-1zM81 48h1v1h-1zM87 48h1v1h-1zM68 49h1v1h-1zM73 51h1v1h-1zM84 51h1v1h-1zM85 51h1v1h-1zM86 53h1v1h-1zM71 54h1v1h-1zM76 56h1v1h-1zM92 62h1v1h-1zM94 62h1v1h-1zM90 64h1v1h-1zM73 65h1v1h-1zM90 69h1v1h-1zM67 70h1v1h-1zM90 70h1v1h-1zM67 73h1v1h-1zM67 74h1v1h-1zM100 75h1v1h-1zM85 78h1v1h-1zM97 80h1v1h-1zM98 81h1v1h-1zM93 82h1v1h-1zM86 83h1v1h-1zM93 84h1v1h-1zM94 84h1v1h-1zM95 84h1v1h-1z"/><path fill="#3c0000" d="M70 2h1v1h-1zM72 2h1v1h-1zM89 2h1v1h-1zM99 2h1v1h-1zM67 3h1v1h-1zM82 5h1v1h-1zM70 7h1v1h-1zM71 7h1v1h-1zM83 9h1v1h-1zM80 12h1v1h-1zM95 13h1v1h-1zM102 16h1v1h-1zM78 18h1v1h-1zM99 21h1v1h-1zM96 24h1v1h-1zM94 25h1v1h-1zM98 25h1v1h-1zM85 29h1v1h-1zM90 31h1v1h-1zM98 31h1v1h-1zM86 33h1v1h-1zM101 33h1v1h-1zM77 34h1v1h-1zM96 34h1v1h-1zM102 34h1v1h-1zM101 35h1v1h-1zM69 36h1v1h-1zM68 41h1v1h-1zM72 41h1v1h-1zM100 45h1v1h-1zM97 47h1v1h-1zM89 49h1v1h-1zM95 51h1v1h-1zM97 52h1v1h-1zM86 56h1v1h-1zM67 57h1v1h-1zM83 57h1v1h-1zM100 58h1v1h-1zM80 61h1v1h-1zM91 63h1v1h-1zM86 65h1v1h-1zM95 68h1v1h-1zM102 71h1v1h-1zM101 72h1v1h-1zM81 75h1v1h-1zM88 75h1v1h-1zM76 76h1v1h-1zM95 85h1v1h-1z"/><path fill="#cc0000" d="M94 2h1v1h-1zM95 2h1v1h-1zM88 3h1v1h-1zM91 3h1v1h-1zM72 4h1v1h-1zM73 4h1v1h-1zM81 4h1v1h-1zM78 5h1v1h-1zM87 6h1v1h-1zM97 6h1v1h-1zM91 7h1v1h-1zM77 8h1v1h-1zM90 8h1v1h-1zM72 10h1v1h-1zM75 10h1v1h-1zM98 11h1v1h-1zM91 13h1v1h-1zM67 14h1v1h-1zM83 14h1v1h-1zM67 16h1v1h-1zM82 17h1v1h-1zM96 17h1v1h-1zM75 18h1v1h-1zM98 19h1v1h-1zM83 21h1v1h-1zM99 25h1v1h-1zM71 27h1v1h-1zM80 29h1v1h-1zM78 33h1v1h-1zM89 33h1v1h-1zM82 35h1v1h-1zM95 35h1v1h-1zM68 36h1v1h-1zM72 36h1v1h-1zM74 36h1v1h-1zM80 38h1v1h-1zM91 40h1v1h-1zM96 40h1v1h-1zM87 41h1v1h-1zM94 42h1v1h-1zM95 42h1v1h-1zM70 43h1v1h-1zM95 44h1v1h-1zM102 45h1v1h-1zM88 47h1v1h-1zM80 48h1v1h-1zM90 48h1v1h-1zM102 48h1v1h-1zM91 50h1v1h-1zM92 52h1v1h-1zM78 55h1v1h-1zM76 57h1v1h-1zM68 59h1v1h-1zM71 61h1v1h-1zM99 62h1v1h-1zM76 64h1v1h-1zM88 64h1v1h-1zM92 65h1v1h-1zM71 66h1v1h-1zM96 68h1v1h-1zM69 70h1v1h-1zM67 72h1v1h-1zM100 74h1v1h-1zM79 77h1v1h-1zM100 77h1v1h-1zM88 79h1v1h-1zM82 80h1v1h-1zM71 81h1v1h-1zM76 81h1v1h-1zM85 82h1v1h-1zM100 82h1v1h-1zM76 83h1v1h-1zM100 84h1v1h-1zM101 84h1v1h-1zM102 85h1v1h-1z"/><path fill="#004000" d="M68 3h1v1h-1zM101 5h1v1h-1zM69 10h1v1h-1zM78 10h1v1h-1zM70 12h1v1h-1zM79 17h1v1h-1zM80 19h1v1h-1zM85 20h1v1h-1zM80 21h1v1h-1zM91 25h1v1h-1zM67 26h1v1h-1zM78 27h1v1h-1zM72 28h1v1h-1zM76 28h1v1h-1zM69 29h1v1h-1zM70 29h1v1h-1zM71 29h1v1h-1zM94 30h1v1h-1zM69 32h1v1h-1zM70 32h1v1h-1zM94 32h1v1h-1zM97 32h1v1h-1zM76 34h1v1h-1zM83 35h1v1h-1zM98 35h1v1h-1zM91 36h1v1h-1zM84 39h1v1h-1zM70 40h1v1h-1zM75 43h1v1h-1zM85 44h1v1h-1zM67 45h1v1h-1zM80 45h1v1h-1zM70 47h1v1h-1zM85 47h1v1h-1zM73 48h1v1h-1zM94 48h1v1h-1zM99 48h1v1h-1zM88 50h1v1h-1zM92 51h1v1h-1zM96 51h1v1h-1zM74 54h1v1h-1zM84 54h1v1h-1zM72 56h1v1h-1zM87 56h1v1h-1zM70 57h1v1h-1zM81 57h1v1h-1zM96 57h1v1h-1zM95 61h1v1h-1zM71 62h1v1h-1zM95 63h1v1h-1zM100 65h1v1h-1zM97 67h1v1h-1zM97 73h1v1h-1zM80 77h1v1h-1zM71 79h1v1h-1zM77 80h1v1h-1zM90 81h1v1h-1zM101 82h1v1h-1zM68 83h1v1h-1zM74 83h1v1h-1zM89 83h1v1h-1zM91 83h1v1h-1zM97 83h1v1h-1zM73 84h1v1h-1zM68 85h1v1h-1z"/><path fill="#20d820" d="M74 3h1v1h-1zM77 3h1v1h-1zM75 7h1v1h-1zM70 8h1v1h-1zM69 9h1v1h-1zM81 11h1v1h-1zM82 11h1v1h-1zM77 12h1v1h-1zM73 16h1v1h-1zM81 16h1v1h-1zM71 17h1v1h-1zM76 18h1v1h-1zM72 19h1v1h-1zM80 20h1v1h-1zM78 21h1v1h-1zM69 22h1v1h-1zM74 23h1v1h-1zM82 26h1v1h-1zM83 26h1v1h-1zM72 32h1v1h-1zM74 35h1v1h-1zM102 35h1v1h-1zM68 37h1v1h-1zM78 37h1v1h-1zM85 37h1v1h-1zM85 38h1v1h-1zM92 39h1v1h-1zM67 40h1v1h-1zM69 40h1v1h-1zM86 40h1v1h-1zM75 41h1v1h-1zM84 45h1v1h-1zM82 46h1v1h-1zM101 50h1v1h-1zM100 51h1v1h-1zM67 53h1v1h-1zM80 53h1v1h-1zM96 53h1v1h-1zM83 54h1v1h-1zM74 55h1v1h-1zM88 55h1v1h-1zM73 56h1v1h-1zM80 56h1v1h-1zM73 57h1v1h-1zM74 57h1v1h-1zM93 57h1v1h-1zM70 59h1v1h-1zM93 59h1v1h-1zM95 59h1v1h-1zM98 59h1v1h-1zM75 60h1v1h-1zM95 60h1v1h-1zM96 60h1v1h-1zM97 60h1v1h-1zM67 61h1v1h-1zM78 63h1v1h-1zM91 64h1v1h-1zM94 64h1v1h-1zM99 65h1v1h-1zM95 66h1v1h-1zM99 67h1v1h-1zM79 68h1v1h-1zM92 68h1v1h-1zM98 68h1v1h-1zM100 68h1v1h-1zM79 69h1v1h-1zM72 70h1v1h-1zM79 70h1v1h-1zM99 70h1v1h-1zM98 71h1v1h-1zM100 71h1v1h-1zM72 72h1v1h-1zM77 72h1v1h-1zM92 72h1v1h-1zM71 73h1v1h-1zM77 74h1v1h-1zM67 75h1v1h-1zM97 75h1v1h-1zM71 76h1v1h-1zM68 77h1v1h-1zM76 77h1v1h-1zM74 78h1v1h-1zM81 78h1v1h-1zM76 79h1v1h-1zM83 79h1v1h-1zM91 81h1v1h-1zM82 83h1v1h-1zM83 83h1v1h-1zM90 83h1v1h-1zM69 85h1v1h-1zM89 85h1v1h-1z"/><path fill="#300000" d="M75 3h1v1h-1zM70 4h1v1h-1zM77 4h1v1h-1zM85 4h1v1h-1zM95 4h1v1h-1zM91 5h1v1h-1zM85 9h1v1h-1zM94 9h1v1h-1zM102 9h1v1h-1zM79 10h1v1h-1zM69 13h1v1h-1zM73 13h1v1h-1zM89 14h1v1h-1zM86 15h1v1h-1zM77 16h1v1h-1zM94 17h1v1h-1zM75 19h1v1h-1zM77 20h1v1h-1zM79 20h1v1h-1zM80 22h1v1h-1zM73 23h1v1h-1zM76 23h1v1h-1zM74 26h1v1h-1zM68 27h1v1h-1zM100 27h1v1h-1zM102 29h1v1h-1zM78 31h1v1h-1zM102 32h1v1h-1zM78 36h1v1h-1zM88 37h1v1h-1zM102 38h1v1h-1zM75 40h1v1h-1zM95 40h1v1h-1zM78 42h1v1h-1zM89 48h1v1h-1zM67 49h1v1h-1zM92 49h1v1h-1zM80 55h1v1h-1zM84 56h1v1h-1zM67 69h1v1h-1zM69 73h1v1h-1zM72 79h1v1h-1zM93 80h1v1h-1zM78 81h1v1h-1zM99 84h1v1h-1z"/><path fill="#1ee01e" d="M78 3h1v1h-1zM69 8h1v1h-1zM76 12h1v1h-1zM92 16h1v1h-1zM100 17h1v1h-1zM67 22h1v1h-1zM77 22h1v1h-1zM93 22h1v1h-1zM80 23h1v1h-1zM92 29h1v1h-1zM67 30h1v1h-1zM68 31h1v1h-1zM77 32h1v1h-1zM86 38h1v1h-1zM85 39h1v1h-1zM102 41h1v1h-1zM90 42h1v1h-1zM82 45h1v1h-1zM68 47h1v1h-1zM83 50h1v1h-1zM100 50h1v1h-1zM75 52h1v1h-1zM100 52h1v1h-1zM93 53h1v1h-1zM97 53h1v1h-1zM80 54h1v1h-1zM97 55h1v1h-1zM98 55h1v1h-1zM67 56h1v1h-1zM97 56h1v1h-1zM80 59h1v1h-1zM97 59h1v1h-1zM84 60h1v1h-1zM77 61h1v1h-1zM90 61h1v1h-1zM87 62h1v1h-1zM68 63h1v1h-1zM75 63h1v1h-1zM95 64h1v1h-1zM97 64h1v1h-1zM99 64h1v1h-1zM97 65h1v1h-1zM90 66h1v1h-1zM96 66h1v1h-1zM76 68h1v1h-1zM78 69h1v1h-1zM92 71h1v1h-1zM72 73h1v1h-1zM92 73h1v1h-1zM92 74h1v1h-1zM92 77h1v1h-1zM68 78h1v1h-1zM71 80h1v1h-1zM91 80h1v1h-1zM75 81h1v1h-1zM101 81h1v1h-1zM73 82h1v1h-1zM85 83h1v1h-1z"/><path fill="#a80000" d="M79 3h1v1h-1zM79 4h1v1h-1zM90 5h1v1h-1zM95 5h1v1h-1zM96 5h1v1h-1zM85 8h1v1h-1zM88 8h1v1h-1zM89 8h1v1h-1zM91 9h1v1h-1zM86 12h1v1h-1zM90 13h1v1h-1zM99 14h1v1h-1zM67 15h1v1h-1zM85 15h1v1h-1zM94 15h1v1h-1zM95 15h1v1h-1zM96 15h1v1h-1zM87 16h1v1h-1zM95 16h1v1h-1zM90 17h1v1h-1zM100 18h1v1h-1zM76 20h1v1h-1zM102 20h1v1h-1zM71 21h1v1h-1zM81 22h1v1h-1zM92 24h1v1h-1zM93 25h1v1h-1zM69 26h1v1h-1zM95 26h1v1h-1zM82 28h1v1h-1zM97 29h1v1h-1zM98 29h1v1h-1zM87 30h1v1h-1zM87 31h1v1h-1zM101 31h1v1h-1zM76 32h1v1h-1zM98 32h1v1h-1zM75 33h1v1h-1zM99 33h1v1h-1zM69 35h1v1h-1zM98 36h1v1h-1zM72 37h1v1h-1zM77 37h1v1h-1zM95 37h1v1h-1zM102 37h1v1h-1zM89 38h1v1h-1zM75 39h1v1h-1zM80 41h1v1h-1zM95 41h1v1h-1zM80 42h1v1h-1zM94 43h1v1h-1zM95 43h1v1h-1zM97 43h1v1h-1zM98 43h1v1h-1zM91 44h1v1h-1zM98 44h1v1h-1zM91 45h1v1h-1zM76 49h1v1h-1zM73 50h1v1h-1zM80 50h1v1h-1zM74 51h1v1h-1zM70 53h1v1h-1zM84 53h1v1h-1zM85 53h1v1h-1zM99 59h1v1h-1zM95 62h1v1h-1zM70 63h1v1h-1zM82 63h1v1h-1zM96 65h1v1h-1zM101 66h1v1h-1zM88 68h1v1h-1zM69 69h1v1h-1zM75 76h1v1h-1zM82 81h1v1h-1zM94 82h1v1h-1zM77 83h1v1h-1zM75 85h1v1h-1z"/><path fill="#108010" d="M92 3h1v1h-1zM93 3h1v1h-1zM85 6h1v1h-1zM78 7h1v1h-1zM95 7h1v1h-1zM76 10h1v1h-1zM97 11h1v1h-1zM70 13h1v1h-1zM98 14h1v1h-1zM76 17h1v1h-1zM101 18h1v1h-1zM102 18h1v1h-1zM73 19h1v1h-1zM82 19h1v1h-1zM101 19h1v1h-1zM72 20h1v1h-1zM90 21h1v1h-1zM76 24h1v1h-1zM79 30h1v1h-1zM80 30h1v1h-1zM79 32h1v1h-1zM79 34h1v1h-1zM97 37h1v1h-1zM101 38h1v1h-1zM78 40h1v1h-1zM79 42h1v1h-1zM72 43h1v1h-1zM68 44h1v1h-1zM96 45h1v1h-1zM100 46h1v1h-1zM96 49h1v1h-1zM97 49h1v1h-1zM99 50h1v1h-1zM93 55h1v1h-1zM96 55h1v1h-1zM98 57h1v1h-1zM84 58h1v1h-1zM101 58h1v1h-1zM82 59h1v1h-1zM101 59h1v1h-1zM102 59h1v1h-1zM79 60h1v1h-1zM96 63h1v1h-1zM101 63h1v1h-1zM101 64h1v1h-1zM79 66h1v1h-1zM80 66h1v1h-1zM90 68h1v1h-1zM92 70h1v1h-1zM80 72h1v1h-1zM91 72h1v1h-1zM85 73h1v1h-1zM88 73h1v1h-1zM77 82h1v1h-1zM96 85h1v1h-1z"/><path fill="#002800" d="M70 5h1v1h-1zM73 5h1v1h-1zM100 5h1v1h-1zM74 8h1v1h-1zM74 13h1v1h-1zM100 16h1v1h-1zM72 17h1v1h-1zM93 19h1v1h-1zM67 21h1v1h-1zM73 21h1v1h-1zM81 21h1v1h-1zM81 25h1v1h-1zM86 25h1v1h-1zM88 27h1v1h-1zM99 28h1v1h-1zM79 29h1v1h-1zM88 30h1v1h-1zM73 33h1v1h-1zM99 35h1v1h-1zM68 39h1v1h-1zM98 41h1v1h-1zM99 41h1v1h-1zM70 42h1v1h-1zM82 43h1v1h-1zM86 43h1v1h-1zM88 43h1v1h-1zM82 48h1v1h-1zM69 50h1v1h-1zM93 50h1v1h-1zM99 51h1v1h-1zM101 53h1v1h-1zM77 54h1v1h-1zM91 54h1v1h-1zM97 54h1v1h-1zM89 56h1v1h-1zM77 57h1v1h-1zM90 57h1v1h-1zM91 57h1v1h-1zM79 58h1v1h-1zM94 59h1v1h-1zM70 60h1v1h-1zM100 62h1v1h-1zM80 64h1v1h-1zM69 66h1v1h-1zM72 66h1v1h-1zM93 66h1v1h-1zM97 66h1v1h-1zM94 67h1v1h-1zM82 68h1v1h-1zM93 68h1v1h-1zM97 70h1v1h-1zM74 71h1v1h-1zM85 72h1v1h-1zM96 72h1v1h-1zM84 74h1v1h-1zM99 74h1v1h-1zM96 75h1v1h-1zM74 76h1v1h-1zM101 76h1v1h-1zM67 79h1v1h-1zM70 79h1v1h-1zM98 79h1v1h-1zM75 80h1v1h-1zM102 82h1v1h-1zM67 84h1v1h-1z"/><path fill="#14b414" d="M72 8h1v1h-1zM73 9h1v1h-1zM67 11h1v1h-1zM76 13h1v1h-1zM80 18h1v1h-1zM84 18h1v1h-1zM81 23h1v1h-1zM84 24h1v1h-1zM81 26h1v1h-1zM97 27h1v1h-1zM67 28h1v1h-1zM78 29h1v1h-1zM88 29h1v1h-1zM92 30h1v1h-1zM72 31h1v1h-1zM92 36h1v1h-1zM75 38h1v1h-1zM90 38h1v1h-1zM82 39h1v1h-1zM84 41h1v1h-1zM101 41h1v1h-1zM100 42h1v1h-1zM100 43h1v1h-1zM72 46h1v1h-1zM75 46h1v1h-1zM77 49h1v1h-1zM101 51h1v1h-1zM73 53h1v1h-1zM74 53h1v1h-1zM77 53h1v1h-1zM82 53h1v1h-1zM67 55h1v1h-1zM75 55h1v1h-1zM85 55h1v1h-1zM92 55h1v1h-1zM68 56h1v1h-1zM71 56h1v1h-1zM78 58h1v1h-1zM98 58h1v1h-1zM89 62h1v1h-1zM90 62h1v1h-1zM88 63h1v1h-1zM71 64h1v1h-1zM76 66h1v1h-1zM78 67h1v1h-1zM81 67h1v1h-1zM72 68h1v1h-1zM94 68h1v1h-1zM101 68h1v1h-1zM75 69h1v1h-1zM85 70h1v1h-1zM98 70h1v1h-1zM75 71h1v1h-1zM77 71h1v1h-1zM97 72h1v1h-1zM101 73h1v1h-1zM95 74h1v1h-1zM92 75h1v1h-1zM92 76h1v1h-1zM93 76h1v1h-1zM83 77h1v1h-1zM76 78h1v1h-1zM77 79h1v1h-1zM72 80h1v1h-1zM69 81h1v1h-1zM99 81h1v1h-1zM92 82h1v1h-1zM73 83h1v1h-1zM70 84h1v1h-1zM89 84h1v1h-1zM85 85h1v1h-1z"/></g></g><use href="#hmg" filter="url(#bl)" opacity="0.55"/><text x="492.4" y="343.63" font-size="3.6" font-weight="bold" letter-spacing="0.6" fill="#181824" stroke="#181824" stroke-width="0.18">SESN1</text><text x="492.4" y="347.40" font-size="3.6" font-weight="bold" letter-spacing="0.6" fill="#181824" stroke="#181824" stroke-width="0.18">TNFRSF10B</text><text x="492.4" y="351.18" font-size="3.6" font-weight="bold" letter-spacing="0.6" fill="#181824" stroke="#181824" stroke-width="0.18">TRIM22</text><text x="492.4" y="354.94" font-size="3.6" font-weight="bold" letter-spacing="0.6" fill="#181824" stroke="#181824" stroke-width="0.18">TRIM22</text><text x="492.4" y="358.71" font-size="3.6" font-weight="bold" letter-spacing="0.6" fill="#181824" stroke="#181824" stroke-width="0.18">AGRN</text><text x="492.4" y="362.49" font-size="3.6" font-weight="bold" letter-spacing="0.6" fill="#181824" stroke="#181824" stroke-width="0.18">XPC</text><text x="492.4" y="366.25" font-size="3.6" font-weight="bold" letter-spacing="0.6" fill="#181824" stroke="#181824" stroke-width="0.18">FDXR</text><text x="492.4" y="370.02" font-size="3.6" font-weight="bold" letter-spacing="0.6" fill="#181824" stroke="#181824" stroke-width="0.18">MDM2</text><text x="492.4" y="373.80" font-size="3.6" font-weight="bold" letter-spacing="0.6" fill="#181824" stroke="#181824" stroke-width="0.18">LOC387763</text><text x="492.4" y="377.56" font-size="3.6" font-weight="bold" letter-spacing="0.6" fill="#181824" stroke="#181824" stroke-width="0.18">DDB2</text><text x="492.4" y="381.33" font-size="3.6" font-weight="bold" letter-spacing="0.6" fill="#181824" stroke="#181824" stroke-width="0.18">CDIP1</text><text x="492.4" y="385.11" font-size="3.6" font-weight="bold" letter-spacing="0.6" fill="#181824" stroke="#181824" stroke-width="0.18">STAT1</text><text x="492.4" y="388.88" font-size="3.6" font-weight="bold" letter-spacing="0.6" fill="#181824" stroke="#181824" stroke-width="0.18">PHLDA3</text><text x="492.4" y="392.64" font-size="3.6" font-weight="bold" letter-spacing="0.6" fill="#181824" stroke="#181824" stroke-width="0.18">SPATA18</text><text x="492.4" y="396.42" font-size="3.6" font-weight="bold" letter-spacing="0.6" fill="#181824" stroke="#181824" stroke-width="0.18">RRM2B</text><text x="492.4" y="400.19" font-size="3.6" font-weight="bold" letter-spacing="0.6" fill="#181824" stroke="#181824" stroke-width="0.18">CCNG1</text><text x="492.4" y="403.95" font-size="3.6" font-weight="bold" letter-spacing="0.6" fill="#181824" stroke="#181824" stroke-width="0.18">PLK3</text><text x="492.4" y="407.73" font-size="3.6" font-weight="bold" letter-spacing="0.6" fill="#181824" stroke="#181824" stroke-width="0.18">BBC3</text><text x="492.4" y="411.50" font-size="3.6" font-weight="bold" letter-spacing="0.6" fill="#181824" stroke="#181824" stroke-width="0.18">ZMAT3</text><text x="492.4" y="415.26" font-size="3.6" font-weight="bold" letter-spacing="0.6" fill="#181824" stroke="#181824" stroke-width="0.18">APAF1</text><text x="492.4" y="419.03" font-size="3.6" font-weight="bold" letter-spacing="0.6" fill="#181824" stroke="#181824" stroke-width="0.18">TP53I3</text><text x="492.4" y="422.81" font-size="3.6" font-weight="bold" letter-spacing="0.6" fill="#181824" stroke="#181824" stroke-width="0.18">BAX</text><text x="492.4" y="426.57" font-size="3.6" font-weight="bold" letter-spacing="0.6" fill="#181824" stroke="#181824" stroke-width="0.18">GDF15</text><text x="492.4" y="430.35" font-size="3.6" font-weight="bold" letter-spacing="0.6" fill="#181824" stroke="#181824" stroke-width="0.18">TNFRSF10D</text><text x="492.4" y="434.12" font-size="3.6" font-weight="bold" letter-spacing="0.6" fill="#181824" stroke="#181824" stroke-width="0.18">POLH</text><text x="492.4" y="437.88" font-size="3.6" font-weight="bold" letter-spacing="0.6" fill="#181824" stroke="#181824" stroke-width="0.18">RPS27L</text><text x="492.4" y="441.65" font-size="3.6" font-weight="bold" letter-spacing="0.6" fill="#181824" stroke="#181824" stroke-width="0.18">ACTA2</text><text x="492.4" y="445.43" font-size="3.6" font-weight="bold" letter-spacing="0.6" fill="#181824" stroke="#181824" stroke-width="0.18">CD82</text><text x="492.4" y="449.19" font-size="3.6" font-weight="bold" letter-spacing="0.6" fill="#181824" stroke="#181824" stroke-width="0.18">SERTAD1</text><text x="492.4" y="452.97" font-size="3.6" font-weight="bold" letter-spacing="0.6" fill="#181824" stroke="#181824" stroke-width="0.18">TRIAP1</text><text x="492.4" y="456.74" font-size="3.6" font-weight="bold" letter-spacing="0.6" fill="#181824" stroke="#181824" stroke-width="0.18">AEN</text><text x="492.4" y="460.50" font-size="3.6" font-weight="bold" letter-spacing="0.6" fill="#181824" stroke="#181824" stroke-width="0.18">PPM1D</text><text x="492.4" y="464.27" font-size="3.6" font-weight="bold" letter-spacing="0.6" fill="#181824" stroke="#181824" stroke-width="0.18">FAS</text><text x="492.4" y="468.05" font-size="3.6" font-weight="bold" letter-spacing="0.6" fill="#181824" stroke="#181824" stroke-width="0.18">DRAM1</text><text x="492.4" y="471.81" font-size="3.6" font-weight="bold" letter-spacing="0.6" fill="#181824" stroke="#181824" stroke-width="0.18">KIAA1217</text><text x="492.4" y="475.59" font-size="3.6" font-weight="bold" letter-spacing="0.6" fill="#181824" stroke="#181824" stroke-width="0.18">C14orf45</text><text x="492.4" y="479.36" font-size="3.6" font-weight="bold" letter-spacing="0.6" fill="#181824" stroke="#181824" stroke-width="0.18">GLS2</text><text x="492.4" y="483.12" font-size="3.6" font-weight="bold" letter-spacing="0.6" fill="#181824" stroke="#181824" stroke-width="0.18">BTG2</text><text x="492.4" y="486.89" font-size="3.6" font-weight="bold" letter-spacing="0.6" fill="#181824" stroke="#181824" stroke-width="0.18">PRKAB1</text><text x="492.4" y="490.66" font-size="3.6" font-weight="bold" letter-spacing="0.6" fill="#181824" stroke="#181824" stroke-width="0.18">CDKN1A</text><text x="492.4" y="494.44" font-size="3.6" font-weight="bold" letter-spacing="0.6" fill="#181824" stroke="#181824" stroke-width="0.18">EDA2R</text><text x="492.4" y="498.21" font-size="3.6" font-weight="bold" letter-spacing="0.6" fill="#181824" stroke="#181824" stroke-width="0.18">TP53INP1</text><text x="492.4" y="501.98" font-size="3.6" font-weight="bold" letter-spacing="0.6" fill="#181824" stroke="#181824" stroke-width="0.18">ASCC3</text><text x="492.4" y="505.75" font-size="3.6" font-weight="bold" letter-spacing="0.6" fill="#181824" stroke="#181824" stroke-width="0.18">ZNF79</text><text x="492.4" y="509.51" font-size="3.6" font-weight="bold" letter-spacing="0.6" fill="#181824" stroke="#181824" stroke-width="0.18">IER5</text><text x="492.4" y="513.28" font-size="3.6" font-weight="bold" letter-spacing="0.6" fill="#181824" stroke="#181824" stroke-width="0.18">PANK1</text><text x="492.4" y="517.06" font-size="3.6" font-weight="bold" letter-spacing="0.6" fill="#181824" stroke="#181824" stroke-width="0.18">SYTL1</text><text x="492.4" y="520.83" font-size="3.6" font-weight="bold" letter-spacing="0.6" fill="#181824" stroke="#181824" stroke-width="0.18">RAP2B</text><text x="492.4" y="524.60" font-size="3.6" font-weight="bold" letter-spacing="0.6" fill="#181824" stroke="#181824" stroke-width="0.18">C16orf74</text><text x="492.4" y="528.37" font-size="3.6" font-weight="bold" letter-spacing="0.6" fill="#181824" stroke="#181824" stroke-width="0.18">PRDM1</text><text x="492.4" y="532.13" font-size="3.6" font-weight="bold" letter-spacing="0.6" fill="#181824" stroke="#181824" stroke-width="0.18">TIGAR</text><text x="492.4" y="535.90" font-size="3.6" font-weight="bold" letter-spacing="0.6" fill="#181824" stroke="#181824" stroke-width="0.18">PGF</text><text x="492.4" y="539.67" font-size="3.6" font-weight="bold" letter-spacing="0.6" fill="#181824" stroke="#181824" stroke-width="0.18">EPS8L2</text><text x="492.4" y="543.44" font-size="3.6" font-weight="bold" letter-spacing="0.6" fill="#181824" stroke="#181824" stroke-width="0.18">DCP1B</text><text x="492.4" y="547.22" font-size="3.6" font-weight="bold" letter-spacing="0.6" fill="#181824" stroke="#181824" stroke-width="0.18">NINJ1</text><text x="492.4" y="550.99" font-size="3.6" font-weight="bold" letter-spacing="0.6" fill="#181824" stroke="#181824" stroke-width="0.18">SCN3B</text><text x="492.4" y="554.75" font-size="3.6" font-weight="bold" letter-spacing="0.6" fill="#181824" stroke="#181824" stroke-width="0.18">ABHD4</text><text x="492.4" y="558.52" font-size="3.6" font-weight="bold" letter-spacing="0.6" fill="#181824" stroke="#181824" stroke-width="0.18">CEL</text><text x="492.4" y="562.29" font-size="3.6" font-weight="bold" letter-spacing="0.6" fill="#181824" stroke="#181824" stroke-width="0.18">GPR87</text><text x="492.4" y="566.07" font-size="3.6" font-weight="bold" letter-spacing="0.6" fill="#181824" stroke="#181824" stroke-width="0.18">ANKRA2</text><text x="492.4" y="569.84" font-size="3.6" font-weight="bold" letter-spacing="0.6" fill="#181824" stroke="#181824" stroke-width="0.18">FBXW7</text><text x="492.4" y="573.61" font-size="3.6" font-weight="bold" letter-spacing="0.6" fill="#181824" stroke="#181824" stroke-width="0.18">RNF19B</text><text x="492.4" y="577.38" font-size="3.6" font-weight="bold" letter-spacing="0.6" fill="#181824" stroke="#181824" stroke-width="0.18">TMEM68</text><text x="492.4" y="581.14" font-size="3.6" font-weight="bold" letter-spacing="0.6" fill="#181824" stroke="#181824" stroke-width="0.18">KITLG</text><text x="492.4" y="584.91" font-size="3.6" font-weight="bold" letter-spacing="0.6" fill="#181824" stroke="#181824" stroke-width="0.18">CMBL</text><text x="492.4" y="588.68" font-size="3.6" font-weight="bold" letter-spacing="0.6" fill="#181824" stroke="#181824" stroke-width="0.18">DGKA</text><text x="492.4" y="592.46" font-size="3.6" font-weight="bold" letter-spacing="0.6" fill="#181824" stroke="#181824" stroke-width="0.18">CYFIP2</text><text x="492.4" y="596.23" font-size="3.6" font-weight="bold" letter-spacing="0.6" fill="#181824" stroke="#181824" stroke-width="0.18">TAP1</text><text x="492.4" y="600.00" font-size="3.6" font-weight="bold" letter-spacing="0.6" fill="#181824" stroke="#181824" stroke-width="0.18">ISG20L1</text><text x="492.4" y="603.76" font-size="3.6" font-weight="bold" letter-spacing="0.6" fill="#181824" stroke="#181824" stroke-width="0.18">ACER2</text><text x="492.4" y="607.54" font-size="3.6" font-weight="bold" letter-spacing="0.6" fill="#181824" stroke="#181824" stroke-width="0.18">SESN2</text><text x="492.4" y="611.31" font-size="3.6" font-weight="bold" letter-spacing="0.6" fill="#181824" stroke="#181824" stroke-width="0.18">TNFRSF10C</text><text x="492.4" y="615.08" font-size="3.6" font-weight="bold" letter-spacing="0.6" fill="#181824" stroke="#181824" stroke-width="0.18">CDC25A</text><text x="492.4" y="618.85" font-size="3.6" font-weight="bold" letter-spacing="0.6" fill="#181824" stroke="#181824" stroke-width="0.18">PRPF4</text><text x="492.4" y="622.62" font-size="3.6" font-weight="bold" letter-spacing="0.6" fill="#181824" stroke="#181824" stroke-width="0.18">CKAP5</text><text x="492.4" y="626.38" font-size="3.6" font-weight="bold" letter-spacing="0.6" fill="#181824" stroke="#181824" stroke-width="0.18">DHFR</text><text x="492.4" y="630.15" font-size="3.6" font-weight="bold" letter-spacing="0.6" fill="#181824" stroke="#181824" stroke-width="0.18">CDC6</text><text x="492.4" y="633.92" font-size="3.6" font-weight="bold" letter-spacing="0.6" fill="#181824" stroke="#181824" stroke-width="0.18">SGOL2</text><text x="492.4" y="637.69" font-size="3.6" font-weight="bold" letter-spacing="0.6" fill="#181824" stroke="#181824" stroke-width="0.18">C15orf23</text><text x="492.4" y="641.46" font-size="3.6" font-weight="bold" letter-spacing="0.6" fill="#181824" stroke="#181824" stroke-width="0.18">FAM64A</text><text x="492.4" y="645.24" font-size="3.6" font-weight="bold" letter-spacing="0.6" fill="#181824" stroke="#181824" stroke-width="0.18">NCAPG</text><text x="492.4" y="649.00" font-size="3.6" font-weight="bold" letter-spacing="0.6" fill="#181824" stroke="#181824" stroke-width="0.18">TOP2A</text><text x="492.4" y="652.77" font-size="3.6" font-weight="bold" letter-spacing="0.6" fill="#181824" stroke="#181824" stroke-width="0.18">C13orf34</text><text x="492.4" y="656.55" font-size="3.6" font-weight="bold" letter-spacing="0.6" fill="#181824" stroke="#181824" stroke-width="0.18">NEK2</text><text x="492.4" y="660.32" font-size="3.6" font-weight="bold" letter-spacing="0.6" fill="#181824" stroke="#181824" stroke-width="0.18">KIF4A</text><text x="492.4" y="664.09" font-size="3.6" font-weight="bold" letter-spacing="0.6" fill="#181824" stroke="#181824" stroke-width="0.18">LMNB1</text>
</svg>
</body></html>
